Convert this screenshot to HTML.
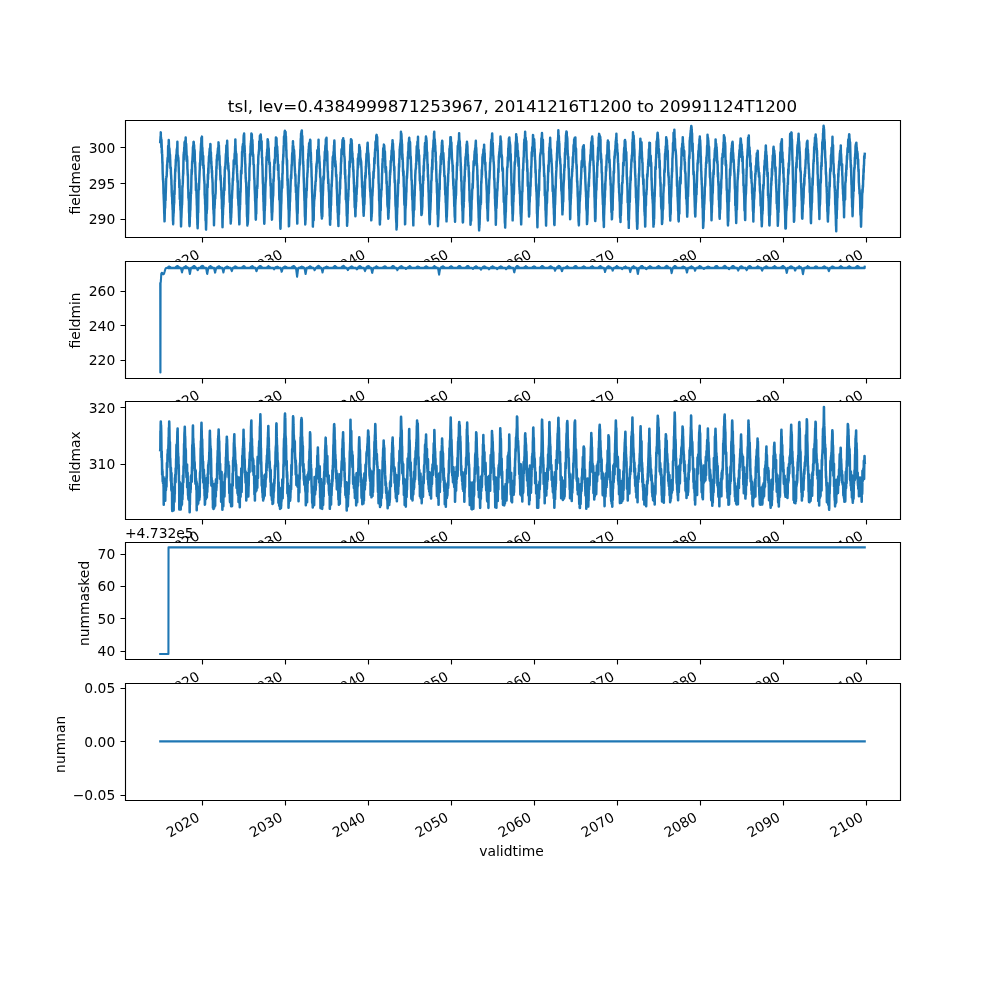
<!DOCTYPE html>
<html><head><meta charset="utf-8"><title>tsl</title><style>html,body{margin:0;padding:0;background:#fff}svg{display:block}</style></head><body>
<svg width="1000" height="1000" viewBox="0 0 1000 1000">
<g transform="scale(1.3888889)" style="stroke-linejoin:round;stroke-linecap:butt">
 <g id="figure_1">
  <g id="patch_1">
   <path d="M 0 720 L 720 720 L 720 0 L 0 0z" style="fill: #ffffff"/>
  </g>
  <g id="axes_1">
   <g id="patch_2">
    <path d="M 90 170.813793 L 648 170.813793 L 648 86.4 L 90 86.4z" style="fill: #ffffff"/>
   </g>
   <g id="matplotlib.axis_1">
    <g id="xtick_1">
     <g id="text_1">
      <g transform="translate(0.000 0.792)"><text style="font-size: 10px; font-family: 'DejaVu Sans', 'Liberation Sans', sans-serif" transform="translate(122.393771 197.119233) rotate(-30)">2020</text></g>
     </g>
    </g>
    <g id="xtick_2">
     <g id="text_2">
      <g transform="translate(0.000 0.792)"><text style="font-size: 10px; font-family: 'DejaVu Sans', 'Liberation Sans', sans-serif" transform="translate(182.123892 197.119233) rotate(-30)">2030</text></g>
     </g>
    </g>
    <g id="xtick_3">
     <g id="text_3">
      <g transform="translate(0.000 0.792)"><text style="font-size: 10px; font-family: 'DejaVu Sans', 'Liberation Sans', sans-serif" transform="translate(241.837662 197.119233) rotate(-30)">2040</text></g>
     </g>
    </g>
    <g id="xtick_4">
     <g id="text_4">
      <g transform="translate(0.000 0.792)"><text style="font-size: 10px; font-family: 'DejaVu Sans', 'Liberation Sans', sans-serif" transform="translate(301.567783 197.119233) rotate(-30)">2050</text></g>
     </g>
    </g>
    <g id="xtick_5">
     <g id="text_5">
      <g transform="translate(0.000 0.792)"><text style="font-size: 10px; font-family: 'DejaVu Sans', 'Liberation Sans', sans-serif" transform="translate(361.281553 197.119233) rotate(-30)">2060</text></g>
     </g>
    </g>
    <g id="xtick_6">
     <g id="text_6">
      <g transform="translate(0.000 0.792)"><text style="font-size: 10px; font-family: 'DejaVu Sans', 'Liberation Sans', sans-serif" transform="translate(421.011674 197.119233) rotate(-30)">2070</text></g>
     </g>
    </g>
    <g id="xtick_7">
     <g id="text_7">
      <g transform="translate(0.000 0.792)"><text style="font-size: 10px; font-family: 'DejaVu Sans', 'Liberation Sans', sans-serif" transform="translate(480.725444 197.119233) rotate(-30)">2080</text></g>
     </g>
    </g>
    <g id="xtick_8">
     <g id="text_8">
      <g transform="translate(0.000 0.792)"><text style="font-size: 10px; font-family: 'DejaVu Sans', 'Liberation Sans', sans-serif" transform="translate(540.455565 197.119233) rotate(-30)">2090</text></g>
     </g>
    </g>
    <g id="xtick_9">
     <g id="text_9">
      <g transform="translate(0.000 0.792)"><text style="font-size: 10px; font-family: 'DejaVu Sans', 'Liberation Sans', sans-serif" transform="translate(600.169335 197.119233) rotate(-30)">2100</text></g>
     </g>
    </g>
    <g id="text_10">
     <g transform="translate(-0.648 0.720)"><text style="font-size: 10px; font-family: 'DejaVu Sans', 'Liberation Sans', sans-serif; text-anchor: middle" x="369" y="210.518733" transform="rotate(-0 369 210.518733)">validtime</text></g>
    </g>
   </g>
   <g id="matplotlib.axis_2">
    <g id="ytick_1">
     <g id="text_11">
      <text style="font-size: 10px; font-family: 'DejaVu Sans', 'Liberation Sans', sans-serif; text-anchor: end" x="83" y="161.551219" transform="rotate(-0 83 161.551219)">290</text>
     </g>
    </g>
    <g id="ytick_2">
     <g id="text_12">
      <text style="font-size: 10px; font-family: 'DejaVu Sans', 'Liberation Sans', sans-serif; text-anchor: end" x="83" y="135.739219" transform="rotate(-0 83 135.739219)">295</text>
     </g>
    </g>
    <g id="ytick_3">
     <g id="text_13">
      <text style="font-size: 10px; font-family: 'DejaVu Sans', 'Liberation Sans', sans-serif; text-anchor: end" x="83" y="109.927219" transform="rotate(-0 83 109.927219)">300</text>
     </g>
    </g>
    <g id="text_14">
     <g transform="translate(0.000 0.864)"><text style="font-size: 10px; font-family: 'DejaVu Sans', 'Liberation Sans', sans-serif; text-anchor: middle" x="57.832812" y="128.606897" transform="rotate(-90 57.832812 128.606897)">fieldmean</text></g>
    </g>
   </g>
   <g id="line2d_13">
    <path d="M115.36 102.24l.09-1.48 .08-.66 .08-1.84 .08 3.2 .08-6.16 .08 6.66 .09-2.89 .08 2.18 .08 .16 .08 4.53 .08-5.38 .09 2.88 .08 1.75 .08 4.87 .08-2.21 .08 2.4 .08 .42 .09 3.36 .08 3.56 .08-1.18 .08 5.88 .08 2.82 .09 1.52 .08 2.87 .08-.97 .08 2.48 .08 .65 .08 3.31 .09 4.49 .08 .5 .08 2.52 .08 1.92 .08 2.02 .09 2.8 .08 4.11 .08 .71 .08 3.28 .08 2.04 .09-2.56 .08-4.1 .08-4.09 .08-2.26 .08 3.37 .08-3.66 .09-3.9 .08-.65 .08 2.79 .08-4.54 .08-1.55 .09-2.31 .08-3.29 .08-3.88 .08-.61 .08-.93 .08 .42 .09-.31 .08-.86 .08-2.64 .08-.47 .08-4.62 .09 1.99 .08-1.79 .08-3.16 .08-.1 .08-2 .08 1.26 .09 .58 .08 1 .08-8.1 .08-3.36 .08 .4 .09 1.06 .08 1.43 .08-1.19 .08-5.91 .08 1.42 .08 3.37 .09 .41 .08 1.81 .08-.99 .08 .31 .08 1.59 .09 1.68 .08 .81 .08 .84 .08-.65 .08 2.89 .08 1.26 .09 3.5 .08 2.24 .08-.51 .08-.39 .08 .32 .09 3.48 .08 1.48 .08 .69 .08 2.21 .08 .45 .08 4.22 .09 .1 .08 4.92 .08 1.09 .08 2.04 .08-1.71 .09 3.5 .08 3.72 .08-1.14 .08 2.47 .08 2.82 .09-.78 .08 4.79 .08 4.11 .08-.99 .08 3.19 .08-5.27 .09-.42 .08-5.03 .08 2.86 .08-2.05 .08-3.05 .09-4.05 .08 1.73 .08 .71 .08-9.46 .08 2.29 .08 .29 .09-4 .08-5.93 .08 1.32 .08-3.05 .08-3.09 .09-3.52 .08 1.63 .08 0 .08-4.1 .08 .15 .08-4.52 .09 1.85 .08-1.89 .08-1.95 .08-1.23 .08 .99 .09-.61 .08-1.32 .08-1.88 .08-1.29 .08 .26 .08-1.2 .09 1.18 .08-1.18 .08-4.48 .08 6.68 .08 5.34 .09-1.37 .08-.91 .08 .37 .08 .97 .08 1.45 .08-1.12 .09 1.86 .08 .53 .08 3.88 .08 1.12 .08 3.16 .09 .68 .08 3.88 .08 .75 .08 5.75 .08-5.8 .08 2.05 .09 5.32 .08 6.59 .08-2.57 .08 1.11 .08 1.13 .09 5.13 .08-.47 .08 3.35 .08 .32 .08-.57 .09 4.68 .08 3.37 .08 4.25 .08-1.85 .08-4.1 .08-.27 .09-2.27 .08-2.14 .08-2.94 .08 .26 .08-3.08 .09 .9 .08-2.84 .08-3.32 .08-7.46 .08 1.05 .08-1.38 .09-.92 .08-1.07 .08-4.76 .08-.13 .08-4.27 .09 2.92 .08-7.34 .08-4.46 .08-2.29 .08-.13 .08-1.54 .09 5.24 .08-4.16 .08-4.47 .08 3.05 .08-3.5 .09-3.33 .08 2.8 .08-.3 .08-3.03 .08 2.43 .08-2.52 .09 1.91 .08-2.25 .08 2.25 .08-1.8 .08-2.91 .09 7.66 .08-3.33 .08 .38 .08-.22 .08 1.82 .08 2.41 .09 1.59 .08 2.45 .08 4.24 .08-1.76 .08-1.97 .09 .54 .08 2.43 .08-.25 .08 6.55 .08 .49 .08 1.82 .09 2.55 .08-.89 .08 2.2 .08 5.44 .08 3.05 .09 .1 .08 6.36 .08-3.25 .08 2.49 .08 2.54 .09-3.26 .08 10.74 .08 1.62 .08-1.02 .08 7.94 .08 .95 .09 1.5 .08-1.42 .08-1.56 .08-5.6 .08 1.7 .09-3.5 .08-1.55 .08 .33 .08-3.37 .08-2.62 .08-2.27 .09-4.37 .08 .58 .08 .36 .08-2.95 .08-2.01 .09-5.8 .08-3.16 .08-3.52 .08 3.47 .08-3.26 .08 1.41 .09-5.38 .08-2.07 .08-.53 .08 .66 .08-2.58 .09-1.41 .08-1.72 .08-1.01 .08-3.9 .08 .62 .08-1.03 .09-.66 .08 .42 .08-2.93 .08-.13 .08 .26 .09 2.28 .08 2.16 .08-2.41 .08 3.28 .08 5.07 .08-5.22 .09 .53 .08 .97 .08 2.59 .08 6 .08-.49 .09-.61 .08 3.79 .08-.24 .08 4.88 .08 1.07 .09 4 .08-1.84 .08 8.79 .08-.54 .08 .86 .08 .18 .09 .04 .08 1.18 .08 3.49 .08 1.22 .08 4.29 .09 .55 .08 4.89 .08 3.91 .08-.76 .08 5.47 .08 .26 .09 2.29 .08-3.11 .08-1.08 .08-6.52 .08-1.75 .09 1.3 .08-5.59 .08-6.44 .08-3.39 .08-3.82 .08-1.84 .09 1.69 .08 2.85 .08-4.18 .08-1.04 .08-2.6 .09-1.87 .08-2.25 .08-1.96 .08-.44 .08-4.84 .08 2.07 .09-.57 .08-3.63 .08 .01 .08-4.21 .08-1.92 .09 .05 .08-1.54 .08-1.81 .08-1.79 .08-.99 .08 2.33 .09-6.07 .08 2.5 .08-.78 .08 2.7 .08 .92 .09-6.34 .08 5.82 .08 1.97 .08 .65 .08-.17 .08 3.56 .09-.83 .08 5.44 .08-.14 .08 4.25 .08-4.06 .09-2.52 .08 5.53 .08 3.13 .08 .29 .08-2.27 .09 2.72 .08 4.34 .08 .84 .08 1.59 .08 1.6 .08 .1 .09 2.14 .08 .03 .08 8.26 .08-.87 .08 3.11 .09-.9 .08 5 .08-2.8 .08 6.54 .08 1.45 .08 6.54 .09-3.89 .08 3.12 .08 3.07 .08 4.31 .08-2.58 .09-2.17 .08-7.12 .08-1.03 .08 .92 .08 .2 .08-4.46 .09 2.13 .08-1.42 .08-5.9 .08-8.51 .08-2.83 .09-.14 .08 2.72 .08-2.18 .08-7.26 .08 .41 .08 2.92 .09-4.56 .08-3.48 .08 3.86 .08-4.17 .08-3.56 .09-.36 .08-1.79 .08-2.46 .08 1.91 .08-.38 .08-1.48 .09-3.25 .08 .99 .08-2.89 .08-.39 .08 .59 .09-.66 .08 2.79 .08-1.5 .08-4.6 .08 .21 .08 6.17 .09-.96 .08 1.97 .08-1.3 .08 4.41 .08-.74 .09 4.65 .08-1.89 .08 3.92 .08 1.31 .08-1.6 .09 4.5 .08-1.8 .08 .7 .08 4.74 .08-.21 .08 1.2 .09 2.17 .08 .53 .08 5.9 .08 2.28 .08 .58 .09 1.43 .08 3.03 .08 5.21 .08 1.14 .08-1.27 .08 3.77 .09 .67 .08 1.43 .08 6.37 .08-4.08 .08-3.14 .09-5.47 .08-1.82 .08 2.22 .08-2.97 .08 .46 .08-4.59 .09-1.93 .08 1.34 .08 1 .08-2.7 .08-.69 .09-.23 .08-2.61 .08-6.2 .08-1.32 .08 .14 .08-3.23 .09-.16 .08-5.44 .08-1.09 .08 1.7 .08-6.35 .09-.48 .08 1.4 .08-4.04 .08 1.78 .08-2.01 .08-.26 .09-.68 .08 .12 .08-2.21 .08 .13 .08-2 .09 1.36 .08 2.46 .08-2.89 .08-1.41 .08-3.75 .08 3.63 .09-1.44 .08-.03 .08 3.57 .08 1 .08 3.04 .09 2.47 .08-2.74 .08 1.37 .08 4.87 .08 .77 .09 .63 .08 2.48 .08-2.34 .08 2.97 .08 3.75 .08 2.81 .09-3.22 .08 1.32 .08 3.03 .08 .76 .08 1.29 .09 4.05 .08 .37 .08-1.67 .08 5.47 .08 1.46 .08 1.18 .09-.03 .08 7.01 .08-3.34 .08 1.47 .08 5.01 .09 6.36 .08 3.71 .08-5.01 .08-1.5 .08-4.75 .08 2.59 .09-5.91 .08-.38 .08 1.12 .08-3.67 .08 1.18 .09-6 .08-.54 .08-.37 .08-3.51 .08 .96 .08-2.7 .09-6.82 .08 8.82 .08-5.42 .08-4.05 .08-5.68 .09 .33 .08-2.07 .08 .76 .08-1.27 .08 1.91 .08-3.96 .09-1.33 .08-1.53 .08-2.4 .08-1.58 .08 1.6 .09-.82 .08-3.94 .08-2.92 .08 .79 .08 2.46 .08-2.23 .09 2.73 .08-3.69 .08 1.32 .08-4.78 .08 3.25 .09 2.37 .08 3.3 .08 4.48 .08-1.36 .08 3.5 .09 .33 .08 1.77 .08-1.6 .08 4.54 .08-2.79 .08 3.6 .09-.83 .08 1.85 .08-.24 .08 3.23 .08 4.22 .09 1.78 .08-.88 .08 7.21 .08 1.28 .08 3.28 .08 2.01 .09-1.07 .08-1.7 .08 3.14 .08 7.17 .08-1.12 .09 5.18 .08 .08 .08 3.71 .08-4.77 .08 3.3 .08-2.74 .09-.08 .08-2.73 .08-.76 .08-3.38 .08-.44 .09-6.21 .08-2.26 .08 2.06 .08-2.1 .08-2.21 .08-1.71 .09-.15 .08-3.49 .08 .23 .08-4.05 .08-1.22 .09 1.66 .08-.21 .08-5.72 .08 1.43 .08-4.5 .08 1.54 .09-6.06 .08-1.08 .08 .2 .08 .07 .08 2.79 .09-.9 .08 .53 .08-1.25 .08-4.25 .08-1.92 .09 1.76 .08-2.16 .08-1.6 .08-3.52 .08 1.12 .08-5.84 .09 3.87 .08 .68 .08 4.43 .08-.5 .08 .8 .09 4.6 .08-2.97 .08 2.76 .08-3.09 .08 4.16 .08 2.96 .09 2.89 .08-1.9 .08 3.03 .08 2.05 .08 1.01 .09 1.82 .08 2.43 .08 1.83 .08-1.23 .08 .39 .08 9.46 .09 3.12 .08-4.89 .08 3.72 .08 2.96 .08 2.6 .09 .9 .08-.65 .08 2.8 .08 1.65 .08 3.31 .08 1.63 .09 2.25 .08 2.31 .08-.84 .08-6.97 .08-2.16 .09-2.85 .08 2.03 .08-3.53 .08 .73 .08-5.33 .08-2.03 .09-5.02 .08 2.8 .08-4.02 .08-5.07 .08-.99 .09-5.31 .08 1.99 .08-.23 .08-.85 .08 1.22 .08-4.63 .09-.19 .08-2.18 .08-2.84 .08-6.02 .08 3.67 .09-2.86 .08-.68 .08-3.86 .08 1.32 .08-.71 .09-1.11 .08-1.41 .08 1.48 .08-.29 .08-1.17 .08 4.76 .09-7.46 .08-2.41 .08-1.25 .08 3.41 .08-.64 .09-3.86 .08 2.76 .08 4.56 .08 4.45 .08-3.17 .08 2.01 .09 2.76 .08 .73 .08 4.14 .08 1.42 .08 2.41 .09-.19 .08 6.2 .08 .07 .08 4.26 .08-.91 .08 3.42 .09-.11 .08 .92 .08 2.43 .08 3.84 .08 2.53 .09 6.32 .08-2.1 .08 1.13 .08 8.16 .08 2.04 .08-3.03 .09 5.93 .08 3.13 .08-2.42 .08 1.77 .08-1.1 .09-.46 .08-1.39 .08-4.05 .08-1 .08-4.58 .08-4.74 .09-3.39 .08 .48 .08-6.91 .08 1.89 .08-4.83 .09-1.49 .08-.1 .08 .06 .08-8.29 .08-1.65 .08-.03 .09-2.72 .08 1.01 .08-7.31 .08 1.75 .08-.42 .09-2.04 .08 .59 .08-5.88 .08 2.23 .08-4.1 .09 .93 .08-2.76 .08 .85 .08-.47 .08-5.67 .08 .43 .09 .01 .08 .55 .08-.44 .08 6.09 .08-.97 .09 3.25 .08-2.88 .08-1.31 .08 2.93 .08 .24 .08 7.36 .09-1.38 .08 2.43 .08-1.25 .08 .34 .08 1.77 .09 2.47 .08 2.98 .08-.03 .08-.09 .08 .29 .08 3.46 .09 3.77 .08 2.24 .08 .97 .08 .34 .08 3.05 .09 3.26 .08 1.09 .08 2.04 .08 1.48 .08 4.19 .08-.17 .09 2.71 .08 2.75 .08 3.05 .08 4.1 .08 .99 .09-1.02 .08-6.74 .08 .94 .08 2.63 .08-7.3 .08-4.16 .09-.96 .08 1.05 .08-2.05 .08-4.17 .08-1.69 .09 .5 .08-1.88 .08 1.98 .08-3.67 .08-3.82 .08-1.87 .09-3.86 .08-3.76 .08 .16 .08-.31 .08-5.26 .09-.84 .08-.92 .08 .13 .08-2.03 .08-.01 .09-1.61 .08 .75 .08-6.58 .08 4.43 .08 .22 .08-3.58 .09-.51 .08-.86 .08-3.78 .08 .19 .08 .92 .09-1.17 .08 .82 .08-.93 .08 .3 .08-1.09 .08 1.22 .09 .96 .08 5.85 .08-.4 .08-1.92 .08 3.37 .09 .84 .08-4.9 .08 7.19 .08-.91 .08 5.54 .08-.29 .09 .1 .08 5.61 .08-1.13 .08 3.3 .08 3.93 .09 3.64 .08 2.98 .08 .8 .08 .07 .08 7.59 .08-1.42 .09 6.4 .08-1.19 .08 4.77 .08 3.03 .08-1.95 .09 4.08 .08 3.9 .08 2.85 .08 .41 .08-2.13 .08-3.97 .09-4.73 .08 1.41 .08-4.61 .08 1.02 .08-3.03 .09-5.91 .08-1.97 .08-2.52 .08-3.66 .08 .26 .08-3.54 .09 2 .08-2.43 .08-5.95 .08-1.4 .08-2.17 .09-4.84 .08 2.69 .08-.17 .08-1.16 .08-4.38 .09 .96 .08-3.34 .08 .59 .08 1.36 .08-3.87 .08-5.3 .09 .1 .08 2.28 .08 2.75 .08-3.71 .08 1.4 .09 1.99 .08 1.75 .08 2.3 .08-2.57 .08 1.07 .08 4.28 .09 .92 .08 1.31 .08 2.83 .08-.34 .08 1.81 .09-.22 .08-1.25 .08 .78 .08 4.37 .08 1.99 .08 .84 .09 3.61 .08-.22 .08 3.36 .08 2.1 .08 .2 .09-1.8 .08 8.92 .08 1.81 .08-4.55 .08 4.75 .08 4.73 .09 1.6 .08 3.68 .08-.77 .08 3.65 .08 2.11 .09-2.17 .08-2.12 .08-1.08 .08-.06 .08-4.49 .08-2.49 .09-.86 .08-2.16 .08-.85 .08-.79 .08-.24 .09-4.35 .08-7.33 .08 1.23 .08 .17 .08-2.24 .09-1.78 .08-6.64 .08 3.16 .08-1.8 .08-4.19 .08-.97 .09-1.26 .08 1.88 .08-.38 .08 1.09 .08-2.36 .09-5.93 .08-2.85 .08 3.86 .08 1.53 .08-4.1 .08-.24 .09-5.18 .08-3.22 .08 .09 .08 1.32 .08-.37 .09 .1 .08-.55 .08 3.2 .08 3.27 .08-1.32 .08 4.58 .09-3.57 .08-.17 .08 2.76 .08 .15 .08 4.3 .09-1.59 .08 4.76 .08 .15 .08 6.3 .08-3.4 .08 .6 .09 2.16 .08-3.12 .08 6.3 .08 3.12 .08 1.55 .09-1.73 .08 .82 .08 6.34 .08 4.81 .08 3.97 .08-2.64 .09 .34 .08 3.28 .08-1.1 .08 4.21 .08 6.08 .09 5.28 .08 .35 .08 4.66 .08 .43 .08-2.89 .08-3.5 .09-1.94 .08-3.16 .08-2.35 .08-3.46 .08-.66 .09-2.27 .08-5.52 .08-.61 .08-3.01 .08-5.05 .09 2.42 .08 1.73 .08 .96 .08-2.81 .08-7.57 .08 .65 .09-1.18 .08-8.41 .08 2.21 .08-.96 .08-2.48 .09-1.66 .08-2.13 .08 1.68 .08-4.88 .08-2.14 .08-1.18 .09-.7 .08-5.52 .08 4.25 .08-1.9 .08-.6 .09-1.69 .08-2.02 .08-1.63 .08-.11 .08-.41 .08 1.85 .09-.17 .08-.47 .08 5.16 .08-4.67 .08-.88 .09 4.26 .08 1.07 .08-2.1 .08 3.5 .08 1.34 .08 5.56 .09-.84 .08 4.57 .08 1.46 .08 .31 .08 1.92 .09 2.89 .08-3.61 .08 6 .08 1.91 .08 6.89 .08-1.62 .09 5.03 .08-4.71 .08 7.32 .08 2.89 .08 1.47 .09 2.45 .08 2.2 .08 3.92 .08 1.81 .08-1.28 .08 4.81 .09 8.61 .08-.19 .08-1.38 .08-3.79 .08-1.3 .09-1.8 .08-2.93 .08 .13 .08-5.21 .08-1.33 .09-.37 .08-3.12 .08-4.4 .08 1.16 .08-4.22 .08-1.46 .09-2.51 .08-.44 .08-1.99 .08-1.87 .08 .81 .09 1.56 .08-5.13 .08-.77 .08-3.13 .08-.96 .08 1.04 .09-2.86 .08-3.64 .08-1.79 .08-1.08 .08 .27 .09 1.33 .08-5.01 .08-1.52 .08-.78 .08-2.55 .08 5.42 .09-1.24 .08 4.55 .08-5.27 .08 4.72 .08-2.23 .09 .51 .08-.45 .08 .62 .08 .11 .08 4.16 .08-1.17 .09 2.79 .08 2.3 .08 3.14 .08 .73 .08 1.7 .09 1.99 .08 .52 .08 2.07 .08-1.16 .08 1.18 .08 7.36 .09-.57 .08-.53 .08 5.59 .08-.28 .08 .08 .09-.46 .08 5.97 .08-.81 .08 2.21 .08 4.62 .08 1.82 .09 1.33 .08 1.47 .08 4.77 .08 1.67 .08-7.09 .09-1.31 .08 1.12 .08-2.88 .08-6.19 .08-2.87 .09-2.68 .08-2.94 .08-1.68 .08 .05 .08-3.14 .08 .86 .09-2.63 .08-3.26 .08 .5 .08-2.28 .08-2.05 .09-.14 .08-2.19 .08-3.31 .08 .12 .08-2.37 .08 3.9 .09-3.65 .08-2.03 .08-1.28 .08-3.93 .08 .55 .09-3.43 .08-3.76 .08-1.38 .08 1.24 .08-4.8 .08 1.66 .09-2.07 .08 1.94 .08-3.05 .08 4.25 .08-1.15 .09-3.74 .08 6.13 .08-1.49 .08-.68 .08 .1 .08 4.55 .09 4.65 .08-1.83 .08-.28 .08 .91 .08 7.41 .09 4.26 .08-1.51 .08 2.97 .08 1.4 .08 1.98 .08 4.58 .09 2.11 .08 2.23 .08 1.2 .08 4.66 .08 1.03 .09 2.97 .08 3.28 .08-.06 .08 3.92 .08 3.24 .08 3.97 .09 .66 .08 1.41 .08 3.89 .08-1.02 .08-2.21 .09 .04 .08-4.33 .08-3.81 .08-1.27 .08-6.82 .09-1.79 .08 2.23 .08-2.06 .08-4.74 .08 1.47 .08 .05 .09-1.86 .08-3.27 .08-3.96 .08-.35 .08-.49 .09-2.94 .08 .1 .08-1.61 .08-1.47 .08-6.61 .08 3.68 .09 1.71 .08-4.96 .08-4.83 .08 2.2 .08-2.48 .09-2.67 .08 3.15 .08-5.34 .08 2.15 .08-4.22 .08 3.91 .09-1.34 .08-2.68 .08-.5 .08 .3 .08 .19 .09-.35 .08-.78 .08-1.38 .08 2.84 .08-2.47 .08 5.22 .09 2.5 .08 3.11 .08-2.07 .08 2.32 .08 3.6 .09 1.47 .08 .38 .08 3.32 .08 2.23 .08 4.47 .08-.3 .09 3.83 .08 3.04 .08 3.92 .08 1.44 .08 2.9 .09 2.54 .08 3.12 .08 3.03 .08 2.35 .08 9.75 .09-2.7 .08-1.32 .08-1.6 .08-1.38 .08 .08 .08 2.08 .09 .22 .08-4.12 .08-8.34 .08 2.52 .08-3.88 .09-.51 .08-2.57 .08 1.6 .08-2.74 .08 1.18 .08-1.2 .09-2.91 .08-1.18 .08 .52 .08-3.55 .08 .76 .09-2.67 .08-1.1 .08-.05 .08 .32 .08-2.47 .08-2.61 .09-.19 .08-5.75 .08 4.31 .08-5.75 .08 2.27 .09-3.13 .08 .66 .08-1.78 .08-.28 .08-3.08 .08-4.55 .09 3.55 .08-1.54 .08-1.11 .08-1 .08 5.12 .09-4.33 .08 .15 .08-3.57 .08 4.31 .08-3.44 .08-5.78 .09 10.53 .08-4.26 .08 4.48 .08 .91 .08 .87 .09-.84 .08 1.49 .08 3.65 .08-1.17 .08 1.82 .08 3.13 .09 .29 .08 .13 .08 5.32 .08 .56 .08 .44 .09 .02 .08 .85 .08 5.78 .08 3.43 .08-4.24 .09 3.43 .08 6.05 .08 6.67 .08 3.11 .08-.09 .08 2.44 .09-1.81 .08 3.78 .08-1.86 .08-1.99 .08-.19 .09 2.51 .08-3.71 .08-3.69 .08-3.61 .08-5.12 .08 1.12 .09-3.08 .08-1.09 .08-4.16 .08-.47 .08-5.06 .09 1.52 .08 1.06 .08-1.74 .08 .88 .08-4.74 .08-2.27 .09-1.79 .08-4.65 .08 4.1 .08-2.13 .08-4.29 .09-3.72 .08 1.2 .08 .23 .08-2.23 .08-1.31 .08-1.88 .09-.81 .08 2.11 .08 .35 .08-6.66 .08 1.89 .09-1.69 .08-.32 .08 4.66 .08-.95 .08-4.71 .08 7.43 .09 4.57 .08 3.94 .08-3.2 .08 3.81 .08-6.72 .09 2.14 .08 5.08 .08 2.56 .08 3.72 .08 1.5 .08-.68 .09 4.41 .08 .76 .08 3.68 .08-3.08 .08 2.62 .09 .52 .08 4.14 .08 .42 .08 1.38 .08-.55 .09 4.72 .08 4.68 .08 2.68 .08-6.5 .08 2.29 .08 10.05 .09-.05 .08 1.47 .08 4.77 .08 .16 .08-4.34 .09-1.94 .08 2.54 .08-7.71 .08 1.9 .08-4.28 .08-2.69 .09 2.4 .08-6 .08-.09 .08-3.93 .08-4.91 .09-.11 .08 1.65 .08-3.6 .08-.75 .08-2.17 .08-2.12 .09-2.78 .08-.75 .08-5.96 .08 .53 .08-3.69 .09 2.43 .08 .15 .08-3.25 .08 1.66 .08-1.04 .08-1.22 .09-2.45 .08 .44 .08 .89 .08-3.92 .08-2.07 .09 4.31 .08-5.71 .08-2.04 .08 1.61 .08 5.45 .08 2.33 .09 2.16 .08 .47 .08 4.05 .08 2.17 .08 .58 .09-4.05 .08 2.82 .08-.87 .08 1.41 .08 .27 .08 3.3 .09 3.25 .08 1.08 .08-1.37 .08-.11 .08 2.73 .09 1.99 .08 5.2 .08 .47 .08 1.62 .08 1.8 .09 4.55 .08 3.9 .08-.1 .08-.25 .08 4.78 .08 .76 .09-.35 .08 4.3 .08 .97 .08-1.96 .08 5.14 .09 1.47 .08-6.68 .08-4.24 .08 2.2 .08 .53 .08-1.37 .09-6.11 .08-1.17 .08 .48 .08-5.98 .08 .24 .09-.95 .08-.05 .08-8.65 .08 1.56 .08 3.37 .08-5.84 .09-2.45 .08 .81 .08-4.61 .08 1.57 .08-1.91 .09-6.28 .08 .57 .08-4.2 .08 2.92 .08-5.69 .08-3.05 .09-.39 .08-.21 .08 3.77 .08-2.4 .08-.83 .09 .78 .08-4.24 .08-1.73 .08-1.71 .08 2.48 .08 2.19 .09-2.71 .08-2.57 .08 .08 .08-.72 .08 4.37 .09-1.84 .08 1.83 .08-.68 .08-1.06 .08-.95 .08 4.12 .09 4.64 .08 1.28 .08 1.58 .08-.34 .08 1.22 .09 1.16 .08 4.27 .08 6.53 .08-1.45 .08-1.97 .09 6.32 .08-1.62 .08 4.12 .08 .48 .08 2.61 .08 9.51 .09-4.62 .08 .21 .08 3.56 .08 1.71 .08 1.15 .09 1.2 .08 4.63 .08 4.04 .08-1.63 .08 .52 .08 8.1 .09-2.95 .08 .91 .08-1.91 .08-5.52 .08 .71 .09-5.33 .08-3.23 .08-3.21 .08 2.32 .08-3.48 .08 .76 .09-5.29 .08-.03 .08 .35 .08-4.47 .08-5.05 .09-1.24 .08 1.83 .08-1.74 .08-4.2 .08-5.49 .08 2.45 .09 1.74 .08-.42 .08-3.77 .08-3.54 .08-3.37 .09-1.5 .08-3.65 .08 6.29 .08-3.36 .08 3.48 .08-4.84 .09-5.53 .08 5.23 .08-4.69 .08-.36 .08 5.1 .09 1.79 .08-6.45 .08 2.89 .08-.79 .08 3.97 .09 4.81 .08-2.74 .08 4.28 .08-3.03 .08 6.63 .08-3.44 .09 .6 .08 2.83 .08-1.76 .08 6.9 .08-2.36 .09 4 .08-1.7 .08 3.65 .08 2.12 .08 1.09 .08 3.51 .09-1.1 .08 6.67 .08 .61 .08-5.01 .08 10.12 .09 1.3 .08 4.17 .08-1.04 .08-3.52 .08 4.22 .08 1.01 .09 4.31 .08 1.6 .08-.48 .08-5.73 .08 .8 .09-2.12 .08 .43 .08-6.18 .08-.51 .08 3.16 .08-6.36 .09 .89 .08 .42 .08-3.94 .08-.26 .08-1.08 .09-.29 .08-5.38 .08-2.25 .08 .25 .08-4.27 .08-.63 .09-2.75 .08-5.34 .08 3.19 .08 3.22 .08-4.23 .09-1.15 .08-2.26 .08-2.04 .08 .61 .08 1.65 .08 2.48 .09-2.72 .08-5.27 .08-3.19 .08 4.51 .08-.34 .09-1.63 .08-1.1 .08 .63 .08 5.13 .08-.53 .09-2.64 .08 4.65 .08 .91 .08-.38 .08 2.5 .08-1.62 .09 4.09 .08-3.11 .08 .88 .08 .06 .08 2.93 .09 1.08 .08 2.08 .08 2.39 .08 2.9 .08 1 .08 1.52 .09 4.42 .08-1.63 .08-2.13 .08 5.58 .08 4.8 .09-.96 .08 2.16 .08-1.47 .08 2.42 .08 2.87 .08 1.47 .09-.42 .08 5.69 .08-.2 .08 2.37 .08-2.63 .09-1.06 .08-1.44 .08-4.19 .08-.29 .08 1.61 .08-1.01 .09-4.18 .08-.52 .08-7.84 .08 2.36 .08-3.36 .09-6.24 .08 1.14 .08 1.12 .08-4.28 .08 3.36 .08-1.12 .09-7.01 .08 1.78 .08-2.22 .08-3 .08-1.26 .09-1.45 .08-2.88 .08 .04 .08 1.86 .08 1.61 .08 .03 .09-4.95 .08-1.13 .08-2.44 .08 2.9 .08-5.26 .09-.59 .08 1.95 .08 3.09 .08 .33 .08 1.48 .09 1.16 .08 1.46 .08-1.55 .08 1.76 .08 3.38 .08 1.31 .09 3.08 .08-2.08 .08 3.86 .08 3.48 .08-1.34 .09 1.49 .08 1.48 .08 2.27 .08 1.56 .08 4.03 .08 .43 .09 2.11 .08 .76 .08-1.5 .08 3.98 .08 1.14 .09 .78 .08 .99 .08 3.43 .08 1.27 .08 7.51 .08 2.84 .09-1.8 .08-.61 .08-.37 .08-4.12 .08 1.95 .09-2.46 .08-4.13 .08-6.14 .08-1.28 .08 1.31 .08-2.27 .09-.89 .08-3.01 .08 .24 .08-2.48 .08-4.21 .09 .26 .08-1.4 .08-3.56 .08 4.36 .08-2.76 .08-2.38 .09 .66 .08-2.48 .08 .16 .08-5.69 .08-1.74 .09 2.06 .08 1.96 .08-3.31 .08-1.43 .08-3.47 .08-.11 .09-2.2 .08-.19 .08 1.23 .08-6.13 .08 2.21 .09-2.05 .08-.87 .08 3.09 .08-1.3 .08 .5 .09-6.16 .08 .51 .08-.31 .08-.76 .08 1.66 .08 2.3 .09-2.75 .08 .24 .08 .35 .08 6.33 .08-.47 .09 1.88 .08 1.33 .08 .35 .08 4.38 .08 2.89 .08 3.66 .09 .21 .08 1.52 .08 1.53 .08 6.75 .08 2.94 .09 .5 .08 3.52 .08 .36 .08 7.8 .08-1.24 .08 2.03 .09 2.69 .08 7.42 .08 1.09 .08 4.43 .08 .9 .09-4.39 .08 1.25 .08-4.02 .08-4.2 .08-.77 .08 .67 .09 1.36 .08-7.75 .08-5.63 .08 3.67 .08-1.44 .09-3.61 .08-.28 .08-.62 .08 1.19 .08-5.22 .08 .22 .09-4.8 .08-2.78 .08 .08 .08-4.33 .08-2.81 .09 3.07 .08-6.26 .08 1.59 .08-1.25 .08-1.31 .08-3.27 .09-3.32 .08 1.24 .08-1.32 .08 .6 .08 .77 .09-2.05 .08-1.86 .08 1.94 .08-.98 .08-.27 .09 1.82 .08 2.39 .08 5.3 .08 1.26 .08-5.24 .08-1.21 .09 3.31 .08 2.89 .08 .2 .08 5.88 .08 .58 .09 2.05 .08-2.93 .08-1.11 .08 .19 .08 3.11 .08-.48 .09 2.22 .08 2.21 .08 4.79 .08-.43 .08-1.08 .09 2.86 .08 3.47 .08 3.11 .08-1.04 .08 4.26 .08 4.22 .09 .64 .08 .88 .08 .01 .08 .88 .08-1.57 .09 6.48 .08 1.27 .08 1.44 .08-.89 .08-4.41 .08 1.17 .09-2.89 .08 .78 .08-3.92 .08-2.24 .08-3.29 .09 1.49 .08-8.54 .08-.61 .08-.89 .08-4.15 .08-.91 .09-4.44 .08 2.59 .08-3.71 .08 1.59 .08-1.88 .09-2.87 .08-3.48 .08-.19 .08 1.19 .08-1.43 .09 .41 .08-3.84 .08 3.18 .08-3.71 .08-3.25 .08 2.96 .09 .45 .08-3.6 .08-2.6 .08 1.67 .08-3.86 .09 2.28 .08-4.71 .08 1.95 .08 1.49 .08 3.71 .08-4.75 .09 3.64 .08 1.17 .08 1.46 .08-.61 .08-.23 .09 2.69 .08 2.35 .08 5.54 .08-.08 .08 .82 .08 2.95 .09-2.88 .08 5.35 .08 3.44 .08 2.41 .08-.59 .09-.81 .08 1.65 .08 4.64 .08 3.59 .08 4.26 .08 3.41 .09 1.2 .08 .09 .08 2.06 .08 1.12 .08 4.74 .09 2.12 .08 1.44 .08-1.16 .08 6.21 .08-3.77 .08 2.28 .09-1.32 .08-7.58 .08-.67 .08-4.34 .08-.55 .09-.15 .08-3.04 .08-5.15 .08 .39 .08-1.31 .08-2.47 .09-4.43 .08-1.31 .08-.44 .08-2.39 .08 2.86 .09-4.37 .08-3.69 .08-.93 .08-4.94 .08 .55 .09 1.68 .08-5.98 .08-.43 .08-.13 .08-6.37 .08 4.23 .09-5.34 .08-1.07 .08 .4 .08-1.97 .08 .88 .09-1.82 .08-.33 .08-1.79 .08 1.9 .08-7.5 .08 2.25 .09-.19 .08-.8 .08 .67 .08 1.39 .08 3.68 .09-1.25 .08 1.98 .08 2.46 .08-1.42 .08 5.41 .08 5.63 .09-3.87 .08 3.27 .08-.49 .08 2.82 .08 .56 .09 6.63 .08-2.08 .08 3.05 .08 1.93 .08-1.7 .08-1.51 .09 6.89 .08 4.29 .08-.13 .08 1.23 .08 5.43 .09 3.04 .08 2.77 .08 .96 .08-.41 .08 .5 .08 .06 .09 5.82 .08 7.82 .08-.22 .08-3.84 .08-5.86 .09-1.53 .08-.48 .08-2.09 .08 .35 .08-3.63 .08-.73 .09-3.39 .08-2.64 .08 .94 .08-5.39 .08-2.06 .09-4.16 .08 .41 .08 1.04 .08-1.7 .08-1.6 .09-.96 .08-2.35 .08-1.54 .08-2.31 .08-4.76 .08 .75 .09 .26 .08-4.8 .08 .04 .08 1.07 .08-3.57 .09-3.95 .08 1.05 .08 3.06 .08-5.03 .08-.43 .08-2.04 .09-.26 .08 1.86 .08 3.96 .08-2.88 .08-.29 .09 .23 .08 .33 .08-.08 .08 2.29 .08 3.26 .08 2.3 .09 4.19 .08-1.97 .08 .48 .08 1.29 .08 3.63 .09 1.57 .08 3.76 .08-.95 .08 4.66 .08 2.89 .08-.35 .09 .45 .08 3.27 .08 .37 .08 7.61 .08-.08 .09 2.85 .08-2.06 .08-.25 .08 6.75 .08 3.37 .08-.15 .09 1.91 .08 1.93 .08 4.15 .08 2.76 .08-6.75 .09 .81 .08-4.06 .08-1.96 .08-1.2 .08-4.36 .08 6.39 .09-.13 .08-5.01 .08-3.15 .08-6.02 .08 4.21 .09-4.99 .08-3.17 .08 .66 .08-3.01 .08-4.39 .09-1.34 .08-1.87 .08-.71 .08-.19 .08-1.1 .08 .36 .09-3.65 .08 .01 .08 .78 .08-6.95 .08 1.16 .09-4.25 .08-3.05 .08 5.07 .08 .08 .08-1.89 .08-3.35 .09 2.71 .08-5.82 .08 .78 .08 1.78 .08 2.85 .09-4.7 .08-4.38 .08 6.06 .08 3.04 .08 1.33 .08-1.18 .09 2.14 .08-1.81 .08 4.45 .08 3.32 .08-1.6 .09-2.43 .08 4.2 .08 2.17 .08 1.95 .08 4.66 .08 .02 .09 5.3 .08-.89 .08-2.39 .08 5.17 .08 .19 .09 .35 .08 2.98 .08 1.82 .08-1.83 .08 2.17 .08 6.32 .09 1.21 .08 2.67 .08 2.99 .08 3.95 .08-2.72 .09 .25 .08 .89 .08 1.17 .08-2.73 .08-.39 .08-1.77 .09-.52 .08-5.46 .08-2.05 .08 .13 .08-.6 .09-8.14 .08-.3 .08-.66 .08-5.43 .08 2.36 .09 1.17 .08-7.71 .08-2.91 .08 3.35 .08 .37 .08-6.23 .09-2.5 .08 1.73 .08-2.39 .08-2.35 .08 2.92 .09-2.74 .08-6.36 .08 1.63 .08-3.83 .08 2.71 .08 .75 .09-1.55 .08-.02 .08 1.72 .08-2.61 .08-3.7 .09-2 .08 2.87 .08-1.17 .08-.57 .08 2.68 .08-1.2 .09 1.5 .08 5.31 .08 .56 .08 1.55 .08 2.15 .09-2.41 .08 5 .08 2.4 .08 1.91 .08 2.73 .08-3.27 .09 9.13 .08-.46 .08-1.22 .08 4.39 .08-.1 .09 4.36 .08 3.98 .08-1.21 .08 5.87 .08 1.95 .08 2.71 .09 2.62 .08 2.71 .08 3.84 .08 2.33 .08 1.59 .09-.56 .08 1.25 .08-3.67 .08-4.66 .08 .02 .08-3.39 .09 1.86 .08-3.42 .08-2.42 .08-.66 .08-4.26 .09-2.48 .08 .87 .08-6.65 .08-2.44 .08-.55 .09 .5 .08-2.29 .08-5.1 .08-2.4 .08 3.69 .08-2.97 .09-4.17 .08-2.2 .08 7.39 .08-3.84 .08-8.78 .09-1.31 .08 1.2 .08-2.68 .08 1.33 .08 .97 .08-4.3 .09-1.54 .08-2.23 .08 .89 .08 1.01 .08-1.48 .09-5.43 .08 1.71 .08-2.8 .08 4.97 .08-.4 .08 1.84 .09-.98 .08 .48 .08 2.06 .08 .61 .08 4.71 .09-3.32 .08 4 .08-.3 .08 4.28 .08-3.12 .08 7 .09 .19 .08-.54 .08 5.52 .08 1.32 .08 2.99 .09 4.63 .08-1.93 .08 1.76 .08 4.03 .08 4.08 .08 .28 .09 1.64 .08 5.7 .08 4.12 .08 4.04 .08-.56 .09-3.37 .08 7.47 .08 4.8 .08-4.22 .08-.14 .09-1.09 .08-1.66 .08-3.73 .08-1.47 .08-.76 .08-6.84 .09 2.23 .08-3.42 .08-.02 .08-4.53 .08-5 .09 3.37 .08 .86 .08-8.58 .08-2.8 .08 .93 .08-3.33 .09 1.73 .08-3.9 .08-1.72 .08 .01 .08-6.18 .09 1.08 .08 4.56 .08-2.47 .08-5.09 .08 2.01 .08 2.15 .09-1.7 .08-5.26 .08-2.5 .08-.76 .08-2.25 .09 1.14 .08-2.21 .08 .37 .08 3.2 .08-.37 .08 1.22 .09 6.11 .08-1.24 .08 2.04 .08-.27 .08 1 .09-3.16 .08 1.5 .08 1.95 .08 1.11 .08 1.79 .08 2.32 .09 .89 .08 3.27 .08 .05 .08 3.97 .08-.01 .09-.18 .08-.36 .08 2.07 .08 2.97 .08 5.35 .08-2.43 .09 5.47 .08 .57 .08-.17 .08 .15 .08 5.41 .09-2.28 .08 3.7 .08 2.57 .08 2.77 .08 3.86 .09-.01 .08 2.92 .08-2.61 .08-.45 .08-.53 .08-3.85 .09-1.26 .08-2.55 .08-3.37 .08-2.01 .08-2.47 .09-6.18 .08-2.47 .08 1.96 .08-6.27 .08 3.62 .08-5.75 .09-.09 .08-.35 .08-3.79 .08 1.46 .08-6.22 .09 1.78 .08-2.17 .08-2.41 .08 .73 .08-1.76 .08-5.29 .09 3.09 .08-.69 .08-2.96 .08-1.6 .08 1.39 .09 .53 .08-2.67 .08-5.27 .08 .75 .08 2.58 .08-2.28 .09-1.06 .08 2.84 .08 1.74 .08 1.77 .08 3.1 .09-5.74 .08 3.81 .08 1.34 .08 1.71 .08 1.72 .08 3.29 .09 .95 .08-.08 .08 1.21 .08 1.4 .08 .95 .09 4.51 .08-4.5 .08 .71 .08 7.87 .08 1.5 .08 1.76 .09 2.91 .08-4.78 .08 7.17 .08-2.09 .08 .95 .09 5.97 .08-1.54 .08 4.44 .08 4.71 .08-1.67 .09 .88 .08 4.35 .08 3.24 .08 1.18 .08-2.48 .08 5.67 .09-2.66 .08-8.91 .08-1.3 .08-2.31 .08-1.66 .09 .2 .08-3.54 .08 1.58 .08-1.18 .08-4.08 .08-5.22 .09-.82 .08-.74 .08 .07 .08-4.83 .08-1.68 .09-4.14 .08-1.41 .08 1.92 .08 .43 .08-5.18 .08-2.59 .09-2.95 .08-3.62 .08 2.02 .08 .01 .08-.56 .09-2.23 .08-.39 .08-1.62 .08 1.16 .08-2.12 .08 1.09 .09-.97 .08-2.33 .08-3.24 .08 3.37 .08 1.34 .09 4.63 .08-.27 .08-3.37 .08 .5 .08 4.9 .08 .06 .09-1.17 .08 4.37 .08 2.55 .08 .66 .08 3.55 .09 .3 .08 5.67 .08-3.27 .08 4.64 .08 3.11 .08 3.04 .09-.57 .08 .66 .08 6.43 .08 1.05 .08-.56 .09 4.49 .08 4.73 .08 1.16 .08-1.02 .08 5.03 .09-2.18 .08 5.98 .08 4.08 .08 .39 .08-.24 .08-2.29 .09-3.69 .08-3.35 .08-1.26 .08-2.58 .08 2.41 .09-6.84 .08 3.25 .08-4.72 .08-4.05 .08-2.15 .08-3.08 .09-4.44 .08 3.51 .08-2.17 .08-3.38 .08-3.28 .09-.58 .08-2.77 .08 3.6 .08-6.79 .08-1.17 .08-1.15 .09 1.68 .08-.78 .08-1.93 .08-1.47 .08 .03 .09-3.28 .08 1.07 .08-4.19 .08 2.13 .08-2.09 .08 2.42 .09-4.4 .08 1.1 .08 .15 .08 4.54 .08-2.93 .09 4.79 .08 1.47 .08 1.56 .08-1.31 .08 3.06 .08 4.8 .09-2.69 .08 2.27 .08 .76 .08-.39 .08 1.7 .09 4.76 .08 1.63 .08-3.37 .08 6.76 .08 1.78 .08 4.71 .09-.4 .08 7.78 .08-3.03 .08 4.26 .08-1.07 .09 3.96 .08-.05 .08 6.79 .08 1.03 .08 5.23 .09-.46 .08-5.79 .08-1.3 .08-.54 .08 2.61 .08 2.71 .09-6.38 .08-2.23 .08 .23 .08-6.2 .08-1.29 .09 .68 .08-1.49 .08-2.47 .08-3.77 .08 .12 .08 .39 .09-3.96 .08-.54 .08 3.29 .08-3.36 .08-1.76 .09-5.02 .08-1.46 .08-.83 .08-2.24 .08-2.35 .08-2.35 .09 1.42 .08 1.99 .08-.54 .08-.75 .08-.42 .09-4.65 .08-1.79 .08-.22 .08-2.08 .08 1.24 .08-2.12 .09 2.67 .08-3.95 .08 1.38 .08 2.46 .08-5.9 .09-.88 .08-1.12 .08-1.34 .08 3.44 .08 2.42 .08-1.1 .09 1 .08 2.92 .08 2.14 .08-1.32 .08 8.16 .09-1.61 .08 1.46 .08 .27 .08 2.31 .08 .82 .09 7.32 .08-3.58 .08 4.07 .08 4.86 .08-1.6 .08 5.72 .09 5.54 .08 1.44 .08 1.69 .08 2.36 .08 2.15 .09 4.52 .08 .28 .08 4.64 .08 2.03 .08 2.1 .08-3.28 .09 1.57 .08-3.53 .08 1.19 .08-3.29 .08-2.3 .09-4.4 .08-2.5 .08 1.31 .08-2.2 .08-1.6 .08-.44 .09-1.62 .08-3.61 .08 4.73 .08 .96 .08-6.68 .09-7.4 .08-2.33 .08 1.4 .08-3.1 .08-.95 .08-5.47 .09 2.54 .08 1.6 .08-5.66 .08-.84 .08-1.16 .09-5.84 .08 1.67 .08-.41 .08-2.66 .08-.44 .08 1.64 .09 .12 .08-.6 .08-2.72 .08-1.98 .08 .97 .09-1.33 .08 2.25 .08 .62 .08-3.05 .08-2.91 .08 3.5 .09-.16 .08 3.79 .08 1.61 .08-2.61 .08 4.43 .09 2.96 .08-.43 .08 1.18 .08-1.21 .08-.23 .09 5.47 .08 .57 .08 .47 .08 1.24 .08 3.27 .08 .07 .09 .53 .08 1.74 .08 2.06 .08 1.17 .08 2.86 .09 .91 .08 1.64 .08 7.13 .08-.69 .08 4.78 .08-3.04 .09 4.15 .08 1.06 .08 5.33 .08-1.63 .08 2.63 .09-5.93 .08-1.97 .08-4.49 .08-.34 .08-1.79 .08-3.84 .09-4.15 .08 3.35 .08-1.02 .08-4.16 .08-1.31 .09-2.98 .08-.88 .08-.6 .08-1.11 .08-3.34 .08-1.56 .09 .01 .08-3.6 .08-1.97 .08-.24 .08-.13 .09-2.96 .08 .79 .08-2.48 .08-2.96 .08-.09 .08-4.17 .09-2.92 .08 3.1 .08-4.24 .08 .11 .08 3.39 .09-.88 .08-3.36 .08 .25 .08-3.44 .08-.67 .08 2.84 .09 3.22 .08 .39 .08 .77 .08-.17 .08 2.38 .09 3.28 .08 2.72 .08 .27 .08 .68 .08 1.86 .09 2.16 .08-.25 .08 1.43 .08 1.14 .08 1.81 .08 7.47 .09 1.51 .08-1.24 .08 2.68 .08 3 .08 1.69 .09 .24 .08 6.95 .08-1.82 .08 5.54 .08 1.72 .08 .36 .09 3.23 .08-.92 .08 6.04 .08 4.68 .08-3.81 .09-.79 .08-7.65 .08 .47 .08-2.87 .08 2.71 .08-1.96 .09-2.43 .08-2.36 .08-2.12 .08 .33 .08-5.08 .09 1.44 .08-1.2 .08-.82 .08-4.41 .08 .56 .08-1.08 .09-2.62 .08-.44 .08-4.57 .08-1.7 .08 1.58 .09 1.05 .08-8.55 .08 1.93 .08-5 .08 .74 .08-2.28 .09 .22 .08-1.75 .08 .24 .08-.01 .08-2.81 .09 .7 .08-2.4 .08 .81 .08 .85 .08-2.37 .08-1.05 .09-4.95 .08 1.36 .08 1.24 .08 1.95 .08-1.55 .09 .27 .08 3.37 .08 2.37 .08 3.15 .08 2.72 .09-.34 .08-1.3 .08 2.68 .08-1.53 .08 2.56 .08 5.18 .09 1.93 .08-2.28 .08 3 .08-.98 .08 .22 .09-1.05 .08 5.41 .08 2.38 .08 3.39 .08 1.86 .08-.63 .09 3.51 .08 4.57 .08 3.64 .08-.9 .08-.11 .09 1.44 .08 1.08 .08 .19 .08 6.05 .08 1.51 .08 .46 .09 4.39 .08 1.34 .08-2.81 .08 5.82 .08-1.88 .09-5.24 .08 .11 .08-2.94 .08-3.57 .08 2.26 .08-4.21 .09-3.24 .08-3.1 .08-2.91 .08-1.24 .08-3.05 .09 5.25 .08-9.1 .08-1.9 .08-3.32 .08-2.98 .08-2.25 .09-.53 .08 .52 .08-.48 .08-2.43 .08-4.38 .09 2.56 .08-.52 .08-1.21 .08-6.23 .08-.58 .08-.86 .09-1.37 .08-1.25 .08-1.17 .08-2.89 .08 1.72 .09 .39 .08-1.99 .08-.91 .08 1.18 .08 2.97 .09-1.21 .08 2.27 .08-1.43 .08 2.96 .08-1.57 .08 .92 .09 8.51 .08-.21 .08 3.35 .08-5.78 .08 4.81 .09 3.18 .08 1.72 .08 3.63 .08 .59 .08 6.45 .08 2.48 .09-1.42 .08 4.81 .08 2.96 .08 5.58 .08 2.42 .09-2.14 .08 1.86 .08 6.3 .08-1.13 .08 5.65 .08-3.58 .09-.32 .08-1.58 .08-2.41 .08-4.76 .08-1.38 .09 .63 .08-4.33 .08-1.51 .08 .68 .08-.62 .08-2.37 .09-5.22 .08-3.15 .08-2.96 .08-2.97 .08-1.47 .09-4.41 .08 1.72 .08-2.44 .08 1.19 .08-.83 .08-.53 .09-5.87 .08-1.66 .08-2.51 .08-3.46 .08 .02 .09-.99 .08 3.18 .08-8.02 .08 3.86 .08-.93 .09-1.23 .08 .21 .08 2.4 .08 .07 .08 5.96 .08-2.21 .09-1.57 .08 0 .08 1.37 .08 5.11 .08 .16 .09 2.66 .08-4.06 .08 1.21 .08 2.5 .08 1.16 .08 3.3 .09 2.84 .08-1.15 .08-4.8 .08 3.73 .08 1.72 .09 5.58 .08 6.16 .08-.5 .08 4.24 .08-.62 .08 2.74 .09 .41 .08 2.35 .08-1.62 .08 2.12 .08 5.97 .09 2.03 .08-2.97 .08 5.66 .08 3.56 .08-.75 .08 2.44 .09 .2 .08 3.36 .08 2.15 .08-2.68 .08-2.16 .09-3.5 .08-.15 .08-4.62 .08-1.01 .08-2.14 .08-4.65 .09-2.3 .08-.79 .08 .5 .08-5.76 .08-2.27 .09-2.36 .08-5.63 .08 .24 .08 .68 .08-1.04 .08-4.38 .09-.47 .08-3.07 .08-.84 .08-.13 .08-4.59 .09-.03 .08-5.6 .08 2.95 .08-5.38 .08 .64 .09-.81 .08 1.32 .08 1.82 .08-4.31 .08-1.52 .08-2.69 .09 3.44 .08 2.63 .08 1.87 .08-3.47 .08-.17 .09 4.56 .08 2.37 .08-4.9 .08 1.94 .08-1.44 .08 4.85 .09 3.33 .08 2.59 .08 2.15 .08 2.28 .08 .25 .09-1.81 .08 4.38 .08 3.86 .08-2.16 .08 1.56 .08 6.58 .09 4.46 .08-1.72 .08-.99 .08 2.63 .08 1.8 .09 2.86 .08 5.2 .08-2.79 .08 .3 .08 10.28 .08-1.1 .09 5.47 .08-3.45 .08 2.01 .08-5.66 .08-2.32 .09-3.02 .08 1.88 .08-4.19 .08-2.63 .08 1.46 .08 1.12 .09-3.41 .08-2.77 .08-1.05 .08 .35 .08-5.27 .09-4.53 .08 3.48 .08-.92 .08-7.16 .08 .97 .08-1.62 .09-2.61 .08-4.22 .08-2.91 .08-.02 .08 .14 .09 2.92 .08-6.49 .08 2.35 .08-1.74 .08 .04 .09 1.96 .08-5.36 .08-1.09 .08-4.88 .08 .08 .08 4.42 .09 2.04 .08-3.15 .08-.78 .08 1.43 .08 .73 .09 5.16 .08-4.71 .08-2.28 .08 2.09 .08 .15 .08 4.17 .09 2.18 .08-1.7 .08 3.62 .08 1.66 .08 2.79 .09 .12 .08 1.71 .08 1.99 .08 5.4 .08-2.34 .08 1.71 .09 3.28 .08 2.12 .08 4.74 .08-.24 .08 2.74 .09 1.65 .08 .05 .08 2.67 .08 2.96 .08 .79 .08 9.16 .09-.65 .08 3.09 .08 3.9 .08 3.54 .08-5.61 .09-2.22 .08-3.83 .08-.72 .08-1.38 .08-4.31 .08 2.8 .09-.13 .08-5.75 .08-.25 .08-1.07 .08-2.12 .09-6.43 .08 4.87 .08-.46 .08-7.04 .08-3.5 .08-4.26 .09 1.65 .08-1.96 .08-.71 .08-3.31 .08-3.99 .09-1.69 .08-.81 .08 .44 .08-1.61 .08 .78 .09-.82 .08-.54 .08-2.34 .08 1.89 .08 .54 .08-6.22 .09-3.91 .08 2.11 .08-.24 .08-.1 .08-3.33 .09-2.16 .08 2.01 .08 5.38 .08-1.8 .08 2.05 .08-1.33 .09-.34 .08 .89 .08-2 .08 3.75 .08 5.56 .09 1.01 .08-.55 .08 2.64 .08 2.69 .08 3.31 .08-1.11 .09 2.47 .08 2.83 .08 3.83 .08-2.42 .08 2.65 .09-.98 .08 3.2 .08 5.09 .08 6.15 .08-.71 .08 .93 .09 .54 .08 .94 .08 2.98 .08 5.8 .08-2.42 .09 4.93 .08 2.18 .08 1.55 .08 4.91 .08-3.17 .08-3.39 .09-1.54 .08-4.11 .08-3.08 .08-.65 .08-2.46 .09 2.17 .08-2.85 .08-4.73 .08-.65 .08 .16 .08-1.58 .09 .63 .08-6.58 .08 1.11 .08-4.48 .08-1.72 .09-3.77 .08-2.78 .08 4.21 .08 .5 .08-4.34 .09-1.24 .08-2.69 .08 1.19 .08-7.78 .08 4.06 .08-6.64 .09 4.24 .08 1.91 .08-7.39 .08-1.82 .08 .39 .09 1.49 .08-5.85 .08 3.17 .08 3.37 .08 1.95 .08 .97 .09-1.43 .08 .32 .08 .51 .08 7.7 .08-4.41 .09 2.18 .08 .4 .08 1.4 .08 2.49 .08-.15 .08 2.35 .09 .78 .08 3.94 .08-.03 .08 2.15 .08 1.79 .09 5.91 .08 3.13 .08-4.36 .08 .73 .08 .11 .08 3.71 .09 3.15 .08 1.09 .08 4.01 .08 .85 .08 2.69 .09-1.65 .08 6.34 .08 .01 .08 2.58 .08 4.62 .08-1.5 .09 2.02 .08-2.77 .08-2.6 .08-6.13 .08-3.51 .09 .28 .08-2.33 .08-2.97 .08-1.56 .08-3.74 .09-1.14 .08-.38 .08-4.71 .08-2.89 .08-.79 .08-2.38 .09-1.28 .08-1.41 .08-5.63 .08 4.14 .08-3.7 .09-1.73 .08-4.45 .08-.45 .08-1.23 .08-2.96 .08-.1 .09-3.74 .08 6.3 .08-3.13 .08-1.13 .08-1.45 .09-3.41 .08 .26 .08-5.56 .08 2.39 .08 4.75 .08 .27 .09-3.51 .08 1.03 .08 5.99 .08-3.02 .08 3.7 .09-2.15 .08 6.02 .08 2 .08 2.39 .08-1.08 .08 2.14 .09 1.3 .08-1.89 .08 3.43 .08 .49 .08 .04 .09 1.29 .08 6.48 .08 2.66 .08-.58 .08-2.68 .08 6.08 .09 4.48 .08 1.57 .08-.16 .08-1.33 .08 3.74 .09 .75 .08 1.78 .08 3.44 .08 1.23 .08 3.26 .08 4.25 .09-2.72 .08 .19 .08-1.08 .08-3.33 .08-6.37 .09-.99 .08 5.13 .08-3.1 .08-6.61 .08-1.79 .09-2.06 .08-.86 .08-1.15 .08-.58 .08-2.93 .08-4.39 .09 1.21 .08-4.43 .08 .28 .08 1.74 .08-4.17 .09-6.36 .08 1.89 .08-.84 .08-4.37 .08 1.34 .08-1.65 .09-3.82 .08 .7 .08-1.23 .08-4.73 .08 2.31 .09-3.79 .08 2.71 .08-3.76 .08 2.46 .08 .47 .08-2.64 .09 4 .08 3.25 .08-3.91 .08 .82 .08 .66 .09 2.74 .08 5.65 .08-.34 .08 3.93 .08-1.11 .08 3.92 .09-1.67 .08 1.1 .08-1.14 .08 6.24 .08 1.24 .09 1.07 .08 .49 .08 5.13 .08 2.52 .08-.59 .08 6.44 .09 .61 .08 1.34 .08 6.36 .08-.57 .08 1.32 .09 1.57 .08 7.62 .08 4.06 .08-1.43 .08-4.98 .08-3.88 .09-.13 .08-2.06 .08-5.41 .08 3.01 .08-3.78 .09 .12 .08-2.78 .08-1.95 .08-4.53 .08-1.59 .09-1.12 .08-.06 .08-.29 .08-2.49 .08-2.86 .08 2.02 .09-2.61 .08-.75 .08-1.39 .08-4.08 .08-1.69 .09 1.86 .08 2.21 .08-3.29 .08-4.34 .08 1.99 .08-6.29 .09-.99 .08 3.64 .08-3.09 .08 2.64 .08-6.7 .09-.41 .08 1.56 .08-.22 .08-.29 .08-1.14 .08-1.11 .09 3.81 .08-1.77 .08-1.24 .08 2.77 .08-3.73 .09 6.96 .08 2.38 .08 .41 .08-.3 .08-1.59 .08 .65 .09 6.49 .08 1.94 .08 2.36 .08 .79 .08 2.42 .09-2.12 .08 5.42 .08 2.46 .08 3.28 .08 .72 .08-.85 .09 4.36 .08-.76 .08 5.91 .08 1.94 .08-.02 .09 3.73 .08 5.39 .08-2.34 .08 6.6 .08 .21 .08 3.8 .09 1.01 .08 .96 .08 1.12 .08-4.32 .08-3.32 .09-1.53 .08 .32 .08-3.9 .08-3.98 .08-.92 .09 .32 .08-2.29 .08-.92 .08-3.93 .08 2.24 .08-2.44 .09-1.83 .08-2.4 .08-.52 .08-2.67 .08-1.97 .09 .46 .08-3.15 .08-1.39 .08-4.22 .08 .27 .08-2.92 .09-1.08 .08-.53 .08 4.71 .08-.88 .08-2.68 .09-1.57 .08 .79 .08-7.43 .08-1.19 .08 1.66 .08-1.5 .09-2.1 .08 .79 .08 2.15 .08 1.06 .08-1.56 .09 .96 .08 1.59 .08-5.83 .08 5.77 .08-3.3 .08 4.9 .09 2.91 .08 1.94 .08-1.03 .08 3.17 .08 2.02 .09 2.53 .08-3.6 .08 1.52 .08 4.19 .08 1.37 .08 3.64 .09 1.99 .08 1.36 .08 2.28 .08 1.5 .08-.44 .09 4.31 .08 .27 .08 6.28 .08 2.46 .08-1.58 .08 2.79 .09-1.07 .08 4.43 .08 6.12 .08-.93 .08-.69 .09-.81 .08-3.83 .08-.32 .08-4.18 .08-1.61 .09-5.5 .08-1.27 .08-.75 .08 .59 .08-4.57 .08 .15 .09-4.89 .08-.09 .08-1.77 .08 3.35 .08-5.08 .09-1.39 .08 .82 .08-4.24 .08 .13 .08-2.1 .08-3.38 .09-1.7 .08 1.87 .08-3.2 .08 1.06 .08-2.06 .09-3.39 .08-.19 .08 3.97 .08-3.88 .08-3.83 .08 .51 .09-2.03 .08-3.48 .08 2.13 .08-2.84 .08 3.42 .09 .37 .08-1.31 .08-2.29 .08-3.11 .08 1.12 .08-1.84 .09 4.4 .08-3.1 .08 6 .08-.48 .08-.41 .09-.03 .08 4.9 .08 2.55 .08 2.85 .08 .49 .08 .57 .09 3.21 .08-.24 .08 3.84 .08 1.5 .08 6.85 .09 2.26 .08 .67 .08 1.84 .08 5.92 .08 .18 .09 3.09 .08 4.5 .08 .55 .08 6.59 .08 1.92 .08 .49 .09-4.65 .08 3.15 .08-5.52 .08-3.67 .08-5.87 .09 .18 .08-4.86 .08-.54 .08-1.57 .08 .86 .08-3.62 .09-2.38 .08-3.13 .08-1.33 .08-2.04 .08 3.33 .09-5.87 .08-3.69 .08-1.16 .08 2.29 .08-6.87 .08 3.99 .09-4.71 .08-2.63 .08-2.5 .08 2.18 .08-2.61 .09 .21 .08-1.01 .08-6.36 .08 2.29 .08 1.13 .08-3.88 .09-1.97 .08 1.54 .08 3.61 .08 .46 .08 .34 .09-4.77 .08 2.18 .08-1.04 .08 3.01 .08 .01 .08-3.07 .09 5.09 .08-3.23 .08 9.5 .08 4.88 .08-4.71 .09 .81 .08 1.64 .08 2.3 .08 2.42 .08-2.88 .08 1.65 .09 5.92 .08 2.42 .08-.27 .08-.15 .08 5.04 .09 1.4 .08 4.99 .08 3.32 .08 1.81 .08 1.3 .09 1.91 .08 3.49 .08-.78 .08-.55 .08 6.19 .08 2.95 .09 2.63 .08 1.55 .08-4.38 .08 7.68 .08 .91 .09-8.07 .08-1.01 .08-3.22 .08-1.97 .08-1.71 .08-.21 .09-5.1 .08 .11 .08-1.18 .08-8.68 .08 4.73 .09-1.37 .08-4.28 .08-1.16 .08-.46 .08-2.96 .08-.26 .09-6.73 .08 1.72 .08 1.55 .08-1.22 .08-2.48 .09-3.88 .08-.29 .08-3.66 .08 .84 .08-1.14 .08 .36 .09 1.36 .08-1.4 .08-4.76 .08-2.48 .08-1.16 .09-.93 .08-1.17 .08 5.75 .08-.04 .08-4.54 .08 .4 .09 6.14 .08-6.63 .08 3.23 .08 5.3 .08-1.51 .09-1.18 .08 4.47 .08 4.57 .08-2.83 .08 3.11 .08-2.58 .09 2.94 .08 2.97 .08-.19 .08 1.03 .08 4.17 .09 3.24 .08-1.76 .08 1.79 .08 4.25 .08-1.41 .09 2.15 .08 5.16 .08 4.28 .08 1.81 .08 1.39 .08 5.88 .09 .29 .08 .11 .08-1.73 .08 6.7 .08-.48 .09-2.21 .08-1.67 .08-3.67 .08 .24 .08-2.7 .08 3.75 .09-7.4 .08-1.81 .08-3.93 .08 .24 .08-4.81 .09-.82 .08-1.6 .08-1.07 .08-6.63 .08 1.93 .08-1.61 .09 .64 .08-5.25 .08-1.39 .08-3.37 .08-1.91 .09 1.56 .08-.66 .08-2.64 .08-1.16 .08-.87 .08-.12 .09-1.22 .08 1.47 .08-4.16 .08 1.27 .08-4.15 .09-.02 .08-1.17 .08 .21 .08-1.98 .08 3.93 .08-6.4 .09 4.77 .08 1.84 .08 1.42 .08 3.33 .08 .91 .09-4.86 .08 4.75 .08-.97 .08 2.03 .08 2.12 .08-1.12 .09-.49 .08 4.23 .08 2.47 .08 .38 .08 .56 .09 3.39 .08 1.68 .08 2.35 .08 6.21 .08 .61 .09 3.18 .08-1.86 .08 5.63 .08-.29 .08 1.66 .08 1.83 .09 2.72 .08-1.81 .08 4.26 .08 4.37 .08 4.57 .09 .88 .08-.65 .08-.26 .08 3.65 .08-5.6 .08 .53 .09 .37 .08-2.08 .08-2.73 .08-5.71 .08 .91 .09 1.48 .08-3.57 .08-2.75 .08-.31 .08-.62 .08-.96 .09-5.29 .08-2.03 .08-.05 .08 .43 .08-.03 .09-5.43 .08 .46 .08 .11 .08-3.19 .08-3.09 .08-3.57 .09 2.42 .08-2.43 .08 1.58 .08 .45 .08-7.42 .09-1.29 .08-.32 .08-2.83 .08-1.06 .08 4.14 .08-3.86 .09 .12 .08-5.17 .08 .52 .08-.53 .08-.61 .09 1.7 .08 1.3 .08-1.87 .08 2.23 .08 4.29 .08-1.9 .09 7.16 .08 1.6 .08-2.4 .08-3.42 .08-.11 .09 4.14 .08 2.57 .08 1.58 .08 7.65 .08 2.12 .09 1.9 .08-1.54 .08 4.28 .08 1 .08 2.05 .08 2.94 .09 7.69 .08-5.27 .08 2.61 .08-1.12 .08 6.5 .09 2.91 .08 6.86 .08 .42 .08-2.68 .08 1.25 .08 6.84 .09-9.05 .08 2.75 .08-4.71 .08-1.53 .08-1.34 .09-4.57 .08-2.01 .08-.54 .08 2.39 .08-2.93 .08-5.49 .09-1.46 .08-3.51 .08-.36 .08-4 .08-1.06 .09 3.03 .08-6.8 .08 1.03 .08-3.13 .08-.03 .08-2.89 .09-1.81 .08-1.45 .08 1.53 .08-1.21 .08-3.16 .09 .77 .08-1.14 .08-1.34 .08-.96 .08-6.62 .08 3.75 .09-5.71 .08-.18 .08 1.16 .08-6.24 .08 2.17 .09 2.42 .08-.41 .08 1.87 .08-1.58 .08-2.02 .08 3.73 .09-.78 .08 2.62 .08 .56 .08 3.56 .08-.06 .09 1.94 .08 7.7 .08-1.25 .08 .43 .08 4.6 .09 1.18 .08 3.76 .08 .48 .08 1.56 .08 .67 .08 5.35 .09 .93 .08 1.2 .08 6.55 .08-5.3 .08 3.08 .09 5.93 .08 .03 .08 2 .08 5.25 .08 2.3 .08 3.93 .09 .16 .08 3.19 .08 1.73 .08-.37 .08-3.55 .09 .56 .08-8.57 .08-.53 .08-3.84 .08-.25 .08-3.4 .09-1 .08-2.69 .08-7.63 .08 .75 .08-3.51 .09-2 .08-2.98 .08-.9 .08 2.05 .08-6.01 .08 1.75 .09-7.03 .08-2.99 .08 1.23 .08-3.09 .08-.89 .09-2.03 .08 1.26 .08-7.03 .08-2.24 .08 1.62 .08 5.58 .09-4.74 .08 1.47 .08 3.89 .08-.06 .08 3.44 .09-6.7 .08-.48 .08-1.37 .08 3.51 .08 3.68 .09-.39 .08 3.22 .08 1.94 .08-.62 .08 3.38 .08-.36 .09 .48 .08 5.37 .08 4.63 .08 .49 .08-1.9 .09 2.89 .08 3.04 .08 1.23 .08 .04 .08-4.09 .08 7.24 .09 2.15 .08 2.16 .08 .46 .08-1.88 .08 5.09 .09 5.8 .08 2.34 .08-.68 .08 2.49 .08 1.27 .08-1.8 .09 5.54 .08 3.63 .08 .34 .08-5.79 .08-1.43 .09-7.01 .08-2.18 .08 1.52 .08-.55 .08-5.81 .08-1.69 .09-1.58 .08 1.65 .08-2.8 .08-1.41 .08 .71 .09-2.1 .08-5.14 .08-.41 .08-3.66 .08 .41 .08 1.44 .09-1.15 .08-1.68 .08-1.93 .08-.45 .08-2.46 .09-.57 .08-2.28 .08-.67 .08-1.52 .08 .43 .08-.32 .09-4.19 .08-3.04 .08 .31 .08 4.15 .08-1.73 .09-7.52 .08 3.78 .08-1.57 .08 2.28 .08-2.24 .09-1.93 .08 8.83 .08 2.07 .08 2.63 .08-.44 .08-3.88 .09 7.3 .08-7.36 .08 4.31 .08 1.24 .08 1.31 .09-2.01 .08 2.18 .08 4.14 .08 6.46 .08-1.87 .08 3.7 .09 2.53 .08 2.95 .08-1.08 .08 4.81 .08-2.19 .09 4.5 .08-.15 .08 1.19 .08 2.14 .08 .04 .08 2.71 .09 5.11 .08 3.84 .08 .93 .08 4.22 .08-2.73 .09 1.35 .08-.29 .08-1.55 .08-4.05 .08 1.87 .08-5.47 .09-6.43 .08-.63 .08-5.75 .08 2 .08-3.85 .09-3.04 .08-1.01 .08-2.7 .08-6.51 .08-4.07 .08 1.42 .09 .3 .08-.51 .08-3.24 .08-3.55 .08-.32 .09-3.35 .08-.32 .08-4.57 .08 .1 .08-4.36 .08 5.84 .09-4.02 .08 .98 .08-3.58 .08-.94 .08-.67 .09-2.82 .08-.77 .08-.43 .08 2.99 .08-1.51 .09 2.56 .08 2.11 .08-1.65 .08 1.96 .08 2.49 .08 1.51 .09 .82 .08 3.92 .08-3.36 .08 6.3 .08-3.48 .09 .62 .08 4.08 .08 5.98 .08-3.8 .08-1.43 .08 4.07 .09 1.42 .08 7.13 .08 .17 .08-1.02 .08 4.33 .09 2.51 .08-2.66 .08 9.98 .08-.22 .08 .1 .08 1.24 .09 6.34 .08 .12 .08 1.3 .08-2.51 .08 3.22 .09 .32 .08 5.73 .08 4.12 .08-5.37 .08 4.78 .08-4.36 .09 1.99 .08-1.02 .08-5.15 .08-.7 .08-1.05 .09-1.94 .08 1.89 .08-4.51 .08-6.56 .08-.5 .08-1.34 .09-2.26 .08-2.44 .08 .57 .08 1.06 .08-1.91 .09-6.62 .08-3.28 .08 .6 .08-1.68 .08 2.25 .08-3.63 .09-5.26 .08-4.1 .08 1.35 .08 2.9 .08-5.46 .09-.86 .08-.73 .08-2.73 .08 2.1 .08 .43 .09-3.14 .08-5.78 .08 .57 .08 .61 .08 .06 .08 .44 .09 1.15 .08-.8 .08 1.91 .08 3.16 .08-1.28 .09 3.19 .08 1.85 .08 2.53 .08-.97 .08-2.71 .08 5.32 .09 5.6 .08 2.78 .08 .81 .08 3.25 .08-2.09 .09 3.44 .08-.85 .08 1.42 .08 3.98 .08 1.1 .08 .6 .09 5.48 .08 2.06 .08 4.91 .08-2.8 .08 2.66 .09 2.28 .08 3 .08 4.7 .08-.92 .08 3.43 .08-4.54 .09 .55 .08-.63 .08-1.02 .08-8.11 .08-2.82 .09 0 .08-1.07 .08-4.83 .08-.37 .08-3.2 .08-3.8 .09-2.76 .08 1.73 .08-3.68 .08-3.1 .08 2.63 .09-4.09 .08-5.65 .08-.12 .08-1.88 .08-1.98 .08-.29 .09-6.72 .08 2.26 .08-2.86 .08 1.5 .08-.26 .09-7.98 .08 3.54 .08 .8 .08-1.28 .08-3.2 .09 2.75 .08-.46 .08-4.41 .08 1.85 .08 3.94 .08 1.38 .09 .99 .08-1.65 .08 3.1 .08 2.64 .08 2.79 .09-1.17 .08 .02 .08 1.21 .08 .03 .08 1.32 .08 1.51 .09 .49 .08 2.42 .08 1.66 .08 3.12 .08 1.06 .09 2.76 .08 2.4 .08 1.78 .08 6.52 .08 .56 .08-3.97 .09 .84 .08 6.58 .08 4.02 .08-.19 .08 2.61 .09 1.82 .08 1.89 .08 4.24 .08-.85 .08 1.9 .08 5.28 .09 .25 .08 .89 .08-1.16 .08-6.92 .08 2.23 .09-2.23 .08 1.99 .08 .59 .08-9.98 .08-1.25 .08-2.8 .09-1.56 .08-3.94 .08-2.66 .08-3.97 .08 .22 .09 1.37 .08-.91 .08 3.58 .08-2.73 .08-7.44 .09-1.61 .08 1.89 .08-1.92 .08-2.73 .08-4.74 .08-.35 .09-5.69 .08 5.35 .08-.58 .08-1.1 .08-2.97 .09-3.86 .08 .58 .08 1.34 .08 1.81 .08-4.31 .08-4.21 .09 2.77 .08 2.57 .08-.95 .08 1.67 .08 3.7 .09-3.05 .08 1.77 .08 .93 .08 1.41 .08 .2 .08 2.56 .09-.88 .08-2.71 .08 4.08 .08 2.37 .08 .65 .09 .51 .08 2.55 .08-1.97 .08 6.46 .08-.35 .08 .95 .09 1.29 .08-.78 .08 4.65 .08 2.41 .08 3.68 .09 .59 .08 1.59 .08 5.41 .08-1.75 .08 1.58 .08 .18 .09 1.75 .08 2.55 .08-1.05 .08 3.64 .08 4.15 .09 2.08 .08-2.87 .08 .47 .08-4.13 .08-5.79 .08-2.58 .09 .16 .08 .23 .08-2.64 .08-3.73 .08-.66 .09-4.02 .08-2.82 .08-1.16 .08-3.62 .08-3.71 .09-4.59 .08-1.65 .08 .54 .08-1.97 .08 2.49 .08-6.11 .09-5.94 .08-1.15 .08 .02 .08-1.64 .08-.39 .09 .56 .08-1.74 .08-1.69 .08 .16 .08-1.96 .08 1.14 .09-1.59 .08-1.69 .08 .56 .08-1.79 .08 .87 .09-.29 .08 2 .08 .77 .08 2.23 .08-.56 .08 .52 .09 7.18 .08 4.65 .08 1.07 .08-1.69 .08-4.17 .09 6.17 .08 1.11 .08 .77 .08 3.56 .08 2.55 .08 4.35 .09 3.94 .08-1.15 .08-1.06 .08 2.9 .08-.89 .09 3.29 .08 1.09 .08 6.25 .08 4.34 .08-.33 .08 3.09 .09 2.39 .08 3.27 .08 .87 .08 4.34 .08-.47 .09 2.32 .08-.61 .08-4.14 .08-1.51 .08-2.48 .08-.91 .09-1.31 .08-2.51 .08-3.05 .08 .13 .08-1.89 .09 2.44 .08-7.85 .08 2.9 .08-3.45 .08-1.35 .09-4.59 .08-2.07 .08-.02 .08-1.71 .08-4.59 .08 .73 .09-.64 .08-2.29 .08 1.64 .08 .12 .08-5.2 .09-1.37 .08-1.75 .08 .31 .08 1.28 .08-1.52 .08-2.45 .09-2.14 .08 3.16 .08 .04 .08-2.26 .08-4.92 .09 2.73 .08-1.32 .08-3.25 .08 5.03 .08 .59 .08-3.1 .09 2.26 .08 1.94 .08 .85 .08 3.92 .08 3.4 .09-.71 .08 6.31 .08-.37 .08 4.7 .08 .15 .08 2.83 .09 3.47 .08-1.61 .08 4.88 .08-.85 .08 3.25 .09 3.27 .08 4.57 .08-2.22 .08 5.39 .08 3.31 .08-.41 .09 1.64 .08 5.73 .08 1.25 .08 6.39 .08-.59 .09-1.38 .08-2.26 .08-.33 .08-1.15 .08-7.27 .08-3.83 .09 3.65 .08-4.15 .08 .46 .08-1.41 .08-2.17 .09-2.34 .08-1.27 .08-5.17 .08-.17 .08-.67 .09-.65 .08-1.67 .08-3.61 .08-1.52 .08-1.62 .08-3.64 .09-.42 .08-.99 .08-2.67 .08-.74 .08 1.06 .09-4.36 .08 4.06 .08-4.3 .08-1.22 .08-.37 .08-2.32 .09-3.56 .08-.86 .08 .94 .08-.74 .08-7.78 .09 6.55 .08-2.68 .08-2.07 .08 2.23 .08-1.41 .08 2.82 .09-1.41 .08 2.03 .08 1.57 .08 3.45 .08 1.36 .09-.72 .08-3.2 .08 2.81 .08 4.65 .08 3.33 .08-1.63 .09 3.21 .08 1.41 .08 5.53 .08 2.61 .08 .44 .09-3.68 .08 4 .08 2.31 .08 3.25 .08-.71 .08 6.99 .09 4.66 .08-.82 .08 1.21 .08 1.62 .08 2.97 .09 3.87 .08 4.88 .08-3.58 .08-2.79 .08 .88 .08-6.59 .09 1.3 .08-.8 .08-2.26 .08-4.75 .08-.08 .09-1.29 .08 .91 .08-5.03 .08-.98 .08-5.33 .09 .11 .08-1.66 .08-2.84 .08-1.38 .08 3.42 .08-2.95 .09-2.75 .08-4.5 .08-1.06 .08 .56 .08-.84 .09 1.62 .08-3.36 .08-2.2 .08-1.16 .08-.8 .08-1.23 .09-.5 .08 .34 .08 1.01 .08-3.88 .08-3.73 .09 2.61 .08 2.9 .08-1.88 .08 1.57 .08-1.98 .08 2 .09-.1 .08 .96 .08 .41 .08 1.38 .08 1.37 .09 2.53 .08 1.64 .08 3.32 .08-.23 .08-.91 .08 2.32 .09 0 .08 5.68 .08 3.24 .08-2.94 .08 .24 .09 6.74 .08-.01 .08 2.41 .08-2.74 .08 7.82 .08 5.15 .09-.17 .08-1.49 .08 6.61 .08 .32 .08 .67 .09 6.57 .08-2.81 .08 3.89 .08-5.06 .08 1.33 .09-3.68 .08-3.94 .08 4.51 .08-3.91 .08-4.77 .08-4.06 .09-.84 .08 2.69 .08-3 .08-4.37 .08 3.23 .09-5.69 .08-.9 .08-.26 .08-2.38 .08-1.16 .08-6.77 .09-4.64 .08 4.7 .08-2.8 .08 2.46 .08-3.96 .09-3.49 .08 1.08 .08-1.07 .08-.27 .08 2.53 .08-4.89 .09-1.2 .08 1.75 .08-3.23 .08-2.93 .08 1.09 .09 .65 .08-6.79 .08 1 .08 2.71 .08 .29 .08-.29 .09-.34 .08-1.98 .08 2.45 .08 5.58 .08 .91 .09-5.14 .08 1.42 .08 1.35 .08 5.62 .08 2.55 .08 4.26 .09 1.41 .08-3.58 .08 2.73 .08 .8 .08-.61 .09 6.2 .08 3.91 .08-.08 .08 5.56 .08 2.86 .08-.9 .09 .98 .08 4.86 .08 3.43 .08-.77 .08 2.43 .09 4.55 .08 5.21 .08 .66 .08 4.11 .08 .77 .09-5.4 .08 .9 .08 1.49 .08-7.75 .08 .59 .08-6.04 .09-2.41 .08 .84 .08 .78 .08-3.54 .08-4.12 .09 .93 .08-1.81 .08-2.49 .08-6.15 .08 .44 .08-2.98 .09-3.74 .08 .47 .08 3.97 .08-2.1 .08-3.37 .09-2.01 .08-1.81 .08-.49 .08-2.46 .08-3.35 .08-.92 .09 1.7 .08-.46 .08-4.2 .08 .08 .08 1 .09-3.25 .08 3.73 .08-4.74 .08-.84 .08 4.32 .08-2.41 .09-2.59 .08 1.17 .08 1.24 .08 4.59 .08 .88 .09 .1 .08 .98 .08 1.71 .08 3.97 .08-1.52 .08-.41 .09 1.95 .08 1.44 .08 3.07 .08 .62 .08 1.47 .09 .8 .08 1.39 .08 2.26 .08 3.62 .08 3.28 .08 1.55 .09-1.92 .08 6.43 .08 7.16 .08-3.13 .08-1.29 .09 3.75 .08 4.68 .08-.62 .08 3.8 .08 1.18 .09 4.25 .08-2.78 .08-2.58 .08-6.39 .08-.81 .08 .09 .09 2.93 .08-3.43 .08-3.1 .08-5.81 .08-1.11 .09-5.59 .08-1.95 .08-.75 .08-.97 .08-.7 .08-2.73 .09 .66 .08-3.73 .08 1.87 .08-3.71 .08-.87 .09-1.47 .08-2.74 .08 1.23 .08-3.35 .08 .55 .08-2.73 .09-.46 .08-2.18 .08 3.36 .08-1.22 .08 2.91 .09-8.63 .08 3.38 .08-2.43 .08-.88 .08-2.14 .08-1.05 .09-1.61 .08 1.78 .08-1.51 .08 2.03 .08 .15 .09 4.05 .08-1.44 .08 2 .08-2 .08-.74 .08 2.71 .09 .73 .08 1.06 .08 .8 .08 .89 .08 6.12 .09-2.71 .08 2.43 .08-3.28 .08 6.39 .08 2.49 .08 3.03 .09-1.48 .08-1.26 .08 3.48 .08 8.33 .08-1.51 .09 1.84 .08 .5 .08 3.98 .08-1.41 .08 3.27 .09 2.78 .08 4.5 .08 3.8 .08-5.97 .08 3.79 .08-.15 .09 3.08 .08 5.46 .08 .78 .08-1.61 .08-9.01 .09-3.47 .08-2.68 .08-1.42 .08-.44 .08-.65 .08-2.93 .09-3.26 .08 1.01 .08-5.99 .08-1.89 .08-4.01 .09-1.27 .08 .83 .08-6.37 .08-.75 .08-1.3 .08-1.14 .09-.52 .08-2.21 .08-2.03 .08-.36 .08-1.09 .09-4.26 .08-2.5 .08 1.16 .08 2.58 .08-1.63 .08-1.3 .09 3.76 .08-6.1 .08 5.79 .08 2.24 .08 2 .09-1.18 .08-.13 .08-.36 .08 4.92 .08-2.71 .08 2.83 .09 2.22 .08 .36 .08-1.6 .08 7.65 .08-1.58 .09-.48 .08-.17 .08 .26 .08 4.77 .08 3.84 .08 1.87 .09-1.79 .08-2.86 .08 2.47 .08 4.15 .08 1.64 .09 .45 .08-.4 .08 2.45 .08 4.88 .08-1.33 .09 1.72 .08 4.14 .08-1.24 .08-.83 .08 5.86 .08 3.45 .09 1.23 .08-2.04 .08 3.36 .08 5.98 .08-6.34 .09 .11 .08-3.09 .08-.6 .08-4.58 .08-3.79 .08 2.37 .09-1.35 .08-1.44 .08-5.41 .08 1.22 .08 1.08 .09-4.71 .08-.74 .08-3.14 .08 .97 .08-4.44 .08-.9 .09 .9 .08-1.46 .08-4.43 .08-.3 .08 4.37 .09-4.69 .08 2.9 .08-5.53 .08-2.86 .08 .48 .08 1.49 .09-4.6 .08-.54 .08 4.01 .08-2.93 .08 2.72 .09 3.18 .08-7.38 .08 2.56 .08-4.05 .08 .39 .08 4.13 .09 5.17 .08-1.79 .08 4.63 .08-1.24 .08 1.05 .09 .4 .08 3.38 .08-.82 .08 3.43 .08-2.72 .09-.08 .08 2.31 .08-.49 .08 .74 .08 4.88 .08 1.71 .09-1.21 .08 5.38 .08-1.08 .08 2.4 .08-1.32 .09 2.11 .08 5.07 .08 3.15 .08-3.03 .08 1.33 .08 1.57 .09 1.28 .08 4.61 .08-.01 .08 4.79 .08-3.76 .09 4.46 .08 3.66 .08-1.6 .08-.96 .08-4 .08-2.01 .09-2.63 .08 2.22 .08-4.9 .08 2.58 .08-1.78 .09-5.87 .08-2.38 .08-4.65 .08-3.77 .08 3.04 .08-1.02 .09-2.12 .08 .69 .08-3.99 .08-2.84 .08-1.71 .09 .86 .08-6.2 .08-.61 .08 3.54 .08-3.73 .08-3.58 .09 3.01 .08-3.63 .08 .43 .08-3.81 .08 .59 .09-3.03 .08 .48 .08 .56 .08-5.01 .08-.4 .08 3.17 .09 2.05 .08-.92 .08 3.08 .08 3.54 .08-2.55 .09-1.19 .08 3.37 .08 1.03 .08 1.93 .08 3.69 .09-.83 .08 3.57 .08 2.38 .08-1.38 .08-1.52 .08 .53 .09 8.36 .08 7.85 .08-1.85 .08 .98 .08 2.29 .09-.1 .08 2.18 .08 .58 .08 4.33 .08 3.43 .08 2.49 .09-1.57 .08 6.35 .08 2.15 .08 .18 .08-2.11 .09-4.82 .08-.45 .08-1.36 .08 1.14 .08-3.49 .08-2.79 .09-1.76 .08-1.79 .08-3.22 .08 .02 .08-3.74 .09-1.56 .08-4.26 .08 1.59 .08-1.05 .08-3.77 .08-1.05 .09 2.15 .08-3.39 .08-5.1 .08 4.59 .08-.07 .09-3.95 .08-3.02 .08-2.74 .08 .11 .08-.62 .08-3.92 .09 1.55 .08 .04 .08 .94 .08-2.14 .08-5.81 .09 1.34 .08-2.22 .08 2.11 .08-.05 .08 2.52 .08 1.71 .09-.16 .08-3.14 .08 5.05 .08-3.17 .08 2.28 .09-.97 .08 3.14 .08 5.34 .08 1.01 .08 .26 .09-.49 .08 2.44 .08-3.11 .08 .94 .08 5.71 .08 .31 .09 4.85 .08-3.03 .08 5.98 .08 .7 .08 2.2 .09 1.09 .08 7.36 .08-5.36 .08 .13 .08 1.37 .08 6.97 .09 .84 .08 .55 .08-2.32 .08 6.08 .08 3.42 .09 4.33 .08-1.96 .08-.71 .08-1.49 .08-3.15 .08-4.76 .09 1.66 .08 .65 .08-4.12 .08-5.32 .08-4.5 .09-.83 .08-5.05 .08 .61 .08-3.32 .08-3.62 .08-.41 .09-2.38 .08-2.97 .08 .05 .08-4.09 .08-3.37 .09-3.78 .08 7.43 .08-7.1 .08-.06 .08 .76 .08-7.23 .09-.26 .08 2.77 .08-2.89 .08 1.59 .08-2.83 .09 1.03 .08 3.43 .08-4.1 .08-1.92 .08 6.3 .08 5.15 .09-2.48 .08 .78 .08-.42 .08 3.81 .08 1.98 .09 1.55 .08-2.33 .08 1.98 .08 3.39 .08 4.78 .09-2.29 .08-1.63 .08 6.55 .08 3.47 .08 .4 .08-.22 .09-2.52 .08 6.7 .08 4.51 .08 .8 .08 2.82 .09 .38 .08 3.34 .08 2.83 .08 1.22 .08 2.96 .08 1.76 .09 5.99 .08 2.73 .08-.78 .08-1.6 .08 2.4 .09-.79 .08-3.9 .08-4.35 .08-3.27 .08-.62 .08-.15 .09-2.05 .08 .5 .08-3.57 .08-2.04 .08 3.69 .09-5.98 .08-1.27 .08-3.97 .08 1.54 .08-4.86 .08-.71 .09-1.25 .08 1.36 .08-5.95 .08-1.03 .08-4.08 .09 3.54 .08-.26 .08-1.79 .08-5.73 .08 2.42 .08-2.06 .09 1.11 .08-3.51 .08-.08 .08-3.82 .08-.69 .09-2.2 .08-2.67 .08 1.53 .08 .03 .08-8.97 .08-2.34 .09 7.75 .08 1.33 .08-3.02 .08-1.95 .08 1.55 .09-2.86 .08 2.33 .08-1 .08-1.32 .08-3.66 .09 2.25 .08-2.25 .08 4.4 .08 1 .08-.83 .08 1.22 .09 4.82 .08 2.16 .08 4.38 .08 2.84 .08 .23 .09 3.89 .08 5.2 .08 3.05 .08 2.6 .08 5.66 .08 4.59 .09 3.2 .08-.72 .08 4.23 .08 5.38 .08-.36 .09 7.21 .08-2.53 .08 2.06 .08-2.9 .08-3.33 .08-1.74 .09-4.21 .08 .38 .08 1.2 .08-.57 .08-5.51 .09-4.34 .08 1.38 .08-3.83 .08-2.23 .08-3.76 .08 1.9 .09-7.93 .08-3.4 .08 .78 .08 .3 .08-2.66 .09-1.65 .08 1.21 .08 2.24 .08-7.3 .08 1.38 .08-.91 .09 1.02 .08-5.52 .08-2.79 .08-.84 .08-1.27 .09 .09 .08 1.55 .08-2.65 .08-1.34 .08 2.68 .09-5.02 .08 .08 .08-1.48 .08-1.93 .08 3.38 .08 1 .09 1.61 .08 1.73 .08-1.84 .08 2.65 .08 .92 .09 .98 .08 3.51 .08-1.08 .08 2.17 .08 1.35 .08 3.24 .09 6.58 .08-1.79 .08 2.36 .08 1.03 .08-1.1 .09 1.31 .08 6.16 .08 .92 .08 .44 .08 3.64 .08 .05 .09 4.47 .08 1.52 .08 2.89 .08-1.4 .08 5.2 .09 6.05 .08 2.83 .08 .15 .08 .24 .08-1.97 .08-3.32 .09 .43 .08-4.03 .08-2.39 .08 .36 .08 .44 .09-.66 .08-2.86 .08-.83 .08-.34 .08-4.68 .08-2.1 .09-2.92 .08-.93 .08 2.05 .08-5.45 .08 4.42 .09-6.98 .08 .44 .08 1.04 .08-.22 .08-3.73 .08 1.71 .09-4.1 .08 1.19 .08-2.27 .08-1.25 .08-3.26 .09-.44 .08-.12 .08-2.21 .08-5.11 .08 .91 .09-.1 .08-1.65 .08 6.14 .08-4.87 .08-4.79 .08 1.63 .09-2.47 .08 1.23 .08 1.68 .08-3.24 .08-.45 .09 4.69 .08 4.2 .08-.91 .08-1.45 .08 3.44 .08-.92 .09 .96 .08 6.41 .08-.51 .08 1.13 .08 2.06 .09 1.52 .08-.44 .08 3.69 .08-.32 .08 3.85 .08-1.42 .09 3.96 .08 .48 .08 6.64 .08-4.28 .08 3.39 .09 3.01 .08 4.96 .08 1.84 .08 2.03 .08-3.62 .08 7.1 .09 3.95 .08 2.85 .08 1.07 .08-4.24 .08-2.65 .09-3.21 .08 .07 .08 .5 .08-2.88 .08-3.18 .08-.59 .09 1.33 .08-6.4 .08-1.62 .08-2.25 .08-7.06 .09 4.77 .08-.17 .08-3.08 .08-2.63 .08-1.8 .08-2.36 .09-2.17 .08-3.78 .08 .5 .08-2.43 .08-.57 .09 1.66 .08-4.97 .08-1.21 .08-4.48 .08 2.08 .09-.56 .08-2.19 .08-2.22 .08 3.14 .08-2.47 .08-4.49 .09 1.19 .08-.87 .08 .87 .08-1.46 .08-.13 .09-1.81 .08 2.95 .08 2.05 .08 4.38 .08-6.78 .08 1.33 .09 2.88 .08-.43 .08 3.44 .08 1.3 .08-1.26 .09 3.52 .08-1.85 .08 4.19 .08 1.03 .08 4.76 .08-1.85 .09 8.18 .08 .92 .08 .38 .08 3.17 .08 4.53 .09-.1 .08 1.36 .08 1.78 .08 1.66 .08 .69 .08 3.04 .09 3.68 .08 2.52 .08 2.41 .08 .56 .08 1.72 .09 4.66 .08-4.16 .08-7.03 .08 1.99 .08-3.19 .08 1.91 .09-3.2 .08-1.22 .08-3.8 .08-6.17 .08-3.56 .09 .01 .08 2.37 .08-1.72 .08-5.04 .08-5.45 .08 2.82 .09-.93 .08-4.33 .08 .72 .08 1.93 .08-7.49 .09 .27 .08-1.94 .08-.83 .08-7.05 .08 5.02 .09-5.94 .08 1.64 .08-1.68 .08-1.25 .08 2.96 .08-7.4 .09 .42 .08-1.5 .08-2.72 .08-.6 .08-.95 .09 1.87 .08-1.02 .08 2.5 .08-.89 .08 2.01 .08 4.47 .09 1.57 .08-.64 .08 1.91 .08-.43 .08 5.02 .09 1.1 .08 1.04 .08 4.36 .08 .27 .08 1.38 .08 2.61 .09-1.38 .08 5.12 .08 3.92 .08-1.27 .08 1.91 .09 1.53 .08 2.59 .08 3.96 .08 .44 .08-.32 .08 4.28 .09 1.07 .08 6.01 .08 1.3 .08 .31 .08 5.12 .09-1.81 .08 2.74 .08 3.48 .08 1.48 .08 1.33 .08-3.5 .09-1.5 .08-.43 .08-1.49 .08-6.53 .08 .52 .09 1.65 .08-.94 .08-4.18 .08-1.01 .08 .6 .08-4.8 .09-1.88 .08-4.81 .08 1.79 .08 1.39 .08-3.55 .09-5.19 .08-.63 .08-3.33 .08 2.13 .08-.36 .09-2.64 .08 2.4 .08-1.93 .08-6.05 .08-3.54 .08 3.56 .09 .63 .08-4.83 .08-1.06 .08-3.7 .08 6.78 .09-5.37 .08 .56 .08-1.79 .08 .15 .08 .66 .08-4.39 .09-4.48 .08 7.38 .08-1.18 .08 2.31 .08 3.96 .09-6.43 .08 7.1 .08 1.79 .08 4.73 .08-.7 .08 .57 .09 2.38 .08 5.03 .08 .31 .08 .72 .08 1.28 .09-1.89 .08 1.43 .08 7.02 .08 1.2 .08-1.47 .08 3.62 .09 1.28 .08 3 .08 5.49 .08-.67 .08 2.05 .09 3.27 .08 2.32 .08 .51 .08 4.24 .08 3.55 .08-.06 .09 3.88 .08-8.93 .08-2 .08-1.82 .08 3.66 .09-6.44 .08-2.39 .08 2.43 .08-5.53 .08-2.12 .09-6.5 .08 5.49 .08-4.81 .08-1.55 .08-.34 .08-4.88 .09 .49 .08 .15 .08-6.53 .08 2.81 .08-1.97 .09-4.1 .08 .78 .08-1.04 .08-2.87 .08 .96 .08-3.26 .09 1.06 .08 .19 .08-1.35 .08-2.65 .08-1.08 .09-2 .08 .41 .08-1.52 .08-.69 .08-.02 .08 .49 .09 2.22 .08-2.21 .08-4.34 .08 5.64 .08 .36 .09 .75 .08 1.97 .08 1.09 .08 3.96 .08 .51 .08-.53 .09 .23 .08 .77 .08 3.49 .08-4.68 .08 7.47 .09 1.1 .08 .51 .08 5.19 .08 .92 .08 2.58 .08-1.02 .09 4.86 .08-.47 .08 1.31 .08 3.61 .08 .08 .09-1.83 .08 4.89 .08 .74 .08 2.87 .08 5.41 .08-7.18 .09-1.27 .08-3.97 .08-1.62 .08-4.94 .08 4.91 .09-.67 .08-.53 .08 2.48 .08-5.98 .08-5.68 .09-1.03 .08 .34 .08-1.14 .08-.05 .08-5.59 .08 2.39 .09-.4 .08-4.1 .08-1.79 .08-1.81 .08 3.27 .09-4.38 .08-1.07 .08-4.34 .08 2.67 .08-.91 .08-2.21 .09-1.74 .08-2.57 .08-.8 .08-.45 .08 .85 .09 2.33 .08-3.77 .08-3.74 .08-1.57 .08 2.29 .08 1.8 .09 1.04 .08 .02 .08-5.17 .08-.95 .08-2.05 .09-.67 .08 .1 .08 2.16 .08 2.17 .08-1.19 .08 2.06 .09 .81 .08-.3 .08-.22 .08 3.74 .08 3.23 .09 3.73 .08 2.7 .08 1.39 .08 2.97 .08 .59 .08-1.78 .09 3.51 .08 3.29 .08 2.47 .08 4.8 .08-.41 .09 3.28 .08 6.7 .08-.04 .08 .92 .08 5.6 .08-.26 .09-.74 .08 6.01 .08 1.62 .08-4.61 .08-1.85 .09-2.24 .08-3.05 .08-1.66 .08-1.05 .08-5.47 .09 1.31 .08-1.58 .08 2.03 .08-6.14 .08-2.34 .08-2.6 .09-3.7 .08-1.9 .08 1.19 .08-1.21 .08 .26 .09-3.82 .08-3.84 .08 1.15 .08-1.07 .08-2.75 .08 .6 .09-2.64 .08-3.59 .08 2.68 .08-3.74 .08 1.85 .09-2.41 .08 1.83 .08 .93 .08-3.49 .08 1.58 .08 1.7 .09 5.58 .08-5.23 .08 5.88 .08-.26 .08-3.05 .09 4.51 .08-4.1 .08 4.94 .08-3.67 .08 3.64 .08 3.76 .09-2.77 .08 2.09 .08-2.39 .08 4.81 .08 2.25 .09 1.72 .08-1.74 .08 3.89 .08 5.4 .08 .65 .08 1.49 .09 1.39 .08 1.5 .08-.28 .08 3.45 .08-2.47 .09 2.55 .08 .55 .08 1.08 .08 1.94 .08 4.39 .08 3.03 .09 4.11 .08-.51 .08 1.33 .08-.03 .08 2.66 .09 5.1 .08-1.73 .08-2.67 .08-6.14 .08-.14 .09-4.24 .08 2.29 .08-4.66 .08 3.94 .08-3.89 .08-5.21 .09-1.47 .08-2.81 .08 2.32 .08-.97 .08-1.47 .09-2.85 .08 1.24 .08-2.16 .08-4.7 .08-1.7 .08 3.07 .09-6.59 .08-1.16 .08 2.53 .08-5.09 .08 .6 .09-1.94 .08-5.14 .08 .49 .08 .27 .08 .98 .08-2.35 .09-1.03" style="fill: none; stroke: #1f77b4; stroke-width: 1.78; stroke-linecap: square"/>
   </g>
   <g id="text_15">
    <text style="font-size: 12.04px; font-family: 'DejaVu Sans', 'Liberation Sans', sans-serif; text-anchor: middle" x="369" y="80.4" transform="rotate(-0 369 80.4)">tsl, lev=0.4384999871253967, 20141216T1200 to 20991124T1200</text>
   </g>
  </g>
  <g id="axes_2">
   <g id="patch_7">
    <path d="M 90 272.110345 L 648 272.110345 L 648 187.696552 L 90 187.696552z" style="fill: #ffffff"/>
   </g>
   <g id="matplotlib.axis_3">
    <g id="xtick_10">
     <g id="text_16">
      <g transform="translate(0.000 0.792)"><text style="font-size: 10px; font-family: 'DejaVu Sans', 'Liberation Sans', sans-serif" transform="translate(122.393771 298.415785) rotate(-30)">2020</text></g>
     </g>
    </g>
    <g id="xtick_11">
     <g id="text_17">
      <g transform="translate(0.000 0.792)"><text style="font-size: 10px; font-family: 'DejaVu Sans', 'Liberation Sans', sans-serif" transform="translate(182.123892 298.415785) rotate(-30)">2030</text></g>
     </g>
    </g>
    <g id="xtick_12">
     <g id="text_18">
      <g transform="translate(0.000 0.792)"><text style="font-size: 10px; font-family: 'DejaVu Sans', 'Liberation Sans', sans-serif" transform="translate(241.837662 298.415785) rotate(-30)">2040</text></g>
     </g>
    </g>
    <g id="xtick_13">
     <g id="text_19">
      <g transform="translate(0.000 0.792)"><text style="font-size: 10px; font-family: 'DejaVu Sans', 'Liberation Sans', sans-serif" transform="translate(301.567783 298.415785) rotate(-30)">2050</text></g>
     </g>
    </g>
    <g id="xtick_14">
     <g id="text_20">
      <g transform="translate(0.000 0.792)"><text style="font-size: 10px; font-family: 'DejaVu Sans', 'Liberation Sans', sans-serif" transform="translate(361.281553 298.415785) rotate(-30)">2060</text></g>
     </g>
    </g>
    <g id="xtick_15">
     <g id="text_21">
      <g transform="translate(0.000 0.792)"><text style="font-size: 10px; font-family: 'DejaVu Sans', 'Liberation Sans', sans-serif" transform="translate(421.011674 298.415785) rotate(-30)">2070</text></g>
     </g>
    </g>
    <g id="xtick_16">
     <g id="text_22">
      <g transform="translate(0.000 0.792)"><text style="font-size: 10px; font-family: 'DejaVu Sans', 'Liberation Sans', sans-serif" transform="translate(480.725444 298.415785) rotate(-30)">2080</text></g>
     </g>
    </g>
    <g id="xtick_17">
     <g id="text_23">
      <g transform="translate(0.000 0.792)"><text style="font-size: 10px; font-family: 'DejaVu Sans', 'Liberation Sans', sans-serif" transform="translate(540.455565 298.415785) rotate(-30)">2090</text></g>
     </g>
    </g>
    <g id="xtick_18">
     <g id="text_24">
      <g transform="translate(0.000 0.792)"><text style="font-size: 10px; font-family: 'DejaVu Sans', 'Liberation Sans', sans-serif" transform="translate(600.169335 298.415785) rotate(-30)">2100</text></g>
     </g>
    </g>
    <g id="text_25">
     <g transform="translate(-0.648 0.720)"><text style="font-size: 10px; font-family: 'DejaVu Sans', 'Liberation Sans', sans-serif; text-anchor: middle" x="369" y="311.815284" transform="rotate(-0 369 311.815284)">validtime</text></g>
    </g>
   </g>
   <g id="matplotlib.axis_4">
    <g id="ytick_4">
     <g id="text_26">
      <text style="font-size: 10px; font-family: 'DejaVu Sans', 'Liberation Sans', sans-serif; text-anchor: end" x="83" y="263.143219" transform="rotate(-0 83 263.143219)">220</text>
     </g>
    </g>
    <g id="ytick_5">
     <g id="text_27">
      <text style="font-size: 10px; font-family: 'DejaVu Sans', 'Liberation Sans', sans-serif; text-anchor: end" x="83" y="238.303219" transform="rotate(-0 83 238.303219)">240</text>
     </g>
    </g>
    <g id="ytick_6">
     <g id="text_28">
      <text style="font-size: 10px; font-family: 'DejaVu Sans', 'Liberation Sans', sans-serif; text-anchor: end" x="83" y="213.463219" transform="rotate(-0 83 213.463219)">260</text>
     </g>
    </g>
    <g id="text_29">
     <g transform="translate(0.000 0.792)"><text style="font-size: 10px; font-family: 'DejaVu Sans', 'Liberation Sans', sans-serif; text-anchor: middle" x="57.832812" y="229.903448" transform="rotate(-90 57.832812 229.903448)">fieldmin</text></g>
    </g>
   </g>
   <g id="line2d_26">
    <path d="M115.36 204.12l.09 64.04 .08 0 .08-64.68 .08-.22 .08-.21 .08-1.35 .09-1.39 .08-1.39 .08-1.39 .08-.67 .08-.1 .09-.11 .08-.1 .08-.11 .08-.11 .08 0 .08 .15 .09 .15 .08 .14 .08 .15 .08 .15 .08 .15 .09 .14 .08 .15 .08 .03 .08-.05 .08-.05 .08-.05 .09-.05 .08-.05 .08-.05 .08-.05 .08-.04 .09-.24 .08-.29 .08-.29 .08-.28 .08-.29 .09-.29 .08-.28 .08-.29 .08-.28 .08-.28 .08-.28 .09-.28 .08-.28 .08-.15 .08-.07 .08-.07 .09-.08 .08-.07 .08-.07 .08-.07 .08-.03 .08 .01 .09 .01 .08 .01 .08 .01 .08 .01 .08 .01 .09 .01 .08 0 .08 0 .08 0 .08 0 .08 0 .09 0 .08 0 .08-.61 .08 .72 .08-.85 .09 .85 .08-.96 .08 .96 .08-.86 .08 .86 .08-1.02 .09 1.02 .08-.99 .08 .99 .08-.95 .08 .95 .09-.83 .08 .83 .08-.81 .08 .81 .08-.82 .08 .82 .09-.71 .08 .71 .08-.58 .08 .58 .08-.47 .09 .47 .08-.39 .08 .39 .08-.31 .08 .31 .08-.29 .09 .29 .08-.3 .08 .3 .08-.32 .08 .32 .09-.28 .08 .28 .08-.29 .08 .29 .08-.29 .09 .29 .08-.32 .08 .32 .08-.31 .08 .31 .08-.31 .09 .31 .08-.31 .08 .31 .08-.31 .08 .31 .09-.31 .08 .31 .08-.31 .08 .31 .08-.32 .08 .32 .09-.3 .08 .3 .08-.28 .08 .28 .08-.32 .09 .32 .08-.36 .08 .36 .08-.52 .08 .52 .08-.73 .09 .73 .08-.94 .08 .94 .08-1.03 .08 1.03 .09-1.21 .08 1.21 .08-1.31 .08 1.31 .08-1.42 .08 1.42 .09-1.48 .08 1.48 .08-1.37 .08 1.37 .08-1.43 .09 1.43 .08-1.43 .08 1.43 .08-1.36 .08 1.36 .08-1.1 .09 1.1 .08-1.01 .08 1.01 .08-.89 .08 .89 .09-.76 .08 .76 .08-.54 .08 .54 .08-.32 .08 .32 .09-.3 .08 .3 .08-.31 .08 .31 .08-.33 .09 .33 .08-.28 .08 .28 .08-.3 .08 .3 .09-.32 .08 .35 .08 .02 .08 .65 .08 .04 .08 .62 .09 .04 .08 .62 .08 .04 .08 .62 .08 .04 .09 .34 .08-.62 .08-.04 .08-.62 .08-.04 .08-.64 .09-.03 .08-.65 .08-.01 .08-.64 .08 .23 .09-.28 .08 .28 .08-.28 .08 .28 .08-.39 .08 .39 .09-.6 .08 .6 .08-.71 .08 .71 .08-.79 .09 .79 .08-1.01 .08 1.01 .08-.96 .08 .96 .08-1.03 .09 1.03 .08-1.17 .08 1.17 .08-1.25 .08 1.25 .09-1.17 .08 1.17 .08-1.23 .08 1.23 .08-1.15 .08 1.15 .09-1 .08 1 .08-.94 .08 .94 .08-.79 .09 .79 .08-.69 .08 .69 .08-.53 .08 .53 .08-.38 .09 .38 .08-.32 .08 .32 .08-.32 .08 .32 .09-.28 .08 .28 .08-.28 .08 .28 .08-.28 .09 .56 .08 .18 .08 .75 .08 .14 .08 .79 .08 .15 .09 .78 .08 .18 .08 .75 .08 .14 .08-.07 .09-.77 .08-.16 .08-.78 .08-.15 .08-.77 .08-.16 .09-.78 .08-.15 .08-.67 .08 .32 .08-.32 .09 .32 .08-.29 .08 .29 .08-.32 .08 .32 .08-.38 .09 .38 .08-.51 .08 .51 .08-.71 .08 .71 .09-.85 .08 .85 .08-.98 .08 .98 .08-1.14 .08 1.14 .09-1.24 .08 1.24 .08-1.25 .08 1.25 .08-1.4 .09 1.4 .08-1.38 .08 1.38 .08-1.33 .08 1.33 .08-1.39 .09 1.39 .08-1.34 .08 1.34 .08-1.14 .08 1.14 .09-1 .08 1 .08-.83 .08 .83 .08-.7 .09 .7 .08-.52 .08 .52 .08-.36 .08 .36 .08-.29 .09 .29 .08-.33 .08 .33 .08-.17 .08 .48 .09-.12 .08 .44 .08-.14 .08 .46 .08-.16 .08 .48 .09-.13 .08 .36 .08-.46 .08 .14 .08-.47 .09 .15 .08-.47 .08 .15 .08-.48 .08 .16 .08-.48 .09 .26 .08-.28 .08 .28 .08-.29 .08 .29 .09-.3 .08 .3 .08-.31 .08 .31 .08-.3 .08 .3 .09-.32 .08 .32 .08-.45 .08 .45 .08-.64 .09 .64 .08-.83 .08 .83 .08-1.13 .08 1.13 .08-1.13 .09 1.13 .08-1.32 .08 1.32 .08-1.42 .08 1.42 .09-1.48 .08 1.48 .08-1.64 .08 1.64 .08-1.52 .08 1.52 .09-1.51 .08 1.51 .08-1.41 .08 1.41 .08-1.44 .09 1.44 .08-1.26 .08 1.26 .08-1.04 .08 1.04 .09-.8 .08 .8 .08-.61 .08 .61 .08-.47 .08 .47 .09-.31 .08 .31 .08-.29 .08 .29 .08-.28 .09 .28 .08-.32 .08 .32 .08-.29 .08 .29 .08-.32 .09 .32 .08-.3 .08 .3 .08-.29 .08 .47 .09 .15 .08 .78 .08 .15 .08 .78 .08 .16 .08 .77 .09 .18 .08 .75 .08 .16 .08 .11 .08-.79 .09-.14 .08-.76 .08-.17 .08-.74 .08-.19 .08-.75 .09-.18 .08-.75 .08 .3 .08-.32 .08 .32 .09-.5 .08 .5 .08-.71 .08 .71 .08-.87 .08 .87 .09-.92 .08 .92 .08-1.07 .08 1.07 .08-1.05 .09 1.05 .08-1.3 .08 1.3 .08-1.27 .08 1.27 .08-1.35 .09 1.35 .08-1.26 .08 1.26 .08-1.15 .08 1.15 .09-1.08 .08 1.08 .08-1.02 .08 1.02 .08-.89 .09 .89 .08-.82 .08 .82 .08-.69 .08 .69 .08-.47 .09 .47 .08-.35 .08 .35 .08-.32 .08 .32 .09-.28 .08 .28 .08-.29 .08 .29 .08-.32 .08 .32 .09-.28 .08 .28 .08-.28 .08 .59 .08 .07 .09 .66 .08 .07 .08 .65 .08 .08 .08 .64 .08 .07 .09 .65 .08-.08 .08-.06 .08-.65 .08-.07 .09-.68 .08-.05 .08-.68 .08-.04 .08-.64 .08-.08 .09-.48 .08 .31 .08-.28 .08 .28 .08-.32 .09 .32 .08-.43 .08 .43 .08-.56 .08 .56 .08-.75 .09 .75 .08-.86 .08 .86 .08-.93 .08 .93 .09-1.12 .08 1.12 .08-1.09 .08 1.09 .08-1.12 .08 1.12 .09-1.29 .08 1.29 .08-1.23 .08 1.23 .08-1.27 .09 1.27 .08-1.06 .08 1.06 .08-1.04 .08 1.04 .09-1.01 .08 1.01 .08-.79 .08 .79 .08-.75 .08 .75 .09-.52 .08 .52 .08-.38 .08 .38 .08-.31 .09 .31 .08-.31 .08 .31 .08-.31 .08 .31 .08-.32 .09 .32 .08-.29 .08 .29 .08-.28 .08 .28 .09-.03 .08 .64 .08 .01 .08 .65 .08 .05 .08 .61 .09 .04 .08 .63 .08 .02 .08 .53 .08-.61 .09-.06 .08-.64 .08-.02 .08-.62 .08-.04 .08-.64 .09-.02 .08-.63 .08 .13 .08-.28 .08 .28 .09-.3 .08 .3 .08-.35 .08 .35 .08-.44 .08 .44 .09-.53 .08 .53 .08-.67 .08 .67 .08-.69 .09 .69 .08-.82 .08 .82 .08-.88 .08 .88 .08-.97 .09 .97 .08-.92 .08 .92 .08-.93 .08 .93 .09-.93 .08 .93 .08-.88 .08 .88 .08-.85 .09 .85 .08-.82 .08 .82 .08-.77 .08 .77 .08-.61 .09 .61 .08-.56 .08 .56 .08-.39 .08 .39 .09-.31 .08 .31 .08-.31 .08 .31 .08-.31 .08 .31 .09-.29 .08 .29 .08-.28 .08 .28 .08-.28 .09 .28 .08-.3 .08 .3 .08-.08 .08 .52 .08-.07 .09 .52 .08-.06 .08 .52 .08-.06 .08 .51 .09-.08 .08 .41 .08-.54 .08 .09 .08-.52 .08 .07 .09-.52 .08 .06 .08-.5 .08 .05 .08-.53 .09 .21 .08-.29 .08 .29 .08-.31 .08 .31 .08-.41 .09 .41 .08-.52 .08 .52 .08-.63 .08 .63 .09-.78 .08 .78 .08-.9 .08 .9 .08-.98 .09 .98 .08-1.08 .08 1.08 .08-1.11 .08 1.11 .08-1.04 .09 1.04 .08-1.12 .08 1.12 .08-.98 .08 .98 .09-.93 .08 .93 .08-.95 .08 .95 .08-.81 .08 .81 .09-.76 .08 .76 .08-.67 .08 .67 .08-.52 .09 .52 .08-.41 .08 .41 .08-.32 .08 .32 .08-.29 .09 .29 .08-.31 .08 .31 .08-.3 .08 .3 .09-.28 .08 .28 .08-.3 .08 .3 .08-.29 .08 .29 .09-.31 .08 .31 .08-.31 .08 .31 .08-.32 .09 .32 .08-.32 .08 .32 .08-.31 .08 .31 .08-.28 .09 .28 .08-.3 .08 .3 .08-.31 .08 .31 .09-.31 .08 .31 .08-.32 .08 .32 .08-.29 .08 .29 .09-.34 .08 .34 .08-.55 .08 .55 .08-.7 .09 .7 .08-.83 .08 .83 .08-.86 .08 .86 .09-1.06 .08 1.06 .08-1.1 .08 1.1 .08-1.28 .08 1.28 .09-1.32 .08 1.32 .08-1.23 .08 1.23 .08-1.16 .09 1.16 .08-1.13 .08 1.13 .08-1.17 .08 1.17 .08-1.08 .09 1.08 .08-.87 .08 .87 .08-.71 .08 .71 .09-.67 .08 .67 .08-.48 .08 .48 .08-.32 .08 .32 .09-.32 .08 .32 .08-.31 .08 .31 .08-.3 .09 .3 .08-.29 .08 .29 .08-.28 .08 .28 .08-.29 .09 .29 .08-.3 .08 .3 .08-.29 .08 .29 .09-.3 .08 .3 .08-.29 .08 .29 .08-.31 .08 .31 .09-.29 .08 .29 .08-.31 .08 .31 .08-.31 .09 .31 .08-.29 .08 .29 .08-.28 .08 .28 .08-.32 .09 .32 .08-.29 .08 .29 .08-.46 .08 .46 .09-.62 .08 .62 .08-.83 .08 .83 .08-1.01 .09 1.01 .08-1.05 .08 1.05 .08-1.14 .08 1.14 .08-1.22 .09 1.22 .08-1.24 .08 1.24 .08-1.29 .08 1.29 .09-1.27 .08 1.27 .08-1.4 .08 1.4 .08-1.22 .08 1.22 .09-1.21 .08 1.21 .08-1.08 .08 1.08 .08-.95 .09 .95 .08-.79 .08 .79 .08-.56 .08 .56 .08-.42 .09 .42 .08-.32 .08 .32 .08-.29 .08 .29 .09-.32 .08 .32 .08-.29 .08 .29 .08-.3 .08 .3 .09-.3 .08 .45 .08-.04 .08 .54 .08-.07 .09 .57 .08-.04 .08 .54 .08-.05 .08 .54 .08-.03 .09 .07 .08-.54 .08 .04 .08-.56 .08 .06 .09-.54 .08 .04 .08-.55 .08 .05 .08-.47 .08 .29 .09-.29 .08 .29 .08-.3 .08 .3 .08-.38 .09 .38 .08-.54 .08 .54 .08-.8 .08 .8 .09-.92 .08 .92 .08-1.01 .08 1.01 .08-1.28 .08 1.28 .09-1.41 .08 1.41 .08-1.42 .08 1.42 .08-1.33 .09 1.33 .08-1.49 .08 1.49 .08-1.49 .08 1.49 .08-1.43 .09 1.43 .08-1.33 .08 1.33 .08-1.12 .08 1.12 .09-.96 .08 .96 .08-.87 .08 .87 .08-.68 .08 .68 .09-.55 .08 .55 .08-.3 .08 .3 .08-.3 .09 .3 .08-.31 .08 .31 .08-.29 .08 .29 .08-.31 .09 .31 .08-.31 .08 .31 .08-.32 .08 .32 .09-.31 .08 .31 .08-.28 .08 .28 .08-.3 .08 .3 .09-.29 .08 .29 .08-.28 .08 .28 .08-.32 .09 .32 .08-.32 .08 .32 .08-.32 .08 .32 .08-.28 .09 .28 .08-.32 .08 .32 .08-.28 .08 .28 .09-.3 .08 .3 .08-.45 .08 .45 .08-.53 .09 .53 .08-.71 .08 .71 .08-.84 .08 .84 .08-.88 .09 .88 .08-1.08 .08 1.08 .08-1.02 .08 1.02 .09-1.18 .08 1.18 .08-1.08 .08 1.08 .08-1.2 .08 1.2 .09-1.11 .08 1.11 .08-1.01 .08 1.01 .08-.98 .09 .98 .08-.86 .08 .86 .08-.85 .08 .85 .08-.67 .09 .67 .08-.51 .08 .51 .08-.39 .08 .39 .09-.28 .08 .28 .08-.3 .08 .3 .08-.29 .08 .29 .09-.31 .08 .31 .08-.29 .08 .29 .08-.29 .09 .29 .08-.28 .08 .28 .08-.31 .08 .31 .08-.3 .09 .3 .08-.31 .08 .31 .08-.24 .08 .4 .09-.2 .08 .39 .08-.21 .08 .39 .08-.2 .09 .39 .08-.23 .08 .4 .08-.39 .08 .2 .08-.41 .09 .23 .08-.41 .08 .22 .08-.43 .08 .25 .09-.58 .08 .43 .08-.56 .08 .56 .08-.7 .08 .7 .09-.68 .08 .68 .08-.82 .08 .82 .08-.83 .09 .83 .08-.88 .08 .88 .08-.88 .08 .88 .08-.93 .09 .93 .08-.97 .08 .97 .08-.85 .08 .85 .09-.89 .08 .89 .08-.73 .08 .73 .08-.74 .08 .74 .09-.65 .08 .65 .08-.51 .08 .51 .08-.39 .09 .39 .08-.31 .08 .31 .08-.28 .08 .28 .08-.31 .09 .31 .08-.28 .08 .28 .08-.29 .08 .29 .09-.3 .08 .3 .08-.32 .08 .32 .08-.28 .08 .54 .09 0 .08 .59 .08-.02 .08 .61 .08 0 .09 .58 .08-.01 .08 .6 .08-.14 .08 .02 .09-.61 .08 .02 .08-.62 .08 .03 .08-.59 .08 0 .09-.59 .08 0 .08-.41 .08 .28 .08-.28 .09 .28 .08-.43 .08 .43 .08-.55 .08 .55 .08-.65 .09 .65 .08-.79 .08 .79 .08-.91 .08 .91 .09-1.02 .08 1.02 .08-.96 .08 .96 .08-1.14 .08 1.14 .09-1.11 .08 1.11 .08-1.05 .08 1.05 .08-.99 .09 .99 .08-.98 .08 .98 .08-.87 .08 .87 .08-.86 .09 .86 .08-.77 .08 .77 .08-.66 .08 .66 .09-.53 .08 .53 .08-.37 .08 .37 .08-.3 .08 .3 .09-.33 .08 .33 .08-.3 .08 .3 .08-.32 .09 .32 .08-.28 .08 .28 .08-.31 .08 .31 .08-.29 .09 .29 .08-.32 .08 .32 .08-.31 .08 .31 .09-.3 .08 .3 .08-.29 .08 .29 .08-.32 .09 .32 .08-.28 .08 .28 .08-.32 .08 .32 .08-.28 .09 .28 .08-.32 .08 .32 .08-.3 .08 .3 .09-.29 .08 .29 .08-.37 .08 .37 .08-.61 .08 .61 .09-.78 .08 .78 .08-.91 .08 .91 .08-1.14 .09 1.14 .08-1.18 .08 1.18 .08-1.4 .08 1.4 .08-1.42 .09 1.42 .08-1.39 .08 1.39 .08-1.54 .08 1.54 .09-1.49 .08 1.49 .08-1.38 .08 1.38 .08-1.43 .08 1.43 .09-1.13 .08 1.13 .08-1.02 .08 1.02 .08-.86 .09 .86 .08-.69 .08 .69 .08-.52 .08 .52 .08-.29 .09 .29 .08-.32 .08 .32 .08-.05 .08 .96 .09 .38 .08 .94 .08 .35 .08 .97 .08 .33 .08 .99 .09 .37 .08 .94 .08-.56 .08-.38 .08-.95 .09-.37 .08-.94 .08-.37 .08-.98 .08-.34 .09-.95 .08-.34 .08-.31 .08 .31 .08-.29 .08 .29 .09-.32 .08 .32 .08-.3 .08 .3 .08-.29 .09 .29 .08-.32 .08 .32 .08-.31 .08 .31 .08-.44 .09 .44 .08-.55 .08 .55 .08-.62 .08 .62 .09-.76 .08 .76 .08-.81 .08 .81 .08-.89 .08 .89 .09-.91 .08 .91 .08-.98 .08 .98 .08-1.1 .09 1.1 .08-1.05 .08 1.05 .08-.99 .08 .99 .08-.91 .09 .91 .08-.88 .08 .88 .08-.83 .08 .83 .09-.78 .08 .78 .08-.66 .08 .66 .08-.53 .08 .53 .09-.34 .08 .34 .08-.31 .08 .31 .08-.29 .09 .29 .08-.28 .08 .56 .08 .17 .08 .76 .08 .14 .09 .79 .08 .17 .08 .76 .08 .15 .08 .78 .09 .18 .08-.11 .08-.76 .08-.17 .08-.77 .09-.16 .08-.76 .08-.17 .08-.77 .08-.16 .08-.65 .09 .3 .08-.3 .08 .3 .08-.28 .08 .28 .09-.3 .08 .3 .08-.3 .08 .3 .08-.29 .08 .29 .09-.37 .08 .37 .08-.5 .08 .5 .08-.71 .09 .71 .08-.81 .08 .81 .08-.96 .08 .96 .08-1.04 .09 1.04 .08-1.05 .08 1.05 .08-1.08 .08 1.08 .09-1.22 .08 1.22 .08-1.11 .08 1.11 .08-1.17 .08 1.17 .09-1.06 .08 1.06 .08-1 .08 1 .08-.98 .09 .98 .08-.88 .08 .88 .08-.69 .08 .69 .08-.6 .09 .6 .08-.47 .08 .47 .08-.33 .08 .33 .09-.28 .08 .28 .08-.31 .08 .31 .08-.32 .09 .32 .08-.28 .08 .28 .08-.29 .08 .29 .08-.21 .09 .43 .08-.14 .08 .46 .08-.13 .08 .45 .09-.15 .08 .47 .08-.14 .08 .46 .08-.4 .08 .17 .09-.47 .08 .15 .08-.47 .08 .15 .08-.44 .09 .12 .08-.45 .08 .14 .08-.31 .08 .31 .08-.31 .09 .31 .08-.29 .08 .29 .08-.48 .08 .48 .09-.75 .08 .75 .08-.88 .08 .88 .08-1.02 .08 1.02 .09-1.24 .08 1.24 .08-1.26 .08 1.26 .08-1.51 .09 1.51 .08-1.6 .08 1.6 .08-1.48 .08 1.48 .08-1.62 .09 1.62 .08-1.53 .08 1.53 .08-1.47 .08 1.47 .09-1.27 .08 1.27 .08-1.13 .08 1.13 .08-.92 .08 .92 .09-.78 .08 .78 .08-.62 .08 .62 .08-.38 .09 .38 .08-.32 .08 .32 .08-.28 .08 .28 .09-.28 .08 .28 .08-.29 .08 .29 .08 0 .08 .63 .09 .05 .08 .61 .08 .04 .08 .62 .08 .04 .09 .63 .08 .03 .08 .48 .08-.66 .08-.01 .08-.63 .09-.03 .08-.63 .08-.03 .08-.62 .08-.04 .09-.62 .08 .14 .08-.32 .08 .32 .08-.32 .08 .32 .09-.28 .08 .28 .08-.31 .08 .31 .08-.33 .09 .33 .08-.44 .08 .44 .08-.55 .08 .55 .08-.64 .09 .64 .08-.73 .08 .73 .08-.82 .08 .82 .09-.79 .08 .79 .08-.94 .08 .94 .08-.86 .08 .86 .09-.91 .08 .91 .08-.95 .08 .95 .08-.85 .09 .85 .08-.79 .08 .79 .08-.77 .08 .77 .08-.72 .09 .72 .08-.57 .08 .57 .08-.49 .08 .49 .09-.42 .08 .42 .08-.32 .08 .32 .08-.29 .09 .29 .08-.29 .08 .29 .08-.31 .08 .31 .08-.29 .09 .29 .08-.31 .08 .31 .08-.28 .08 .28 .09-.3 .08 .3 .08-.29 .08 .29 .08-.32 .08 .32 .09-.31 .08 .31 .08-.28 .08 .28 .08-.29 .09 .29 .08-.31 .08 .31 .08-.29 .08 .29 .08-.32 .09 .32 .08-.29 .08 .29 .08-.3 .08 .3 .09-.29 .08 .29 .08-.43 .08 .43 .08-.59 .08 .59 .09-.81 .08 .81 .08-.99 .08 .99 .08-1.09 .09 1.09 .08-1.11 .08 1.11 .08-1.29 .08 1.29 .08-1.27 .09 1.27 .08-1.26 .08 1.26 .08-1.38 .08 1.38 .09-1.27 .08 1.27 .08-1.15 .08 1.15 .08-1.18 .08 1.18 .09-1.05 .08 1.05 .08-.8 .08 .8 .08-.72 .09 .72 .08-.57 .08 .57 .08-.41 .08 .41 .09-.3 .08 .3 .08-.32 .08 .32 .08-.3 .08 .3 .09-.29 .08 .29 .08-.29 .08 .29 .08-.31 .09 .31 .08-.31 .08 .31 .08-.29 .08 .29 .08-.3 .09 .3 .08-.29 .08 .29 .08-.29 .08 .29 .09-.31 .08 .31 .08-.29 .08 .29 .08-.31 .08 .31 .09-.3 .08 .3 .08-.29 .08 .29 .08-.28 .09 .28 .08-.32 .08 .32 .08-.43 .08 .43 .08-.59 .09 .59 .08-.83 .08 .83 .08-1 .08 1 .09-1.06 .08 1.06 .08-1.32 .08 1.32 .08-1.36 .08 1.36 .09-1.43 .08 1.43 .08-1.5 .08 1.5 .08-1.51 .09 1.51 .08-1.62 .08 1.62 .08-1.48 .08 1.48 .08-1.32 .09 1.32 .08-1.28 .08 1.28 .08-1.04 .08 1.04 .09-.96 .08 .96 .08-.69 .08 .69 .08-.52 .09 .52 .08-.32 .08 .32 .08-.31 .08 .31 .08-.28 .09 .28 .08-.31 .08 .31 .08-.29 .08 .29 .09-.3 .08 .3 .08-.31 .08 .38 .08-.13 .08 .45 .09-.13 .08 .45 .08-.17 .08 .49 .08-.16 .09 .48 .08-.13 .08 .21 .08-.45 .08 .13 .08-.47 .09 .15 .08-.47 .08 .15 .08-.45 .08 .13 .09-.46 .08 .31 .08-.3 .08 .3 .08-.28 .08 .28 .09-.4 .08 .4 .08-.51 .08 .51 .08-.66 .09 .66 .08-.75 .08 .75 .08-.82 .08 .82 .08-.89 .09 .89 .08-.98 .08 .98 .08-1.08 .08 1.08 .09-1.09 .08 1.09 .08-1.05 .08 1.05 .08-1.04 .09 1.04 .08-1.02 .08 1.02 .08-.93 .08 .93 .08-.81 .09 .81 .08-.67 .08 .67 .08-.64 .08 .64 .09-.51 .08 .51 .08-.37 .08 .37 .08-.31 .08 .31 .09-.31 .08 .31 .08-.29 .08 .29 .08-.3 .09 .3 .08-.29 .08 .29 .08-.28 .08 .28 .08-.3 .09 .3 .08-.32 .08 .32 .08-.28 .08 .28 .09-.29 .08 .4 .08-.21 .08 .4 .08-.22 .08 .41 .09-.21 .08 .39 .08-.2 .08 .39 .08-.31 .09 .2 .08-.38 .08 .2 .08-.38 .08 .19 .08-.4 .09 .22 .08-.49 .08 .3 .08-.55 .08 .54 .09-.7 .08 .7 .08-.89 .08 .89 .08-1.03 .08 1.03 .09-1.08 .08 1.08 .08-1.25 .08 1.25 .08-1.23 .09 1.23 .08-1.34 .08 1.34 .08-1.28 .08 1.28 .09-1.19 .08 1.19 .08-1.28 .08 1.28 .08-1.04 .08 1.04 .09-1.05 .08 1.05 .08-.92 .08 .92 .08-.78 .09 .78 .08-.58 .08 .58 .08-.44 .08 .44 .08-.3 .09 .3 .08-.32 .08 .32 .08-.29 .08 .29 .09-.32 .08 .32 .08-.28 .08 .28 .08-.29 .08 .29 .09-.3 .08 .3 .08-.32 .08 .32 .08-.3 .09 .3 .08-.08 .08 .52 .08-.09 .08 .55 .08-.07 .09 .52 .08-.07 .08 .53 .08-.07 .08 .39 .09-.52 .08 .06 .08-.53 .08 .08 .08-.54 .08 .09 .09-.51 .08 .05 .08-.55 .08 .24 .08-.48 .09 .48 .08-.74 .08 .74 .08-.94 .08 .94 .08-1.06 .09 1.06 .08-1.13 .08 1.13 .08-1.33 .08 1.33 .09-1.37 .08 1.37 .08-1.42 .08 1.42 .08-1.48 .09 1.48 .08-1.42 .08 1.42 .08-1.38 .08 1.38 .08-1.27 .09 1.27 .08-1.27 .08 1.27 .08-1.1 .08 1.1 .09-.9 .08 .9 .08-.78 .08 .78 .08-.6 .08 .6 .09-.37 .08 .37 .08-.29 .08 .29 .08-.32 .09 .32 .08-.28 .08 .28 .08-.32 .08 .56 .08 .09 .09 .67 .08 .08 .08 .69 .08 .06 .08 .7 .09 .08 .08 .69 .08 .09 .08-.04 .08-.71 .08-.06 .09-.67 .08-.1 .08-.66 .08-.1 .08-.68 .09-.09 .08-.6 .08 .32 .08-.32 .08 .32 .08-.31 .09 .31 .08-.29 .08 .29 .08-.32 .08 .32 .09-.39 .08 .39 .08-.45 .08 .45 .08-.57 .08 .57 .09-.7 .08 .7 .08-.78 .08 .78 .08-.8 .09 .8 .08-.99 .08 .99 .08-.96 .08 .96 .09-1.06 .08 1.06 .08-1.06 .08 1.06 .08-.94 .08 .94 .09-.87 .08 .87 .08-.9 .08 .9 .08-.77 .09 .77 .08-.67 .08 .67 .08-.64 .08 .64 .08-.55 .09 .55 .08-.41 .08 .41 .08-.32 .08 .32 .09-.29 .08 .29 .08-.32 .08 .32 .08-.28 .08 .28 .09-.32 .08 .32 .08-.3 .08 .3 .08-.31 .09 .31 .08-.28 .08 .28 .08-.3 .08 .3 .08-.29 .09 .29 .08-.28 .08 .28 .08-.31 .08 .31 .09-.32 .08 .32 .08-.28 .08 .28 .08-.31 .08 .31 .09-.32 .08 .32 .08-.3 .08 .3 .08-.29 .09 .29 .08-.29 .08 .29 .08-.49 .08 .49 .08-.67 .09 .67 .08-.82 .08 .82 .08-.9 .08 .9 .09-1.02 .08 1.02 .08-1.16 .08 1.16 .08-1.21 .09 1.21 .08-1.15 .08 1.15 .08-1.33 .08 1.33 .08-1.15 .09 1.15 .08-1.13 .08 1.13 .08-1.13 .08 1.13 .09-1.11 .08 1.11 .08-.95 .08 .95 .08-.81 .08 .81 .09-.67 .08 .67 .08-.51 .08 .51 .08-.35 .09 .35 .08-.31 .08 .31 .08-.32 .08 .32 .08-.28 .09 .28 .08-.3 .08 .3 .08-.32 .08 .32 .09-.31 .08 .31 .08-.29 .08 .29 .08-.29 .08 .29 .09-.31 .08 .31 .08-.31 .08 .31 .08-.29 .09 .29 .08-.29 .08 .29 .08-.3 .08 .3 .08-.31 .09 .31 .08-.31 .08 .31 .08-.28 .08 .28 .09-.31 .08 .31 .08-.3 .08 .3 .08-.42 .09 .42 .08-.6 .08 .6 .08-.71 .08 .71 .08-.91 .09 .91 .08-1.03 .08 1.03 .08-1.19 .08 1.19 .09-1.37 .08 1.37 .08-1.46 .08 1.46 .08-1.46 .08 1.46 .09-1.31 .08 1.31 .08-1.39 .08 1.39 .08-1.34 .09 1.34 .08-1.26 .08 1.26 .08-1.19 .08 1.19 .08-1.03 .09 1.03 .08-.84 .08 .84 .08-.66 .08 .66 .09-.46 .08 .46 .08-.3 .08 .3 .08-.28 .08 .28 .09-.29 .08 .29 .08-.29 .08 .29 .08-.31 .09 .31 .08-.19 .08 .47 .08-.16 .08 .48 .08-.16 .09 .48 .08-.12 .08 .44 .08-.15 .08 .44 .09-.46 .08 .14 .08-.46 .08 .14 .08-.48 .08 .16 .09-.44 .08 .12 .08-.44 .08 .19 .08-.29 .09 .29 .08-.28 .08 .28 .08-.29 .08 .29 .09-.31 .08 .31 .08-.49 .08 .49 .08-.64 .08 .64 .09-.79 .08 .79 .08-.99 .08 .99 .08-1.17 .09 1.17 .08-1.12 .08 1.12 .08-1.19 .08 1.19 .08-1.4 .09 1.4 .08-1.45 .08 1.45 .08-1.35 .08 1.35 .09-1.36 .08 1.36 .08-1.23 .08 1.23 .08-1.18 .08 1.18 .09-1.03 .08 1.03 .08-.83 .08 .83 .08-.72 .09 .72 .08-.52 .08 .52 .08-.37 .08 .37 .08-.29 .09 .29 .08-.28 .08 .28 .08-.3 .08 .3 .09-.28 .08 .28 .08-.29 .08 .29 .08-.28 .08 .28 .09-.27 .08 .35 .08-.22 .08 .34 .08-.24 .09 .37 .08-.25 .08 .38 .08-.25 .08 .37 .08-.31 .09 .24 .08-.34 .08 .22 .08-.35 .08 .22 .09-.39 .08 .26 .08-.37 .08 .25 .08-.33 .09 .32 .08-.29 .08 .29 .08-.37 .08 .37 .08-.58 .09 .58 .08-.65 .08 .65 .08-.82 .08 .82 .09-1.02 .08 1.02 .08-1.06 .08 1.06 .08-1.12 .08 1.12 .09-1.23 .08 1.23 .08-1.25 .08 1.25 .08-1.16 .09 1.16 .08-1.14 .08 1.14 .08-1.1 .08 1.1 .08-1.13 .09 1.13 .08-1.01 .08 1.01 .08-.89 .08 .89 .09-.7 .08 .7 .08-.6 .08 .6 .08-.47 .08 .47 .09-.31 .08 .31 .08-.3 .08 .3 .08-.28 .09 .28 .08-.28 .08 .28 .08-.29 .08 .29 .08-.28 .09 .28 .08-.32 .08 .32 .08-.3 .08 .3 .09-.3 .08 .3 .08-.33 .08 .33 .08-.31 .08 .31 .09-.3 .08 .3 .08-.28 .08 .28 .08-.3 .09 .3 .08-.32 .08 .32 .08-.31 .08 .31 .09-.3 .08 .3 .08-.29 .08 .29 .08-.33 .08 .33 .09-.44 .08 .44 .08-.57 .08 .57 .08-.62 .09 .62 .08-.79 .08 .79 .08-.91 .08 .91 .08-.91 .09 .91 .08-.92 .08 .92 .08-.98 .08 .98 .09-1.06 .08 1.06 .08-1.08 .08 1.08 .08-.97 .08 .97 .09-.94 .08 .94 .08-.84 .08 .84 .08-.8 .09 .8 .08-.74 .08 .74 .08-.57 .08 .57 .08-.45 .09 .45 .08-.34 .08 .34 .08-.29 .08 .29 .09-.32 .08 .32 .08-.29 .08 .29 .08-.32 .08 .32 .09-.32 .08 .32 .08-.3 .08 .3 .08-.32 .09 .32 .08-.31 .08 .31 .08-.3 .08 .3 .08-.31 .09 .31 .08-.29 .08 .29 .08-.31 .08 .31 .09-.29 .08 .29 .08-.29 .08 .29 .08-.29 .09 .29 .08-.3 .08 .3 .08-.29 .08 .29 .08-.32 .09 .32 .08-.42 .08 .42 .08-.56 .08 .56 .09-.68 .08 .68 .08-.88 .08 .88 .08-.99 .08 .99 .09-.98 .08 .98 .08-1.15 .08 1.15 .08-1.1 .09 1.1 .08-1.25 .08 1.25 .08-1.26 .08 1.26 .08-1.23 .09 1.23 .08-1.23 .08 1.23 .08-.99 .08 .99 .09-.95 .08 .95 .08-.82 .08 .82 .08-.72 .08 .72 .09-.59 .08 .59 .08-.43 .08 .43 .08-.3 .09 .3 .08-.32 .08 .32 .08-.28 .08 .28 .08-.31 .09 .31 .08-.28 .08 .28 .08-.3 .08 .3 .09-.28 .08 .28 .08-.29 .08 .29 .08-.29 .08 .29 .09-.32 .08 .32 .08-.32 .08 .32 .08-.3 .09 .3 .08-.29 .08 .29 .08-.31 .08 .31 .09-.29 .08 .29 .08-.32 .08 .32 .08-.3 .08 .3 .09-.31 .08 .31 .08-.31 .08 .31 .08-.48 .09 .48 .08-.63 .08 .63 .08-.67 .08 .67 .08-.79 .09 .79 .08-.88 .08 .88 .08-1.07 .08 1.07 .09-1.1 .08 1.1 .08-1.2 .08 1.2 .08-1.09 .08 1.09 .09-1.21 .08 1.21 .08-1.17 .08 1.17 .08-1.05 .09 1.05 .08-.93 .08 .93 .08-.93 .08 .93 .08-.74 .09 .74 .08-.66 .08 .66 .08-.5 .08 .5 .09-.34 .08 .34 .08-.32 .08 .32 .08-.28 .08 .28 .09-.29 .08 .29 .08-.29 .08 .29 .08-.3 .09 .3 .08-.31 .08 .31 .08 .17 .08 .81 .09 .18 .08 .81 .08 .18 .08 .81 .08 .21 .08 .78 .09 .21 .08 .47 .08-.8 .08-.19 .08-.81 .09-.18 .08-.8 .08-.19 .08-.81 .08-.18 .08-.78 .09 .11 .08-.32 .08 .32 .08-.31 .08 .31 .09-.43 .08 .43 .08-.57 .08 .57 .08-.74 .08 .74 .09-.85 .08 .85 .08-.91 .08 .91 .08-.97 .09 .97 .08-1.12 .08 1.12 .08-1.16 .08 1.16 .08-1.15 .09 1.15 .08-1.25 .08 1.25 .08-1.29 .08 1.29 .09-1.2 .08 1.2 .08-1.07 .08 1.07 .08-.93 .08 .93 .09-.87 .08 .87 .08-.72 .08 .72 .08-.63 .09 .63 .08-.46 .08 .46 .08-.31 .08 .31 .08-.33 .09 .33 .08-.31 .08 .31 .08-.29 .08 .29 .09-.29 .08 .29 .08-.3 .08 .3 .08-.29 .09 .29 .08-.29 .08 .29 .08-.32 .08 .32 .08-.3 .09 .3 .08-.31 .08 .31 .08-.28 .08 .28 .09-.3 .08 .3 .08-.28 .08 .28 .08-.28 .08 .28 .09-.32 .08 .32 .08-.29 .08 .29 .08-.33 .09 .33 .08-.33 .08 .33 .08-.43 .08 .43 .08-.6 .09 .6 .08-.7 .08 .7 .08-.9 .08 .9 .09-1.02 .08 1.02 .08-1.04 .08 1.04 .08-1.13 .08 1.13 .09-1.18 .08 1.18 .08-1.06 .08 1.06 .08-1.07 .09 1.07 .08-1.14 .08 1.14 .08-1.08 .08 1.08 .08-.97 .09 .97 .08-.92 .08 .92 .08-.78 .08 .78 .09-.62 .08 .62 .08-.49 .08 .49 .08-.35 .08 .35 .09-.31 .08 .31 .08-.31 .08 .31 .08-.29 .09 .29 .08-.32 .08 .32 .08-.32 .08 .32 .09-.31 .08 .31 .08-.32 .08 .32 .08-.28 .08 .28 .09-.3 .08 .3 .08-.31 .08 .31 .08-.32 .09 .32 .08-.31 .08 .31 .08-.32 .08 .32 .08-.32 .09 .32 .08-.31 .08 .31 .08-.31 .08 .31 .09-.33 .08 .33 .08-.28 .08 .28 .08-.42 .08 .42 .09-.63 .08 .63 .08-.81 .08 .81 .08-1.02 .09 1.02 .08-1.13 .08 1.13 .08-1.17 .08 1.17 .08-1.4 .09 1.4 .08-1.42 .08 1.42 .08-1.34 .08 1.34 .09-1.42 .08 1.42 .08-1.39 .08 1.39 .08-1.28 .08 1.28 .09-1.28 .08 1.28 .08-1.22 .08 1.22 .08-.94 .09 .94 .08-.8 .08 .8 .08-.67 .08 .67 .08-.48 .09 .48 .08-.31 .08 .31 .08-.3 .08 .3 .09-.28 .08 .28 .08-.32 .08 .32 .08-.3 .09 .3 .08-.3 .08 .3 .08-.32 .08 .32 .08-.29 .09 .29 .08-.32 .08 .32 .08-.29 .08 .29 .09-.3 .08 .3 .08-.31 .08 .31 .08-.3 .08 .3 .09-.32 .08 .32 .08-.32 .08 .32 .08-.29 .09 .29 .08-.32 .08 .32 .08-.28 .08 .28 .08-.31 .09 .31 .08-.52 .08 .52 .08-.76 .08 .76 .09-.83 .08 .83 .08-1.04 .08 1.04 .08-1.13 .08 1.13 .09-1.34 .08 1.34 .08-1.29 .08 1.29 .08-1.36 .09 1.36 .08-1.36 .08 1.36 .08-1.41 .08 1.41 .08-1.36 .09 1.36 .08-1.3 .08 1.3 .08-1.11 .08 1.11 .09-1.12 .08 1.12 .08-.89 .08 .89 .08-.69 .08 .69 .09-.52 .08 .52 .08-.36 .08 .36 .08-.3 .09 .3 .08-.32 .08 .32 .08-.32 .08 .32 .09-.32 .08 .32 .08-.28 .08 .28 .08-.31 .08 .31 .09-.31 .08 .31 .08-.31 .08 .31 .08-.31 .09 .35 .08-.24 .08 .36 .08-.23 .08 .36 .08-.22 .09 .35 .08-.24 .08 .36 .08-.21 .08 .22 .09-.34 .08 .22 .08-.37 .08 .24 .08-.34 .08 .21 .09-.34 .08 .22 .08-.45 .08 .4 .08-.54 .09 .54 .08-.62 .08 .62 .08-.81 .08 .81 .08-.91 .09 .91 .08-1 .08 1 .08-1.04 .08 1.04 .09-1.12 .08 1.12 .08-1.15 .08 1.15 .08-1.06 .08 1.06 .09-1.1 .08 1.1 .08-1.12 .08 1.12 .08-.99 .09 .99 .08-.94 .08 .94 .08-.76 .08 .76 .09-.68 .08 .68 .08-.5 .08 .5 .08-.39 .08 .39 .09-.3 .08 .3 .08-.3 .08 .3 .08-.29 .09 .29 .08-.31 .08 .31 .08-.3 .08 .3 .08-.32 .09 .32 .08-.3 .08 .3 .08-.29 .08 .29 .09-.27 .08 .42 .08-.17 .08 .4 .08-.2 .08 .43 .09-.17 .08 .4 .08-.2 .08 .43 .08-.34 .09 .19 .08-.42 .08 .19 .08-.4 .08 .17 .08-.43 .09 .2 .08-.41 .08 .18 .08-.32 .08 .32 .09-.5 .08 .5 .08-.67 .08 .67 .08-.76 .08 .76 .09-.99 .08 .99 .08-1 .08 1 .08-1.14 .09 1.14 .08-1.17 .08 1.17 .08-1.17 .08 1.17 .08-1.32 .09 1.32 .08-1.22 .08 1.22 .08-1.24 .08 1.24 .09-1.15 .08 1.15 .08-1.05 .08 1.05 .08-.92 .09 .92 .08-.87 .08 .87 .08-.71 .08 .71 .08-.55 .09 .55 .08-.37 .08 .37 .08-.32 .08 .32 .09-.3 .08 .3 .08-.31 .08 .31 .08-.29 .08 .29 .09-.3 .08 .3 .08-.3 .08 .3 .08-.28 .09 .28 .08-.21 .08 .4 .08-.2 .08 .39 .08-.19 .09 .37 .08-.21 .08 .4 .08-.23 .08 .34 .09-.39 .08 .21 .08-.39 .08 .2 .08-.39 .08 .2 .09-.41 .08 .23 .08-.41 .08 .29 .08-.29 .09 .29 .08-.42 .08 .42 .08-.53 .08 .53 .08-.64 .09 .64 .08-.82 .08 .82 .08-.89 .08 .89 .09-1.01 .08 1.01 .08-1.02 .08 1.02 .08-1.03 .08 1.03 .09-1.16 .08 1.16 .08-1.13 .08 1.13 .08-1.09 .09 1.09 .08-.99 .08 .99 .08-.95 .08 .95 .09-.92 .08 .92 .08-.79 .08 .79 .08-.64 .08 .64 .09-.56 .08 .56 .08-.38 .08 .38 .08-.31 .09 .31 .08-.31 .08 .31 .08-.32 .08 .32 .08-.28 .09 .28 .08-.32 .08 .32 .08-.31 .08 .31 .09-.3 .08 .36 .08-.2 .08 .36 .08-.22 .08 .37 .09-.21 .08 .37 .08-.22 .08 .38 .08-.22 .09 .2 .08-.39 .08 .23 .08-.38 .08 .22 .08-.38 .09 .23 .08-.39 .08 .23 .08-.35 .08 .31 .09-.28 .08 .28 .08-.33 .08 .33 .08-.46 .08 .46 .09-.59 .08 .59 .08-.76 .08 .76 .08-.96 .09 .96 .08-.95 .08 .95 .08-1.05 .08 1.05 .08-1.17 .09 1.17 .08-1.21 .08 1.21 .08-1.27 .08 1.27 .09-1.17 .08 1.17 .08-1.24 .08 1.24 .08-1.13 .09 1.13 .08-.98 .08 .98 .08-.84 .08 .84 .08-.76 .09 .76 .08-.66 .08 .66 .08-.51 .08 .51 .09-.34 .08 .34 .08-.31 .08 .31 .08-.29 .08 .29 .09-.29 .08 .29 .08-.32 .08 .32 .08-.32 .09 .32 .08-.29 .08 .29 .08-.31 .08 .31 .08-.32 .09 .32 .08-.31 .08 .31 .08-.27 .08 .39 .09-.24 .08 .4 .08-.21 .08 .37 .08-.23 .08 .38 .09-.22 .08 .38 .08-.37 .08 .22 .08-.36 .09 .21 .08-.37 .08 .21 .08-.36 .08 .2 .08-.49 .09 .36 .08-.53 .08 .53 .08-.62 .08 .62 .09-.84 .08 .84 .08-.91 .08 .91 .08-.92 .08 .92 .09-1.15 .08 1.15 .08-1.08 .08 1.08 .08-1.11 .09 1.11 .08-1.11 .08 1.11 .08-1.05 .08 1.05 .09-1.11 .08 1.11 .08-.93 .08 .93 .08-.96 .08 .96 .09-.85 .08 .85 .08-.72 .08 .72 .08-.54 .09 .54 .08-.4 .08 .4 .08-.31 .08 .31 .08-.31 .09 .31 .08-.28 .08 .28 .08-.29 .08 .29 .09-.32 .08 .32 .08-.33 .08 .33 .08-.29 .08 .29 .09-.3 .08 .3 .08-.32 .08 .43 .08 .04 .09 .62 .08 .05 .08 .62 .08 .02 .08 .64 .08 .02 .09 .64 .08 .05 .08 .17 .08-.63 .08-.03 .09-.61 .08-.05 .08-.64 .08-.02 .08-.63 .08-.04 .09-.64 .08 .31 .08-.54 .08 .54 .08-.67 .09 .67 .08-.82 .08 .82 .08-.97 .08 .97 .09-1.16 .08 1.16 .08-1.28 .08 1.28 .08-1.37 .08 1.37 .09-1.39 .08 1.39 .08-1.4 .08 1.4 .08-1.29 .09 1.29 .08-1.28 .08 1.28 .08-1.25 .08 1.25 .08-1.18 .09 1.18 .08-1.05 .08 1.05 .08-.84 .08 .84 .09-.71 .08 .71 .08-.56 .08 .56 .08-.31 .08 .31 .09-.31 .08 .31 .08-.32 .08 .32 .08-.33 .09 .33 .08-.33 .08 .33 .08-.29 .08 .29 .08-.32 .09 .32 .08-.31 .08 .31 .08-.29 .08 .29 .09-.3 .08 .3 .08-.33 .08 .33 .08-.31 .08 .31 .09-.28 .08 .28 .08-.31 .08 .31 .08-.32 .09 .32 .08-.31 .08 .31 .08-.31 .08 .31 .08-.32 .09 .32 .08-.31 .08 .31 .08-.44 .08 .44 .09-.52 .08 .52 .08-.65 .08 .65 .08-.83 .09 .83 .08-.92 .08 .92 .08-.98 .08 .98 .08-1.03 .09 1.03 .08-1.15 .08 1.15 .08-1.15 .08 1.15 .09-1.08 .08 1.08 .08-1.14 .08 1.14 .08-1.08 .08 1.08 .09-1.06 .08 1.06 .08-.85 .08 .85 .08-.74 .09 .74 .08-.72 .08 .72 .08-.56 .08 .56 .08-.38 .09 .38 .08-.31 .08 .31 .08-.29 .08 .29 .09-.31 .08 .31 .08-.3 .08 .3 .08-.28 .08 .28 .09-.32 .08 .32 .08-.31 .08 .31 .08-.29 .09 .29 .08-.31 .08 .31 .08-.29 .08 .29 .08-.29 .09 .29 .08-.32 .08 .32 .08-.29 .08 .29 .09-.32 .08 .32 .08-.28 .08 .28 .08-.31 .08 .31 .09-.32 .08 .32 .08-.3 .08 .3 .08-.37 .09 .37 .08-.51 .08 .51 .08-.67 .08 .67 .09-.81 .08 .81 .08-.96 .08 .96 .08-1.06 .08 1.06 .09-1.03 .08 1.03 .08-1.19 .08 1.19 .08-1.19 .09 1.19 .08-1.29 .08 1.29 .08-1.18 .08 1.18 .08-1.11 .09 1.11 .08-1.07 .08 1.07 .08-.94 .08 .94 .09-.94 .08 .94 .08-.76 .08 .76 .08-.6 .08 .6 .09-.51 .08 .51 .08-.35 .08 .35 .08-.3 .09 .3 .08-.31 .08 .31 .08-.28 .08 .28 .08-.32 .09 .32 .08-.29 .08 .29 .08-.3 .08 .3 .09-.31 .08 .31 .08-.31 .08 .31 .08-.29 .08 .29 .09-.31 .08 .31 .08-.32 .08 .32 .08-.29 .09 .29 .08-.31 .08 .31 .08-.31 .08 .31 .08-.3 .09 .3 .08-.31 .08 .31 .08-.31 .08 .31 .09-.29 .08 .29 .08-.43 .08 .43 .08-.6 .09 .6 .08-.86 .08 .86 .08-1.01 .08 1.01 .08-1.03 .09 1.03 .08-1.14 .08 1.14 .08-1.29 .08 1.29 .09-1.34 .08 1.34 .08-1.38 .08 1.38 .08-1.34 .08 1.34 .09-1.28 .08 1.28 .08-1.3 .08 1.3 .08-1.11 .09 1.11 .08-1.06 .08 1.06 .08-.91 .08 .91 .08-.75 .09 .75 .08-.56 .08 .56 .08-.45 .08 .45 .09-.3 .08 .3 .08-.3 .08 .3 .08-.3 .08 .3 .09-.29 .08 .29 .08-.29 .08 .29 .08-.28 .09 .28 .08-.32 .08 .32 .08-.31 .08 .31 .08-.29 .09 .29 .08-.31 .08 .31 .08-.3 .08 .3 .09-.31 .08 .31 .08-.28 .08 .28 .08-.32 .08 .32 .09-.3 .08 .3 .08-.29 .08 .29 .08-.31 .09 .31 .08-.3 .08 .3 .08-.33 .08 .33 .09-.5 .08 .5 .08-.61 .08 .61 .08-.75 .08 .75 .09-.92 .08 .92 .08-1.03 .08 1.03 .08-1 .09 1 .08-1.06 .08 1.06 .08-1.09 .08 1.09 .08-1.17 .09 1.17 .08-1.21 .08 1.21 .08-1.04 .08 1.04 .09-1.14 .08 1.14 .08-1.03 .08 1.03 .08-.91 .08 .91 .09-.75 .08 .75 .08-.61 .08 .61 .08-.5 .09 .5 .08-.31 .08 .31 .08-.31 .08 .31 .08-.32 .09 .32 .08-.29 .08 .29 .08-.3 .08 .3 .09-.32 .08 .32 .08-.22 .08 .49 .08-.09 .08 .48 .09-.12 .08 .51 .08-.08 .08 .48 .08-.1 .09 .49 .08-.37 .08 .1 .08-.49 .08 .1 .09-.5 .08 .11 .08-.48 .08 .08 .08-.47 .08 .08 .09-.3 .08 .3 .08-.31 .08 .31 .08-.32 .09 .32 .08-.46 .08 .46 .08-.71 .08 .71 .08-.89 .09 .89 .08-1.01 .08 1.01 .08-1.23 .08 1.23 .09-1.36 .08 1.36 .08-1.29 .08 1.29 .08-1.58 .08 1.58 .09-1.47 .08 1.47 .08-1.61 .08 1.61 .08-1.5 .09 1.5 .08-1.38 .08 1.38 .08-1.26 .08 1.26 .08-1.11 .09 1.11 .08-1.04 .08 1.04 .08-.87 .08 .87 .09-.62 .08 .62 .08-.4 .08 .56 .08-.06 .08 .56 .09-.08 .08 .58 .08-.05 .08 .54 .08-.04 .09 .54 .08-.04 .08 .06 .08-.57 .08 .07 .08-.53 .09 .03 .08-.57 .08 .07 .08-.53 .08 .03 .09-.48 .08 .31 .08-.29 .08 .29 .08-.32 .09 .32 .08-.31 .08 .31 .08-.31 .08 .31 .08-.3 .09 .3 .08-.32 .08 .32 .08-.3 .08 .3 .09-.32 .08 .32 .08-.32 .08 .32 .08-.47 .08 .47 .09-.53 .08 .53 .08-.71 .08 .71 .08-.8 .09 .8 .08-.83 .08 .83 .08-1 .08 1 .08-.98 .09 .98 .08-.99 .08 .99 .08-.96 .08 .96 .09-1.02 .08 1.02 .08-1.04 .08 1.04 .08-.94 .08 .94 .09-.86 .08 .86 .08-.73 .08 .73 .08-.66 .09 .66 .08-.55 .08 .55 .08-.45 .08 .45 .08-.3 .09 .3 .08-.28 .08 .28 .08-.3 .08 .3 .09-.31 .08 .31 .08-.32 .08 .32 .08-.3 .08 .3 .09-.31 .08 .31 .08-.3 .08 .3 .08-.29 .09 .29 .08-.31 .08 .31 .08-.32 .08 .32 .09-.29 .08 .29 .08-.3 .08 .3 .08-.28 .08 .28 .09-.29 .08 .29 .08-.29 .08 .29 .08-.28 .09 .28 .08-.3 .08 .3 .08-.29 .08 .29 .08-.44 .09 .44 .08-.66 .08 .66 .08-.86 .08 .86 .09-.91 .08 .91 .08-1.1 .08 1.1 .08-1.2 .08 1.2 .09-1.36 .08 1.36 .08-1.44 .08 1.44 .08-1.28 .09 1.28 .08-1.31 .08 1.31 .08-1.25 .08 1.25 .08-1.33 .09 1.33 .08-1.28 .08 1.28 .08-1.16 .08 1.16 .09-.88 .08 .88 .08-.72 .08 .72 .08-.58 .08 .58 .09-.39 .08 .39 .08-.3 .08 .3 .08-.31 .09 .31 .08-.29 .08 .29 .08-.28 .08 .28 .08-.31 .09 .31 .08-.29 .08 .29 .08-.33 .08 .33 .09-.3 .08 .3 .08-.28 .08 .28 .08-.29 .09 .29 .08-.29 .08 .29 .08-.31 .08 .31 .08-.29 .09 .29 .08-.3 .08 .3 .08-.31 .08 .31 .09-.29 .08 .29 .08-.28 .08 .28 .08-.3 .08 .3 .09-.33 .08 .33 .08-.49 .08 .49 .08-.68 .09 .68 .08-.74 .08 .74 .08-.91 .08 .91 .08-1 .09 1 .08-1.02 .08 1.02 .08-1.21 .08 1.21 .09-1.16 .08 1.16 .08-1.26 .08 1.26 .08-1.22 .08 1.22 .09-1.14 .08 1.14 .08-1.07 .08 1.07 .08-.99 .09 .99 .08-.84 .08 .84 .08-.81 .08 .81 .08-.58 .09 .58 .08-.48 .08 .48 .08-.34 .08 .34 .09-.31 .08 .31 .08-.29 .08 .29 .08-.29 .08 .29 .09-.3 .08 .3 .08-.31 .08 .31 .08-.29 .09 .29 .08-.28 .08 .28 .08-.28 .08 .28 .09-.32 .08 .32 .08-.3 .08 .3 .08-.33 .08 .33 .09-.29 .08 .29 .08-.32 .08 .32 .08-.3 .09 .3 .08-.29 .08 .29 .08-.3 .08 .3 .08-.32 .09 .32 .08-.28 .08 .28 .08-.44 .08 .44 .09-.56 .08 .56 .08-.66 .08 .66 .08-.82 .08 .82 .09-.95 .08 .95 .08-.98 .08 .98 .08-1.07 .09 1.07 .08-1.11 .08 1.11 .08-1.12 .08 1.12 .08-1.25 .09 1.25 .08-1.21 .08 1.21 .08-1.16 .08 1.16 .09-.99 .08 .99 .08-.99 .08 .99 .08-.84 .08 .84 .09-.65 .08 .65 .08-.54 .08 .54 .08-.42 .09 .42 .08-.33 .08 .33 .08-.28 .08 .28 .09-.29 .08 .29 .08-.28 .08 .28 .08-.29 .08 .29 .09-.28 .08 .28 .08-.32 .08 .32 .08-.32 .09 .32 .08-.32 .08 .32 .08-.32 .08 .32 .08-.31 .09 .31 .08-.33 .08 .33 .08-.31 .08 .31 .09-.31 .08 .31 .08-.29 .08 .29 .08-.3 .08 .3 .09-.31 .08 .31 .08-.31 .08 .31 .08-.36 .09 .36 .08-.53 .08 .53 .08-.66 .08 .66 .08-.89 .09 .89 .08-1.01 .08 1.01 .08-1.14 .08 1.14 .09-1.18 .08 1.18 .08-1.27 .08 1.27 .08-1.27 .08 1.27 .09-1.28 .08 1.28 .08-1.21 .08 1.21 .08-1.35 .09 1.35 .08-1.17 .08 1.17 .08-1.07 .08 1.07 .08-.97 .09 .97 .08-.88 .08 .88 .08-.61 .08 .61 .09-.46 .08 .46 .08-.31 .08 .31 .08-.32 .09 .32 .08-.28 .08 .28 .08-.29 .08 .29 .08-.31 .09 .31 .08-.29 .08 .29 .08-.28 .08 .28 .09-.19 .08 .61 .08-.02 .08 .61 .08 .01 .08 .57 .09-.02 .08 .61 .08-.03 .08 .62 .08-.46 .09 .02 .08-.6 .08 .01 .08-.62 .08 .03 .08-.6 .09 .01 .08-.61 .08 .05 .08-.32 .08 .32 .09-.32 .08 .32 .08-.41 .08 .41 .08-.62 .08 .62 .09-.79 .08 .79 .08-.91 .08 .91 .08-.95 .09 .95 .08-1.15 .08 1.15 .08-1.25 .08 1.25 .08-1.14 .09 1.14 .08-1.3 .08 1.3 .08-1.32 .08 1.32 .09-1.16 .08 1.16 .08-1.1 .08 1.1 .08-1.16 .08 1.16 .09-.94 .08 .94 .08-.85 .08 .85 .08-.66 .09 .66 .08-.53 .08 .53 .08-.39 .08 .39 .09-.32 .08 .32 .08-.32 .08 .32 .08-.29 .08 .29 .09-.29 .08 .4 .08-.1 .08 .49 .08-.09 .09 .49 .08-.13 .08 .52 .08-.08 .08 .48 .08-.11 .09 .15 .08-.49 .08 .1 .08-.48 .08 .08 .09-.47 .08 .08 .08-.5 .08 .1 .08-.47 .08 .32 .09-.29 .08 .29 .08-.3 .08 .3 .08-.29 .09 .29 .08-.32 .08 .32 .08-.36 .08 .36 .08-.53 .09 .53 .08-.64 .08 .64 .08-.76 .08 .76 .09-.97 .08 .97 .08-.99 .08 .99 .08-1.13 .08 1.13 .09-1.08 .08 1.08 .08-1.24 .08 1.24 .08-1.17 .09 1.17 .08-1.16 .08 1.16 .08-1.08 .08 1.08 .08-1.04 .09 1.04 .08-1.04 .08 1.04 .08-.85 .08 .85 .09-.8 .08 .8 .08-.62 .08 .62 .08-.5 .09 .5 .08-.31 .08 .31 .08-.32 .08 .32 .08-.3 .09 .3 .08-.33 .08 .33 .08-.28 .08 .28 .09-.29 .08 .29 .08-.29 .08 .29 .08-.29 .08 .29 .09-.32 .08 .32 .08-.3 .08 .37 .08-.21 .09 .37 .08-.21 .08 .37 .08-.23 .08 .38 .08-.23 .09 .39 .08-.26 .08 .21 .08-.39 .08 .24 .09-.36 .08 .2 .08-.37 .08 .21 .08-.37 .08 .22 .09-.4 .08 .37 .08-.51 .08 .51 .08-.57 .09 .57 .08-.69 .08 .69 .08-.78 .08 .78 .08-.81 .09 .81 .08-.85 .08 .85 .08-.88 .08 .88 .09-.95 .08 .95 .08-.9 .08 .9 .08-.9 .08 .9 .09-.91 .08 .91 .08-.79 .08 .79 .08-.78 .09 .78 .08-.6 .08 .6 .08-.57 .08 .57 .09-.49 .08 .49 .08-.35 .08 .35 .08-.3 .08 .3 .09-.3 .08 .3 .08-.32 .08 .32 .08-.32 .09 .32 .08-.3 .08 .3 .08-.28 .08 .28 .08-.32 .09 .32 .08-.31 .08 .31 .08-.11 .08 .61 .09 .02 .08 .57 .08-.03 .08 .61 .08 .01 .08 .58 .09-.02 .08 .59 .08-.58 .08 0 .08-.58 .09-.01 .08-.61 .08 .02 .08-.59 .08 0 .08-.57 .09 .09 .08-.34 .08 .34 .08-.47 .08 .47 .09-.54 .08 .54 .08-.64 .08 .64 .08-.73 .08 .73 .09-.77 .08 .77 .08-.94 .08 .94 .08-.94 .09 .94 .08-.97 .08 .97 .08-.96 .08 .96 .08-.99 .09 .99 .08-.95 .08 .95 .08-.91 .08 .91 .09-.83 .08 .83 .08-.78 .08 .78 .08-.67 .09 .67 .08-.55 .08 .55 .08-.42 .08 .42 .08-.29 .09 .29 .08-.33 .08 .33 .08-.3 .08 .3 .09-.31 .08 .31 .08-.32 .08 .32 .08-.31 .08 .7 .09 .18 .08 .75 .08 .17 .08 .76 .08 .14 .09 .79 .08 .15 .08 .78 .08 .04 .08-.19 .08-.79 .09-.14 .08-.76 .08-.17 .08-.74 .08-.19 .09-.78 .08-.15 .08-.55 .08 .31 .08-.3 .08 .3 .09-.3 .08 .3 .08-.29 .08 .29 .08-.46 .09 .46 .08-.7 .08 .7 .08-.84 .08 .84 .08-.98 .09 .98 .08-1.08 .08 1.08 .08-1.26 .08 1.26 .09-1.27 .08 1.27 .08-1.32 .08 1.32 .08-1.42 .09 1.42 .08-1.38 .08 1.38 .08-1.39 .08 1.39 .08-1.36 .09 1.36 .08-1.11 .08 1.11 .08-.97 .08 .97 .09-.93 .08 .93 .08-.72 .08 .72 .08-.59 .08 .59 .09-.43 .08 .43 .08-.29 .08 .29 .08-.32 .09 .32 .08-.28 .08 .28 .08-.29 .08 .29 .08-.29 .09 .29 .08-.32 .08 .32 .08-.27 .08 .36 .09-.21 .08 .37 .08-.23 .08 .38 .08-.24 .08 .4 .09-.2 .08 .35 .08-.29 .08 .22 .08-.38 .09 .22 .08-.4 .08 .25 .08-.38 .08 .22 .08-.4 .09 .24 .08-.33 .08 .32 .08-.28 .08 .28 .09-.36 .08 .36 .08-.54 .08 .54 .08-.72 .08 .72 .09-.81 .08 .81 .08-.95 .08 .95 .08-1.06 .09 1.06 .08-1.17 .08 1.17 .08-1.26 .08 1.26 .09-1.18 .08 1.18 .08-1.33 .08 1.33 .08-1.25 .08 1.25 .09-1.1 .08 1.1 .08-1.19 .08 1.19 .08-.99 .09 .99 .08-.96 .08 .96 .08-.79 .08 .79 .08-.62 .09 .62 .08-.45 .08 .45 .08-.33 .08 .33 .09-.31 .08 .31 .08-.31 .08 .31 .08-.29 .08 .29 .09-.29 .08 .29 .08-.31 .08 .31 .08-.31 .09 .31 .08-.28 .08 .28 .08-.32 .08 .32 .08-.28 .09 .28 .08-.3 .08 .3 .08-.28 .08 .28 .09-.32 .08 .32 .08-.3 .08 .3 .08-.3 .08 .3 .09-.31 .08 .31 .08-.28 .08 .28 .08-.28 .09 .28 .08-.28 .08 .28 .08-.5 .08 .5 .08-.6 .09 .6 .08-.85 .08 .85 .08-.97 .08 .97 .09-1.06 .08 1.06 .08-1.2 .08 1.2 .08-1.24 .09 1.24 .08-1.4 .08 1.4 .08-1.37 .08 1.37 .08-1.25 .09 1.25 .08-1.35 .08 1.35 .08-1.33 .08 1.33 .09-1.2 .08 1.2 .08-1.02 .08 1.02 .08-.97 .08 .97 .09-.79 .08 .79 .08-.55 .08 .55 .08-.42 .09 .42 .08-.29 .08 .29 .08-.29 .08 .29 .08-.29 .09 .29 .08-.31 .08 .31 .08-.29 .08 .29 .09-.31 .08 .31 .08-.3 .08 .3 .08-.3 .08 .3 .09-.31 .08 .31 .08-.32 .08 .32 .08-.32 .09 .32 .08-.3 .08 .3 .08-.32 .08 .32 .08-.29 .09 .29 .08-.32 .08 .32 .08-.29 .08 .29 .09-.32 .08 .32 .08-.29 .08 .29 .08-.42 .08 .42 .09-.64 .08 .64 .08-.74 .08 .74 .08-.92 .09 .92 .08-1.23 .08 1.23 .08-1.31 .08 1.31 .09-1.33 .08 1.33 .08-1.53 .08 1.53 .08-1.49 .08 1.49 .09-1.62 .08 1.62 .08-1.58 .08 1.58 .08-1.41 .09 1.41 .08-1.33 .08 1.33 .08-1.18 .08 1.18 .08-1.13 .09 1.13 .08-.86 .08 .86 .08-.77 .08 .77 .09-.5 .08 .5 .08-.3 .08 .3 .08-.3 .08 .3 .09-.29 .08 .29 .08-.31 .08 .31 .08-.3 .09 .3 .08-.32 .08 .32 .08-.3 .08 .3 .08-.32 .09 .32 .08-.11 .08 .66 .08 .09 .08 .68 .09 .08 .08 .68 .08 .07 .08 .7 .08 .1 .08 .67 .09-.51 .08-.08 .08-.69 .08-.08 .08-.7 .09-.06 .08-.66 .08-.11 .08-.7 .08-.03 .08-.32 .09 .32 .08-.44 .08 .44 .08-.61 .08 .61 .09-.86 .08 .86 .08-.93 .08 .93 .08-1.09 .09 1.09 .08-1.18 .08 1.18 .08-1.25 .08 1.25 .08-1.43 .09 1.43 .08-1.31 .08 1.31 .08-1.32 .08 1.32 .09-1.21 .08 1.21 .08-1.3 .08 1.3 .08-1.14 .08 1.14 .09-.96 .08 .96 .08-.86 .08 .86 .08-.75 .09 .75 .08-.53 .08 .53 .08-.41 .08 .41 .08-.29 .09 .29 .08-.28 .08 .28 .08-.28 .08 .28 .09-.29 .08 .29 .08-.31 .08 .31 .08-.3 .08 .3 .09-.3 .08 .3 .08-.31 .08 .31 .08-.3 .09 .3 .08-.28 .08 .28 .08-.33 .08 .33 .08-.28 .09 .28 .08-.32 .08 .32 .08-.3 .08 .3 .09-.28 .08 .28 .08-.31 .08 .31 .08-.29 .09 .29 .08-.32 .08 .32 .08-.34 .08 .34 .08-.44 .09 .44 .08-.6 .08 .6 .08-.62 .08 .62 .09-.69 .08 .69 .08-.76 .08 .76 .08-.89 .08 .89 .09-.97 .08 .97 .08-.88 .08 .88 .08-.94 .09 .94 .08-.91 .08 .91 .08-.82 .08 .82 .08-.84 .09 .84 .08-.79 .08 .79 .08-.75 .08 .75 .09-.65 .08 .65 .08-.52 .08 .52 .08-.43 .08 .43 .09-.31 .08 .31 .08-.29 .08 .29 .08-.28 .09 .58 .08 .07 .08 .65 .08 .04 .08 .68 .08 .04 .09 .68 .08 .08 .08 .64 .08-.05 .08-.05 .09-.65 .08-.08 .08-.64 .08-.08 .08-.65 .08-.07 .09-.68 .08-.04 .08-.47 .08 .28 .08-.29 .09 .29 .08-.28 .08 .28 .08-.31 .08 .31 .09-.28 .08 .28 .08-.3 .08 .3 .08-.32 .08 .32 .09-.43 .08 .43 .08-.56 .08 .56 .08-.71 .09 .71 .08-.78 .08 .78 .08-.96 .08 .96 .08-.91 .09 .91 .08-1.11 .08 1.11 .08-1.01 .08 1.01 .09-1.07 .08 1.07 .08-1.08 .08 1.08 .08-1.07 .08 1.07 .09-.98 .08 .98 .08-.89 .08 .89 .08-.86 .09 .86 .08-.69 .08 .69 .08-.63 .08 .63 .08-.46 .09 .46 .08-.34 .08 .34 .08-.31 .08 .31 .09-.2 .08 .51 .08-.09 .08 .48 .08-.09 .08 .48 .09-.09 .08 .49 .08-.12 .08 .51 .08-.47 .09 .13 .08-.49 .08 .09 .08-.5 .08 .11 .08-.49 .09 .09 .08-.5 .08 .15 .08-.32 .08 .32 .09-.31 .08 .31 .08-.29 .08 .29 .08-.28 .09 .28 .08-.29 .08 .29 .08-.32 .08 .32 .08-.3 .09 .3 .08-.38 .08 .38 .08-.53 .08 .53 .09-.72 .08 .72 .08-.86 .08 .86 .08-1.05 .08 1.05 .09-1.15 .08 1.15 .08-1.16 .08 1.16 .08-1.26 .09 1.26 .08-1.35 .08 1.35 .08-1.33 .08 1.33 .08-1.18 .09 1.18 .08-1.16 .08 1.16 .08-1.12 .08 1.12 .09-1.09 .08 1.09 .08-.96 .08 .96 .08-.74 .08 .74 .09-.65 .08 .65 .08-.5 .08 .5 .08-.3 .09 .3 .08-.28 .08 .28 .08-.31 .08 .31 .08-.28 .09 .28 .08-.27 .08 .35 .08-.26 .08 .38 .09-.21 .08 .34 .08-.23 .08 .36 .08-.26 .08 .38 .09-.29 .08 .22 .08-.38 .08 .25 .08-.36 .09 .24 .08-.38 .08 .25 .08-.35 .08 .22 .09-.29 .08 .29 .08-.29 .08 .29 .08-.32 .08 .32 .09-.29 .08 .29 .08-.31 .08 .31 .08-.44 .09 .44 .08-.53 .08 .53 .08-.63 .08 .63 .08-.84 .09 .84 .08-.92 .08 .92 .08-1.02 .08 1.02 .09-1.01 .08 1.01 .08-1.08 .08 1.08 .08-1.04 .08 1.04 .09-1.03 .08 1.03 .08-1.02 .08 1.02 .08-.91 .09 .91 .08-.86 .08 .86 .08-.78 .08 .78 .08-.75 .09 .75 .08-.57 .08 .57 .08-.46 .08 .46 .09-.36 .08 .36 .08-.3 .08 .3 .08-.31 .08 .31 .09-.32 .08 .32 .08-.32 .08 .32 .08-.28 .09 .28 .08-.31 .08 .31 .08-.31 .08 .31 .08-.32 .09 .32 .08-.31 .08 .31 .08-.3 .08 .3 .09-.31 .08 .31 .08-.29 .08 .29 .08-.28 .09 .28 .08-.32 .08 .32 .08-.28 .08 .28 .08-.31 .09 .31 .08-.31 .08 .31 .08-.31 .08 .31 .09-.4 .08 .4 .08-.65 .08 .65 .08-.8 .08 .8 .09-1.07 .08 1.07 .08-1.09 .08 1.09 .08-1.26 .09 1.26 .08-1.35 .08 1.35 .08-1.55 .08 1.55 .08-1.47 .09 1.47 .08-1.5 .08 1.5 .08-1.54 .08 1.54 .09-1.52 .08 1.52 .08-1.25 .08 1.25 .08-1.17 .08 1.17 .09-1 .08 1 .08-.83 .08 .83 .08-.67 .09 .67 .08-.48 .08 .48 .08-.32 .08 .32 .08-.3 .09 .3 .08-.29 .08 .29 .08-.28 .08 .28 .09-.31 .08 .31 .08-.32 .08 .32 .08-.28 .09 .28 .08-.29 .08 .29 .08-.31 .08 .31 .08-.29 .09 .29 .08-.29 .08 .29 .08-.29 .08 .29 .09-.31 .08 .31 .08-.32 .08 .32 .08-.32 .08 .32 .09-.3 .08 .3 .08-.31 .08 .31 .08-.29 .09 .29 .08-.32 .08 .32 .08-.49 .08 .49 .08-.67 .09 .67 .08-.92 .08 .92 .08-1.16 .08 1.16 .09-1.18 .08 1.18 .08-1.42 .08 1.42 .08-1.49 .08 1.49 .09-1.49 .08 1.49 .08-1.6 .08 1.6 .08-1.62 .09 1.62 .08-1.53 .08 1.53 .08-1.4 .08 1.4 .08-1.18 .09 1.18 .08-1.2 .08 1.2 .08-1.02 .08 1.02 .09-.75 .08 .75 .08-.64 .08 .64 .08-.37 .08 .37 .09-.29 .08 .29 .08-.31 .08 .31 .08-.32 .09 .32 .08-.28 .08 .28 .08-.32 .08 .32 .09-.25 .08 .37 .08-.2 .08 .35 .08-.22 .08 .38 .09-.23 .08 .39 .08-.21 .08 .36 .08-.33 .09 .2 .08-.39 .08 .23 .08-.39 .08 .24 .08-.38 .09 .22 .08-.4 .08 .26 .08-.31 .08 .31 .09-.31 .08 .31 .08-.29 .08 .29 .08-.42 .08 .42 .09-.58 .08 .58 .08-.73 .08 .73 .08-.92 .09 .92 .08-1.16 .08 1.16 .08-1.27 .08 1.27 .08-1.25 .09 1.25 .08-1.45 .08 1.45 .08-1.56 .08 1.56 .09-1.47 .08 1.47 .08-1.53 .08 1.53 .08-1.37 .08 1.37 .09-1.27 .08 1.27 .08-1.14 .08 1.14 .08-1.07 .09 1.07 .08-.86 .08 .86 .08-.72 .08 .72 .08-.45 .09 .45 .08-.3 .08 .3 .08-.32 .08 .32 .09-.31 .08 .31 .08-.28 .08 .28 .08-.31 .09 .31 .08-.29 .08 .29 .08-.3 .08 .3 .08-.32 .09 .32 .08-.29 .08 .35 .08-.1 .08 .5 .09-.12 .08 .51 .08-.1 .08 .5 .08-.09 .08 .48 .09-.1 .08 .24 .08-.49 .08 .09 .08-.48 .09 .09 .08-.49 .08 .09 .08-.51 .08 .12 .08-.53 .09 .33 .08-.44 .08 .44 .08-.59 .08 .59 .09-.71 .08 .71 .08-.94 .08 .94 .08-1.03 .08 1.03 .09-1.07 .08 1.07 .08-1.09 .08 1.09 .08-1.16 .09 1.16 .08-1.21 .08 1.21 .08-1.17 .08 1.17 .08-1.25 .09 1.25 .08-1.08 .08 1.08 .08-1.02 .08 1.02 .09-.95 .08 .95 .08-.8 .08 .8 .08-.7 .08 .7 .09-.5 .08 .5 .08-.36 .08 .36 .08-.28 .09 .28 .08-.32 .08 .32 .08-.32 .08 .32 .09-.32 .08 .32 .08-.32 .08 .32 .08-.3 .08 .3 .09-.32 .08 .32 .08-.29 .08 .29 .08-.29 .09 .29 .08-.22 .08 .47 .08-.12 .08 .44 .08-.13 .09 .45 .08-.16 .08 .48 .08-.13 .08 .45 .09-.41 .08 .13 .08-.45 .08 .13 .08-.47 .08 .15 .09-.48 .08 .16 .08-.59 .08 .3 .08-.59 .09 .59 .08-.8 .08 .8 .08-.96 .08 .96 .08-1.11 .09 1.11 .08-1.19 .08 1.19 .08-1.29 .08 1.29 .09-1.35 .08 1.35 .08-1.34 .08 1.34 .08-1.41 .08 1.41 .09-1.47 .08 1.47 .08-1.29 .08 1.29 .08-1.18 .09 1.18 .08-1.1 .08 1.1 .08-1 .08 1 .08-.9 .09 .9 .08-.63 .08 .63 .08-.46 .08 .46 .09-.28 .08 .28 .08-.31 .08 .31 .08-.29 .09 .29 .08-.3 .08 .3 .08-.28 .08 .28 .08-.31 .09 .31 .08-.3 .08 .3 .08-.3 .08 .3 .09-.31 .08 .31 .08-.28 .08 .28 .08-.28 .08 .28 .09-.31 .08 .31 .08-.3 .08 .3 .08-.32 .09 .32 .08-.31 .08 .31 .08-.29 .08 .29 .08-.29 .09 .29 .08-.29 .08 .29 .08-.34 .08 .34 .09-.45 .08 .45 .08-.53 .08 .53 .08-.65 .08 .65 .09-.79 .08 .79 .08-.85 .08 .85 .08-.96 .09 .96 .08-.97 .08 .97 .08-1.02 .08 1.02 .08-.96 .09 .96 .08-.97 .08 .97 .08-.88 .08 .88 .09-.98 .08 .98 .08-.82 .08 .82 .08-.82 .09 .82 .08-.63 .08 .63 .08-.59 .08 .59 .08-.46 .09 .46 .08-.34 .08 .34 .08-.32 .08 .32 .09-.28 .08 .28 .08-.29 .08 .29 .08-.32 .08 .32 .09-.28 .08 .51 .08-.09 .08 .48 .08-.09 .09 .49 .08-.1 .08 .49 .08-.11 .08 .51 .08-.3 .09 .1 .08-.48 .08 .09 .08-.52 .08 .12 .09-.49 .08 .1 .08-.5 .08 .1 .08-.33 .08 .3 .09-.3 .08 .3 .08-.31 .08 .31 .08-.28 .09 .28 .08-.4 .08 .4 .08-.54 .08 .54 .08-.63 .09 .63 .08-.75 .08 .75 .08-.82 .08 .82 .09-1.01 .08 1.01 .08-.97 .08 .97 .08-1.14 .08 1.14 .09-1.16 .08 1.16 .08-1.04 .08 1.04 .08-1.07 .09 1.07 .08-1.11 .08 1.11 .08-1.02 .08 1.02 .09-.87 .08 .87 .08-.84 .08 .84 .08-.66 .08 .66 .09-.58 .08 .58 .08-.4 .08 .4 .08-.31 .09 .31 .08-.29 .08 .29 .08-.3 .08 .3 .08-.28 .09 .28 .08-.32 .08 .32 .08-.28 .08 .28 .09-.31 .08 .31 .08-.31 .08 .31 .08-.3 .08 .3 .09-.3 .08 .3 .08-.32 .08 .32 .08-.31 .09 .31 .08-.32 .08 .32 .08-.3 .08 .3 .08-.31 .09 .31 .08-.32 .08 .32 .08-.31 .08 .31 .09-.3 .08 .3 .08-.3 .08 .3 .08-.44 .08 .44 .09-.63 .08 .63 .08-.78 .08 .78 .08-.93 .09 .93 .08-1.04 .08 1.04 .08-1.02 .08 1.02 .08-1.22 .09 1.22 .08-1.16 .08 1.16 .08-1.13 .08 1.13 .09-1.14 .08 1.14 .08-1.18 .08 1.18 .08-1.17 .09 1.17 .08-.98 .08 .98 .08-.98 .08 .98 .08-.76 .09 .76 .08-.7 .08 .7 .08-.54 .08 .54 .09-.37 .08 .37 .08-.3 .08 .3 .08-.3 .08 .3 .09-.29 .08 .29 .08-.28 .08 .28 .08-.32 .09 .32 .08-.31 .08 .31 .08-.3 .08 .3 .08-.32 .09 .32 .08-.29 .08 .29 .08-.29 .08 .29 .09-.3 .08 .3 .08-.31 .08 .31 .08-.28 .08 .28 .09-.29 .08 .29 .08-.32 .08 .32 .08-.28 .09 .28 .08-.29 .08 .29 .08-.28 .08 .28 .08-.39 .09 .39 .08-.57 .08 .57 .08-.72 .08 .72 .09-.95 .08 .95 .08-1.04 .08 1.04 .08-1.22 .08 1.22 .09-1.19 .08 1.19 .08-1.26 .08 1.26 .08-1.43 .09 1.43 .08-1.39 .08 1.39 .08-1.3 .08 1.3 .09-1.29 .08 1.29 .08-1.2 .08 1.2 .08-1.18 .08 1.18 .09-.95 .08 .95 .08-.81 .08 .81 .08-.59 .09 .59 .08-.47 .08 .47 .08-.28 .08 .28 .08-.28 .09 .28 .08-.32 .08 .32 .08-.31 .08 .59 .09 .06 .08 .7 .08 .09 .08 .68 .08 .09 .08 .68 .09 .1 .08 .66 .08 .06 .08-.1 .08-.69 .09-.07 .08-.7 .08-.07 .08-.69 .08-.07 .08-.68 .09-.09 .08-.52 .08 .28 .08-.31 .08 .31 .09-.29 .08 .29 .08-.32 .08 .32 .08-.3 .08 .3 .09-.35 .08 .35 .08-.45 .08 .45 .08-.62 .09 .62 .08-.74 .08 .74 .08-.94 .08 .94 .08-1.01 .09 1.01 .08-1.09 .08 1.09 .08-1.23 .08 1.23 .09-1.3 .08 1.3 .08-1.16 .08 1.16 .08-1.12 .09 1.12 .08-1.08 .08 1.08 .08-1.15 .08 1.15 .08-.96 .09 .96 .08-.95 .08 .95 .08-.78 .08 .78 .09-.7 .08 .7 .08-.51 .08 .51 .08-.36 .08 .36 .09-.3 .08 .3 .08-.31 .08 .31 .08-.31 .09 .31 .08-.3 .08 .46 .08-.08 .08 .47 .08-.11 .09 .51 .08-.11 .08 .5 .08-.11 .08 .51 .09-.14 .08 .08 .08-.5 .08 .11 .08-.49 .08 .09 .09-.48 .08 .09 .08-.48 .08 .08 .08-.39 .09 .29 .08-.29 .08 .29 .08-.3 .08 .3 .08-.29 .09 .29 .08-.29 .08 .29 .08-.37 .08 .37 .09-.46 .08 .46 .08-.61 .08 .61 .08-.66 .09 .66 .08-.84 .08 .84 .08-.93 .08 .93 .08-.92 .09 .92 .08-.92 .08 .92 .08-1.01 .08 1.01 .09-.94 .08 .94 .08-.9 .08 .9 .08-.88 .08 .88 .09-.89 .08 .89 .08-.86 .08 .86 .08-.66 .09 .66 .08-.62 .08 .62 .08-.55 .08 .55 .08-.42 .09 .42 .08-.3 .08 .3 .08-.31 .08 .4 .09 .18 .08 .76 .08 .17 .08 .78 .08 .18 .08 .76 .09 .18 .08 .77 .08 .17 .08 .29 .08-.76 .09-.19 .08-.79 .08-.15 .08-.77 .08-.18 .08-.77 .09-.17 .08-.76 .08 .21 .08-.32 .08 .32 .09-.3 .08 .3 .08-.3 .08 .3 .08-.31 .08 .31 .09-.29 .08 .29 .08-.31 .08 .31 .08-.32 .09 .32 .08-.48 .08 .48 .08-.59 .08 .59 .09-.67 .08 .67 .08-.88 .08 .88 .08-.88 .08 .88 .09-.95 .08 .95 .08-1.13 .08 1.13 .08-1.18 .09 1.18 .08-1.22 .08 1.22 .08-1.14 .08 1.14 .08-1.17 .09 1.17 .08-.96 .08 .96 .08-.91 .08 .91 .09-.9 .08 .9 .08-.75 .08 .75 .08-.66 .08 .66 .09-.51 .08 .51 .08-.33 .08 .33 .08-.29 .09 .29 .08-.32 .08 .32 .08-.3 .08 .3 .08-.28 .09 .28 .08-.28 .08 .28 .08-.33 .08 .33 .09-.28 .08 .28 .08-.31 .08 .31 .08-.31 .08 .31 .09-.29 .08 .29 .08-.32 .08 .32 .08-.28 .09 .28 .08-.31 .08 .31 .08-.32 .08 .32 .08-.32 .09 .32 .08-.28 .08 .28 .08-.31 .08 .31 .09-.3 .08 .3 .08-.4 .08 .4 .08-.49 .09 .49 .08-.66 .08 .66 .08-.73 .08 .73 .08-.94 .09 .94 .08-.91 .08 .91 .08-1.09 .08 1.09 .09-1.05 .08 1.05 .08-1.14 .08 1.14 .08-1.03 .08 1.03 .09-1.05 .08 1.05 .08-1.06 .08 1.06 .08-1.06 .09 1.06 .08-.93 .08 .93 .08-.74 .08 .74 .08-.67 .09 .67 .08-.53 .08 .53 .08-.43 .08 .43 .09-.29 .08 .29 .08-.3 .08 .3 .08-.3 .08 .3 .09-.3 .08 .3 .08-.29 .08 .29 .08-.28 .09 .28 .08-.31 .08 .31 .08-.3 .08 .3 .08-.29 .09 .29 .08-.28 .08 .28 .08-.29 .08 .29 .09-.32 .08 .32 .08-.31 .08 .31 .08-.29 .08 .29 .09-.3 .08 .3 .08-.29 .08 .29 .08-.29 .09 .29 .08-.32 .08 .32 .08-.33 .08 .33 .09-.44 .08 .44 .08-.55 .08 .55 .08-.74 .08 .74 .09-.81 .08 .81 .08-.94 .08 .94 .08-.97 .09 .97 .08-1.14 .08 1.14 .08-1.01 .08 1.01 .08-1.18 .09 1.18 .08-1.17 .08 1.17 .08-1.01 .08 1.01 .09-1.03 .08 1.03 .08-.99 .08 .99 .08-.79 .08 .79 .09-.7 .08 .7 .08-.58 .08 .58 .08-.45 .09 .45 .08-.36 .08 .36 .08-.28 .08 .28 .08-.3 .09 .3 .08-.3 .08 .3 .08-.29 .08 .29 .09-.3 .08 .3 .08-.32 .08 .39 .08-.05 .08 .54 .09-.08 .08 .56 .08-.06 .08 .54 .08-.06 .09 .55 .08-.08 .08 .26 .08-.57 .08 .08 .08-.56 .09 .08 .08-.55 .08 .07 .08-.56 .08 .07 .09-.53 .08 .28 .08-.29 .08 .29 .08-.32 .09 .32 .08-.37 .08 .37 .08-.52 .08 .52 .08-.61 .09 .61 .08-.7 .08 .7 .08-.86 .08 .86 .09-.95 .08 .95 .08-.98 .08 .98 .08-1.05 .08 1.05 .09-.94 .08 .94 .08-.94 .08 .94 .08-1.07 .09 1.07 .08-.98 .08 .98 .08-.82 .08 .82 .08-.79 .09 .79 .08-.73 .08 .73 .08-.64 .08 .64 .09-.52 .08 .52 .08-.37 .08 .37 .08-.31 .08 .31 .09-.31 .08 .31 .08-.32 .08 .32 .08-.3 .09 .3 .08-.32 .08 .32 .08-.3 .08 .3 .08-.3 .09 .3 .08-.32 .08 .32 .08-.31 .08 .31 .09-.32 .08 .32 .08-.29 .08 .29 .08-.3 .09 .3 .08-.28 .08 .28 .08-.28 .08 .28 .08-.28 .09 .28 .08-.28 .08 .28 .08-.3 .08 .3 .09-.29 .08 .29 .08-.31 .08 .31 .08-.46 .08 .46 .09-.61 .08 .61 .08-.72 .08 .72 .08-.85 .09 .85 .08-1.06 .08 1.06 .08-1.02 .08 1.02 .08-1.18 .09 1.18 .08-1.25 .08 1.25 .08-1.18 .08 1.18 .09-1.15 .08 1.15 .08-1.17 .08 1.17 .08-1.06 .08 1.06 .09-1.01 .08 1.01 .08-.87 .08 .87 .08-.76 .09 .76 .08-.68 .08 .68 .08-.49 .08 .49 .08-.34 .09 .34 .08-.33 .08 .33 .08-.32 .08 .32 .09-.31 .08 .31 .08-.3 .08 .3 .08-.3 .08 .3 .09-.29 .08 .29 .08-.29 .08 .29 .08-.31 .09 .31 .08-.3 .08 .3 .08-.29 .08 .29 .09-.28 .08 .28 .08-.3 .08 .3 .08-.31 .08 .31 .09-.3 .08 .3 .08-.32 .08 .32 .08-.31 .09 .31 .08-.31 .08 .31 .08-.28 .08 .28 .08-.39 .09 .39 .08-.55 .08 .55 .08-.69 .08 .69 .09-.84 .08 .84 .08-.96 .08 .96 .08-1 .08 1 .09-1.18 .08 1.18 .08-1.16 .08 1.16 .08-1.28 .09 1.28 .08-1.26 .08 1.26 .08-1.12 .08 1.12 .08-1.2 .09 1.2 .08-.97 .08 .97 .08-.92 .08 .92 .09-.82 .08 .82 .08-.74 .08 .74 .08-.6 .08 .6 .09-.41 .08 .41 .08-.31 .08 .31 .08-.29 .09 .29 .08-.29 .08 .29 .08-.29 .08 .29 .08-.29 .09 .29 .08-.31 .08 .31 .08-.28 .08 .28 .09-.3 .08 .3 .08-.31 .08 .31 .08-.28 .09 .28 .08-.29 .08 .29 .08-.31 .08 .31 .08-.28 .09 .28 .08-.29 .08 .29 .08-.31 .08 .31 .09-.32 .08 .32 .08-.31 .08 .31 .08-.3 .08 .3 .09-.32 .08 .32 .08-.57 .08 .57 .08-.71 .09 .71 .08-.85 .08 .85 .08-.99 .08 .99 .08-1.17 .09 1.17 .08-1.36 .08 1.36 .08-1.27 .08 1.27 .09-1.44 .08 1.44 .08-1.43 .08 1.43 .08-1.37 .08 1.37 .09-1.36 .08 1.36 .08-1.28 .08 1.28 .08-1.22 .09 1.22 .08-1.08 .08 1.08 .08-.84 .08 .84 .08-.73 .09 .73 .08-.54 .08 .54 .08-.37 .08 .37 .09-.32 .08 .32 .08-.32 .08 .32 .08-.31 .08 .31 .09-.28 .08 .28 .08-.3 .08 .3 .08-.28 .09 .28 .08-.32 .08 .32 .08-.3 .08 .3 .09-.32 .08 .32 .08-.29 .08 .29 .08-.31 .08 .31 .09-.29 .08 .29 .08-.31 .08 .31 .08-.28 .09 .28 .08-.3 .08 .3 .08-.3 .08 .3 .08-.32 .09 .32 .08-.28 .08 .28 .08-.43 .08 .43 .09-.63 .08 .63 .08-.86 .08 .86 .08-.94 .08 .94 .09-1.06" style="fill: none; stroke: #1f77b4; stroke-width: 1.5; stroke-linecap: square"/>
   </g>
  </g>
  <g id="axes_3">
   <g id="patch_12">
    <path d="M 90 373.406897 L 648 373.406897 L 648 288.993103 L 90 288.993103z" style="fill: #ffffff"/>
   </g>
   <g id="matplotlib.axis_5">
    <g id="xtick_19">
     <g id="text_30">
      <g transform="translate(0.000 0.792)"><text style="font-size: 10px; font-family: 'DejaVu Sans', 'Liberation Sans', sans-serif" transform="translate(122.393771 399.712336) rotate(-30)">2020</text></g>
     </g>
    </g>
    <g id="xtick_20">
     <g id="text_31">
      <g transform="translate(0.000 0.792)"><text style="font-size: 10px; font-family: 'DejaVu Sans', 'Liberation Sans', sans-serif" transform="translate(182.123892 399.712336) rotate(-30)">2030</text></g>
     </g>
    </g>
    <g id="xtick_21">
     <g id="text_32">
      <g transform="translate(0.000 0.792)"><text style="font-size: 10px; font-family: 'DejaVu Sans', 'Liberation Sans', sans-serif" transform="translate(241.837662 399.712336) rotate(-30)">2040</text></g>
     </g>
    </g>
    <g id="xtick_22">
     <g id="text_33">
      <g transform="translate(0.000 0.792)"><text style="font-size: 10px; font-family: 'DejaVu Sans', 'Liberation Sans', sans-serif" transform="translate(301.567783 399.712336) rotate(-30)">2050</text></g>
     </g>
    </g>
    <g id="xtick_23">
     <g id="text_34">
      <g transform="translate(0.000 0.792)"><text style="font-size: 10px; font-family: 'DejaVu Sans', 'Liberation Sans', sans-serif" transform="translate(361.281553 399.712336) rotate(-30)">2060</text></g>
     </g>
    </g>
    <g id="xtick_24">
     <g id="text_35">
      <g transform="translate(0.000 0.792)"><text style="font-size: 10px; font-family: 'DejaVu Sans', 'Liberation Sans', sans-serif" transform="translate(421.011674 399.712336) rotate(-30)">2070</text></g>
     </g>
    </g>
    <g id="xtick_25">
     <g id="text_36">
      <g transform="translate(0.000 0.792)"><text style="font-size: 10px; font-family: 'DejaVu Sans', 'Liberation Sans', sans-serif" transform="translate(480.725444 399.712336) rotate(-30)">2080</text></g>
     </g>
    </g>
    <g id="xtick_26">
     <g id="text_37">
      <g transform="translate(0.000 0.792)"><text style="font-size: 10px; font-family: 'DejaVu Sans', 'Liberation Sans', sans-serif" transform="translate(540.455565 399.712336) rotate(-30)">2090</text></g>
     </g>
    </g>
    <g id="xtick_27">
     <g id="text_38">
      <g transform="translate(0.000 0.792)"><text style="font-size: 10px; font-family: 'DejaVu Sans', 'Liberation Sans', sans-serif" transform="translate(600.169335 399.712336) rotate(-30)">2100</text></g>
     </g>
    </g>
    <g id="text_39">
     <g transform="translate(-0.648 0.720)"><text style="font-size: 10px; font-family: 'DejaVu Sans', 'Liberation Sans', sans-serif; text-anchor: middle" x="369" y="413.111836" transform="rotate(-0 369 413.111836)">validtime</text></g>
    </g>
   </g>
   <g id="matplotlib.axis_6">
    <g id="ytick_7">
     <g id="text_40">
      <text style="font-size: 10px; font-family: 'DejaVu Sans', 'Liberation Sans', sans-serif; text-anchor: end" x="83" y="338.023219" transform="rotate(-0 83 338.023219)">310</text>
     </g>
    </g>
    <g id="ytick_8">
     <g id="text_41">
      <text style="font-size: 10px; font-family: 'DejaVu Sans', 'Liberation Sans', sans-serif; text-anchor: end" x="83" y="297.127219" transform="rotate(-0 83 297.127219)">320</text>
     </g>
    </g>
    <g id="text_42">
     <g transform="translate(0.000 0.936)"><text style="font-size: 10px; font-family: 'DejaVu Sans', 'Liberation Sans', sans-serif; text-anchor: middle" x="57.832812" y="331.2" transform="rotate(-90 57.832812 331.2)">fieldmax</text></g>
    </g>
   </g>
   <g id="line2d_38">
    <path d="M115.36 324.00l.09-1.19 .08-12.5 .08 11.02 .08-15.33 .08-2.53 .08 4.7 .09-2.12 .08 2.66 .08 3.3 .08 7.36 .08 10.03 .09-1.7 .08-2.77 .08 6.43 .08-.31 .08 3.49 .08 7.24 .09-3.82 .08 2.95 .08-1.6 .08 3.51 .08 3.91 .09-3.33 .08 2.51 .08 1.96 .08-.61 .08-2.27 .08-1.47 .09 5.75 .08 1.62 .08 12.52 .08-17.85 .08 6.2 .09 3.24 .08 5.72 .08-2.24 .08-7.2 .08 1.51 .09 2.92 .08-3.24 .08 3.83 .08-11.32 .08 12.82 .08 2.67 .09-7.79 .08 1.45 .08-2.48 .08-5.2 .08 2.02 .09 4.26 .08-5.25 .08-2.21 .08 .04 .08 1.61 .08 3.48 .09-7.64 .08 1.61 .08-1.42 .08-9.65 .08 1.94 .09 .97 .08-.17 .08 .45 .08-9.65 .08 3.73 .08-2.38 .09-4.43 .08 4.4 .08 1 .08-5.42 .08 1.94 .09-4.45 .08-1.27 .08-5.09 .08 4.8 .08-11.59 .08 1.99 .09 1.24 .08-7.76 .08 2.85 .08 4.11 .08 5.73 .09 5.11 .08-1.25 .08-1.83 .08 9.67 .08 4.53 .08-2.59 .09 3.38 .08 2.67 .08 2.94 .08 .92 .08 6.21 .09-9.21 .08 9.14 .08 1.42 .08-1.07 .08 6.45 .08-12.18 .09 11.94 .08 1.31 .08-5.72 .08 5.73 .08-.92 .09 13.46 .08 1.48 .08-5.61 .08-6.99 .08-1.44 .09 .92 .08-.68 .08-1.76 .08 .93 .08 1.79 .08-.59 .09-1.12 .08-1.58 .08 15.76 .08-13.99 .08-2.71 .09 5.63 .08-2.01 .08 2.41 .08 2.07 .08 2.29 .08-2.14 .09-9.13 .08 5.76 .08-11.46 .08 2.79 .08-1.51 .09-3.66 .08 4.89 .08-2.56 .08 3.06 .08-10.03 .08 4.84 .09-.96 .08-2.92 .08-7.82 .08 .46 .08-5.64 .09-4.85 .08 14.64 .08-4.44 .08-.59 .08-8.51 .08-1.17 .09-2.19 .08-2.81 .08-4.26 .08-.41 .08-2.01 .09 8.34 .08 4.34 .08 5.48 .08-.6 .08 8.04 .08-2.85 .09-2.31 .08 8.48 .08-.84 .08-1.99 .08 5.87 .09 5.71 .08 1.02 .08 2.48 .08 17.11 .08-7.17 .08 1.59 .09-14.11 .08 6.39 .08 4.64 .08-3.02 .08-2.85 .09 5.37 .08-1.13 .08-1.37 .08 8 .08 3.74 .09-3.49 .08-4.66 .08 3.08 .08 2.49 .08-.19 .08-10.05 .09 1.78 .08 3.62 .08 2.11 .08 1.88 .08-.8 .09-9.51 .08-1.7 .08-3.5 .08 11.75 .08-4.24 .08-.62 .09 .9 .08-6.56 .08-6.61 .08-.24 .08-.14 .09 5.15 .08-2.27 .08-9.59 .08 1.88 .08-.82 .08-8.16 .09-1.09 .08-7.71 .08 2.54 .08-3.12 .08-5.89 .09-2.08 .08-.44 .08-3.32 .08 4.15 .08 3.67 .08-.97 .09 2.54 .08 9.47 .08-1.3 .08-2.12 .08 3.43 .09-2.2 .08 8.77 .08 1.59 .08 4.27 .08 1.96 .08-.12 .09 3.24 .08-.89 .08-2.7 .08-1.49 .08 2.64 .09-6.79 .08 16.46 .08-8.62 .08 4.75 .08-3.12 .08-3.56 .09 7.9 .08 2.19 .08 1.88 .08 4.31 .08-3.43 .09 3.81 .08 2.26 .08-2.84 .08-.42 .08 3.95 .09-.72 .08 .42 .08-11.67 .08 7.74 .08 4.15 .08-1 .09 1.92 .08 8.06 .08-6.04 .08 .61 .08-7.17 .09-2.65 .08 .52 .08-2.76 .08 3.27 .08-3.77 .08 1.56 .09-5.9 .08-3.64 .08 2.24 .08-1.92 .08 .09 .09-.94 .08-.48 .08 4.01 .08 .97 .08-3.8 .08-6.88 .09 2.61 .08-11.41 .08-6.95 .08 3.19 .08-1.93 .09-3.2 .08-2.83 .08-7.45 .08-1.86 .08 7.9 .08 3.66 .09-2.08 .08 7.96 .08-4.58 .08 1.05 .08 4.16 .09-2.14 .08 2.6 .08 2.99 .08 1.28 .08 5.87 .08 2.04 .09-4.5 .08 .89 .08 4.41 .08 1.4 .08-1.53 .09 5.06 .08 4.08 .08-3.8 .08 5.28 .08-7.65 .09-1.95 .08 8.94 .08-2.21 .08-.94 .08 3.4 .08-.25 .09 4.86 .08-6.03 .08 3.28 .08 17.62 .08-7.81 .09-11.66 .08 8.05 .08 2.68 .08 5.01 .08-3.95 .08-4.93 .09 8.22 .08-.47 .08-11.99 .08 8.16 .08-1.94 .09 5.73 .08-5.21 .08 3.63 .08-1.83 .08 .94 .08-2.92 .09-3.24 .08 .63 .08 2.16 .08-1 .08 4.22 .09-4.86 .08-1.68 .08 4.65 .08-8.39 .08-2.03 .08-6.65 .09-.96 .08 4.33 .08-5.39 .08 .67 .08-10.61 .09-6.3 .08 1.76 .08-6.82 .08 7.9 .08-4.24 .08-10.6 .09-2.89 .08-3.35 .08 4.54 .08 1.89 .08 4.82 .09 4.72 .08-1.84 .08-2.23 .08 5.92 .08 .97 .08 5.92 .09-1.17 .08 4.19 .08 .8 .08-.59 .08-.18 .09 5.36 .08 9.91 .08-2.36 .08-3.82 .08 2.97 .09-.67 .08-5.4 .08 5.64 .08 7.92 .08-4.85 .08-4.66 .09 6.15 .08 8.61 .08-.67 .08 .57 .08 6.5 .09-.6 .08-4.1 .08-5.39 .08 .05 .08-.93 .08 4.33 .09-6.63 .08 9.38 .08-3.49 .08-3.72 .08 4.52 .09-12.26 .08 1.76 .08 1.29 .08 7.22 .08-4.01 .08 7.37 .09-6.63 .08 1.94 .08-5.43 .08 6.27 .08-4.87 .09 1.32 .08-4.67 .08-4.75 .08 1.49 .08 5.38 .08-7.97 .09-5.48 .08 2.34 .08 4.11 .08-6.85 .08-1.26 .09 1.19 .08-2.66 .08 .09 .08 1.75 .08-4.74 .08-3.19 .09 .05 .08-4.01 .08-5.31 .08-3.34 .08-2.85 .09 5.1 .08 .64 .08 3.67 .08 3.51 .08-1.82 .08 5.65 .09-.15 .08-3.54 .08 6.35 .08 .58 .08 4.08 .09 5.15 .08 10.31 .08-5.81 .08 .43 .08 3.35 .09 1.41 .08 .02 .08-3 .08 .32 .08 4.19 .08-2.16 .09 2.13 .08-1.36 .08 10.82 .08-7.81 .08 13.45 .09-6.56 .08-4.06 .08-1.66 .08 8.89 .08 4.33 .08-7.28 .09 3.28 .08-1.14 .08-.81 .08 1.58 .08 3.37 .09-11.68 .08-5.43 .08 9.54 .08 1.63 .08 3.82 .08-10.22 .09-.31 .08 11.24 .08-9.89 .08 3.96 .08-4.47 .09-.25 .08-5 .08 9.08 .08-11.27 .08-1.28 .08 .08 .09 8.01 .08-1.98 .08-.05 .08-3.84 .08-1.28 .09-.51 .08 2.66 .08-5.27 .08-9.18 .08 5.16 .08-3.4 .09-6.53 .08-.37 .08-4.13 .08 6.66 .08-6.88 .09-8.5 .08 2.15 .08-4.06 .08 2.32 .08-4.01 .08-2.84 .09 3.79 .08 1.17 .08 2.71 .08 2.62 .08-1.97 .09 7.48 .08 .36 .08 1.24 .08 7.26 .08 7.79 .09-5.31 .08 8.35 .08-10.77 .08 7.39 .08-1.07 .08 2.55 .09-2.04 .08 1.69 .08 2.48 .08 1.39 .08 4.41 .09 10.53 .08-8.92 .08-.32 .08-6.81 .08-5.38 .08 16.47 .09-6.66 .08 .79 .08 4.11 .08 5.78 .08-.67 .09 7.27 .08-7.13 .08-10.07 .08 6.05 .08 1.92 .08-3.83 .09 1 .08-.97 .08 10.52 .08-7.81 .08-6.46 .09 5.44 .08-8.33 .08 7.33 .08 1.86 .08-5.6 .08-1.05 .09-1.1 .08 8.8 .08-3.24 .08-8.73 .08-3.77 .09 2.88 .08 .28 .08-3.94 .08 1.94 .08-2.39 .08 2.91 .09-2.74 .08-4.1 .08-1.84 .08-5.45 .08 2.7 .09-2.34 .08-4.79 .08-1.54 .08-4.03 .08 5.08 .08-7.97 .09-2.01 .08 2.5 .08-.54 .08 3.48 .08 1.77 .09 3.73 .08 2.74 .08 3.97 .08 2.8 .08-1.76 .09 .17 .08 .95 .08 .39 .08-2.18 .08 9.2 .08 1.45 .09 .89 .08-4.72 .08-.2 .08-3.62 .08 9.67 .09 7.27 .08 2.8 .08-1.4 .08-4.37 .08 3.84 .08 1.8 .09 4.25 .08 2.1 .08-3.73 .08 .14 .08 3.72 .09 .33 .08-2.67 .08-10.2 .08 3.82 .08 8.44 .08-.46 .09 3.64 .08-5.05 .08 .18 .08 3.16 .08 .19 .09-1.76 .08 2.12 .08 1.18 .08-.12 .08-14.52 .08-.35 .09-.35 .08-1.3 .08-6.87 .08 8.73 .08-7.86 .09 .42 .08-10.88 .08 2.12 .08-.11 .08-4.14 .08 2.33 .09 3.71 .08-10.99 .08-5.53 .08 2.93 .08-4.79 .09-2.7 .08-1.44 .08 5.85 .08 1.81 .08 5.53 .09-3.94 .08 1.74 .08 1.19 .08 1.69 .08 5.68 .08 2.24 .09-3.3 .08 1.64 .08 .93 .08 5.21 .08-1.3 .09-3.21 .08 2.58 .08 2.74 .08 5.44 .08 3.99 .08 2.13 .09-2.41 .08-3.86 .08 3.9 .08-1.41 .08-1.83 .09 3.84 .08 2.25 .08 3.26 .08-6.35 .08-5.2 .08 8.41 .09-3.54 .08 8.09 .08-6.65 .08 .43 .08-5.33 .09 16.39 .08-6.08 .08-.09 .08-1.98 .08 .81 .08 5.41 .09-1.57 .08-1.01 .08 5.39 .08-10.27 .08 8.38 .09 4.91 .08-12.61 .08 3.56 .08-6.36 .08-6.18 .08 3.63 .09 7.26 .08 3.06 .08-4.62 .08-4.27 .08 .03 .09-1.82 .08-.82 .08-8.71 .08 5.89 .08 1.63 .08 9.28 .09-4.26 .08-5.72 .08-2.04 .08-.78 .08-5.34 .09-7.96 .08 1.22 .08 .9 .08 .08 .08-4.17 .09-3.41 .08-.55 .08-.84 .08-.53 .08-4.16 .08-1.39 .09-5.79 .08 6.08 .08 1.59 .08-1.57 .08 4.11 .09 3.99 .08-1 .08 6.93 .08 .04 .08 4.06 .08-2.81 .09 5.05 .08 4.43 .08-2.16 .08 1.17 .08-.35 .09 4.49 .08 .96 .08 3.06 .08-.83 .08-5.19 .08-1.49 .09 3.85 .08 5.86 .08 10.68 .08-2.67 .08-7.65 .09-9.06 .08 9.1 .08 .7 .08-5.6 .08 8.12 .08-1.59 .09-2.61 .08-8.17 .08 10.81 .08-.9 .08-2.04 .09-4.28 .08 1.03 .08 7.34 .08-1.33 .08 5.79 .08-2.94 .09-4.75 .08 .24 .08-3.82 .08-8.88 .08 .03 .09 3.18 .08-5.04 .08-.78 .08-4.04 .08 9.26 .08-9.67 .09-3.05 .08-1.45 .08 5.07 .08 .85 .08-6.78 .09 .26 .08-5.99 .08-.5 .08 6.04 .08-4.62 .09-5.82 .08-6.78 .08-1.12 .08-2.65 .08-.86 .08 8.33 .09 4.27 .08 1.76 .08 4.34 .08-5.55 .08 9.1 .09-3.9 .08 4.74 .08 2.99 .08 4.36 .08 5.99 .08-3.14 .09-2.96 .08-3.05 .08 5.25 .08-1.97 .08-2.1 .09 4.79 .08 6 .08-1.6 .08-3.24 .08 4.71 .08-4.15 .09-2.22 .08 13.19 .08-.78 .08 8.11 .08-13.02 .09 7.62 .08-2.93 .08 12.65 .08-9.3 .08-4.07 .08 2.84 .09-.15 .08-3.11 .08 5.45 .08 .7 .08 1.07 .09-2.06 .08-6.06 .08-2.11 .08 5.17 .08-5.71 .08 10.15 .09-4.73 .08-5.71 .08 6.17 .08-3.24 .08 3.99 .09-3.64 .08 5.2 .08-8.41 .08-11.2 .08-1.3 .08-1.52 .09 8.27 .08 7.01 .08-6.85 .08-7.66 .08 4.79 .09-.28 .08-4.29 .08 .66 .08-2.33 .08-6.01 .09 3.59 .08-4.17 .08-3.98 .08-.05 .08 4.55 .08 1.25 .09-2.83 .08-7.96 .08-5.41 .08 .66 .08-2.65 .09-1.61 .08-5.13 .08 3.94 .08 3.96 .08 9.58 .08 7.18 .09-.54 .08 6.56 .08 4.85 .08-1.35 .08 4.35 .09 6.55 .08-3.61 .08 9.8 .08-1.53 .08 1.84 .08 .31 .09-4.66 .08 7.53 .08 1.52 .08-.92 .08 .91 .09 3.5 .08-1.45 .08-2.33 .08 2.09 .08 3.83 .08-2.21 .09-4.77 .08 5.99 .08-3.49 .08 2.81 .08-2.71 .09-4.85 .08-3.37 .08 .37 .08 2.89 .08-8.63 .08 8.85 .09 5.73 .08-4.61 .08-5.82 .08-4.82 .08 6.26 .09 2.3 .08-1.37 .08 1.66 .08-5.88 .08-.81 .08 1.21 .09-2.37 .08 1.32 .08-.36 .08-3.93 .08-4.75 .09-1.46 .08 5.33 .08-7.57 .08 1.12 .08-4.3 .09 8.79 .08-8.11 .08 .4 .08-6.07 .08 9.59 .08-11.75 .09-.05 .08-5.76 .08 2.49 .08-5.93 .08-1.14 .09-3.71 .08 4.28 .08 3.97 .08 7.6 .08-7.39 .08 7.05 .09 2.23 .08-.03 .08 2.47 .08 4.04 .08 1.07 .09 1.45 .08-1.14 .08 1.99 .08 4.99 .08-2.8 .08 1.49 .09 3.7 .08 3.1 .08 2.08 .08-1.02 .08-7.47 .09 10.12 .08 5.07 .08 3.17 .08-2.18 .08 2.05 .08-4.01 .09-4.66 .08 3.1 .08 1.02 .08 6.4 .08 1.48 .09-5.45 .08-1.19 .08 1.53 .08 1.16 .08 6.82 .08-6.74 .09 6.2 .08-10.65 .08-.22 .08 10.88 .08-2.65 .09-2.51 .08 1.14 .08-3.78 .08-.43 .08 .08 .09-.57 .08-.22 .08-5 .08 1.74 .08-4.98 .08 3.03 .09-3.24 .08-.4 .08-1.18 .08-5.71 .08-2.28 .09-.58 .08 .57 .08 .37 .08-5.07 .08-5.44 .08-.4 .09-2.83 .08-.47 .08-.95 .08-.52 .08-12.01 .09-2.87 .08-.32 .08 5.79 .08 3.89 .08 1.7 .08 4.59 .09-.48 .08 2.16 .08 4.6 .08-1.34 .08 10.19 .09-3.28 .08-.95 .08 6.41 .08-5.02 .08 5.23 .08 4 .09 8.36 .08 11.28 .08-7.09 .08-7.63 .08 4.94 .09 4.26 .08-4.79 .08 4.71 .08 7.77 .08-1.72 .08-5.88 .09-.48 .08-4.8 .08 4.31 .08 1.02 .08 9.76 .09-10.39 .08-3.48 .08 7.22 .08 4.26 .08-3.99 .08 2.09 .09 2.79 .08 1.07 .08-1.62 .08-.02 .08-10.06 .09 7.2 .08-1.14 .08-5.31 .08-.31 .08-.25 .09-1.89 .08 .37 .08-1.66 .08-6.02 .08 12.77 .08-4.48 .09 5.22 .08-9.89 .08 3.4 .08-7.26 .08 3.12 .09-2.95 .08-3.05 .08-6.03 .08-2.01 .08 1.75 .08-12.89 .09-1.21 .08-3.98 .08-1.93 .08 2.37 .08-.63 .09-5.36 .08-.06 .08-7.36 .08-4.14 .08-1.77 .08-1.06 .09 2.54 .08 .53 .08 6.65 .08 7.65 .08-1.44 .09 2.59 .08-.93 .08 5 .08 .29 .08 5.46 .08 8.41 .09 .69 .08-2.98 .08 6.2 .08-6.47 .08 10.69 .09 1.17 .08-4.12 .08 2.72 .08-.6 .08 13.21 .08-.83 .09-6.41 .08 .07 .08 4.41 .08-1.2 .08 3.82 .09 2.45 .08-7.18 .08 7.55 .08 7.81 .08-3.46 .08 .5 .09-5.01 .08-1.53 .08 3.4 .08-4.46 .08-4.96 .09 9.81 .08-3.87 .08 2.6 .08 .1 .08 1.08 .09 .83 .08-.53 .08-4.47 .08 2.99 .08-5.02 .08 .84 .09-4.88 .08 .66 .08-4.78 .08 7.05 .08-3.36 .09-6.66 .08-7.65 .08 .61 .08 6.81 .08-6.83 .08 2.39 .09-5.3 .08-3.78 .08-5.43 .08 1 .08 .77 .09-2.67 .08-3.78 .08-7.9 .08-1.5 .08-6.03 .08-3.41 .09 1.11 .08-.23 .08 5.35 .08 1.16 .08 6.73 .09-.86 .08 2.98 .08 3.96 .08 1.32 .08 1.9 .08-6.16 .09 8.02 .08-5.04 .08 2.64 .08-4.72 .08 7.2 .09 2.05 .08 3.24 .08-1.02 .08 3.72 .08-.27 .08 2.85 .09 5.94 .08-10.08 .08 6.34 .08 2.26 .08-4.83 .09 3.8 .08 10.06 .08-.92 .08-4.09 .08 4.94 .08 .29 .09-7.18 .08 2.14 .08 2.45 .08 1.29 .08 2.15 .09-.72 .08 .07 .08-2.65 .08-.05 .08-.71 .09 4.61 .08-1.51 .08-2.84 .08 5.15 .08 9.25 .08-9.34 .09 3.05 .08-7.81 .08 .31 .08 2.6 .08 1.04 .09 3.92 .08-11.1 .08-2.14 .08 3.64 .08-.3 .08-10.18 .09-1.17 .08 2.15 .08-.08 .08-9.74 .08-.04 .09-10.73 .08 5.79 .08 2.16 .08-10.37 .08-2.69 .08-6.38 .09-1.56 .08-.34 .08-.46 .08 2.78 .08-1.99 .09 2.38 .08 10.15 .08 .42 .08-.29 .08 3.53 .08-.04 .09 3.86 .08-.51 .08 1.4 .08-1.54 .08 12.88 .09 1.74 .08 1.41 .08 2.55 .08-2.02 .08-3.59 .08 6.24 .09 3.76 .08 1.49 .08-2.66 .08-5.02 .08 9.06 .09 2.02 .08-.8 .08-.49 .08 .82 .08-1.24 .08-4.18 .09 5.27 .08 .57 .08 3.99 .08-1.37 .08 2.55 .09-6.02 .08 5.96 .08 9.71 .08-7 .08 1.15 .09 1.53 .08-2.02 .08-1.29 .08-9.05 .08 .36 .08 11 .09-2.93 .08-1.24 .08 7.25 .08-14.86 .08 7.37 .09 .08 .08-12.18 .08 1.37 .08 4.51 .08-4.11 .08-2.28 .09 4.34 .08-2.75 .08-.18 .08-2.4 .08-.55 .09-.54 .08 5.98 .08-6.06 .08-7.16 .08 .38 .08-1.6 .09 8.29 .08-14.29 .08 .75 .08-2.6 .08 1.28 .09-8.39 .08-4.7 .08 .96 .08 .2 .08 4.87 .08 5.27 .09 2.61 .08 6.91 .08 1.91 .08 .55 .08 9.67 .09-3.89 .08-2.83 .08 5.45 .08 4.25 .08 2.9 .08 .88 .09 4.18 .08-1.26 .08-2.44 .08 10.17 .08-3.88 .09 4.75 .08-2.84 .08 .52 .08 5.13 .08-14.43 .09 9.27 .08-2.04 .08 3.04 .08-5.32 .08 .26 .08-.8 .09-4.82 .08 3.06 .08 9.43 .08 .38 .08 .47 .09-7.48 .08-2.48 .08-2.27 .08-8.14 .08 5.05 .08-.85 .09 6.37 .08 1.93 .08-1.87 .08-6.55 .08-1.28 .09 7.04 .08-2.3 .08 1.45 .08-5.71 .08 3.06 .08-4.43 .09-2.55 .08 1.39 .08-3.68 .08-3.21 .08 6.98 .09-.7 .08-4.72 .08-.72 .08 2.63 .08-4.88 .08-7.79 .09 10.17 .08-7.9 .08-.5 .08-5.3 .08-2.3 .09 5.77 .08-.75 .08 5.77 .08 .79 .08 1.14 .08 3.63 .09 2.28 .08 3.97 .08-6.92 .08 .47 .08 5.86 .09 3.1 .08-3.07 .08-3.08 .08 4.29 .08-9.86 .08 2.36 .09 12.71 .08-5.22 .08 12.75 .08-3.44 .08-.06 .09 11.05 .08-3.81 .08-6.36 .08-2.9 .08-1.11 .09-6.67 .08 9.21 .08 1.65 .08-2.62 .08 6.6 .08-4.65 .09-6.93 .08 .84 .08 5.28 .08 3.5 .08 8.51 .09-8 .08 1.61 .08 2.71 .08-1.29 .08-2.14 .08-7.72 .09 .54 .08 11.51 .08-5.92 .08-3.49 .08-6.82 .09 3.36 .08 6.69 .08-8.71 .08-5.07 .08 .96 .08-2.49 .09-2.53 .08 8.88 .08-3.84 .08-10.67 .08 .11 .09 1.89 .08-5.07 .08 .28 .08-7.58 .08 .73 .08-3.25 .09-1.38 .08-4.03 .08-.52 .08 3.92 .08 2.77 .09 2.69 .08-3.67 .08 2.31 .08 2.66 .08 1.76 .08 1.32 .09 2.93 .08 6.29 .08 4.43 .08 .54 .08-1.11 .09-13.64 .08 5.88 .08 7.3 .08-2.47 .08 7.96 .08-3.79 .09 2.72 .08-.91 .08 3.23 .08-5.59 .08 3.48 .09-.71 .08-.85 .08-2.26 .08 11.29 .08-5.23 .09 6.87 .08-1.29 .08 2.62 .08-1.05 .08-.26 .08-5.51 .09 16.61 .08-1.82 .08-.71 .08-15.19 .08 2.26 .09 .58 .08 4.56 .08-2.6 .08 5.35 .08-.77 .08 2.93 .09 2.32 .08-8.69 .08-2.19 .08-2.51 .08 6.82 .09-2.62 .08-3.02 .08-5.45 .08 4.76 .08-1.01 .08-.72 .09-3.28 .08-6.72 .08 7.84 .08-3.91 .08-1.66 .09-5.85 .08 4.41 .08-8.23 .08-3.02 .08-4.14 .08-3.85 .09 2.82 .08-5.02 .08-5.34 .08-1.44 .08-3.13 .09-2.62 .08-.08 .08 4.2 .08-2 .08 2.79 .08 7.13 .09 4.39 .08-5.16 .08 6.41 .08 2.19 .08 6.1 .09-4.28 .08 4.82 .08 4.52 .08-5.59 .08 1.79 .08 7.82 .09-.96 .08 5.13 .08-.33 .08-5.67 .08 5.07 .09 3.67 .08-2.14 .08 6.84 .08-7.41 .08 3.68 .09 .55 .08-1.58 .08-3.05 .08-3.29 .08 2.92 .08 6.1 .09 .43 .08 2.35 .08 .6 .08-.77 .08 3.06 .09 4.03 .08-9.68 .08 5.06 .08-7.31 .08 15.62 .08-9.65 .09-.78 .08 5.46 .08-.54 .08 1.97 .08 2.56 .09-7.41 .08 7.58 .08-9.86 .08-2.06 .08 4.04 .08-13.48 .09 2.59 .08 2.04 .08 4.45 .08-5.76 .08 3.88 .09-7.34 .08 4.95 .08-.21 .08-5.98 .08-2.04 .08-1.34 .09-2.19 .08-2.49 .08 4.72 .08-2.99 .08-2.17 .09-8.33 .08 .72 .08 2.08 .08-3.64 .08-4.43 .08-1.82 .09 0 .08-1.58 .08-3.14 .08 3.72 .08 5.14 .09-1.72 .08 5.23 .08 4.54 .08 8.44 .08 1.81 .08-1.68 .09-6.86 .08 5.94 .08-3.22 .08 1.3 .08 9.53 .09-3.08 .08 5.53 .08 .87 .08 4.1 .08-2.37 .09 .08 .08 7.87 .08-.2 .08-.84 .08-1.21 .08 2.6 .09-1.6 .08 3.18 .08-1.67 .08-7.52 .08-2.01 .09 4.23 .08 14.08 .08 2.09 .08-7.4 .08-4.21 .08 .17 .09 1.47 .08 7.34 .08-5.99 .08-6.32 .08 2.51 .09-2.63 .08 11.73 .08-4.31 .08-.73 .08-1.48 .08-9.89 .09 6.02 .08 2.15 .08-4.34 .08 .82 .08-4.05 .09-1.64 .08 1.68 .08-5.98 .08-.08 .08-3.56 .08-3.46 .09-5.02 .08-4.5 .08-1.38 .08 .71 .08-5.01 .09-2.16 .08-6.86 .08-8.99 .08 6.94 .08 .63 .08 4.5 .09 1.88 .08 2.14 .08 .8 .08-8.79 .08 9.53 .09 2.64 .08 3.48 .08 2.7 .08 .04 .08 2.13 .09-5.74 .08 4.46 .08 4.62 .08 2.22 .08-4.19 .08-4.34 .09 4.02 .08 4.61 .08 3.18 .08 7.29 .08 1.55 .09-7.01 .08 4 .08-2.48 .08 4.88 .08-4.15 .08 7.69 .09-5.05 .08-.38 .08-2.21 .08 7.45 .08-.52 .09 1.83 .08 2.4 .08-6.16 .08 9.75 .08-.59 .08-2.46 .09-1.68 .08-1.58 .08-1.66 .08 6.43 .08-1.19 .09-1.31 .08-2.89 .08 2.52 .08 9.73 .08-4.26 .08-13.02 .09-5.88 .08 12.17 .08-6.05 .08 5.5 .08 2.97 .09 .8 .08 5.59 .08-9.71 .08-1.07 .08-4.81 .08-5.44 .09-.42 .08 8.18 .08 1.39 .08-10.03 .08 1.81 .09-4.64 .08 .93 .08-7.73 .08 .02 .08-2.4 .08-5.84 .09-2.76 .08-2.7 .08-1.6 .08 1.23 .08 2.49 .09 4.24 .08 .89 .08 3.43 .08-3.12 .08 4.01 .09 6.73 .08 1.24 .08-1.94 .08 5.06 .08 1.95 .08 1.69 .09-1.4 .08 5.66 .08-.83 .08-2.22 .08 3.32 .09 4.36 .08 5.58 .08 1.36 .08-12.83 .08 9.23 .08 .92 .09-.07 .08 4.32 .08 2.82 .08-3.94 .08-4.99 .09-3.73 .08 2.32 .08 1.49 .08-4.7 .08 9.72 .08 2.14 .09-2.61 .08 3.79 .08-3.7 .08-7.27 .08 3.18 .09 5.9 .08-8.68 .08-7.88 .08 7.24 .08-10.03 .08-.53 .09 5.53 .08-1.99 .08 8.18 .08-5.21 .08 .48 .09 1.64 .08-4.48 .08-.08 .08-10.15 .08 11.73 .08-4.65 .09-3.55 .08-3.24 .08 1.5 .08-3.28 .08 1.23 .09-3.52 .08-4.71 .08 .11 .08-.92 .08 3 .08-.75 .09-3.22 .08 .76 .08-3.66 .08-.31 .08-1.78 .09 .47 .08-4.48 .08-.44 .08-.87 .08-4.04 .09 .5 .08 .21 .08 5.33 .08-1.87 .08-.23 .08 .78 .09 7.31 .08 1.5 .08 .25 .08 5.59 .08 5.43 .09 6.95 .08 1.15 .08-5.91 .08 7.39 .08-5.54 .08 3.82 .09 3.61 .08-7.76 .08 5.04 .08 2.13 .08 10.67 .09-8.57 .08 3.8 .08-2.66 .08 .61 .08-4.31 .08 7.74 .09 3.97 .08 1.13 .08-13.29 .08-5.13 .08 6.7 .09 7.79 .08 .87 .08-4.94 .08-3.9 .08 9.44 .08 1.48 .09-9.9 .08-.67 .08-.91 .08 8.82 .08-3.98 .09-.25 .08-9.57 .08 .97 .08-2.23 .08-.66 .08-.23 .09-3.12 .08-5.97 .08 5.24 .08-7.41 .08-3.13 .09-5.95 .08 4.05 .08-1.05 .08-4.41 .08-3.64 .08 .08 .09-3.09 .08-4.69 .08 .66 .08 4.81 .08 2.02 .09 3.67 .08 1.22 .08 5.82 .08 1.68 .08-1.82 .09 5.41 .08 .81 .08-1.38 .08 .17 .08 2.58 .08-4.14 .09 4.09 .08 3.41 .08-1.98 .08 2.89 .08 1.36 .09-.98 .08 6.26 .08 4.34 .08 2.8 .08 5.11 .08-3.35 .09-1.85 .08 2.08 .08 6.84 .08 4.34 .08-7.88 .09 2.18 .08-1.49 .08 3.2 .08-12.72 .08 5.42 .08-4.84 .09-7.47 .08 14.25 .08-1.37 .08 10.04 .08 .96 .09 2.53 .08-1.31 .08-6.62 .08 1.62 .08-8.53 .08-1.59 .09 7.14 .08 7.96 .08-5.05 .08-8.21 .08 1.63 .09 3.03 .08 2.25 .08-3.76 .08 4.85 .08-2 .08-4.34 .09-5.34 .08 8.44 .08-9.55 .08-3.55 .08-4.43 .09 1.81 .08-7.67 .08 4.36 .08-7.11 .08 3.84 .08-6.67 .09-2.9 .08-.8 .08 .81 .08-2.43 .08-3.7 .09 3.16 .08 4.26 .08-3.82 .08 8.39 .08 .28 .09-6.92 .08 7.32 .08 2.35 .08 .89 .08 1.59 .08 1.12 .09 5.52 .08 .69 .08 2.65 .08-1.5 .08 6.18 .09-2.92 .08 2.74 .08-1.51 .08 .18 .08 5.03 .08 2.07 .09-2.14 .08 .08 .08-1.64 .08 4.33 .08 .55 .09 2.81 .08-1.63 .08-1.22 .08 3.83 .08-3.08 .08 3.28 .09 2.61 .08 3.1 .08-4.85 .08-1.01 .08 2.7 .09-2.68 .08 1.17 .08-1.53 .08-1.42 .08-3.67 .08 2.78 .09 2.78 .08-.76 .08-2.8 .08 1.11 .08 5.82 .09-5.34 .08-4.96 .08 8.34 .08-7.4 .08 5.86 .08-2.82 .09-9.75 .08 1.27 .08-.43 .08-.92 .08-1.16 .09 2.55 .08-1.28 .08 2.62 .08-6.3 .08-2.49 .09 .89 .08-3.54 .08-3.44 .08 .26 .08-5.53 .08-3.42 .09-.3 .08 1.53 .08-.19 .08-6.66 .08-2.37 .09-.1 .08-1.94 .08-1.37 .08 5.29 .08 .01 .08 1.64 .09 .11 .08 6.28 .08 3.19 .08-1.92 .08 5.12 .09 2.07 .08 .58 .08-1.4 .08 3.6 .08-3.52 .08 .12 .09 1.68 .08 4.52 .08 5.03 .08-10.28 .08 4.2 .09-.74 .08 5.43 .08-5.45 .08 11.96 .08-5.57 .08 7.16 .09-8.98 .08 5.14 .08 7.1 .08 1.09 .08-10.34 .09-3.43 .08-2.79 .08 8.51 .08-6.09 .08 13.54 .08-.22 .09 3.06 .08-8.07 .08-1.31 .08 .56 .08-6.56 .09-2.28 .08 6.2 .08-.72 .08 .99 .08-5.16 .08 6.07 .09 4.91 .08-3.3 .08-5.6 .08 3.38 .08 .4 .09-3.11 .08-6.88 .08-7.39 .08 12.6 .08-2.57 .09-5.31 .08-4.14 .08-8.88 .08 9.13 .08-2.65 .08-.81 .09-3.13 .08-2.31 .08-.24 .08-7.68 .08-1.89 .09 1.39 .08 .4 .08-3.94 .08-2.91 .08-6.44 .08-3.39 .09 3.12 .08 3.23 .08 2.08 .08 2.94 .08-1.99 .09 .86 .08 8.68 .08 2.55 .08-.4 .08 4.96 .08 14.46 .09-8.49 .08 2.08 .08 .26 .08-.78 .08 0 .09 8.5 .08-2.77 .08-5.16 .08 13.95 .08-4.75 .08 5.23 .09 .39 .08-1.88 .08 9.16 .08-8.36 .08 3.3 .09 2.28 .08-7.73 .08 .74 .08 8.28 .08 8.69 .08-3.29 .09-15.11 .08 11.39 .08-9.21 .08 .51 .08 4.28 .09 2.38 .08-.89 .08-.96 .08 12.05 .08-14.41 .08 3.2 .09 4.34 .08-.62 .08-11.43 .08 9.67 .08 2.34 .09-9.56 .08-3 .08 7.33 .08-3.53 .08-7.03 .09 3.27 .08-5.35 .08-3.51 .08-6.31 .08 6.8 .08-3.49 .09-2.82 .08-.24 .08 3.15 .08-3.43 .08 .85 .09-4.55 .08 .91 .08 .19 .08-6.54 .08-3.92 .08-7.04 .09-1.08 .08 8.3 .08 3.14 .08-3.57 .08 2.3 .09 3.72 .08 5.28 .08 3.6 .08 2.38 .08 3.95 .08 1.16 .09-.76 .08 4.29 .08-9.69 .08 4.88 .08 5.94 .09 6.24 .08 2.64 .08 4.74 .08 1.62 .08-3.51 .08-1.15 .09 1.75 .08-4.3 .08-1.09 .08 2.78 .08-5.34 .09 4.29 .08 1.68 .08 6.05 .08-10.87 .08-.73 .08 8.13 .09-6.07 .08 1.96 .08-4.44 .08 7.62 .08-10.06 .09 .04 .08-1.65 .08 8.18 .08-2.87 .08-9.89 .08 11.49 .09-10.79 .08 3.41 .08 3.36 .08-5.83 .08-3.31 .09-4.31 .08-3.37 .08 15.03 .08-2.08 .08-.86 .09-12.89 .08-.55 .08-4.26 .08 5.53 .08 4.42 .08-8.44 .09-4.19 .08 4.67 .08-8.12 .08 1.93 .08-4.35 .09 1.15 .08-4.73 .08-5.89 .08 1.6 .08-5.44 .08 1.82 .09 2.44 .08 3.33 .08-3.84 .08-.34 .08-1.33 .09 5.68 .08 2.01 .08 3.89 .08 12.82 .08 .53 .08 .71 .09-1.39 .08 3.92 .08 4.09 .08 1.15 .08 4.47 .09 2.95 .08-4.78 .08-2.42 .08 10.34 .08-7.67 .08 6.03 .09 2.39 .08 7.65 .08-7.75 .08-5.49 .08 12.45 .09-6.63 .08-8.81 .08 2.16 .08 6.94 .08 8.54 .08-.53 .09-2.98 .08-4.37 .08 2.66 .08 3.66 .08-5.69 .09 2.9 .08 7.95 .08-6.59 .08-2.81 .08-.99 .08 1.57 .09-3.74 .08 5.55 .08-.56 .08 .67 .08-5.3 .09 3.49 .08 4.15 .08-7.39 .08-3.34 .08-.62 .09-3.38 .08-.13 .08 5.29 .08-2.59 .08-4.12 .08-2.51 .09-3.45 .08 4.8 .08-5.84 .08 .48 .08-.62 .09-7.32 .08 1.56 .08 1.67 .08-8.95 .08-1.12 .08 2.57 .09-1.36 .08 .2 .08 .7 .08-4.11 .08-1.89 .09 1.21 .08-4.58 .08 3.99 .08 3.04 .08 5.38 .08-1.36 .09 3.74 .08 2.42 .08-4.45 .08-2.36 .08 10.04 .09-2.65 .08 6.65 .08-.5 .08 2.91 .08-8.61 .08 13.93 .09-14.56 .08 1.37 .08 7.9 .08 6.72 .08 .97 .09 1.66 .08-7.59 .08 4.39 .08 6.23 .08-11.03 .08-1.18 .09 6.08 .08 7.82 .08-.27 .08-8.24 .08-.22 .09 1.02 .08-5.11 .08 15.34 .08-6.86 .08-2.78 .08-6.27 .09 7.07 .08 1.06 .08 6.54 .08 .26 .08-4.71 .09 1.62 .08 6.63 .08-10.53 .08-2.14 .08 4.26 .09-5.14 .08 2.8 .08-6.54 .08 5.92 .08 .87 .08-5.91 .09-5.42 .08 4.42 .08-.41 .08-6.63 .08 6.78 .09-5.57 .08 6.01 .08 .35 .08-4.93 .08-.87 .08-8.92 .09 1.14 .08 1.07 .08-6.66 .08-3.75 .08 6.69 .09-2.69 .08 .51 .08-2.47 .08-11.53 .08 2.11 .08 4.87 .09 3.64 .08 2.84 .08-.15 .08 2.94 .08-.8 .09 8.49 .08-3.68 .08 1.12 .08 6.72 .08-2.13 .08 2.99 .09-2.35 .08 3.45 .08 3.77 .08-6.03 .08-2.07 .09 2.05 .08 9.9 .08 2.68 .08 2.71 .08 4.38 .08-6.66 .09-3.35 .08 2.02 .08 2.63 .08 5.13 .08-2.59 .09 1.37 .08-4.91 .08-6.27 .08 14.44 .08-3.37 .09-3.59 .08 1.15 .08 10.36 .08-9.6 .08-3.2 .08-2.59 .09 .5 .08-7.49 .08 12.41 .08-2.11 .08-5.19 .09 6.92 .08-4.9 .08 6.06 .08-5.89 .08-1.91 .08 .23 .09 .54 .08-5.57 .08-2.44 .08 1.66 .08-8.51 .09-7.11 .08 7.31 .08 2.17 .08 3.15 .08-4.47 .08 1.53 .09-.03 .08-5.27 .08-5.1 .08-3.77 .08-.41 .09-4.61 .08 1.56 .08 4.76 .08-.54 .08 5.51 .08-2.01 .09 3.3 .08 2.89 .08-4.86 .08 4.92 .08 6.92 .09 4.37 .08 3 .08-5.35 .08 2.36 .08-5.13 .08 8.19 .09 .77 .08 4.65 .08-6.95 .08 9.59 .08-1.65 .09-6.15 .08 7.76 .08 9.46 .08-4.88 .08-1.29 .08-8.69 .09 3.82 .08 7.16 .08-.75 .08-2.06 .08-3.14 .09 11.53 .08-7.82 .08-7.84 .08 6.39 .08-.48 .09-.65 .08-2.15 .08-1.21 .08-1.86 .08 9.38 .08-6.76 .09-2.09 .08 4.16 .08 3.23 .08-1.04 .08-3.85 .09-3.45 .08 1.61 .08-2.62 .08-.47 .08 4.16 .08-3.78 .09 1.82 .08-6.41 .08-1.9 .08-.24 .08 .16 .09-6.91 .08-2.75 .08 8.6 .08-4.38 .08-5.75 .08-7.1 .09 .01 .08 4 .08 .67 .08-9.48 .08-.89 .09-.19 .08-1.7 .08-3.93 .08-3.6 .08-2.09 .08-5.02 .09 4 .08 4.26 .08 .26 .08 6.39 .08 2.89 .09-2.05 .08 .78 .08 3.99 .08 3.3 .08 2.72 .08 1.27 .09 .35 .08 10.28 .08 3.48 .08-3.16 .08 .12 .09 1.56 .08 3.39 .08-1.04 .08 3.91 .08-11.07 .08 1.98 .09 1.32 .08-3.12 .08 4.79 .08 1.21 .08-.63 .09-.5 .08 7.56 .08-3.73 .08 5.53 .08-4.39 .09 3.33 .08-5.8 .08-3.79 .08 9.15 .08 .78 .08 11.29 .09-4.07 .08-2.17 .08-1.58 .08-4.18 .08 3.48 .09-3.86 .08 2.79 .08-4.68 .08 6.44 .08-3.59 .08-3.07 .09 1.51 .08-4.33 .08-7.86 .08 3.74 .08 5.16 .09-6.18 .08 3.86 .08 .14 .08-2.06 .08-10.9 .08 13.08 .09-2.09 .08-6.95 .08-6.92 .08-4.35 .08-4.6 .09 1.57 .08 3.86 .08-8.03 .08-.63 .08 1.03 .08-.73 .09-4.03 .08-5.9 .08 3.13 .08-4.39 .08 1.22 .09 3.28 .08-1.83 .08-.46 .08 1.26 .08 9.37 .08 1.36 .09-4.01 .08 .34 .08 5.27 .08-1.67 .08 4.34 .09 4.03 .08 2.45 .08 4.86 .08 5.19 .08-3.55 .08 .25 .09 6.51 .08-1.94 .08-.47 .08 3.3 .08-1.13 .09-.9 .08 5.44 .08-4.23 .08 .12 .08 2.48 .09 4.64 .08-9.31 .08 10.4 .08 1.82 .08-8.13 .08 6.64 .09-4.43 .08 7.14 .08-3.29 .08 1.06 .08-7.61 .09 3.53 .08-.34 .08 4.95 .08-4.32 .08 3.59 .08 10.15 .09-8.51 .08 2.27 .08-6.74 .08 3.31 .08-8.68 .09 7.81 .08-6.12 .08-4.24 .08-1.95 .08-.86 .08 3.83 .09-1.51 .08 1.21 .08-2.31 .08-6.68 .08-2.57 .09 2.72 .08 .74 .08-3.08 .08-3.7 .08-8.95 .08-8.11 .09 4.69 .08-4.41 .08-5.03 .08 3.7 .08 5.02 .09 .74 .08-.12 .08 3.23 .08 5.8 .08 3.28 .08-7.23 .09 8.4 .08 1.86 .08 5.66 .08-8.48 .08 5.4 .09 1.36 .08 2.63 .08-1.3 .08 3.11 .08-.5 .08 7.12 .09 13.63 .08-6.82 .08-3.64 .08 16.46 .08-8.9 .09-3.43 .08 4.82 .08-6.3 .08 2.01 .08-4.6 .09 8.13 .08-3.01 .08-.63 .08 .75 .08 8.14 .08-3.71 .09 .12 .08 4.17 .08 5.29 .08-16.12 .08 10.42 .09 4.18 .08 1.77 .08-1.85 .08-7.35 .08 3.57 .08 .07 .09 .02 .08-2.42 .08-1.35 .08-10.02 .08 8.5 .09 5.12 .08 2.58 .08 2.63 .08-1.46 .08-8.31 .08 1.26 .09-5.47 .08 4.94 .08-6.28 .08 5.55 .08-11.09 .09 2.07 .08-.76 .08-4.94 .08-2.94 .08-2.15 .08 5.05 .09-6.09 .08-5.5 .08-2.97 .08 3.97 .08-4.85 .09 5.57 .08-.06 .08-7.3 .08-6.58 .08 .3 .08-6.85 .09 .22 .08 1.05 .08 2.11 .08 .81 .08 5.17 .09 2.51 .08 3.8 .08 1.68 .08 8.4 .08-6.8 .09-.28 .08 8.73 .08 2.57 .08-4.08 .08 7.81 .08 1.52 .09-10.33 .08 16.58 .08-2.42 .08-.7 .08 .1 .09-4.06 .08 2.72 .08 9.49 .08-4.05 .08 2.91 .08-8.63 .09 8.13 .08-.25 .08 1.81 .08-.44 .08-.35 .09-.7 .08 6.97 .08 2.32 .08-6.63 .08 .98 .08-5.78 .09-2.64 .08 .64 .08 6.95 .08-16.04 .08 2.89 .09 5.94 .08 1.6 .08-2.57 .08-5.58 .08 2.92 .08 2.01 .09 .51 .08-3.8 .08-5.14 .08 .2 .08 .83 .09-4.84 .08-2.8 .08-6.92 .08 4.96 .08-4.11 .08-9.28 .09 2.88 .08 1.93 .08-11.46 .08 6.6 .08 .16 .09 3.2 .08-2.8 .08 4.56 .08 1.19 .08 2.98 .08-3.39 .09 .82 .08-1.03 .08 12.96 .08 .88 .08-2.51 .09 1.06 .08-2.76 .08 2.03 .08 4.34 .08-6.43 .09-1.94 .08 1.99 .08 3.07 .08 10.84 .08-1.05 .08-1.2 .09 5.52 .08 .8 .08-.48 .08-.31 .08 .63 .09-9.73 .08 11.87 .08 2.02 .08 2.57 .08 .96 .08-3.16 .09 1.05 .08-6.67 .08 7.86 .08 1.67 .08-3.8 .09-4.17 .08 1.9 .08-9.95 .08 3.77 .08 16.43 .08-8.77 .09-5.36 .08 .89 .08-3.81 .08-4.6 .08 7.31 .09-8.71 .08 5.88 .08-.68 .08-.65 .08 1.08 .08-2.75 .09 7.02 .08-5.57 .08 6.43 .08-8.75 .08-3.31 .09-3.1 .08-7.59 .08-3 .08 12.92 .08-3.72 .08-5.03 .09 5.22 .08-2.58 .08-1.2 .08-6.93 .08-3.78 .09 1.58 .08-7.6 .08-6.13 .08 3.13 .08-.93 .08 1.97 .09 .76 .08 5.5 .08-3.04 .08 1.81 .08 4.82 .09 .25 .08 3.32 .08-2.5 .08 2.15 .08 7.57 .09-1.22 .08 7.85 .08 3.52 .08-7.08 .08-1.23 .08 5.34 .09 2.11 .08 1.68 .08 3.02 .08-5.78 .08 10.78 .09-4.6 .08-3.56 .08-1.21 .08 11.65 .08 8.72 .08-4.81 .09-1.85 .08-3.66 .08-5.93 .08 2.81 .08-7.97 .09 5.61 .08 14 .08-10.14 .08 12.38 .08-9.32 .08-7.89 .09 6.43 .08 .47 .08 4.34 .08-1.61 .08-11.12 .09 2.56 .08 4.03 .08-3.07 .08 7.74 .08 2.53 .08-10.54 .09-1.43 .08-3.87 .08 6.32 .08 1.21 .08-13.81 .09-1.97 .08 7.01 .08-8.67 .08 3.38 .08 .71 .08-4.84 .09 6.56 .08-2.48 .08-6.9 .08 .79 .08-5.76 .09 .26 .08-.75 .08-4.69 .08-8.07 .08-4.73 .08 3.53 .09-.13 .08 4.58 .08 1.84 .08-2.5 .08 2.13 .09 6.96 .08 9.35 .08-2.39 .08 10.6 .08-11.72 .09-.5 .08 5.18 .08 8.72 .08-3.55 .08 .1 .08-1.17 .09 7.65 .08 6.09 .08 6.14 .08-8.44 .08 2.97 .09-2.74 .08 12.37 .08-7.73 .08 6.53 .08-.53 .08-11.53 .09 8.52 .08 4.92 .08-9.6 .08 7.46 .08-3.2 .09 5.39 .08 .08 .08-7.22 .08 3.23 .08-.98 .08 1.17 .09-5.15 .08 7.71 .08-2.92 .08-.2 .08-8.5 .09 4.93 .08-.8 .08-6.51 .08 5.5 .08 .64 .08 3.34 .09-.77 .08 3.08 .08-9.27 .08 8.26 .08 1.01 .09-3.74 .08-3.47 .08-8.23 .08 .62 .08-7.24 .08 1.73 .09 1.76 .08 1.74 .08 3.95 .08-13.97 .08-4.96 .09 2.52 .08 .66 .08-3.98 .08 2.32 .08-.42 .08 1.46 .09-4.85 .08-.66 .08 9.78 .08-10.34 .08 .22 .09-3.14 .08-9.18 .08 3.6 .08 2.29 .08 9.48 .09 1.4 .08 2.51 .08 3.19 .08 8.96 .08-2.2 .08-.9 .09 6.38 .08-1.8 .08 2.87 .08 4.79 .08 2.49 .09-.04 .08-8.39 .08-7.09 .08 8.89 .08 11.52 .08-6.25 .09-1.04 .08 3.35 .08-2.82 .08 7.38 .08 .19 .09-15.59 .08 5.45 .08 3.13 .08-2.63 .08 3.39 .08-6.21 .09 1.9 .08-2.25 .08-1.07 .08 7.05 .08-1.54 .09-1.43 .08 .49 .08 3.88 .08-9.44 .08 4.14 .08 3.48 .09-6.88 .08-.99 .08 2.81 .08-6.94 .08 .3 .09-6.04 .08 5.61 .08 0 .08-7.93 .08-4.23 .08 1.14 .09-3.13 .08-4.2 .08-1.04 .08 1.98 .08-3.16 .09-4.48 .08-2.5 .08 6.24 .08-4.98 .08-.77 .09-2.96 .08-1.04 .08-2.72 .08 2.51 .08-11.19 .08 4.4 .09-4.01 .08 5.52 .08 2.21 .08 7.17 .08 .35 .09 .93 .08 .51 .08 .22 .08 .82 .08 3.63 .08-.64 .09 2.98 .08 1.57 .08 1.19 .08 2.3 .08 4.02 .09-.24 .08 5.51 .08 3.03 .08-6.42 .08 4.78 .08-1.11 .09 .23 .08 5.91 .08 .06 .08 .39 .08 3.45 .09 4.32 .08 3.11 .08-8.41 .08 3.98 .08-5.66 .08-11.63 .09 2.88 .08 8.9 .08 8.11 .08 1.21 .08 1.27 .09 .22 .08-14.36 .08 3.33 .08-.34 .08 3.65 .08 6.49 .09 2.3 .08 3.16 .08-7.8 .08-5.79 .08 3.38 .09-1.36 .08 5.75 .08-10.32 .08 9.27 .08 .1 .08-3.46 .09-9.84 .08-2.76 .08-5.72 .08 7.88 .08 .21 .09-7.27 .08 4.89 .08-2.99 .08-3.51 .08-3.04 .09 1.18 .08-5.94 .08-3.63 .08 2.74 .08-9.15 .08-1.2 .09-.8 .08 3.84 .08 1.62 .08-2.03 .08 7.26 .09-3.91 .08 2.99 .08-1.42 .08 7.31 .08 1.77 .08-4.4 .09 2.34 .08 3.79 .08 7.81 .08 3.91 .08-2.58 .09 5.71 .08-7.04 .08-1.53 .08 2.39 .08-.16 .08 1.56 .09 1.52 .08 7.46 .08-5.88 .08 3.03 .08 3.74 .09 5.18 .08 .56 .08-.76 .08-.22 .08-3.32 .08-1.64 .09-.88 .08 13.05 .08-13.2 .08 2.46 .08-1.78 .09 1.99 .08 7.87 .08-10.32 .08-14.78 .08 3.15 .08 8.24 .09-2.55 .08 2.25 .08-3.1 .08 9.46 .08-10 .09 1.17 .08 10.82 .08-5.77 .08-5.89 .08 6.32 .08-10.52 .09 4.35 .08-5.78 .08 .25 .08 .15 .08-4.89 .09-4.48 .08 .42 .08 7.54 .08-9.93 .08 1.22 .09-1.66 .08 2.34 .08-9.95 .08-1.64 .08-2.38 .08-6.29 .09-.3 .08 4.61 .08 3.56 .08 1.24 .08-2.08 .09 6.13 .08 5.14 .08-.96 .08 4.17 .08-.56 .08 3 .09-.67 .08-1.12 .08 1.88 .08 6.35 .08-1.97 .09 11.43 .08-3.7 .08-3.76 .08 .83 .08 1.92 .08-3.19 .09 5.53 .08 1.85 .08-1.62 .08 9.35 .08-3.86 .09 .99 .08-2.05 .08 5.62 .08-6.78 .08 1.53 .08 7.11 .09 1.25 .08 6.55 .08-7.4 .08-.86 .08-.44 .09-1.04 .08-.32 .08-3.11 .08 8.02 .08-4.61 .08 9.83 .09-4.27 .08-8.02 .08 .47 .08 .98 .08-.77 .09-4.49 .08 9.06 .08-4.18 .08-1.13 .08-5.8 .08-.67 .09 4.26 .08 1.41 .08-4.02 .08 .84 .08-1.57 .09-11.54 .08 2.61 .08-3 .08 4.78 .08-.6 .09-10.55 .08 4.68 .08-3.95 .08 .08 .08 1.1 .08-1.2 .09-4.1 .08 1.15 .08-6.47 .08-4.47 .08-9.5 .09-3.98 .08-.59 .08 2.27 .08 4.3 .08 .42 .08 2.9 .09 5.03 .08 3 .08 7.15 .08 4.71 .08-2.43 .09 2.58 .08 4.55 .08-2.18 .08 8.6 .08 5.47 .08-3.59 .09-4.39 .08 6.91 .08-2.56 .08-.01 .08 3.52 .09 6.41 .08-2.75 .08 10.33 .08-14 .08-3.74 .08 .99 .09 3.72 .08 7.13 .08-4.81 .08 4.34 .08-4.34 .09-10.93 .08 10.28 .08-.01 .08 2.01 .08 2.26 .08 1.37 .09-4.35 .08-2.73 .08-.61 .08-.48 .08 3.56 .09-2.5 .08-2.51 .08-8.03 .08-1.63 .08 9.02 .08-3.83 .09 .74 .08 2.02 .08-10.7 .08 1.45 .08-8.91 .09 4.44 .08 2.48 .08 4.43 .08-8.63 .08-7.36 .09 1.01 .08-2.68 .08 1.43 .08-5.86 .08-2.26 .08-10.15 .09-.14 .08 5.84 .08 2.06 .08 1.9 .08 1.29 .09 6.34 .08-1.64 .08 3.66 .08-1.95 .08 6.55 .08 1.22 .09-1.03 .08 7.68 .08 .97 .08-1.11 .08 1.94 .09-.49 .08-2.25 .08 3.56 .08 7.1 .08-6.2 .08 .53 .09 5.27 .08-5.46 .08 1.56 .08 2.85 .08 6.38 .09-4.46 .08-2.85 .08 2.87 .08 8.15 .08-5.54 .08-2.9 .09 4.82 .08 .79 .08 3.93 .08-1.67 .08 1.02 .09 4.16 .08-8.44 .08 7.78 .08-7.5 .08 2.18 .08 12.75 .09-2.9 .08-9.76 .08-.13 .08-1.18 .08 4.07 .09 3.79 .08-4.47 .08-15.07 .08 8.3 .08 4.39 .09-5.14 .08 2.67 .08-5.46 .08 3.4 .08-16.88 .08 .25 .09 1.63 .08 2.96 .08 1.11 .08 .63 .08-.38 .09-8.67 .08-4.25 .08 2 .08-1.33 .08-.33 .08-7.69 .09-1.38 .08-3.54 .08 3.04 .08-3.01 .08-2.15 .09-2.5 .08-.46 .08-5.88 .08-.44 .08 5.65 .08 3.05 .09 1.55 .08-2.94 .08 3.55 .08 7.98 .08-2.32 .09 8.27 .08 .34 .08 7.47 .08-4.3 .08 2.96 .08-1.69 .09-4.83 .08 8.47 .08 .44 .08-.97 .08 4.95 .09 7.37 .08-3.33 .08 1.09 .08 1.22 .08-.13 .08 14.14 .09-12.62 .08 9.86 .08-5.02 .08-1.32 .08-5.96 .09 4.19 .08 7.85 .08 .68 .08-1.32 .08-3.34 .08-1.22 .09 2.43 .08 2.35 .08 1.58 .08 3.05 .08-8.28 .09-2.44 .08 5.99 .08-2.64 .08 4.68 .08-3.01 .09-2.67 .08 6.51 .08-7.25 .08 8.01 .08-12.82 .08 4.92 .09 4.97 .08-4.1 .08 5.71 .08-4.28 .08-4.71 .09-2.81 .08 4.07 .08 1.04 .08-11.35 .08-.43 .08-5.89 .09 2.31 .08-1.36 .08 3.08 .08-1.88 .08-9.86 .09-2.9 .08-2.46 .08-2.2 .08-4.69 .08-1.48 .08 .11 .09-.17 .08-6.58 .08-.84 .08 2.13 .08-3.26 .09 1.66 .08 1.5 .08 6.01 .08 7.4 .08-3.06 .08 4.79 .09 1.97 .08 .82 .08-.9 .08 5.66 .08 .48 .09 .08 .08 .38 .08 3.74 .08 2.65 .08 4.8 .08-1.31 .09 4.41 .08-3.5 .08 7.47 .08 4.03 .08 .29 .09-10.92 .08 17.11 .08-11.18 .08-1.7 .08 5.35 .08-4.93 .09 5.61 .08 5.44 .08-3.91 .08-6.79 .08 1.55 .09 6.32 .08-5.37 .08 3.08 .08-5.71 .08 2.72 .09 11.59 .08-8.44 .08 .5 .08-3.88 .08-2.21 .08 8.08 .09-5.66 .08 2.44 .08-7.92 .08-2.61 .08 2.88 .09-.51 .08 1.1 .08-1.9 .08-9.1 .08 3.3 .08-1.01 .09-3.16 .08-3.96 .08-1.26 .08-1.89 .08-4.69 .09-2.74 .08-4.59 .08-2.72 .08-4.86 .08-2.06 .08 4.71 .09-1.46 .08-4.35 .08 3.36 .08 10.35 .08-1.15 .09 7.91 .08 3.87 .08 1.35 .08-4.53 .08-.55 .08 1.54 .09 2.73 .08 4.76 .08 6.8 .08 2.38 .08 3.55 .09-7.39 .08 8.61 .08-.62 .08-.39 .08-1.46 .08 .06 .09 8.96 .08-.64 .08 .97 .08-4.9 .08 7.49 .09-.72 .08-10.4 .08 5.91 .08 2.07 .08-.16 .08-.05 .09 .06 .08 3.09 .08-5.47 .08 4.4 .08 4.04 .09 4.2 .08-6.33 .08-1.06 .08 3.43 .08 6.68 .09-2.95 .08 3.19 .08-12 .08-3.08 .08 9.3 .08-11.34 .09 7.13 .08 7.09 .08-6.3 .08-2.53 .08 1.27 .09-2.56 .08-4.47 .08-.16 .08 4.07 .08 1.24 .08-1.66 .09-8.11 .08 3.9 .08 .12 .08-4.62 .08-.97 .09-4.52 .08 5.58 .08-.87 .08-5.71 .08-1.04 .08-6.48 .09 .56 .08 6.32 .08-3.71 .08-.49 .08-3.13 .09-6.73 .08 2.7 .08-3.07 .08 1.01 .08 4.58 .08-.26 .09-4.13 .08 10.2 .08 7.06 .08 3.5 .08 1.99 .09-4.87 .08-2.33 .08 7.21 .08 5.23 .08-.32 .08 2.96 .09 3.32 .08-5 .08 3.91 .08-2.12 .08 1.94 .09-.01 .08-.05 .08 10.97 .08-13.17 .08 1.38 .08 2.57 .09-10.89 .08 8.97 .08 3.01 .08-.34 .08 1.64 .09-7.22 .08 4 .08-11.67 .08 9.17 .08-1.75 .09 2.93 .08 7.36 .08-6.48 .08 8.89 .08-1.14 .08-11.29 .09 8.21 .08-6.12 .08-5.48 .08 3.17 .08 .55 .09-5.86 .08 2.97 .08-4.85 .08 2.92 .08 1.7 .08-2.61 .09-3.78 .08-4.83 .08-.21 .08-5.32 .08 7.12 .09-2.6 .08-.15 .08-8.29 .08-.63 .08-5.07 .08-1.37 .09-1.32 .08-3.76 .08-4.9 .08 3.48 .08-.64 .09 1.67 .08 4.31 .08 1.96 .08-.61 .08 4.6 .08 4.51 .09 2.99 .08-.55 .08 3.61 .08-3.15 .08 5.99 .09-3.5 .08 4.17 .08-2.1 .08-2.9 .08 4.51 .08 14.8 .09-5.23 .08-2.59 .08-.04 .08 5.12 .08-4.98 .09 2.92 .08 9.44 .08-11.91 .08 2.06 .08 5.58 .09 2.37 .08-7.25 .08 2.93 .08-5.83 .08 .15 .08-2.7 .09-3.53 .08 5.97 .08 2.72 .08-9.63 .08 8.22 .09-5.8 .08 10.94 .08 2.05 .08-2.59 .08-3.53 .08-8.56 .09 3.38 .08-2 .08-7.37 .08 11.01 .08 .42 .09-5.79 .08 2.04 .08-7.06 .08 .71 .08-.33 .08-2.51 .09 2.98 .08-1.13 .08-3.32 .08 1.24 .08 8.13 .09-3.38 .08-12.06 .08-3.33 .08 1.34 .08-1.23 .08-5.48 .09 1.97 .08-5.43 .08-4.77 .08-.27 .08-2.01 .09-1.05 .08 2.31 .08 .55 .08 .71 .08 7.72 .08 3.44 .09-3.38 .08 4.57 .08 .85 .08 4.4 .08-2.51 .09 8.26 .08-1.18 .08-2.02 .08 2.33 .08 7.66 .08-2.28 .09-6.43 .08 13.75 .08-.55 .08-1.98 .08-2.47 .09 2.28 .08 1.34 .08-2.93 .08 7.93 .08 7.17 .09 1.02 .08-11.72 .08 2.29 .08-5.85 .08 1.51 .08 2.96 .09-2.2 .08 12.12 .08-3.98 .08 .78 .08-2.82 .09 7.03 .08-3.74 .08 3.88 .08 .49 .08 2.58 .08 4.59 .09-12.41 .08 2.31 .08 2.19 .08-1.59 .08-6.16 .09 2.69 .08 6.07 .08-3.72 .08 2.55 .08-6.87 .08-2.46 .09 1.3 .08-7.61 .08 7.62 .08-2.99 .08 4.04 .09-.38 .08 1.58 .08-4.81 .08-1.6 .08-8.01 .08-1.68 .09 4.26 .08 6.46 .08-12.22 .08 2.36 .08-10.82 .09 5.66 .08 .22 .08 2.25 .08-8.9 .08 .4 .08-2.97 .09-7.77 .08 3.11 .08-1.77 .08-.47 .08 .66 .09 1.94 .08 3.04 .08 5.94 .08 .38 .08 7.03 .08 .53 .09 4.52 .08 1.18 .08 4.22 .08-1.17 .08-3.1 .09 4.49 .08 3.88 .08-.77 .08 .92 .08 4.84 .09 4.59 .08-4.45 .08-4.11 .08 11.62 .08 .55 .08-4 .09-1.52 .08 5.01 .08 2.25 .08-2.21 .08-2.95 .09-5.73 .08 9.36 .08 3.56 .08-17.92 .08 12.11 .08 1.03 .09-7.05 .08-6.08 .08 5.1 .08-1.23 .08-6.7 .09-8.76 .08 7.74 .08 3.83 .08 .34 .08-3.59 .08 1.14 .09-9.79 .08-.81 .08 5.81 .08-5.93 .08 7.4 .09 .16 .08-9.23 .08-6.02 .08 3.3 .08-.54 .08-9.09 .09-1.67 .08-3.01 .08-4.56 .08 1.54 .08-5.93 .09-3.63 .08 2.49 .08 6.3 .08 1.23 .08-4.63 .08 3.64 .09 9 .08 3.09 .08 1.18 .08 3.14 .08 2.67 .09 5.12 .08-4.26 .08-1.49 .08-1.2 .08 3.61 .08 .9 .09-4.64 .08 2.13 .08 1 .08 13.31 .08 .91 .09-7 .08 6.79 .08 2.41 .08 .73 .08-3.06 .09-3.57 .08 13.25 .08-5.67 .08 1.01 .08-7.92 .08-4.68 .09 9.28 .08 5.98 .08 .23 .08 8.24 .08-7.08 .09-2.91 .08 9.1 .08-9.3 .08 5.28 .08-6.69 .08-4.24 .09 6.94 .08 2.28 .08 1.69 .08 2.39 .08 2.2 .09-2.01 .08 .3 .08-.49 .08-1.92 .08-4.9 .08-5.07 .09 2.51 .08-4.02 .08 14.38 .08-6.02 .08-3.45 .09 1.27 .08-7.26 .08 .4 .08-1.32 .08 15.08 .08-10.97 .09-9.11 .08 9.51 .08 4.19 .08-5.5 .08-8.04 .09-5.23 .08-2.21 .08 1.15 .08-5.98 .08-1.53 .08 1.45 .09-3.89 .08-2.19 .08-2.64 .08-.1 .08-2.3 .09 .15 .08-3.19 .08-2.03 .08 2.1 .08 8.64 .08 1.34 .09-1.38 .08 6.92 .08-1.29 .08 4.43 .08-2.09 .09 6.15 .08-3.49 .08 7.95 .08 .31 .08 .84 .09 10.51 .08-.39 .08-2.05 .08-.63 .08-4.5 .08 4.93 .09 2.63 .08 8.51 .08-10.15 .08-2.26 .08 2.67 .09 1.15 .08-2.09 .08-4.31 .08 1.12 .08 5.87 .08-1.92 .09-5.16 .08 9.1 .08-5.69 .08-3.45 .08 10.06 .09-3.81 .08-6.25 .08-.42 .08-1.43 .08-1.16 .08-4.41 .09-.48 .08 4.2 .08-3.67 .08-2.09 .08 .81 .09 2.97 .08-10.95 .08 4.61 .08-8.32 .08-.28 .08-6.36 .09-4.22 .08 4.61 .08-2.94 .08 1.82 .08-6.69 .09 .28 .08 1.36 .08-3.22 .08-3.52 .08-5.1 .08 5.27 .09 4.06 .08 5.03 .08-2.45 .08-.02 .08 3.41 .09 5.77 .08 .84 .08 1.02 .08 2.04 .08 3.57 .08-2.79 .09 6.65 .08-2.03 .08 8.68 .08-.79 .08-3.55 .09-2.31 .08 4.96 .08 2.84 .08 3.42 .08 .39 .09-7.25 .08 11.35 .08 1.02 .08-5.09 .08-1.63 .08 4.93 .09-3.14 .08 5.78 .08 3.71 .08-9.51 .08 3.08 .09 .33 .08 9.91 .08-3.99 .08 3.19 .08-3.09 .08-5.52 .09 2.5 .08 3.55 .08-.98 .08-.94 .08 .7 .09 8.1 .08-10.27 .08-3.81 .08-2.04 .08 .58 .08-3.63 .09 4.47 .08-2.72 .08-2.6 .08-1.16 .08 4.45 .09-5.11 .08 .66 .08-5.4 .08 1.94 .08-1.83 .08 2.95 .09 1.21 .08-9.47 .08 .1 .08-3.4 .08 2.3 .09-4.17 .08-3.71 .08-4.71 .08-3.76 .08-2.64 .08-2.98 .09 5.11 .08 1.88 .08 5.5 .08 1.88 .08 8.8 .09-.77 .08-4.36 .08-7.19 .08 11.22 .08 2.54 .09 3.62 .08-2.19 .08 .94 .08 2.46 .08 10.76 .08-10.12 .09 9.31 .08-4.79 .08 3.73 .08 5.3 .08-5.86 .09 6.74 .08 1.84 .08-3.79 .08 10.26 .08-8.17 .08 6.99 .09-2.5 .08-3.55 .08-3.08 .08-.23 .08 5.47 .09 8.54 .08-2.91 .08-4.63 .08 5.52 .08-1.06 .08-.78 .09-3.82 .08-3.86 .08 3.8 .08 6.34 .08-5.39 .09 5.63 .08-10.05 .08 3.57 .08 .44 .08 6.61 .08 1.91 .09-4.38 .08-4.32 .08 .87 .08-.02 .08-4.53 .09 3.67 .08-5.42 .08-3.86 .08 2.09 .08-.11 .08-.17 .09-.32 .08-1.93 .08-5.11 .08 5.27 .08-7.56 .09-3.01 .08 4.38 .08-7.79 .08-2.33 .08-.83 .08-3.77 .09-3.15 .08-3.44 .08 1.66 .08-.58 .08-6.34 .09-4.76 .08 5.62 .08 .93 .08 5.94 .08 2.73 .09 7.05 .08-3.44 .08 1.08 .08 .66 .08 2.35 .08 2.89 .09 4.25 .08 4.15 .08-2.25 .08 2.99 .08-5.71 .09 1.69 .08 6.19 .08-.82 .08-.09 .08-2.99 .08 1.94 .09 2.64 .08 3.65 .08 4.65 .08-7.62 .08 5.05 .09 5.23 .08-9.38 .08 3.29 .08 3.98 .08-3.14 .08 2.21 .09 5.7 .08-.95 .08-2.02 .08-6.28 .08 9.35 .09-6.42 .08-1.19 .08 4.22 .08-3.16 .08-1.5 .08 8.94 .09-3.75 .08-5.06 .08-2.22 .08 13.11 .08-11.14 .09 1.84 .08-.53 .08-.99 .08 1.67 .08 1.89 .08-2.26 .09-11.62 .08 .7 .08 1.42 .08-8.1 .08 .86 .09-3.3 .08-7.81 .08 2.72 .08-2.66 .08-1.4 .08-2.89 .09 4.87 .08-4.69 .08-3.3 .08-6.09 .08 .74 .09-5.57 .08-3.8 .08 .15 .08-4.64 .08 1.71 .09 .36 .08-.02 .08 1.63 .08 3.56 .08 1.95 .08 6.29 .09-7.18 .08 3.38 .08 11.42 .08 .11 .08-5.33 .09 4.09 .08 6.19 .08-4.05 .08 4.19 .08 11.91 .08-4.83 .09-1.57 .08 .11 .08-.04 .08 1 .08 2.55 .09 4.74 .08-1.74 .08 .73 .08 1.94 .08-2.99 .08-1.72 .09 3.24 .08 6.96 .08 1.88 .08-8.04 .08 9.94 .09 4.92 .08-4.37 .08 .84 .08 7.98 .08-4.12 .08-9.39 .09 7.62 .08-3.31 .08 1.42 .08 2.44 .08-5.76 .09-2.21 .08 9 .08-7.73 .08 3.88 .08-.12 .08-3.92 .09 6.31 .08 6.8 .08-11.16 .08-7.14 .08 13.28 .09-4.59 .08-9.85 .08-.06 .08-.76 .08-3.3 .08-4.55 .09-1.72 .08-.21 .08-3.47 .08-5.67 .08 .78 .09-.88 .08-7.18 .08 3.49 .08-6.24 .08 5.32 .09-4.63 .08 4.18 .08 3.15 .08 2.19 .08 2.16 .08-5.48 .09-2.29 .08 9.12 .08 3.25 .08 .65 .08-3.63 .09 2.79 .08 .82 .08 .87 .08 9.01 .08-2.68 .08-1.51 .09-2.25 .08 4.41 .08 7.89 .08 .41 .08-5.01 .09-1.44 .08 8.06 .08-.56 .08 2.52 .08-2.69 .08 .15 .09-2.92 .08 8.07 .08-10.58 .08 14.55 .08 .03 .09-6.18 .08-1.48 .08 6.54 .08 6.11 .08-6.43 .08-.89 .09 6.37 .08-2.34 .08-3.21 .08 .38 .08 3.56 .09-1.67 .08-3.71 .08-.18 .08 1.96 .08-1.11 .08-5.74 .09 1.62 .08 4.58 .08-9.22 .08 6.69 .08-.21 .09 .73 .08-5.11 .08 5.3 .08-6.43 .08-1.74 .08-1.09 .09-11.66 .08 .38 .08 3.35 .08-1.52 .08-5.53 .09-4.85 .08 3.57 .08-3.08 .08-2.83 .08-7.36 .09 2.55 .08-4.15 .08-5.58 .08-1.32 .08-4.74 .08-4.01 .09 1.88 .08 4.17 .08 1.87 .08 6.96 .08 3.78 .09 1.8 .08-1.19 .08 1.79 .08 2.67 .08 7.79 .08 3.23 .09-1.87 .08 1.58 .08 6 .08-.15 .08 6.76 .09 3.63 .08-2.9 .08 2.55 .08 1.54 .08-4.55 .08 8.38 .09-3.57 .08 5.31 .08-4.16 .08 6.38 .08-.59 .09-.39 .08 3.24 .08 1.25 .08-7.38 .08-.97 .08-12.72 .09-3.06 .08 7.04 .08 11.38 .08-3.8 .08-2.01 .09-1.46 .08-5.14 .08-1.78 .08-5.11 .08 7.01 .08-1.22 .09 7.2 .08-1.53 .08-8.82 .08 1.3 .08-.39 .09-7.94 .08 1.86 .08-1.42 .08 1.66 .08 .81 .09-5.94 .08 5.06 .08-4.83 .08-3.82 .08-1.78 .08 2.98 .09-.91 .08-3.09 .08-.03 .08 .84 .08-5.83 .09 1.39 .08-4.24 .08-.77 .08-5.54 .08 .45 .08 1.37 .09-.05 .08 5.78 .08-.58 .08 3.05 .08 2.54 .09 4.58 .08 .39 .08 1.63 .08 1.26 .08-.29 .08 6.86 .09 1.29 .08 3.97 .08-3.01 .08-4.38 .08 5.94 .09 3.09 .08-.62 .08-5.8 .08 12.1 .08-5.53 .08 5.14 .09-1.68 .08 8.46 .08-3.34 .08-5.68 .08 9.79 .09-7.01 .08 .61 .08 3.91 .08 2.05 .08-1.94 .08 7.1 .09-8.86 .08-.07 .08 1.14 .08-5.76 .08 1.87 .09-.7 .08 2.35 .08 3.12 .08-.3 .08 1.3 .08 3.64 .09-4.77 .08-6.66 .08 9.39 .08-1.59 .08-6.19 .09-6.06 .08 4.99 .08-.25 .08-10.8 .08 5.19 .09-.49 .08 .79 .08-8.67 .08 1.3 .08 6.25 .08-14.59 .09 1.14 .08 .1 .08 2.45 .08-5.38 .08-.34 .09 2.16 .08-4.86 .08-4.19 .08-1.88 .08-.89 .08-5.02 .09 2.99 .08-11.24 .08 .9 .08 8.73 .08 .29 .09 1.65 .08 3.46 .08 2.18 .08 1.05 .08 1.73 .08 1.27 .09-2.47 .08 .8 .08 3.78 .08 2.25 .08 4.1 .09 .83 .08-.46 .08 8.22 .08 .75 .08-1.21 .08-.03 .09 10.09 .08-.43 .08-9.14 .08 6.88 .08 7.33 .09-3.21 .08 1.86 .08 .62 .08-3.31 .08 5.38 .08 1.77 .09-8.11 .08 13.54 .08-6.16 .08-3.14 .08 12.26 .09-3.58 .08-8.01 .08 1.78 .08 3.16 .08-3.89 .08-3.04 .09 4.35 .08-5.59 .08-.48 .08-.9 .08 2.82 .09-.34 .08-3.05 .08-8.7 .08 6.87 .08-4.13 .09 15.81 .08-12.17 .08-1.57 .08-6.26 .08-6.95 .08 5.25 .09-2.92 .08 5.62 .08 3.72 .08-8.86 .08-4.88 .09 5.79 .08-2.27 .08 2.9 .08-5.2 .08 .95 .08-11.45 .09 2.05 .08-5.94 .08-3.15 .08 1.98 .08-3.2 .09-.85 .08-2.29 .08 6.25 .08-1.81 .08 5.65 .08-4.67 .09 11.2 .08 5.94 .08 2.25 .08-.62 .08 2.9 .09 2.05 .08-2.14 .08 4.72 .08 7.1 .08 .83 .08-1.9 .09 2.83 .08 7.14 .08-8.97 .08 5.47 .08-4.81 .09 3.68 .08-7.1 .08 10.67 .08 5.12 .08-9.32 .08-3.81 .09 3.9 .08 10.33 .08-5.37 .08-1.6 .08-5.66 .09-.45 .08-3.84 .08 .8 .08-8.27 .08 11.06 .08-2.32 .09 3.6 .08-5.36 .08 .35 .08-2.14 .08-1.86 .09 6.53 .08-3.28 .08 .73 .08-4 .08 7.65 .09-3.21 .08-2.14 .08-.83 .08 5.9 .08-14.13 .08 5.87 .09-8.63 .08 7.84 .08 5.43 .08-7.79 .08-3.89 .09-.89 .08-4.62 .08-.37 .08 1.64 .08 5.22 .08-10.96 .09 1.74 .08-5.38 .08 4.35 .08-.82 .08 .01 .09-3.31 .08-1.9 .08-6.71 .08 4.91 .08 1.55 .08 4.62 .09-.02 .08-1.21 .08 2.61 .08 3.38 .08 3.41 .09 1.08 .08 3.19 .08-2.08 .08 2.77 .08 4.22 .08 .74 .09 6.97 .08 .27 .08-.53 .08 1.71 .08-7.87 .09 2.45 .08 .22 .08 3.42 .08-2.61 .08 .87 .08 6.03 .09 1.76 .08 4.32 .08-1.81 .08 6 .08 1.22 .09-6.81 .08-5.29 .08 .62 .08-1.12 .08 6.15 .08-1.71 .09 2.1 .08 6.64 .08 3.47 .08-18.09 .08 .58 .09 2.2 .08 13.11 .08-8.18 .08 3.17 .08-2.65 .09-8.99 .08 3.89 .08 2.7 .08 2.54 .08-5.29 .08-3.23 .09-16.19 .08 7.31 .08 6.17 .08 4.6 .08-4.8 .09-3.93 .08-.43 .08-7.85 .08-5.88 .08-10.67 .08 1.11 .09 3.76 .08-3.58 .08-4.1 .08-2.67 .08 3.57 .09 .32 .08 4.82 .08 .68 .08 4.61 .08 4.72 .08-.29 .09-1.02 .08 5.32 .08 5.14 .08-7.91 .08 4.15 .09 4.37 .08-3.82 .08 11.08 .08-2.38 .08 7.36 .08-10.42 .09-3.54 .08 10.79 .08-4.53 .08 9.19 .08-2.79 .09 4.34 .08 3.85 .08 1.23 .08-3 .08-.26 .08-4.91 .09 .55 .08 3.15 .08 4.43 .08-3.44 .08 10.33 .09-14.25 .08 2.83 .08 4.79 .08-4.95 .08-5.28 .09 2.33 .08 1.6 .08-2.47 .08 7.21 .08-1.28 .08-3.01 .09 4.46 .08-2.82 .08 .14 .08-9.07 .08 2.02 .09 4.12 .08 6.39 .08-10.31 .08-6.41 .08 1.96 .08-.56 .09 3.54 .08-6.39 .08 5.64 .08-1.35 .08-1.53 .09-2.83 .08-1.84 .08 1.46 .08-6.16 .08-.4 .08-4.19 .09-8.65 .08 3.99 .08 .66 .08-7.04 .08 1.08 .09-1.86 .08-6.07 .08-2.99 .08-.34 .08 1.38 .08-6.23 .09-2.17 .08 .85 .08-1.91 .08 8.82 .08-5.18 .09 6.51 .08 .14 .08 3.21 .08-1.07 .08 9.04 .08 1.35 .09 5.54 .08-.97 .08 .89 .08-.66 .08-.52 .09 4.23 .08 5.23 .08 3.88 .08 2.9 .08-4.31 .08-1.02 .09 14.93 .08-1.35 .08 3.97 .08-6.15 .08-.24 .09 10.58 .08-.61 .08-3.16 .08 1.4 .08 1.6 .09-5.28 .08-5.09 .08 5 .08 11.18 .08-.17 .08-11.61 .09 2.9 .08-.52 .08 9.2 .08-2.99 .08-8.3 .09 .51 .08 .22 .08-1.09 .08-9.84 .08 .78 .08 13.33 .09-12.12 .08-2.93 .08 7.45 .08-8.7 .08-3.37 .09 1.52 .08 8.91 .08-11.25 .08 4.27 .08-4.45 .08-6.35 .09-7.66 .08-3.23 .08 5.06 .08-3.4 .08-3.59 .09-1.75 .08-5.99 .08-3.44 .08-1.89 .08 1.29 .08 4.45 .09 8.67 .08 .51 .08-7.3 .08 6.9 .08 3.47 .09 1.11 .08-1.48 .08 10.52 .08-4.16 .08 5.35 .08 .06 .09-4.59 .08 13.05 .08 .22 .08 3.8 .08 1.51 .09-2.18 .08 2.21 .08 4.01 .08 2.84 .08-.7 .08 5.31 .09-9.79 .08 8.48 .08-3.9 .08 8.18 .08-2.62 .09 2.88 .08-8.03 .08 6.86 .08-6.55 .08 6.44 .09 3.1 .08-6.34 .08 4.17 .08-5.26 .08 3.5 .08 4.35 .09-9.24 .08-3.57 .08 3.61 .08-.64 .08 1.82 .09 5 .08-8.07 .08 3.55 .08 1.85 .08 5.5 .08-7.23 .09-6.12 .08 .47 .08-4.4 .08-1.08 .08 1.16 .09-1.98 .08 5.15 .08 2.32 .08-12.44 .08-.44 .08 .59 .09 5.47 .08-9.69 .08-.77 .08 2.84 .08-4.49 .09-2.65 .08 2.78 .08-6 .08 2.22 .08-5.42 .08 .81 .09 .13 .08-1.38 .08-5.42 .08-2.62 .08-1.92 .09 3.63 .08 .76 .08 3.62 .08 3.1 .08 2.49 .08-.07 .09 .24 .08 5.52 .08-2.32 .08 1.66 .08-3.71 .09 4.95 .08 3.39 .08-3.11 .08 5.78 .08-9.3 .08-.68 .09 6.26 .08 5.61 .08 8.29 .08-10.55 .08 9.31 .09 1.37 .08 6.04 .08-15.71 .08-2.2 .08-.86 .09 11.3 .08 3.05 .08-6.69 .08 4.69 .08 2.14 .08-.94 .09-.13 .08-2.63 .08-3.79 .08 .74 .08 14.85 .09-2.5 .08-3.29 .08 2.71 .08 .55 .08-7.5 .08-4.23 .09 5.39 .08-6.06 .08-2.77 .08 8.05 .08-7.79 .09 .85 .08 .96 .08 1.07 .08-6.68 .08-3.26 .08 1.36 .09-5.88 .08-1.48 .08-5.15 .08-1.53 .08-.39 .09 .26 .08-8.22 .08 1.71 .08-7.26 .08-5.11 .08 2.79 .09 1.66 .08 2.69 .08-1.66 .08 2.6 .08 3.02 .09 2.68 .08 5.25 .08 1.3 .08-3.74 .08-.72 .08 4.68 .09 3.81 .08 3.06 .08 .36 .08 8.6 .08-1.92 .09 5.32 .08 4.05 .08-2.6 .08-1.62 .08 .92 .08 .76 .09 2.47 .08-.56 .08 7.07 .08-3.73 .08-1.69 .09 7.98 .08-7.18 .08-1.59 .08 5.96 .08-.81 .09 3.22 .08 6.74 .08 1.87 .08-7.37 .08-2.86 .08 4.08 .09 6.83 .08-7.2 .08-2.37 .08-3.18 .08 3.15 .09 3.29 .08-7.4 .08 3.62 .08 .09 .08 3.83 .08-2.31 .09-2.54 .08 3.78 .08-3.41 .08-1.57 .08-1.12 .09-3.69 .08 2.57 .08-4.77 .08 4.63 .08 4.83 .08 2.77 .09-13.35 .08 1.01 .08-9.07 .08 2.97 .08-.82 .09-7.16 .08 4.58 .08-7.08 .08 7.02 .08-3.76 .08-3.12 .09-4.12 .08-1.17 .08 3.44 .08 .47 .08-3.68 .09-2.45 .08-.95 .08-4.52 .08 1.54 .08 .39 .08 .28 .09 4.49 .08 7.33 .08 10.2 .08-10.35 .08 6.16 .09 4.11 .08 2.08 .08 8.27 .08-6.65 .08 2.53 .09-2.6 .08 9.9 .08 3.17 .08 .41 .08 1.65 .08 1.83 .09 2.48 .08-2.24 .08-8.11 .08 3.9 .08 6.85 .09-1.34 .08-6.2 .08 2.95 .08 2.36 .08-8.73 .08 5.61 .09 1.99 .08-3.39 .08 4.38 .08 1.78 .08-2.75 .09-1.36 .08-7.88 .08 9.38 .08-4.29 .08 5.37 .08 2.04 .09-6.66 .08 5.79 .08-4.92 .08-3.99 .08 2.03 .09-6.22 .08 9.53 .08-7.96 .08 1.89 .08-3.23 .08 5.96 .09-7.61 .08 2.08 .08 2.55 .08 4.86 .08-.29 .09-5.52 .08 .36 .08-2.47 .08-5.52 .08-.54 .08-5.88 .09 9.34 .08 3.58 .08-6.31 .08-3.71 .08-3.12 .09-2.54 .08 .9 .08 3.59 .08-7.17 .08 0 .08 2.7 .09-8.43 .08 .01 .08-2.72 .08-2.07 .08 7.11 .09 3.95 .08-3.08 .08-1.92 .08 2.67 .08 4.38 .09 1.08 .08 2.16 .08 2.95 .08-1.01 .08 .32 .08-3.12 .09 8.57 .08-4.75 .08-3.83 .08 5.59 .08 3.7 .09 1.08 .08-8.58 .08 5.83 .08 .28 .08 8.4 .08 6.85 .09-8.5 .08-6.3 .08 4.52 .08 2.36 .08-2.09 .09 1.35 .08 1.53 .08-4.35 .08 7.52 .08-3.2 .08 3.18 .09 7.45 .08-1.98 .08 3.91 .08-10.22 .08 5.1 .09-.69 .08-6.07 .08-2.46 .08 4.18 .08 2.47 .08-4.41 .09-1.21 .08 11.53 .08-12.28 .08-6.35 .08 14.57 .09-11.51 .08-1.63 .08-.59 .08 6.65 .08-3.07 .08-3.62 .09 2.87 .08-8.41 .08-3.02 .08 2.8 .08-3.3 .09-8.86 .08 4.45 .08-1.88 .08 1.76 .08-4.36 .08-6.87 .09 2.27 .08-3.04 .08-1.62 .08 2.08 .08 4.67 .09-.11 .08 2.69 .08 .22 .08 2.81 .08-.83 .09-2.98 .08 5.49 .08 3.58 .08-3.32 .08 2.73 .08 1.5 .09-2.49 .08-3.62 .08 11.98 .08 3.49 .08 .69 .09-6.4 .08 6.34 .08 6.77 .08-3.58 .08 1.38 .08-1.45 .09-.28 .08-3.72 .08-4.27 .08 9.42 .08-5.21 .09 11.28 .08-1.34 .08-2.7 .08 7.56 .08 .77 .08-10.32 .09-1.17 .08 6.2 .08-4.54 .08 12.62 .08-3.85 .09-.27 .08-9.53 .08-4.33 .08 5.01 .08-6.99 .08 3.93 .09-3.48 .08 9.86 .08 2.5 .08-9.15 .08-2.35 .09-3.02 .08-1.93 .08-8.36 .08-5.55 .08 .22 .08-.42 .09 .66 .08-8.62 .08-2.46 .08-4.62 .08-2.52 .09 6.38 .08-1.93 .08 3.26 .08 3.49 .08 3.36 .08-2.49 .09-1.04 .08 6.48 .08 4.84 .08-.93 .08 .87 .09-3.14 .08 6.47 .08 2.6 .08 1.67 .08-6.35 .09 5.75 .08 1.11 .08-1.8 .08 6.52 .08 2.69 .08 1.22 .09-5.44 .08 1.41 .08 3.6 .08 .26 .08-4.61 .09-1.09 .08 7.44 .08 1.94 .08 2.9 .08-2.43 .08-.32 .09 4.66 .08-4.1 .08 4.96 .08-8.4 .08 4.53 .09-3.63 .08-3.85 .08 7.02 .08-2.61 .08-5.21 .08 8.58 .09 3.15 .08 .51 .08-1.29 .08-5.64 .08-.84 .09 8.11 .08-2.74 .08-2.01 .08 5.24 .08-3.26 .08 .44 .09-14.46 .08 .34 .08-4.89 .08 6.56 .08 4.25 .09-5.97 .08 3.89 .08 .98 .08-5.57 .08 1.35 .08-8.07 .09 6.53 .08-.03 .08 .16 .08-3.49 .08-3.98 .09-4.13 .08 4.8 .08 .21 .08-5.26 .08-1.14 .08 .84 .09 1.03 .08-6.65 .08 1.89 .08-3.95 .08-6.38 .09-.76 .08-3.6 .08-2.17 .08-2.2 .08 4.04 .09 1.24 .08-.31 .08 3.02 .08-1.16 .08 6.23 .08 4.5 .09 9.8 .08 .08 .08-8.31 .08 5.21 .08-.84 .09 7.04 .08-4.58 .08 8.32 .08 2.28 .08 1.33 .08-1.01 .09-6.39 .08 12.58 .08 10.96 .08-5.31 .08-2.12 .09-4.55 .08-1.08 .08 4.23 .08 10.78 .08-7.14 .08-2.2 .09 5.21 .08-5.5 .08-.87 .08 7.4 .08-9.43 .09 6.33 .08 4.33 .08 2.24 .08-6.5 .08-5.03 .08 4.2 .09 5.9 .08-7.76 .08 6.07 .08-10.96 .08-.8 .09 2.96 .08-3.94 .08 2.9 .08-.97 .08-6.05 .08 5.46 .09-.6 .08-1.07 .08-1.87 .08-5 .08-2.55 .09-3.9 .08 6.17 .08-5.4 .08-3.14 .08 1.81 .09-4.18 .08 2.49 .08 1.31 .08-5.18 .08-7.87 .08-2.36 .09-3.06 .08-4.67 .08-4.25 .08 .05 .08-.57 .09 4.96 .08 2.25 .08-2.76 .08 4.93 .08 6.35 .08 3.94 .09 .14 .08 4.79 .08 3.9 .08-7.13 .08 10.51 .09 1.18 .08 3.55 .08 1.87 .08 3.21 .08 1.23 .08 3.83 .09 3.76 .08-4.41 .08-4.58 .08 7.76 .08 7.15 .09-10.83 .08-4.59 .08 12.3 .08-8 .08 8.55 .08-.76 .09-10.76 .08-1.75 .08 5.4 .08 1.77 .08-4.07 .09 4.85 .08-4.59 .08 4.85 .08-5.24 .08-1.73 .08-5.19 .09 4.31 .08-5.59 .08 .4 .08-1.8 .08 3.49 .09-2.74 .08-2.92 .08 .21 .08-2.86 .08 2.61 .08-.18 .09-3.35 .08 .08 .08-3.33 .08-.67 .08 1.14 .09-.59 .08-15.4 .08 .47 .08 3.38 .08-2.55 .09 3.5 .08-5.23 .08-2.59 .08-.93 .08-7.47 .08 .34 .09 1.79 .08 1.9 .08 11.03 .08 1.46 .08 1.93 .09 5.74 .08 3.2 .08 4.13 .08 5.38 .08-3.51 .08 3.75 .09 1.64 .08 3.27 .08 2.79 .08 7.35 .08-4.57 .09 4.79 .08 5.82 .08 1.24 .08-19.81 .08 5.32 .08 4.1 .09 10.65 .08-5.24 .08-.7 .08 2.26 .08-.34 .09 .12 .08-1.22 .08 1.19 .08-9.14 .08 11.98 .08-.98 .09-1.23 .08-8.55 .08-3.81 .08 9.63 .08-8.86 .09 7.98 .08 1 .08-6.57 .08 2.93 .08-2.96 .08 4 .09-3.59 .08 7.39 .08-10.03 .08-6.31 .08 9.32 .09-7.38 .08-2.92 .08 1.25 .08 1.41 .08-3.58 .08-4.66 .09 4.82 .08-.47 .08-3.71 .08-5.95 .08-5.41 .09 7.71 .08 2.32 .08-.27 .08-7.96 .08 5.32 .09-7.23 .08-3.1 .08-.97 .08 .41 .08-2.39 .08-2.01 .09-3.01 .08-3.75 .08 1.81 .08-2.53 .08-4.04 .09 .65 .08 .5 .08 11.24 .08 2.58 .08 1.72 .08-3.64 .09 9.44 .08 .37 .08 1.46 .08 5.18 .08 1.21 .09-3.59 .08 8.35 .08 2.96 .08-3.1 .08-5.19 .08 1.28 .09 9.7 .08-3.61 .08-.4 .08 .03 .08-1.15 .09 8.39 .08 12.63 .08-9.42 .08 6.62 .08 2.57 .08-1.07 .09-4.59 .08 3.4 .08-4.29 .08 10.07 .08-7.35 .09-12.9 .08-4.8 .08 4.56 .08 7.1 .08-2.53 .08 10.35 .09-5.1 .08 3.01 .08-13.82 .08 12.16 .08 2.53 .09-11.44 .08 2.67 .08-.16 .08-4.92 .08 .79 .08 .89 .09 .54 .08 4.35 .08 3.36 .08-11.49 .08-10.6 .09 3.67 .08 .3 .08-4.17 .08-3.52 .08-.06 .09-1.55 .08-2.08 .08-.13 .08-7.74 .08-1.81 .08-5.33 .09 7.27 .08-5.82 .08 2.29 .08-5.03 .08-.58 .09-3.29 .08-3.62 .08-6.87 .08 8.2 .08 2.88 .08 2.52 .09 1.5 .08 3.55 .08 5.3 .08-2.82 .08 7.74 .09 4.26 .08-6.38 .08 4.57 .08 3.63 .08 2.42 .08-7.72 .09 9.07 .08 7.18 .08 .24 .08 4.74 .08-1.19 .09 1.84 .08 2.06 .08 3.19 .08-.67 .08 .23 .08 4.76 .09 7.48 .08-10.21 .08-1.61 .08-2.01 .08 3.05 .09 6.8 .08-3.79 .08 .3 .08 6.12 .08-4.24 .08 6.2 .09-4.68 .08 5.86 .08-9.14 .08 5.43 .08-4.59 .09-1.56 .08-.17 .08 6.13 .08 6.2 .08 1.24 .08-6.14 .09-6.86 .08 1.29 .08 .21 .08-4.72 .08-.69 .09-1.06 .08-4.2 .08-2.54 .08-4.22 .08-5.41 .09-.99 .08 6.28 .08 .91 .08-5.86 .08-3.99 .08 3.57 .09-4.72 .08 6.65 .08-8.69 .08 .67 .08-1.36 .09-4.11 .08-3.66 .08 1.56 .08-3.39 .08-3.39 .08-2.3 .09 1 .08 1.72 .08 6.17 .08 6.19 .08-4.45 .09 1.67 .08 8.73 .08-4.01 .08 15.73 .08-2.25 .08 1.48 .09-2.69 .08-1.94 .08-3.24 .08 16.28 .08-.63 .09-1.3 .08 2.99 .08 6.76 .08-.86 .08 3.02 .08-1.56 .09 1.99 .08 3.96 .08-10.76 .08 1.1 .08 1.08 .09-1.05 .08-2.06 .08 9.65 .08-.52 .08-4.16 .08 .15 .09 3.66 .08-16.2 .08 4.86 .08 5.08 .08-1.06 .09-7.17 .08 1.83 .08 6.56 .08-6.34 .08 2.74 .09-.89 .08 3.49 .08-3.18 .08-.59 .08 .33 .08 3.87 .09-3.51 .08-8.39 .08 2.78 .08 .15 .08-.07 .09 3.35 .08-2.98 .08 .05 .08-3.08 .08-5.37 .08 3.62 .09-1.16 .08-1.12 .08-6.62 .08-2.41 .08-3.15 .09 3.13 .08 1.92 .08-1.42 .08-2.81 .08 2.27 .08-3.52 .09-.97 .08-3.3 .08 1.96 .08 8.96 .08-2.42 .09-.64 .08 3.55 .08 .12 .08 3.03 .08 6.18 .08-.39 .09 3.47 .08-7.15 .08 8.27 .08-5.85 .08 3.36 .09-2.91 .08 5.33 .08 .28 .08 1.53 .08-2.07 .08 .54 .09 0 .08 .21 .08 5.75 .08 3.25 .08-3.27 .09-.78 .08 1.12 .08 .02 .08 4.28 .08-.62 .08 1.69 .09-4.77 .08 6.79 .08-11.97 .08 2.8 .08 5.52 .09-7.02 .08-.63 .08 2.67 .08 8.43 .08-1.36 .09-8.56 .08 1.96 .08-7.56 .08-5.75 .08 4.49 .08 7.31 .09-1.54 .08-5.28 .08-1.02 .08-6.67 .08 10.9 .09-10.28 .08-5.81 .08 .74 .08-2 .08-6.31 .08-2.49 .09-4.31 .08-3.4 .08-.26 .08-3.91 .08-4.53 .09 .29 .08 .6 .08 2.88 .08 3.43 .08-3.65 .08 5.46 .09-.97 .08 4.56 .08 4.74 .08-1.49 .08 .98 .09 5.51 .08 5.94 .08 1.86 .08-12.12 .08 7.08 .08-3.43 .09 9.22 .08 5.92 .08 3.29 .08-4.94 .08 5.43 .09 .31 .08-4.47 .08 4.4 .08 3.54 .08-10.21 .08 7.83 .09 1.59 .08 2.93 .08 1.3 .08-11.21 .08 .43 .09 6.13 .08 3.71 .08 5.92 .08-15.77 .08 5.52 .08-2.14 .09 1.2 .08 10.34 .08 2.92 .08-.09 .08 1.79 .09-3.22 .08-4.36 .08-1.31 .08 .77 .08 4.42 .09 .92 .08-3.12 .08-6 .08-2.66 .08 1.59 .08-4.18 .09 .52 .08-.55 .08-2.49 .08-3.72 .08 1.63 .09 5.51 .08-8.05 .08-6.27 .08-4.28 .08 1.37 .08-6.34 .09 .06 .08-6.67 .08 3.78 .08-5.27 .08-.27 .09-.99 .08-2.77 .08 9.99 .08 3.3 .08-4.26 .08-.02 .09 6.44 .08-2.03 .08 5.14 .08 13.21 .08 .33 .09 1.89 .08 .45 .08 .59 .08-2.39 .08-2.26 .08 6.99 .09 .91 .08 1.46 .08-5.68 .08 7.87 .08-2.57 .09-1.14 .08 .29 .08 3.94 .08-1.13 .08 6.05 .08-6.63 .09 3.43 .08-5.17 .08-2.16 .08 10.02 .08-7.25 .09 1.75 .08-2.57 .08-4.89 .08 8.15 .08 4.86 .08-5.58 .09-6.86 .08-.5 .08 2.6 .08 6.39 .08-.46 .09 2.96 .08-3.22 .08-.82 .08-1.43 .08-3.02 .09 10.95 .08 3.35 .08-12.3 .08-2.57 .08 6.25 .08 3.05 .09-2.48 .08-7.58 .08-6.66 .08 1.84 .08 5.57 .09-2.76 .08 1.05 .08-4.19 .08 2.35 .08-.14 .08-5.26 .09 6.49 .08-1.41 .08-1.48 .08-9.18 .08 6.13 .09 6.95 .08-7.61 .08-3.54 .08-1.04 .08-4.33 .08 3.74 .09 1.03" style="fill: none; stroke: #1f77b4; stroke-width: 1.85; stroke-linecap: square"/>
   </g>
  </g>
  <g id="axes_4">
   <g id="patch_17">
    <path d="M 90 474.703448 L 648 474.703448 L 648 390.289655 L 90 390.289655z" style="fill: #ffffff"/>
   </g>
   <g id="matplotlib.axis_7">
    <g id="xtick_28">
     <g id="text_43">
      <g transform="translate(0.000 0.792)"><text style="font-size: 10px; font-family: 'DejaVu Sans', 'Liberation Sans', sans-serif" transform="translate(122.393771 501.008888) rotate(-30)">2020</text></g>
     </g>
    </g>
    <g id="xtick_29">
     <g id="text_44">
      <g transform="translate(0.000 0.792)"><text style="font-size: 10px; font-family: 'DejaVu Sans', 'Liberation Sans', sans-serif" transform="translate(182.123892 501.008888) rotate(-30)">2030</text></g>
     </g>
    </g>
    <g id="xtick_30">
     <g id="text_45">
      <g transform="translate(0.000 0.792)"><text style="font-size: 10px; font-family: 'DejaVu Sans', 'Liberation Sans', sans-serif" transform="translate(241.837662 501.008888) rotate(-30)">2040</text></g>
     </g>
    </g>
    <g id="xtick_31">
     <g id="text_46">
      <g transform="translate(0.000 0.792)"><text style="font-size: 10px; font-family: 'DejaVu Sans', 'Liberation Sans', sans-serif" transform="translate(301.567783 501.008888) rotate(-30)">2050</text></g>
     </g>
    </g>
    <g id="xtick_32">
     <g id="text_47">
      <g transform="translate(0.000 0.792)"><text style="font-size: 10px; font-family: 'DejaVu Sans', 'Liberation Sans', sans-serif" transform="translate(361.281553 501.008888) rotate(-30)">2060</text></g>
     </g>
    </g>
    <g id="xtick_33">
     <g id="text_48">
      <g transform="translate(0.000 0.792)"><text style="font-size: 10px; font-family: 'DejaVu Sans', 'Liberation Sans', sans-serif" transform="translate(421.011674 501.008888) rotate(-30)">2070</text></g>
     </g>
    </g>
    <g id="xtick_34">
     <g id="text_49">
      <g transform="translate(0.000 0.792)"><text style="font-size: 10px; font-family: 'DejaVu Sans', 'Liberation Sans', sans-serif" transform="translate(480.725444 501.008888) rotate(-30)">2080</text></g>
     </g>
    </g>
    <g id="xtick_35">
     <g id="text_50">
      <g transform="translate(0.000 0.792)"><text style="font-size: 10px; font-family: 'DejaVu Sans', 'Liberation Sans', sans-serif" transform="translate(540.455565 501.008888) rotate(-30)">2090</text></g>
     </g>
    </g>
    <g id="xtick_36">
     <g id="text_51">
      <g transform="translate(0.000 0.792)"><text style="font-size: 10px; font-family: 'DejaVu Sans', 'Liberation Sans', sans-serif" transform="translate(600.169335 501.008888) rotate(-30)">2100</text></g>
     </g>
    </g>
    <g id="text_52">
     <g transform="translate(-0.648 0.720)"><text style="font-size: 10px; font-family: 'DejaVu Sans', 'Liberation Sans', sans-serif; text-anchor: middle" x="369" y="514.408388" transform="rotate(-0 369 514.408388)">validtime</text></g>
    </g>
   </g>
   <g id="matplotlib.axis_8">
    <g id="ytick_9">
     <g id="text_53">
      <text style="font-size: 10px; font-family: 'DejaVu Sans', 'Liberation Sans', sans-serif; text-anchor: end" x="83" y="472.340228" transform="rotate(-0 83 472.340228)">40</text>
     </g>
    </g>
    <g id="ytick_10">
     <g id="text_54">
      <text style="font-size: 10px; font-family: 'DejaVu Sans', 'Liberation Sans', sans-serif; text-anchor: end" x="83" y="449.085739" transform="rotate(-0 83 449.085739)">50</text>
     </g>
    </g>
    <g id="ytick_11">
     <g id="text_55">
      <text style="font-size: 10px; font-family: 'DejaVu Sans', 'Liberation Sans', sans-serif; text-anchor: end" x="83" y="425.831251" transform="rotate(-0 83 425.831251)">60</text>
     </g>
    </g>
    <g id="ytick_12">
     <g id="text_56">
      <text style="font-size: 10px; font-family: 'DejaVu Sans', 'Liberation Sans', sans-serif; text-anchor: end" x="83" y="402.576762" transform="rotate(-0 83 402.576762)">70</text>
     </g>
    </g>
    <g id="text_57">
     <g transform="translate(0.000 1.944)"><text style="font-size: 10px; font-family: 'DejaVu Sans', 'Liberation Sans', sans-serif; text-anchor: middle" x="64.195312" y="432.496552" transform="rotate(-90 64.195312 432.496552)">nummasked</text></g>
    </g>
    <g id="text_58">
     <text style="font-size: 10px; font-family: 'DejaVu Sans', 'Liberation Sans', sans-serif; text-anchor: start" x="90" y="387.289655" transform="rotate(-0 90 387.289655)">+4.732e5</text>
    </g>
   </g>
   <g id="line2d_52">
    <path d="M115.36 470.87l.09 0 .08 0 .08 0 .08 0 .08 0 .08 0 .09 0 .08 0 .08 0 .08 0 .08 0 .09 0 .08 0 .08 0 .08 0 .08 0 .08 0 .09 0 .08 0 .08 0 .08 0 .08 0 .09 0 .08 0 .08 0 .08 0 .08 0 .08 0 .09 0 .08 0 .08 0 .08 0 .08 0 .09 0 .08 0 .08 0 .08 0 .08 0 .09 0 .08 0 .08 0 .08 0 .08 0 .08 0 .09 0 .08 0 .08 0 .08 0 .08 0 .09 0 .08 0 .08 0 .08 0 .08 0 .08 0 .09 0 .08 0 .08 0 .08 0 .08 0 .09 0 .08 0 .08 0 .08 0 .08 0 .08 0 .09 0 .08 0 .08 0 .08 0 .08 0 .09 0 .08-76.74 .08 0 .08 0 .08 0 .08 0 .09 0 .08 0 .08 0 .08 0 .08 0 .09 0 .08 0 .08 0 .08 0 .08 0 .08 0 .09 0 .08 0 .08 0 .08 0 .08 0 .09 0 .08 0 .08 0 .08 0 .08 0 .08 0 .09 0 .08 0 .08 0 .08 0 .08 0 .09 0 .08 0 .08 0 .08 0 .08 0 .09 0 .08 0 .08 0 .08 0 .08 0 .08 0 .09 0 .08 0 .08 0 .08 0 .08 0 .09 0 .08 0 .08 0 .08 0 .08 0 .08 0 .09 0 .08 0 .08 0 .08 0 .08 0 .09 0 .08 0 .08 0 .08 0 .08 0 .08 0 .09 0 .08 0 .08 0 .08 0 .08 0 .09 0 .08 0 .08 0 .08 0 .08 0 .08 0 .09 0 .08 0 .08 0 .08 0 .08 0 .09 0 .08 0 .08 0 .08 0 .08 0 .08 0 .09 0 .08 0 .08 0 .08 0 .08 0 .09 0 .08 0 .08 0 .08 0 .08 0 .08 0 .09 0 .08 0 .08 0 .08 0 .08 0 .09 0 .08 0 .08 0 .08 0 .08 0 .09 0 .08 0 .08 0 .08 0 .08 0 .08 0 .09 0 .08 0 .08 0 .08 0 .08 0 .09 0 .08 0 .08 0 .08 0 .08 0 .08 0 .09 0 .08 0 .08 0 .08 0 .08 0 .09 0 .08 0 .08 0 .08 0 .08 0 .08 0 .09 0 .08 0 .08 0 .08 0 .08 0 .09 0 .08 0 .08 0 .08 0 .08 0 .08 0 .09 0 .08 0 .08 0 .08 0 .08 0 .09 0 .08 0 .08 0 .08 0 .08 0 .08 0 .09 0 .08 0 .08 0 .08 0 .08 0 .09 0 .08 0 .08 0 .08 0 .08 0 .08 0 .09 0 .08 0 .08 0 .08 0 .08 0 .09 0 .08 0 .08 0 .08 0 .08 0 .09 0 .08 0 .08 0 .08 0 .08 0 .08 0 .09 0 .08 0 .08 0 .08 0 .08 0 .09 0 .08 0 .08 0 .08 0 .08 0 .08 0 .09 0 .08 0 .08 0 .08 0 .08 0 .09 0 .08 0 .08 0 .08 0 .08 0 .08 0 .09 0 .08 0 .08 0 .08 0 .08 0 .09 0 .08 0 .08 0 .08 0 .08 0 .08 0 .09 0 .08 0 .08 0 .08 0 .08 0 .09 0 .08 0 .08 0 .08 0 .08 0 .08 0 .09 0 .08 0 .08 0 .08 0 .08 0 .09 0 .08 0 .08 0 .08 0 .08 0 .09 0 .08 0 .08 0 .08 0 .08 0 .08 0 .09 0 .08 0 .08 0 .08 0 .08 0 .09 0 .08 0 .08 0 .08 0 .08 0 .08 0 .09 0 .08 0 .08 0 .08 0 .08 0 .09 0 .08 0 .08 0 .08 0 .08 0 .08 0 .09 0 .08 0 .08 0 .08 0 .08 0 .09 0 .08 0 .08 0 .08 0 .08 0 .08 0 .09 0 .08 0 .08 0 .08 0 .08 0 .09 0 .08 0 .08 0 .08 0 .08 0 .08 0 .09 0 .08 0 .08 0 .08 0 .08 0 .09 0 .08 0 .08 0 .08 0 .08 0 .08 0 .09 0 .08 0 .08 0 .08 0 .08 0 .09 0 .08 0 .08 0 .08 0 .08 0 .09 0 .08 0 .08 0 .08 0 .08 0 .08 0 .09 0 .08 0 .08 0 .08 0 .08 0 .09 0 .08 0 .08 0 .08 0 .08 0 .08 0 .09 0 .08 0 .08 0 .08 0 .08 0 .09 0 .08 0 .08 0 .08 0 .08 0 .08 0 .09 0 .08 0 .08 0 .08 0 .08 0 .09 0 .08 0 .08 0 .08 0 .08 0 .08 0 .09 0 .08 0 .08 0 .08 0 .08 0 .09 0 .08 0 .08 0 .08 0 .08 0 .08 0 .09 0 .08 0 .08 0 .08 0 .08 0 .09 0 .08 0 .08 0 .08 0 .08 0 .08 0 .09 0 .08 0 .08 0 .08 0 .08 0 .09 0 .08 0 .08 0 .08 0 .08 0 .09 0 .08 0 .08 0 .08 0 .08 0 .08 0 .09 0 .08 0 .08 0 .08 0 .08 0 .09 0 .08 0 .08 0 .08 0 .08 0 .08 0 .09 0 .08 0 .08 0 .08 0 .08 0 .09 0 .08 0 .08 0 .08 0 .08 0 .08 0 .09 0 .08 0 .08 0 .08 0 .08 0 .09 0 .08 0 .08 0 .08 0 .08 0 .08 0 .09 0 .08 0 .08 0 .08 0 .08 0 .09 0 .08 0 .08 0 .08 0 .08 0 .08 0 .09 0 .08 0 .08 0 .08 0 .08 0 .09 0 .08 0 .08 0 .08 0 .08 0 .08 0 .09 0 .08 0 .08 0 .08 0 .08 0 .09 0 .08 0 .08 0 .08 0 .08 0 .09 0 .08 0 .08 0 .08 0 .08 0 .08 0 .09 0 .08 0 .08 0 .08 0 .08 0 .09 0 .08 0 .08 0 .08 0 .08 0 .08 0 .09 0 .08 0 .08 0 .08 0 .08 0 .09 0 .08 0 .08 0 .08 0 .08 0 .08 0 .09 0 .08 0 .08 0 .08 0 .08 0 .09 0 .08 0 .08 0 .08 0 .08 0 .08 0 .09 0 .08 0 .08 0 .08 0 .08 0 .09 0 .08 0 .08 0 .08 0 .08 0 .08 0 .09 0 .08 0 .08 0 .08 0 .08 0 .09 0 .08 0 .08 0 .08 0 .08 0 .08 0 .09 0 .08 0 .08 0 .08 0 .08 0 .09 0 .08 0 .08 0 .08 0 .08 0 .09 0 .08 0 .08 0 .08 0 .08 0 .08 0 .09 0 .08 0 .08 0 .08 0 .08 0 .09 0 .08 0 .08 0 .08 0 .08 0 .08 0 .09 0 .08 0 .08 0 .08 0 .08 0 .09 0 .08 0 .08 0 .08 0 .08 0 .08 0 .09 0 .08 0 .08 0 .08 0 .08 0 .09 0 .08 0 .08 0 .08 0 .08 0 .08 0 .09 0 .08 0 .08 0 .08 0 .08 0 .09 0 .08 0 .08 0 .08 0 .08 0 .08 0 .09 0 .08 0 .08 0 .08 0 .08 0 .09 0 .08 0 .08 0 .08 0 .08 0 .09 0 .08 0 .08 0 .08 0 .08 0 .08 0 .09 0 .08 0 .08 0 .08 0 .08 0 .09 0 .08 0 .08 0 .08 0 .08 0 .08 0 .09 0 .08 0 .08 0 .08 0 .08 0 .09 0 .08 0 .08 0 .08 0 .08 0 .08 0 .09 0 .08 0 .08 0 .08 0 .08 0 .09 0 .08 0 .08 0 .08 0 .08 0 .08 0 .09 0 .08 0 .08 0 .08 0 .08 0 .09 0 .08 0 .08 0 .08 0 .08 0 .08 0 .09 0 .08 0 .08 0 .08 0 .08 0 .09 0 .08 0 .08 0 .08 0 .08 0 .08 0 .09 0 .08 0 .08 0 .08 0 .08 0 .09 0 .08 0 .08 0 .08 0 .08 0 .09 0 .08 0 .08 0 .08 0 .08 0 .08 0 .09 0 .08 0 .08 0 .08 0 .08 0 .09 0 .08 0 .08 0 .08 0 .08 0 .08 0 .09 0 .08 0 .08 0 .08 0 .08 0 .09 0 .08 0 .08 0 .08 0 .08 0 .08 0 .09 0 .08 0 .08 0 .08 0 .08 0 .09 0 .08 0 .08 0 .08 0 .08 0 .08 0 .09 0 .08 0 .08 0 .08 0 .08 0 .09 0 .08 0 .08 0 .08 0 .08 0 .08 0 .09 0 .08 0 .08 0 .08 0 .08 0 .09 0 .08 0 .08 0 .08 0 .08 0 .08 0 .09 0 .08 0 .08 0 .08 0 .08 0 .09 0 .08 0 .08 0 .08 0 .08 0 .09 0 .08 0 .08 0 .08 0 .08 0 .08 0 .09 0 .08 0 .08 0 .08 0 .08 0 .09 0 .08 0 .08 0 .08 0 .08 0 .08 0 .09 0 .08 0 .08 0 .08 0 .08 0 .09 0 .08 0 .08 0 .08 0 .08 0 .08 0 .09 0 .08 0 .08 0 .08 0 .08 0 .09 0 .08 0 .08 0 .08 0 .08 0 .08 0 .09 0 .08 0 .08 0 .08 0 .08 0 .09 0 .08 0 .08 0 .08 0 .08 0 .08 0 .09 0 .08 0 .08 0 .08 0 .08 0 .09 0 .08 0 .08 0 .08 0 .08 0 .08 0 .09 0 .08 0 .08 0 .08 0 .08 0 .09 0 .08 0 .08 0 .08 0 .08 0 .09 0 .08 0 .08 0 .08 0 .08 0 .08 0 .09 0 .08 0 .08 0 .08 0 .08 0 .09 0 .08 0 .08 0 .08 0 .08 0 .08 0 .09 0 .08 0 .08 0 .08 0 .08 0 .09 0 .08 0 .08 0 .08 0 .08 0 .08 0 .09 0 .08 0 .08 0 .08 0 .08 0 .09 0 .08 0 .08 0 .08 0 .08 0 .08 0 .09 0 .08 0 .08 0 .08 0 .08 0 .09 0 .08 0 .08 0 .08 0 .08 0 .08 0 .09 0 .08 0 .08 0 .08 0 .08 0 .09 0 .08 0 .08 0 .08 0 .08 0 .08 0 .09 0 .08 0 .08 0 .08 0 .08 0 .09 0 .08 0 .08 0 .08 0 .08 0 .09 0 .08 0 .08 0 .08 0 .08 0 .08 0 .09 0 .08 0 .08 0 .08 0 .08 0 .09 0 .08 0 .08 0 .08 0 .08 0 .08 0 .09 0 .08 0 .08 0 .08 0 .08 0 .09 0 .08 0 .08 0 .08 0 .08 0 .08 0 .09 0 .08 0 .08 0 .08 0 .08 0 .09 0 .08 0 .08 0 .08 0 .08 0 .08 0 .09 0 .08 0 .08 0 .08 0 .08 0 .09 0 .08 0 .08 0 .08 0 .08 0 .08 0 .09 0 .08 0 .08 0 .08 0 .08 0 .09 0 .08 0 .08 0 .08 0 .08 0 .09 0 .08 0 .08 0 .08 0 .08 0 .08 0 .09 0 .08 0 .08 0 .08 0 .08 0 .09 0 .08 0 .08 0 .08 0 .08 0 .08 0 .09 0 .08 0 .08 0 .08 0 .08 0 .09 0 .08 0 .08 0 .08 0 .08 0 .08 0 .09 0 .08 0 .08 0 .08 0 .08 0 .09 0 .08 0 .08 0 .08 0 .08 0 .08 0 .09 0 .08 0 .08 0 .08 0 .08 0 .09 0 .08 0 .08 0 .08 0 .08 0 .08 0 .09 0 .08 0 .08 0 .08 0 .08 0 .09 0 .08 0 .08 0 .08 0 .08 0 .08 0 .09 0 .08 0 .08 0 .08 0 .08 0 .09 0 .08 0 .08 0 .08 0 .08 0 .09 0 .08 0 .08 0 .08 0 .08 0 .08 0 .09 0 .08 0 .08 0 .08 0 .08 0 .09 0 .08 0 .08 0 .08 0 .08 0 .08 0 .09 0 .08 0 .08 0 .08 0 .08 0 .09 0 .08 0 .08 0 .08 0 .08 0 .08 0 .09 0 .08 0 .08 0 .08 0 .08 0 .09 0 .08 0 .08 0 .08 0 .08 0 .08 0 .09 0 .08 0 .08 0 .08 0 .08 0 .09 0 .08 0 .08 0 .08 0 .08 0 .08 0 .09 0 .08 0 .08 0 .08 0 .08 0 .09 0 .08 0 .08 0 .08 0 .08 0 .08 0 .09 0 .08 0 .08 0 .08 0 .08 0 .09 0 .08 0 .08 0 .08 0 .08 0 .09 0 .08 0 .08 0 .08 0 .08 0 .08 0 .09 0 .08 0 .08 0 .08 0 .08 0 .09 0 .08 0 .08 0 .08 0 .08 0 .08 0 .09 0 .08 0 .08 0 .08 0 .08 0 .09 0 .08 0 .08 0 .08 0 .08 0 .08 0 .09 0 .08 0 .08 0 .08 0 .08 0 .09 0 .08 0 .08 0 .08 0 .08 0 .08 0 .09 0 .08 0 .08 0 .08 0 .08 0 .09 0 .08 0 .08 0 .08 0 .08 0 .08 0 .09 0 .08 0 .08 0 .08 0 .08 0 .09 0 .08 0 .08 0 .08 0 .08 0 .08 0 .09 0 .08 0 .08 0 .08 0 .08 0 .09 0 .08 0 .08 0 .08 0 .08 0 .09 0 .08 0 .08 0 .08 0 .08 0 .08 0 .09 0 .08 0 .08 0 .08 0 .08 0 .09 0 .08 0 .08 0 .08 0 .08 0 .08 0 .09 0 .08 0 .08 0 .08 0 .08 0 .09 0 .08 0 .08 0 .08 0 .08 0 .08 0 .09 0 .08 0 .08 0 .08 0 .08 0 .09 0 .08 0 .08 0 .08 0 .08 0 .08 0 .09 0 .08 0 .08 0 .08 0 .08 0 .09 0 .08 0 .08 0 .08 0 .08 0 .08 0 .09 0 .08 0 .08 0 .08 0 .08 0 .09 0 .08 0 .08 0 .08 0 .08 0 .08 0 .09 0 .08 0 .08 0 .08 0 .08 0 .09 0 .08 0 .08 0 .08 0 .08 0 .09 0 .08 0 .08 0 .08 0 .08 0 .08 0 .09 0 .08 0 .08 0 .08 0 .08 0 .09 0 .08 0 .08 0 .08 0 .08 0 .08 0 .09 0 .08 0 .08 0 .08 0 .08 0 .09 0 .08 0 .08 0 .08 0 .08 0 .08 0 .09 0 .08 0 .08 0 .08 0 .08 0 .09 0 .08 0 .08 0 .08 0 .08 0 .08 0 .09 0 .08 0 .08 0 .08 0 .08 0 .09 0 .08 0 .08 0 .08 0 .08 0 .08 0 .09 0 .08 0 .08 0 .08 0 .08 0 .09 0 .08 0 .08 0 .08 0 .08 0 .09 0 .08 0 .08 0 .08 0 .08 0 .08 0 .09 0 .08 0 .08 0 .08 0 .08 0 .09 0 .08 0 .08 0 .08 0 .08 0 .08 0 .09 0 .08 0 .08 0 .08 0 .08 0 .09 0 .08 0 .08 0 .08 0 .08 0 .08 0 .09 0 .08 0 .08 0 .08 0 .08 0 .09 0 .08 0 .08 0 .08 0 .08 0 .08 0 .09 0 .08 0 .08 0 .08 0 .08 0 .09 0 .08 0 .08 0 .08 0 .08 0 .08 0 .09 0 .08 0 .08 0 .08 0 .08 0 .09 0 .08 0 .08 0 .08 0 .08 0 .08 0 .09 0 .08 0 .08 0 .08 0 .08 0 .09 0 .08 0 .08 0 .08 0 .08 0 .09 0 .08 0 .08 0 .08 0 .08 0 .08 0 .09 0 .08 0 .08 0 .08 0 .08 0 .09 0 .08 0 .08 0 .08 0 .08 0 .08 0 .09 0 .08 0 .08 0 .08 0 .08 0 .09 0 .08 0 .08 0 .08 0 .08 0 .08 0 .09 0 .08 0 .08 0 .08 0 .08 0 .09 0 .08 0 .08 0 .08 0 .08 0 .08 0 .09 0 .08 0 .08 0 .08 0 .08 0 .09 0 .08 0 .08 0 .08 0 .08 0 .08 0 .09 0 .08 0 .08 0 .08 0 .08 0 .09 0 .08 0 .08 0 .08 0 .08 0 .08 0 .09 0 .08 0 .08 0 .08 0 .08 0 .09 0 .08 0 .08 0 .08 0 .08 0 .09 0 .08 0 .08 0 .08 0 .08 0 .08 0 .09 0 .08 0 .08 0 .08 0 .08 0 .09 0 .08 0 .08 0 .08 0 .08 0 .08 0 .09 0 .08 0 .08 0 .08 0 .08 0 .09 0 .08 0 .08 0 .08 0 .08 0 .08 0 .09 0 .08 0 .08 0 .08 0 .08 0 .09 0 .08 0 .08 0 .08 0 .08 0 .08 0 .09 0 .08 0 .08 0 .08 0 .08 0 .09 0 .08 0 .08 0 .08 0 .08 0 .08 0 .09 0 .08 0 .08 0 .08 0 .08 0 .09 0 .08 0 .08 0 .08 0 .08 0 .08 0 .09 0 .08 0 .08 0 .08 0 .08 0 .09 0 .08 0 .08 0 .08 0 .08 0 .09 0 .08 0 .08 0 .08 0 .08 0 .08 0 .09 0 .08 0 .08 0 .08 0 .08 0 .09 0 .08 0 .08 0 .08 0 .08 0 .08 0 .09 0 .08 0 .08 0 .08 0 .08 0 .09 0 .08 0 .08 0 .08 0 .08 0 .08 0 .09 0 .08 0 .08 0 .08 0 .08 0 .09 0 .08 0 .08 0 .08 0 .08 0 .08 0 .09 0 .08 0 .08 0 .08 0 .08 0 .09 0 .08 0 .08 0 .08 0 .08 0 .08 0 .09 0 .08 0 .08 0 .08 0 .08 0 .09 0 .08 0 .08 0 .08 0 .08 0 .08 0 .09 0 .08 0 .08 0 .08 0 .08 0 .09 0 .08 0 .08 0 .08 0 .08 0 .09 0 .08 0 .08 0 .08 0 .08 0 .08 0 .09 0 .08 0 .08 0 .08 0 .08 0 .09 0 .08 0 .08 0 .08 0 .08 0 .08 0 .09 0 .08 0 .08 0 .08 0 .08 0 .09 0 .08 0 .08 0 .08 0 .08 0 .08 0 .09 0 .08 0 .08 0 .08 0 .08 0 .09 0 .08 0 .08 0 .08 0 .08 0 .08 0 .09 0 .08 0 .08 0 .08 0 .08 0 .09 0 .08 0 .08 0 .08 0 .08 0 .08 0 .09 0 .08 0 .08 0 .08 0 .08 0 .09 0 .08 0 .08 0 .08 0 .08 0 .09 0 .08 0 .08 0 .08 0 .08 0 .08 0 .09 0 .08 0 .08 0 .08 0 .08 0 .09 0 .08 0 .08 0 .08 0 .08 0 .08 0 .09 0 .08 0 .08 0 .08 0 .08 0 .09 0 .08 0 .08 0 .08 0 .08 0 .08 0 .09 0 .08 0 .08 0 .08 0 .08 0 .09 0 .08 0 .08 0 .08 0 .08 0 .08 0 .09 0 .08 0 .08 0 .08 0 .08 0 .09 0 .08 0 .08 0 .08 0 .08 0 .08 0 .09 0 .08 0 .08 0 .08 0 .08 0 .09 0 .08 0 .08 0 .08 0 .08 0 .08 0 .09 0 .08 0 .08 0 .08 0 .08 0 .09 0 .08 0 .08 0 .08 0 .08 0 .09 0 .08 0 .08 0 .08 0 .08 0 .08 0 .09 0 .08 0 .08 0 .08 0 .08 0 .09 0 .08 0 .08 0 .08 0 .08 0 .08 0 .09 0 .08 0 .08 0 .08 0 .08 0 .09 0 .08 0 .08 0 .08 0 .08 0 .08 0 .09 0 .08 0 .08 0 .08 0 .08 0 .09 0 .08 0 .08 0 .08 0 .08 0 .08 0 .09 0 .08 0 .08 0 .08 0 .08 0 .09 0 .08 0 .08 0 .08 0 .08 0 .08 0 .09 0 .08 0 .08 0 .08 0 .08 0 .09 0 .08 0 .08 0 .08 0 .08 0 .08 0 .09 0 .08 0 .08 0 .08 0 .08 0 .09 0 .08 0 .08 0 .08 0 .08 0 .09 0 .08 0 .08 0 .08 0 .08 0 .08 0 .09 0 .08 0 .08 0 .08 0 .08 0 .09 0 .08 0 .08 0 .08 0 .08 0 .08 0 .09 0 .08 0 .08 0 .08 0 .08 0 .09 0 .08 0 .08 0 .08 0 .08 0 .08 0 .09 0 .08 0 .08 0 .08 0 .08 0 .09 0 .08 0 .08 0 .08 0 .08 0 .08 0 .09 0 .08 0 .08 0 .08 0 .08 0 .09 0 .08 0 .08 0 .08 0 .08 0 .08 0 .09 0 .08 0 .08 0 .08 0 .08 0 .09 0 .08 0 .08 0 .08 0 .08 0 .08 0 .09 0 .08 0 .08 0 .08 0 .08 0 .09 0 .08 0 .08 0 .08 0 .08 0 .09 0 .08 0 .08 0 .08 0 .08 0 .08 0 .09 0 .08 0 .08 0 .08 0 .08 0 .09 0 .08 0 .08 0 .08 0 .08 0 .08 0 .09 0 .08 0 .08 0 .08 0 .08 0 .09 0 .08 0 .08 0 .08 0 .08 0 .08 0 .09 0 .08 0 .08 0 .08 0 .08 0 .09 0 .08 0 .08 0 .08 0 .08 0 .08 0 .09 0 .08 0 .08 0 .08 0 .08 0 .09 0 .08 0 .08 0 .08 0 .08 0 .08 0 .09 0 .08 0 .08 0 .08 0 .08 0 .09 0 .08 0 .08 0 .08 0 .08 0 .08 0 .09 0 .08 0 .08 0 .08 0 .08 0 .09 0 .08 0 .08 0 .08 0 .08 0 .09 0 .08 0 .08 0 .08 0 .08 0 .08 0 .09 0 .08 0 .08 0 .08 0 .08 0 .09 0 .08 0 .08 0 .08 0 .08 0 .08 0 .09 0 .08 0 .08 0 .08 0 .08 0 .09 0 .08 0 .08 0 .08 0 .08 0 .08 0 .09 0 .08 0 .08 0 .08 0 .08 0 .09 0 .08 0 .08 0 .08 0 .08 0 .08 0 .09 0 .08 0 .08 0 .08 0 .08 0 .09 0 .08 0 .08 0 .08 0 .08 0 .08 0 .09 0 .08 0 .08 0 .08 0 .08 0 .09 0 .08 0 .08 0 .08 0 .08 0 .09 0 .08 0 .08 0 .08 0 .08 0 .08 0 .09 0 .08 0 .08 0 .08 0 .08 0 .09 0 .08 0 .08 0 .08 0 .08 0 .08 0 .09 0 .08 0 .08 0 .08 0 .08 0 .09 0 .08 0 .08 0 .08 0 .08 0 .08 0 .09 0 .08 0 .08 0 .08 0 .08 0 .09 0 .08 0 .08 0 .08 0 .08 0 .08 0 .09 0 .08 0 .08 0 .08 0 .08 0 .09 0 .08 0 .08 0 .08 0 .08 0 .08 0 .09 0 .08 0 .08 0 .08 0 .08 0 .09 0 .08 0 .08 0 .08 0 .08 0 .08 0 .09 0 .08 0 .08 0 .08 0 .08 0 .09 0 .08 0 .08 0 .08 0 .08 0 .09 0 .08 0 .08 0 .08 0 .08 0 .08 0 .09 0 .08 0 .08 0 .08 0 .08 0 .09 0 .08 0 .08 0 .08 0 .08 0 .08 0 .09 0 .08 0 .08 0 .08 0 .08 0 .09 0 .08 0 .08 0 .08 0 .08 0 .08 0 .09 0 .08 0 .08 0 .08 0 .08 0 .09 0 .08 0 .08 0 .08 0 .08 0 .08 0 .09 0 .08 0 .08 0 .08 0 .08 0 .09 0 .08 0 .08 0 .08 0 .08 0 .08 0 .09 0 .08 0 .08 0 .08 0 .08 0 .09 0 .08 0 .08 0 .08 0 .08 0 .08 0 .09 0 .08 0 .08 0 .08 0 .08 0 .09 0 .08 0 .08 0 .08 0 .08 0 .09 0 .08 0 .08 0 .08 0 .08 0 .08 0 .09 0 .08 0 .08 0 .08 0 .08 0 .09 0 .08 0 .08 0 .08 0 .08 0 .08 0 .09 0 .08 0 .08 0 .08 0 .08 0 .09 0 .08 0 .08 0 .08 0 .08 0 .08 0 .09 0 .08 0 .08 0 .08 0 .08 0 .09 0 .08 0 .08 0 .08 0 .08 0 .08 0 .09 0 .08 0 .08 0 .08 0 .08 0 .09 0 .08 0 .08 0 .08 0 .08 0 .08 0 .09 0 .08 0 .08 0 .08 0 .08 0 .09 0 .08 0 .08 0 .08 0 .08 0 .08 0 .09 0 .08 0 .08 0 .08 0 .08 0 .09 0 .08 0 .08 0 .08 0 .08 0 .09 0 .08 0 .08 0 .08 0 .08 0 .08 0 .09 0 .08 0 .08 0 .08 0 .08 0 .09 0 .08 0 .08 0 .08 0 .08 0 .08 0 .09 0 .08 0 .08 0 .08 0 .08 0 .09 0 .08 0 .08 0 .08 0 .08 0 .08 0 .09 0 .08 0 .08 0 .08 0 .08 0 .09 0 .08 0 .08 0 .08 0 .08 0 .08 0 .09 0 .08 0 .08 0 .08 0 .08 0 .09 0 .08 0 .08 0 .08 0 .08 0 .08 0 .09 0 .08 0 .08 0 .08 0 .08 0 .09 0 .08 0 .08 0 .08 0 .08 0 .08 0 .09 0 .08 0 .08 0 .08 0 .08 0 .09 0 .08 0 .08 0 .08 0 .08 0 .09 0 .08 0 .08 0 .08 0 .08 0 .08 0 .09 0 .08 0 .08 0 .08 0 .08 0 .09 0 .08 0 .08 0 .08 0 .08 0 .08 0 .09 0 .08 0 .08 0 .08 0 .08 0 .09 0 .08 0 .08 0 .08 0 .08 0 .08 0 .09 0 .08 0 .08 0 .08 0 .08 0 .09 0 .08 0 .08 0 .08 0 .08 0 .08 0 .09 0 .08 0 .08 0 .08 0 .08 0 .09 0 .08 0 .08 0 .08 0 .08 0 .08 0 .09 0 .08 0 .08 0 .08 0 .08 0 .09 0 .08 0 .08 0 .08 0 .08 0 .08 0 .09 0 .08 0 .08 0 .08 0 .08 0 .09 0 .08 0 .08 0 .08 0 .08 0 .09 0 .08 0 .08 0 .08 0 .08 0 .08 0 .09 0 .08 0 .08 0 .08 0 .08 0 .09 0 .08 0 .08 0 .08 0 .08 0 .08 0 .09 0 .08 0 .08 0 .08 0 .08 0 .09 0 .08 0 .08 0 .08 0 .08 0 .08 0 .09 0 .08 0 .08 0 .08 0 .08 0 .09 0 .08 0 .08 0 .08 0 .08 0 .08 0 .09 0 .08 0 .08 0 .08 0 .08 0 .09 0 .08 0 .08 0 .08 0 .08 0 .08 0 .09 0 .08 0 .08 0 .08 0 .08 0 .09 0 .08 0 .08 0 .08 0 .08 0 .09 0 .08 0 .08 0 .08 0 .08 0 .08 0 .09 0 .08 0 .08 0 .08 0 .08 0 .09 0 .08 0 .08 0 .08 0 .08 0 .08 0 .09 0 .08 0 .08 0 .08 0 .08 0 .09 0 .08 0 .08 0 .08 0 .08 0 .08 0 .09 0 .08 0 .08 0 .08 0 .08 0 .09 0 .08 0 .08 0 .08 0 .08 0 .08 0 .09 0 .08 0 .08 0 .08 0 .08 0 .09 0 .08 0 .08 0 .08 0 .08 0 .08 0 .09 0 .08 0 .08 0 .08 0 .08 0 .09 0 .08 0 .08 0 .08 0 .08 0 .08 0 .09 0 .08 0 .08 0 .08 0 .08 0 .09 0 .08 0 .08 0 .08 0 .08 0 .09 0 .08 0 .08 0 .08 0 .08 0 .08 0 .09 0 .08 0 .08 0 .08 0 .08 0 .09 0 .08 0 .08 0 .08 0 .08 0 .08 0 .09 0 .08 0 .08 0 .08 0 .08 0 .09 0 .08 0 .08 0 .08 0 .08 0 .08 0 .09 0 .08 0 .08 0 .08 0 .08 0 .09 0 .08 0 .08 0 .08 0 .08 0 .08 0 .09 0 .08 0 .08 0 .08 0 .08 0 .09 0 .08 0 .08 0 .08 0 .08 0 .08 0 .09 0 .08 0 .08 0 .08 0 .08 0 .09 0 .08 0 .08 0 .08 0 .08 0 .08 0 .09 0 .08 0 .08 0 .08 0 .08 0 .09 0 .08 0 .08 0 .08 0 .08 0 .09 0 .08 0 .08 0 .08 0 .08 0 .08 0 .09 0 .08 0 .08 0 .08 0 .08 0 .09 0 .08 0 .08 0 .08 0 .08 0 .08 0 .09 0 .08 0 .08 0 .08 0 .08 0 .09 0 .08 0 .08 0 .08 0 .08 0 .08 0 .09 0 .08 0 .08 0 .08 0 .08 0 .09 0 .08 0 .08 0 .08 0 .08 0 .08 0 .09 0 .08 0 .08 0 .08 0 .08 0 .09 0 .08 0 .08 0 .08 0 .08 0 .08 0 .09 0 .08 0 .08 0 .08 0 .08 0 .09 0 .08 0 .08 0 .08 0 .08 0 .08 0 .09 0 .08 0 .08 0 .08 0 .08 0 .09 0 .08 0 .08 0 .08 0 .08 0 .09 0 .08 0 .08 0 .08 0 .08 0 .08 0 .09 0 .08 0 .08 0 .08 0 .08 0 .09 0 .08 0 .08 0 .08 0 .08 0 .08 0 .09 0 .08 0 .08 0 .08 0 .08 0 .09 0 .08 0 .08 0 .08 0 .08 0 .08 0 .09 0 .08 0 .08 0 .08 0 .08 0 .09 0 .08 0 .08 0 .08 0 .08 0 .08 0 .09 0 .08 0 .08 0 .08 0 .08 0 .09 0 .08 0 .08 0 .08 0 .08 0 .08 0 .09 0 .08 0 .08 0 .08 0 .08 0 .09 0 .08 0 .08 0 .08 0 .08 0 .08 0 .09 0 .08 0 .08 0 .08 0 .08 0 .09 0 .08 0 .08 0 .08 0 .08 0 .09 0 .08 0 .08 0 .08 0 .08 0 .08 0 .09 0 .08 0 .08 0 .08 0 .08 0 .09 0 .08 0 .08 0 .08 0 .08 0 .08 0 .09 0 .08 0 .08 0 .08 0 .08 0 .09 0 .08 0 .08 0 .08 0 .08 0 .08 0 .09 0 .08 0 .08 0 .08 0 .08 0 .09 0 .08 0 .08 0 .08 0 .08 0 .08 0 .09 0 .08 0 .08 0 .08 0 .08 0 .09 0 .08 0 .08 0 .08 0 .08 0 .08 0 .09 0 .08 0 .08 0 .08 0 .08 0 .09 0 .08 0 .08 0 .08 0 .08 0 .09 0 .08 0 .08 0 .08 0 .08 0 .08 0 .09 0 .08 0 .08 0 .08 0 .08 0 .09 0 .08 0 .08 0 .08 0 .08 0 .08 0 .09 0 .08 0 .08 0 .08 0 .08 0 .09 0 .08 0 .08 0 .08 0 .08 0 .08 0 .09 0 .08 0 .08 0 .08 0 .08 0 .09 0 .08 0 .08 0 .08 0 .08 0 .08 0 .09 0 .08 0 .08 0 .08 0 .08 0 .09 0 .08 0 .08 0 .08 0 .08 0 .08 0 .09 0 .08 0 .08 0 .08 0 .08 0 .09 0 .08 0 .08 0 .08 0 .08 0 .08 0 .09 0 .08 0 .08 0 .08 0 .08 0 .09 0 .08 0 .08 0 .08 0 .08 0 .09 0 .08 0 .08 0 .08 0 .08 0 .08 0 .09 0 .08 0 .08 0 .08 0 .08 0 .09 0 .08 0 .08 0 .08 0 .08 0 .08 0 .09 0 .08 0 .08 0 .08 0 .08 0 .09 0 .08 0 .08 0 .08 0 .08 0 .08 0 .09 0 .08 0 .08 0 .08 0 .08 0 .09 0 .08 0 .08 0 .08 0 .08 0 .08 0 .09 0 .08 0 .08 0 .08 0 .08 0 .09 0 .08 0 .08 0 .08 0 .08 0 .08 0 .09 0 .08 0 .08 0 .08 0 .08 0 .09 0 .08 0 .08 0 .08 0 .08 0 .08 0 .09 0 .08 0 .08 0 .08 0 .08 0 .09 0 .08 0 .08 0 .08 0 .08 0 .09 0 .08 0 .08 0 .08 0 .08 0 .08 0 .09 0 .08 0 .08 0 .08 0 .08 0 .09 0 .08 0 .08 0 .08 0 .08 0 .08 0 .09 0 .08 0 .08 0 .08 0 .08 0 .09 0 .08 0 .08 0 .08 0 .08 0 .08 0 .09 0 .08 0 .08 0 .08 0 .08 0 .09 0 .08 0 .08 0 .08 0 .08 0 .08 0 .09 0 .08 0 .08 0 .08 0 .08 0 .09 0 .08 0 .08 0 .08 0 .08 0 .08 0 .09 0 .08 0 .08 0 .08 0 .08 0 .09 0 .08 0 .08 0 .08 0 .08 0 .08 0 .09 0 .08 0 .08 0 .08 0 .08 0 .09 0 .08 0 .08 0 .08 0 .08 0 .09 0 .08 0 .08 0 .08 0 .08 0 .08 0 .09 0 .08 0 .08 0 .08 0 .08 0 .09 0 .08 0 .08 0 .08 0 .08 0 .08 0 .09 0 .08 0 .08 0 .08 0 .08 0 .09 0 .08 0 .08 0 .08 0 .08 0 .08 0 .09 0 .08 0 .08 0 .08 0 .08 0 .09 0 .08 0 .08 0 .08 0 .08 0 .08 0 .09 0 .08 0 .08 0 .08 0 .08 0 .09 0 .08 0 .08 0 .08 0 .08 0 .08 0 .09 0 .08 0 .08 0 .08 0 .08 0 .09 0 .08 0 .08 0 .08 0 .08 0 .08 0 .09 0 .08 0 .08 0 .08 0 .08 0 .09 0 .08 0 .08 0 .08 0 .08 0 .09 0 .08 0 .08 0 .08 0 .08 0 .08 0 .09 0 .08 0 .08 0 .08 0 .08 0 .09 0 .08 0 .08 0 .08 0 .08 0 .08 0 .09 0 .08 0 .08 0 .08 0 .08 0 .09 0 .08 0 .08 0 .08 0 .08 0 .08 0 .09 0 .08 0 .08 0 .08 0 .08 0 .09 0 .08 0 .08 0 .08 0 .08 0 .08 0 .09 0 .08 0 .08 0 .08 0 .08 0 .09 0 .08 0 .08 0 .08 0 .08 0 .08 0 .09 0 .08 0 .08 0 .08 0 .08 0 .09 0 .08 0 .08 0 .08 0 .08 0 .09 0 .08 0 .08 0 .08 0 .08 0 .08 0 .09 0 .08 0 .08 0 .08 0 .08 0 .09 0 .08 0 .08 0 .08 0 .08 0 .08 0 .09 0 .08 0 .08 0 .08 0 .08 0 .09 0 .08 0 .08 0 .08 0 .08 0 .08 0 .09 0 .08 0 .08 0 .08 0 .08 0 .09 0 .08 0 .08 0 .08 0 .08 0 .08 0 .09 0 .08 0 .08 0 .08 0 .08 0 .09 0 .08 0 .08 0 .08 0 .08 0 .08 0 .09 0 .08 0 .08 0 .08 0 .08 0 .09 0 .08 0 .08 0 .08 0 .08 0 .08 0 .09 0 .08 0 .08 0 .08 0 .08 0 .09 0 .08 0 .08 0 .08 0 .08 0 .09 0 .08 0 .08 0 .08 0 .08 0 .08 0 .09 0 .08 0 .08 0 .08 0 .08 0 .09 0 .08 0 .08 0 .08 0 .08 0 .08 0 .09 0 .08 0 .08 0 .08 0 .08 0 .09 0 .08 0 .08 0 .08 0 .08 0 .08 0 .09 0 .08 0 .08 0 .08 0 .08 0 .09 0 .08 0 .08 0 .08 0 .08 0 .08 0 .09 0 .08 0 .08 0 .08 0 .08 0 .09 0 .08 0 .08 0 .08 0 .08 0 .08 0 .09 0 .08 0 .08 0 .08 0 .08 0 .09 0 .08 0 .08 0 .08 0 .08 0 .08 0 .09 0 .08 0 .08 0 .08 0 .08 0 .09 0 .08 0 .08 0 .08 0 .08 0 .09 0 .08 0 .08 0 .08 0 .08 0 .08 0 .09 0 .08 0 .08 0 .08 0 .08 0 .09 0 .08 0 .08 0 .08 0 .08 0 .08 0 .09 0 .08 0 .08 0 .08 0 .08 0 .09 0 .08 0 .08 0 .08 0 .08 0 .08 0 .09 0 .08 0 .08 0 .08 0 .08 0 .09 0 .08 0 .08 0 .08 0 .08 0 .08 0 .09 0 .08 0 .08 0 .08 0 .08 0 .09 0 .08 0 .08 0 .08 0 .08 0 .08 0 .09 0 .08 0 .08 0 .08 0 .08 0 .09 0 .08 0 .08 0 .08 0 .08 0 .08 0 .09 0 .08 0 .08 0 .08 0 .08 0 .09 0 .08 0 .08 0 .08 0 .08 0 .09 0 .08 0 .08 0 .08 0 .08 0 .08 0 .09 0 .08 0 .08 0 .08 0 .08 0 .09 0 .08 0 .08 0 .08 0 .08 0 .08 0 .09 0 .08 0 .08 0 .08 0 .08 0 .09 0 .08 0 .08 0 .08 0 .08 0 .08 0 .09 0 .08 0 .08 0 .08 0 .08 0 .09 0 .08 0 .08 0 .08 0 .08 0 .08 0 .09 0 .08 0 .08 0 .08 0 .08 0 .09 0 .08 0 .08 0 .08 0 .08 0 .08 0 .09 0 .08 0 .08 0 .08 0 .08 0 .09 0 .08 0 .08 0 .08 0 .08 0 .08 0 .09 0 .08 0 .08 0 .08 0 .08 0 .09 0 .08 0 .08 0 .08 0 .08 0 .09 0 .08 0 .08 0 .08 0 .08 0 .08 0 .09 0 .08 0 .08 0 .08 0 .08 0 .09 0 .08 0 .08 0 .08 0 .08 0 .08 0 .09 0 .08 0 .08 0 .08 0 .08 0 .09 0 .08 0 .08 0 .08 0 .08 0 .08 0 .09 0 .08 0 .08 0 .08 0 .08 0 .09 0 .08 0 .08 0 .08 0 .08 0 .08 0 .09 0 .08 0 .08 0 .08 0 .08 0 .09 0 .08 0 .08 0 .08 0 .08 0 .08 0 .09 0 .08 0 .08 0 .08 0 .08 0 .09 0 .08 0 .08 0 .08 0 .08 0 .09 0 .08 0 .08 0 .08 0 .08 0 .08 0 .09 0 .08 0 .08 0 .08 0 .08 0 .09 0 .08 0 .08 0 .08 0 .08 0 .08 0 .09 0 .08 0 .08 0 .08 0 .08 0 .09 0 .08 0 .08 0 .08 0 .08 0 .08 0 .09 0 .08 0 .08 0 .08 0 .08 0 .09 0 .08 0 .08 0 .08 0 .08 0 .08 0 .09 0 .08 0 .08 0 .08 0 .08 0 .09 0 .08 0 .08 0 .08 0 .08 0 .08 0 .09 0 .08 0 .08 0 .08 0 .08 0 .09 0 .08 0 .08 0 .08 0 .08 0 .08 0 .09 0 .08 0 .08 0 .08 0 .08 0 .09 0 .08 0 .08 0 .08 0 .08 0 .09 0 .08 0 .08 0 .08 0 .08 0 .08 0 .09 0 .08 0 .08 0 .08 0 .08 0 .09 0 .08 0 .08 0 .08 0 .08 0 .08 0 .09 0 .08 0 .08 0 .08 0 .08 0 .09 0 .08 0 .08 0 .08 0 .08 0 .08 0 .09 0 .08 0 .08 0 .08 0 .08 0 .09 0 .08 0 .08 0 .08 0 .08 0 .08 0 .09 0 .08 0 .08 0 .08 0 .08 0 .09 0 .08 0 .08 0 .08 0 .08 0 .08 0 .09 0 .08 0 .08 0 .08 0 .08 0 .09 0 .08 0 .08 0 .08 0 .08 0 .08 0 .09 0 .08 0 .08 0 .08 0 .08 0 .09 0 .08 0 .08 0 .08 0 .08 0 .09 0 .08 0 .08 0 .08 0 .08 0 .08 0 .09 0 .08 0 .08 0 .08 0 .08 0 .09 0 .08 0 .08 0 .08 0 .08 0 .08 0 .09 0 .08 0 .08 0 .08 0 .08 0 .09 0 .08 0 .08 0 .08 0 .08 0 .08 0 .09 0 .08 0 .08 0 .08 0 .08 0 .09 0 .08 0 .08 0 .08 0 .08 0 .08 0 .09 0 .08 0 .08 0 .08 0 .08 0 .09 0 .08 0 .08 0 .08 0 .08 0 .08 0 .09 0 .08 0 .08 0 .08 0 .08 0 .09 0 .08 0 .08 0 .08 0 .08 0 .08 0 .09 0 .08 0 .08 0 .08 0 .08 0 .09 0 .08 0 .08 0 .08 0 .08 0 .09 0 .08 0 .08 0 .08 0 .08 0 .08 0 .09 0 .08 0 .08 0 .08 0 .08 0 .09 0 .08 0 .08 0 .08 0 .08 0 .08 0 .09 0 .08 0 .08 0 .08 0 .08 0 .09 0 .08 0 .08 0 .08 0 .08 0 .08 0 .09 0 .08 0 .08 0 .08 0 .08 0 .09 0 .08 0 .08 0 .08 0 .08 0 .08 0 .09 0 .08 0 .08 0 .08 0 .08 0 .09 0 .08 0 .08 0 .08 0 .08 0 .08 0 .09 0 .08 0 .08 0 .08 0 .08 0 .09 0 .08 0 .08 0 .08 0 .08 0 .08 0 .09 0 .08 0 .08 0 .08 0 .08 0 .09 0 .08 0 .08 0 .08 0 .08 0 .09 0 .08 0 .08 0 .08 0 .08 0 .08 0 .09 0 .08 0 .08 0 .08 0 .08 0 .09 0 .08 0 .08 0 .08 0 .08 0 .08 0 .09 0 .08 0 .08 0 .08 0 .08 0 .09 0 .08 0 .08 0 .08 0 .08 0 .08 0 .09 0 .08 0 .08 0 .08 0 .08 0 .09 0 .08 0 .08 0 .08 0 .08 0 .08 0 .09 0 .08 0 .08 0 .08 0 .08 0 .09 0 .08 0 .08 0 .08 0 .08 0 .08 0 .09 0 .08 0 .08 0 .08 0 .08 0 .09 0 .08 0 .08 0 .08 0 .08 0 .09 0 .08 0 .08 0 .08 0 .08 0 .08 0 .09 0 .08 0 .08 0 .08 0 .08 0 .09 0 .08 0 .08 0 .08 0 .08 0 .08 0 .09 0 .08 0 .08 0 .08 0 .08 0 .09 0 .08 0 .08 0 .08 0 .08 0 .08 0 .09 0 .08 0 .08 0 .08 0 .08 0 .09 0 .08 0 .08 0 .08 0 .08 0 .08 0 .09 0 .08 0 .08 0 .08 0 .08 0 .09 0 .08 0 .08 0 .08 0 .08 0 .08 0 .09 0 .08 0 .08 0 .08 0 .08 0 .09 0 .08 0 .08 0 .08 0 .08 0 .08 0 .09 0 .08 0 .08 0 .08 0 .08 0 .09 0 .08 0 .08 0 .08 0 .08 0 .09 0 .08 0 .08 0 .08 0 .08 0 .08 0 .09 0 .08 0 .08 0 .08 0 .08 0 .09 0 .08 0 .08 0 .08 0 .08 0 .08 0 .09 0 .08 0 .08 0 .08 0 .08 0 .09 0 .08 0 .08 0 .08 0 .08 0 .08 0 .09 0 .08 0 .08 0 .08 0 .08 0 .09 0 .08 0 .08 0 .08 0 .08 0 .08 0 .09 0 .08 0 .08 0 .08 0 .08 0 .09 0 .08 0 .08 0 .08 0 .08 0 .08 0 .09 0 .08 0 .08 0 .08 0 .08 0 .09 0 .08 0 .08 0 .08 0 .08 0 .08 0 .09 0 .08 0 .08 0 .08 0 .08 0 .09 0 .08 0 .08 0 .08 0 .08 0 .09 0 .08 0 .08 0 .08 0 .08 0 .08 0 .09 0 .08 0 .08 0 .08 0 .08 0 .09 0 .08 0 .08 0 .08 0 .08 0 .08 0 .09 0 .08 0 .08 0 .08 0 .08 0 .09 0 .08 0 .08 0 .08 0 .08 0 .08 0 .09 0 .08 0 .08 0 .08 0 .08 0 .09 0 .08 0 .08 0 .08 0 .08 0 .08 0 .09 0 .08 0 .08 0 .08 0 .08 0 .09 0 .08 0 .08 0 .08 0 .08 0 .08 0 .09 0 .08 0 .08 0 .08 0 .08 0 .09 0 .08 0 .08 0 .08 0 .08 0 .08 0 .09 0 .08 0 .08 0 .08 0 .08 0 .09 0 .08 0 .08 0 .08 0 .08 0 .09 0 .08 0 .08 0 .08 0 .08 0 .08 0 .09 0 .08 0 .08 0 .08 0 .08 0 .09 0 .08 0 .08 0 .08 0 .08 0 .08 0 .09 0 .08 0 .08 0 .08 0 .08 0 .09 0 .08 0 .08 0 .08 0 .08 0 .08 0 .09 0 .08 0 .08 0 .08 0 .08 0 .09 0 .08 0 .08 0 .08 0 .08 0 .08 0 .09 0 .08 0 .08 0 .08 0 .08 0 .09 0 .08 0 .08 0 .08 0 .08 0 .08 0 .09 0 .08 0 .08 0 .08 0 .08 0 .09 0 .08 0 .08 0 .08 0 .08 0 .08 0 .09 0 .08 0 .08 0 .08 0 .08 0 .09 0 .08 0 .08 0 .08 0 .08 0 .09 0 .08 0 .08 0 .08 0 .08 0 .08 0 .09 0 .08 0 .08 0 .08 0 .08 0 .09 0 .08 0 .08 0 .08 0 .08 0 .08 0 .09 0 .08 0 .08 0 .08 0 .08 0 .09 0 .08 0 .08 0 .08 0 .08 0 .08 0 .09 0 .08 0 .08 0 .08 0 .08 0 .09 0 .08 0 .08 0 .08 0 .08 0 .08 0 .09 0 .08 0 .08 0 .08 0 .08 0 .09 0 .08 0 .08 0 .08 0 .08 0 .08 0 .09 0 .08 0 .08 0 .08 0 .08 0 .09 0 .08 0 .08 0 .08 0 .08 0 .08 0 .09 0 .08 0 .08 0 .08 0 .08 0 .09 0 .08 0 .08 0 .08 0 .08 0 .09 0 .08 0 .08 0 .08 0 .08 0 .08 0 .09 0 .08 0 .08 0 .08 0 .08 0 .09 0 .08 0 .08 0 .08 0 .08 0 .08 0 .09 0 .08 0 .08 0 .08 0 .08 0 .09 0 .08 0 .08 0 .08 0 .08 0 .08 0 .09 0 .08 0 .08 0 .08 0 .08 0 .09 0 .08 0 .08 0 .08 0 .08 0 .08 0 .09 0 .08 0 .08 0 .08 0 .08 0 .09 0 .08 0 .08 0 .08 0 .08 0 .08 0 .09 0 .08 0 .08 0 .08 0 .08 0 .09 0 .08 0 .08 0 .08 0 .08 0 .09 0 .08 0 .08 0 .08 0 .08 0 .08 0 .09 0 .08 0 .08 0 .08 0 .08 0 .09 0 .08 0 .08 0 .08 0 .08 0 .08 0 .09 0 .08 0 .08 0 .08 0 .08 0 .09 0 .08 0 .08 0 .08 0 .08 0 .08 0 .09 0 .08 0 .08 0 .08 0 .08 0 .09 0 .08 0 .08 0 .08 0 .08 0 .08 0 .09 0 .08 0 .08 0 .08 0 .08 0 .09 0 .08 0 .08 0 .08 0 .08 0 .08 0 .09 0 .08 0 .08 0 .08 0 .08 0 .09 0 .08 0 .08 0 .08 0 .08 0 .08 0 .09 0 .08 0 .08 0 .08 0 .08 0 .09 0 .08 0 .08 0 .08 0 .08 0 .09 0 .08 0 .08 0 .08 0 .08 0 .08 0 .09 0 .08 0 .08 0 .08 0 .08 0 .09 0 .08 0 .08 0 .08 0 .08 0 .08 0 .09 0 .08 0 .08 0 .08 0 .08 0 .09 0 .08 0 .08 0 .08 0 .08 0 .08 0 .09 0 .08 0 .08 0 .08 0 .08 0 .09 0 .08 0 .08 0 .08 0 .08 0 .08 0 .09 0 .08 0 .08 0 .08 0 .08 0 .09 0 .08 0 .08 0 .08 0 .08 0 .08 0 .09 0 .08 0 .08 0 .08 0 .08 0 .09 0 .08 0 .08 0 .08 0 .08 0 .08 0 .09 0 .08 0 .08 0 .08 0 .08 0 .09 0 .08 0 .08 0 .08 0 .08 0 .09 0 .08 0 .08 0 .08 0 .08 0 .08 0 .09 0 .08 0 .08 0 .08 0 .08 0 .09 0 .08 0 .08 0 .08 0 .08 0 .08 0 .09 0 .08 0 .08 0 .08 0 .08 0 .09 0 .08 0 .08 0 .08 0 .08 0 .08 0 .09 0 .08 0 .08 0 .08 0 .08 0 .09 0 .08 0 .08 0 .08 0 .08 0 .08 0 .09 0 .08 0 .08 0 .08 0 .08 0 .09 0 .08 0 .08 0 .08 0 .08 0 .08 0 .09 0 .08 0 .08 0 .08 0 .08 0 .09 0 .08 0 .08 0 .08 0 .08 0 .08 0 .09 0 .08 0 .08 0 .08 0 .08 0 .09 0 .08 0 .08 0 .08 0 .08 0 .09 0 .08 0 .08 0 .08 0 .08 0 .08 0 .09 0 .08 0 .08 0 .08 0 .08 0 .09 0 .08 0 .08 0 .08 0 .08 0 .08 0 .09 0 .08 0 .08 0 .08 0 .08 0 .09 0 .08 0 .08 0 .08 0 .08 0 .08 0 .09 0 .08 0 .08 0 .08 0 .08 0 .09 0 .08 0 .08 0 .08 0 .08 0 .08 0 .09 0 .08 0 .08 0 .08 0 .08 0 .09 0 .08 0 .08 0 .08 0 .08 0 .08 0 .09 0 .08 0 .08 0 .08 0 .08 0 .09 0 .08 0 .08 0 .08 0 .08 0 .08 0 .09 0 .08 0 .08 0 .08 0 .08 0 .09 0 .08 0 .08 0 .08 0 .08 0 .09 0 .08 0 .08 0 .08 0 .08 0 .08 0 .09 0 .08 0 .08 0 .08 0 .08 0 .09 0 .08 0 .08 0 .08 0 .08 0 .08 0 .09 0 .08 0 .08 0 .08 0 .08 0 .09 0 .08 0 .08 0 .08 0 .08 0 .08 0 .09 0 .08 0 .08 0 .08 0 .08 0 .09 0 .08 0 .08 0 .08 0 .08 0 .08 0 .09 0 .08 0 .08 0 .08 0 .08 0 .09 0 .08 0 .08 0 .08 0 .08 0 .08 0 .09 0 .08 0 .08 0 .08 0 .08 0 .09 0 .08 0 .08 0 .08 0 .08 0 .09 0 .08 0 .08 0 .08 0 .08 0 .08 0 .09 0 .08 0 .08 0 .08 0 .08 0 .09 0 .08 0 .08 0 .08 0 .08 0 .08 0 .09 0 .08 0 .08 0 .08 0 .08 0 .09 0 .08 0 .08 0 .08 0 .08 0 .08 0 .09 0 .08 0 .08 0 .08 0 .08 0 .09 0 .08 0 .08 0 .08 0 .08 0 .08 0 .09 0 .08 0 .08 0 .08 0 .08 0 .09 0 .08 0 .08 0 .08 0 .08 0 .08 0 .09 0 .08 0 .08 0 .08 0 .08 0 .09 0 .08 0 .08 0 .08 0 .08 0 .08 0 .09 0 .08 0 .08 0 .08 0 .08 0 .09 0 .08 0 .08 0 .08 0 .08 0 .09 0 .08 0 .08 0 .08 0 .08 0 .08 0 .09 0 .08 0 .08 0 .08 0 .08 0 .09 0 .08 0 .08 0 .08 0 .08 0 .08 0 .09 0 .08 0 .08 0 .08 0 .08 0 .09 0 .08 0 .08 0 .08 0 .08 0 .08 0 .09 0 .08 0 .08 0 .08 0 .08 0 .09 0 .08 0 .08 0 .08 0 .08 0 .08 0 .09 0 .08 0 .08 0 .08 0 .08 0 .09 0 .08 0 .08 0 .08 0 .08 0 .08 0 .09 0 .08 0 .08 0 .08 0 .08 0 .09 0 .08 0 .08 0 .08 0 .08 0 .08 0 .09 0 .08 0 .08 0 .08 0 .08 0 .09 0 .08 0 .08 0 .08 0 .08 0 .09 0 .08 0 .08 0 .08 0 .08 0 .08 0 .09 0 .08 0 .08 0 .08 0 .08 0 .09 0 .08 0 .08 0 .08 0 .08 0 .08 0 .09 0 .08 0 .08 0 .08 0 .08 0 .09 0 .08 0 .08 0 .08 0 .08 0 .08 0 .09 0 .08 0 .08 0 .08 0 .08 0 .09 0 .08 0 .08 0 .08 0 .08 0 .08 0 .09 0 .08 0 .08 0 .08 0 .08 0 .09 0 .08 0 .08 0 .08 0 .08 0 .08 0 .09 0 .08 0 .08 0 .08 0 .08 0 .09 0 .08 0 .08 0 .08 0 .08 0 .08 0 .09 0 .08 0 .08 0 .08 0 .08 0 .09 0 .08 0 .08 0 .08 0 .08 0 .09 0 .08 0 .08 0 .08 0 .08 0 .08 0 .09 0 .08 0 .08 0 .08 0 .08 0 .09 0 .08 0 .08 0 .08 0 .08 0 .08 0 .09 0 .08 0 .08 0 .08 0 .08 0 .09 0 .08 0 .08 0 .08 0 .08 0 .08 0 .09 0 .08 0 .08 0 .08 0 .08 0 .09 0 .08 0 .08 0 .08 0 .08 0 .08 0 .09 0 .08 0 .08 0 .08 0 .08 0 .09 0 .08 0 .08 0 .08 0 .08 0 .08 0 .09 0 .08 0 .08 0 .08 0 .08 0 .09 0 .08 0 .08 0 .08 0 .08 0 .08 0 .09 0 .08 0 .08 0 .08 0 .08 0 .09 0 .08 0 .08 0 .08 0 .08 0 .09 0 .08 0 .08 0 .08 0 .08 0 .08 0 .09 0 .08 0 .08 0 .08 0 .08 0 .09 0 .08 0 .08 0 .08 0 .08 0 .08 0 .09 0 .08 0 .08 0 .08 0 .08 0 .09 0 .08 0 .08 0 .08 0 .08 0 .08 0 .09 0 .08 0 .08 0 .08 0 .08 0 .09 0 .08 0 .08 0 .08 0 .08 0 .08 0 .09 0 .08 0 .08 0 .08 0 .08 0 .09 0 .08 0 .08 0 .08 0 .08 0 .08 0 .09 0 .08 0 .08 0 .08 0 .08 0 .09 0 .08 0 .08 0 .08 0 .08 0 .09 0 .08 0 .08 0 .08 0 .08 0 .08 0 .09 0 .08 0 .08 0 .08 0 .08 0 .09 0 .08 0 .08 0 .08 0 .08 0 .08 0 .09 0 .08 0 .08 0 .08 0 .08 0 .09 0 .08 0 .08 0 .08 0 .08 0 .08 0 .09 0 .08 0 .08 0 .08 0 .08 0 .09 0 .08 0 .08 0 .08 0 .08 0 .08 0 .09 0 .08 0 .08 0 .08 0 .08 0 .09 0 .08 0 .08 0 .08 0 .08 0 .08 0 .09 0 .08 0 .08 0 .08 0 .08 0 .09 0 .08 0 .08 0 .08 0 .08 0 .08 0 .09 0 .08 0 .08 0 .08 0 .08 0 .09 0 .08 0 .08 0 .08 0 .08 0 .09 0 .08 0 .08 0 .08 0 .08 0 .08 0 .09 0 .08 0 .08 0 .08 0 .08 0 .09 0 .08 0 .08 0 .08 0 .08 0 .08 0 .09 0 .08 0 .08 0 .08 0 .08 0 .09 0 .08 0 .08 0 .08 0 .08 0 .08 0 .09 0 .08 0 .08 0 .08 0 .08 0 .09 0 .08 0 .08 0 .08 0 .08 0 .08 0 .09 0 .08 0 .08 0 .08 0 .08 0 .09 0 .08 0 .08 0 .08 0 .08 0 .08 0 .09 0 .08 0 .08 0 .08 0 .08 0 .09 0 .08 0 .08 0 .08 0 .08 0 .08 0 .09 0 .08 0 .08 0 .08 0 .08 0 .09 0 .08 0 .08 0 .08 0 .08 0 .09 0 .08 0 .08 0 .08 0 .08 0 .08 0 .09 0 .08 0 .08 0 .08 0 .08 0 .09 0 .08 0 .08 0 .08 0 .08 0 .08 0 .09 0 .08 0 .08 0 .08 0 .08 0 .09 0 .08 0 .08 0 .08 0 .08 0 .08 0 .09 0 .08 0 .08 0 .08 0 .08 0 .09 0 .08 0 .08 0 .08 0 .08 0 .08 0 .09 0 .08 0 .08 0 .08 0 .08 0 .09 0 .08 0 .08 0 .08 0 .08 0 .08 0 .09 0 .08 0 .08 0 .08 0 .08 0 .09 0 .08 0 .08 0 .08 0 .08 0 .08 0 .09 0 .08 0 .08 0 .08 0 .08 0 .09 0 .08 0 .08 0 .08 0 .08 0 .09 0 .08 0 .08 0 .08 0 .08 0 .08 0 .09 0 .08 0 .08 0 .08 0 .08 0 .09 0 .08 0 .08 0 .08 0 .08 0 .08 0 .09 0 .08 0 .08 0 .08 0 .08 0 .09 0 .08 0 .08 0 .08 0 .08 0 .08 0 .09 0 .08 0 .08 0 .08 0 .08 0 .09 0 .08 0 .08 0 .08 0 .08 0 .08 0 .09 0 .08 0 .08 0 .08 0 .08 0 .09 0 .08 0 .08 0 .08 0 .08 0 .08 0 .09 0 .08 0 .08 0 .08 0 .08 0 .09 0 .08 0 .08 0 .08 0 .08 0 .08 0 .09 0 .08 0 .08 0 .08 0 .08 0 .09 0 .08 0 .08 0 .08 0 .08 0 .09 0 .08 0 .08 0 .08 0 .08 0 .08 0 .09 0 .08 0 .08 0 .08 0 .08 0 .09 0 .08 0 .08 0 .08 0 .08 0 .08 0 .09 0 .08 0 .08 0 .08 0 .08 0 .09 0 .08 0 .08 0 .08 0 .08 0 .08 0 .09 0 .08 0 .08 0 .08 0 .08 0 .09 0 .08 0 .08 0 .08 0 .08 0 .08 0 .09 0 .08 0 .08 0 .08 0 .08 0 .09 0 .08 0 .08 0 .08 0 .08 0 .08 0 .09 0 .08 0 .08 0 .08 0 .08 0 .09 0 .08 0 .08 0 .08 0 .08 0 .09 0 .08 0 .08 0 .08 0 .08 0 .08 0 .09 0 .08 0 .08 0 .08 0 .08 0 .09 0 .08 0 .08 0 .08 0 .08 0 .08 0 .09 0 .08 0 .08 0 .08 0 .08 0 .09 0 .08 0 .08 0 .08 0 .08 0 .08 0 .09 0 .08 0 .08 0 .08 0 .08 0 .09 0 .08 0 .08 0 .08 0 .08 0 .08 0 .09 0 .08 0 .08 0 .08 0 .08 0 .09 0 .08 0 .08 0 .08 0 .08 0 .08 0 .09 0 .08 0 .08 0 .08 0 .08 0 .09 0 .08 0 .08 0 .08 0 .08 0 .08 0 .09 0 .08 0 .08 0 .08 0 .08 0 .09 0 .08 0 .08 0 .08 0 .08 0 .09 0 .08 0 .08 0 .08 0 .08 0 .08 0 .09 0 .08 0 .08 0 .08 0 .08 0 .09 0 .08 0 .08 0 .08 0 .08 0 .08 0 .09 0 .08 0 .08 0 .08 0 .08 0 .09 0 .08 0 .08 0 .08 0 .08 0 .08 0 .09 0 .08 0 .08 0 .08 0 .08 0 .09 0 .08 0 .08 0 .08 0 .08 0 .08 0 .09 0 .08 0 .08 0 .08 0 .08 0 .09 0 .08 0 .08 0 .08 0 .08 0 .08 0 .09 0 .08 0 .08 0 .08 0 .08 0 .09 0 .08 0 .08 0 .08 0 .08 0 .08 0 .09 0 .08 0 .08 0 .08 0 .08 0 .09 0 .08 0 .08 0 .08 0 .08 0 .09 0 .08 0 .08 0 .08 0 .08 0 .08 0 .09 0 .08 0 .08 0 .08 0 .08 0 .09 0 .08 0 .08 0 .08 0 .08 0 .08 0 .09 0 .08 0 .08 0 .08 0 .08 0 .09 0 .08 0 .08 0 .08 0 .08 0 .08 0 .09 0 .08 0 .08 0 .08 0 .08 0 .09 0 .08 0 .08 0 .08 0 .08 0 .08 0 .09 0 .08 0 .08 0 .08 0 .08 0 .09 0 .08 0 .08 0 .08 0 .08 0 .08 0 .09 0 .08 0 .08 0 .08 0 .08 0 .09 0 .08 0 .08 0 .08 0 .08 0 .08 0 .09 0 .08 0 .08 0 .08 0 .08 0 .09 0 .08 0 .08 0 .08 0 .08 0 .09 0 .08 0 .08 0 .08 0 .08 0 .08 0 .09 0 .08 0 .08 0 .08 0 .08 0 .09 0 .08 0 .08 0 .08 0 .08 0 .08 0 .09 0 .08 0 .08 0 .08 0 .08 0 .09 0 .08 0 .08 0 .08 0 .08 0 .08 0 .09 0 .08 0 .08 0 .08 0 .08 0 .09 0 .08 0 .08 0 .08 0 .08 0 .08 0 .09 0 .08 0 .08 0 .08 0 .08 0 .09 0 .08 0 .08 0 .08 0 .08 0 .08 0 .09 0 .08 0 .08 0 .08 0 .08 0 .09 0 .08 0 .08 0 .08 0 .08 0 .08 0 .09 0 .08 0 .08 0 .08 0 .08 0 .09 0 .08 0 .08 0 .08 0 .08 0 .09 0 .08 0 .08 0 .08 0 .08 0 .08 0 .09 0 .08 0 .08 0 .08 0 .08 0 .09 0 .08 0 .08 0 .08 0 .08 0 .08 0 .09 0 .08 0 .08 0 .08 0 .08 0 .09 0 .08 0 .08 0 .08 0 .08 0 .08 0 .09 0 .08 0 .08 0 .08 0 .08 0 .09 0 .08 0 .08 0 .08 0 .08 0 .08 0 .09 0 .08 0 .08 0 .08 0 .08 0 .09 0 .08 0 .08 0 .08 0 .08 0 .08 0 .09 0 .08 0 .08 0 .08 0 .08 0 .09 0 .08 0 .08 0 .08 0 .08 0 .09 0 .08 0 .08 0 .08 0 .08 0 .08 0 .09 0 .08 0 .08 0 .08 0 .08 0 .09 0 .08 0 .08 0 .08 0 .08 0 .08 0 .09 0 .08 0 .08 0 .08 0 .08 0 .09 0 .08 0 .08 0 .08 0 .08 0 .08 0 .09 0 .08 0 .08 0 .08 0 .08 0 .09 0 .08 0 .08 0 .08 0 .08 0 .08 0 .09 0 .08 0 .08 0 .08 0 .08 0 .09 0 .08 0 .08 0 .08 0 .08 0 .08 0 .09 0 .08 0 .08 0 .08 0 .08 0 .09 0 .08 0 .08 0 .08 0 .08 0 .08 0 .09 0 .08 0 .08 0 .08 0 .08 0 .09 0 .08 0 .08 0 .08 0 .08 0 .09 0 .08 0 .08 0 .08 0 .08 0 .08 0 .09 0 .08 0 .08 0 .08 0 .08 0 .09 0 .08 0 .08 0 .08 0 .08 0 .08 0 .09 0 .08 0 .08 0 .08 0 .08 0 .09 0 .08 0 .08 0 .08 0 .08 0 .08 0 .09 0 .08 0 .08 0 .08 0 .08 0 .09 0 .08 0 .08 0 .08 0 .08 0 .08 0 .09 0 .08 0 .08 0 .08 0 .08 0 .09 0 .08 0 .08 0 .08 0 .08 0 .08 0 .09 0 .08 0 .08 0 .08 0 .08 0 .09 0 .08 0 .08 0 .08 0 .08 0 .08 0 .09 0 .08 0 .08 0 .08 0 .08 0 .09 0 .08 0 .08 0 .08 0 .08 0 .09 0 .08 0 .08 0 .08 0 .08 0 .08 0 .09 0 .08 0 .08 0 .08 0 .08 0 .09 0 .08 0 .08 0 .08 0 .08 0 .08 0 .09 0 .08 0 .08 0 .08 0 .08 0 .09 0 .08 0 .08 0 .08 0 .08 0 .08 0 .09 0 .08 0 .08 0 .08 0 .08 0 .09 0 .08 0 .08 0 .08 0 .08 0 .08 0 .09 0 .08 0 .08 0 .08 0 .08 0 .09 0 .08 0 .08 0 .08 0 .08 0 .08 0 .09 0 .08 0 .08 0 .08 0 .08 0 .09 0 .08 0 .08 0 .08 0 .08 0 .08 0 .09 0 .08 0 .08 0 .08 0 .08 0 .09 0 .08 0 .08 0 .08 0 .08 0 .09 0 .08 0 .08 0 .08 0 .08 0 .08 0 .09 0 .08 0 .08 0 .08 0 .08 0 .09 0 .08 0 .08 0 .08 0 .08 0 .08 0 .09 0 .08 0 .08 0 .08 0 .08 0 .09 0 .08 0 .08 0 .08 0 .08 0 .08 0 .09 0 .08 0 .08 0 .08 0 .08 0 .09 0 .08 0 .08 0 .08 0 .08 0 .08 0 .09 0 .08 0 .08 0 .08 0 .08 0 .09 0 .08 0 .08 0 .08 0 .08 0 .08 0 .09 0 .08 0 .08 0 .08 0 .08 0 .09 0 .08 0 .08 0 .08 0 .08 0 .08 0 .09 0 .08 0 .08 0 .08 0 .08 0 .09 0 .08 0 .08 0 .08 0 .08 0 .09 0 .08 0 .08 0 .08 0 .08 0 .08 0 .09 0 .08 0 .08 0 .08 0 .08 0 .09 0 .08 0 .08 0 .08 0 .08 0 .08 0 .09 0 .08 0 .08 0 .08 0 .08 0 .09 0 .08 0 .08 0 .08 0 .08 0 .08 0 .09 0 .08 0 .08 0 .08 0 .08 0 .09 0 .08 0 .08 0 .08 0 .08 0 .08 0 .09 0 .08 0 .08 0 .08 0 .08 0 .09 0 .08 0 .08 0 .08 0 .08 0 .08 0 .09 0 .08 0 .08 0 .08 0 .08 0 .09 0 .08 0 .08 0 .08 0 .08 0 .09 0 .08 0 .08 0 .08 0 .08 0 .08 0 .09 0 .08 0 .08 0 .08 0 .08 0 .09 0 .08 0 .08 0 .08 0 .08 0 .08 0 .09 0 .08 0 .08 0 .08 0 .08 0 .09 0 .08 0 .08 0 .08 0 .08 0 .08 0 .09 0 .08 0 .08 0 .08 0 .08 0 .09 0 .08 0 .08 0 .08 0 .08 0 .08 0 .09 0 .08 0 .08 0 .08 0 .08 0 .09 0 .08 0 .08 0 .08 0 .08 0 .08 0 .09 0 .08 0 .08 0 .08 0 .08 0 .09 0 .08 0 .08 0 .08 0 .08 0 .08 0 .09 0 .08 0 .08 0 .08 0 .08 0 .09 0 .08 0 .08 0 .08 0 .08 0 .09 0 .08 0 .08 0 .08 0 .08 0 .08 0 .09 0 .08 0 .08 0 .08 0 .08 0 .09 0 .08 0 .08 0 .08 0 .08 0 .08 0 .09 0 .08 0 .08 0 .08 0 .08 0 .09 0 .08 0 .08 0 .08 0 .08 0 .08 0 .09 0 .08 0 .08 0 .08 0 .08 0 .09 0 .08 0 .08 0 .08 0 .08 0 .08 0 .09 0 .08 0 .08 0 .08 0 .08 0 .09 0 .08 0 .08 0 .08 0 .08 0 .08 0 .09 0 .08 0 .08 0 .08 0 .08 0 .09 0 .08 0 .08 0 .08 0 .08 0 .08 0 .09 0 .08 0 .08 0 .08 0 .08 0 .09 0 .08 0 .08 0 .08 0 .08 0 .09 0 .08 0 .08 0 .08 0 .08 0 .08 0 .09 0 .08 0 .08 0 .08 0 .08 0 .09 0 .08 0 .08 0 .08 0 .08 0 .08 0 .09 0 .08 0 .08 0 .08 0 .08 0 .09 0 .08 0 .08 0 .08 0 .08 0 .08 0 .09 0 .08 0 .08 0 .08 0 .08 0 .09 0 .08 0 .08 0 .08 0 .08 0 .08 0 .09 0 .08 0 .08 0 .08 0 .08 0 .09 0 .08 0 .08 0 .08 0 .08 0 .08 0 .09 0 .08 0 .08 0 .08 0 .08 0 .09 0 .08 0 .08 0 .08 0 .08 0 .08 0 .09 0 .08 0 .08 0 .08 0 .08 0 .09 0 .08 0 .08 0 .08 0 .08 0 .09 0 .08 0 .08 0 .08 0 .08 0 .08 0 .09 0 .08 0 .08 0 .08 0 .08 0 .09 0 .08 0 .08 0 .08 0 .08 0 .08 0 .09 0 .08 0 .08 0 .08 0 .08 0 .09 0 .08 0 .08 0 .08 0 .08 0 .08 0 .09 0" style="fill: none; stroke: #1f77b4; stroke-width: 1.5; stroke-linecap: square"/>
   </g>
  </g>
  <g id="axes_5">
   <g id="patch_22">
    <path d="M 90 576 L 648 576 L 648 491.586207 L 90 491.586207z" style="fill: #ffffff"/>
   </g>
   <g id="matplotlib.axis_9">
    <g id="xtick_37">
     <g id="text_59">
      <g transform="translate(0.000 0.792)"><text style="font-size: 10px; font-family: 'DejaVu Sans', 'Liberation Sans', sans-serif" transform="translate(122.393771 602.30544) rotate(-30)">2020</text></g>
     </g>
    </g>
    <g id="xtick_38">
     <g id="text_60">
      <g transform="translate(0.000 0.792)"><text style="font-size: 10px; font-family: 'DejaVu Sans', 'Liberation Sans', sans-serif" transform="translate(182.123892 602.30544) rotate(-30)">2030</text></g>
     </g>
    </g>
    <g id="xtick_39">
     <g id="text_61">
      <g transform="translate(0.000 0.792)"><text style="font-size: 10px; font-family: 'DejaVu Sans', 'Liberation Sans', sans-serif" transform="translate(241.837662 602.30544) rotate(-30)">2040</text></g>
     </g>
    </g>
    <g id="xtick_40">
     <g id="text_62">
      <g transform="translate(0.000 0.792)"><text style="font-size: 10px; font-family: 'DejaVu Sans', 'Liberation Sans', sans-serif" transform="translate(301.567783 602.30544) rotate(-30)">2050</text></g>
     </g>
    </g>
    <g id="xtick_41">
     <g id="text_63">
      <g transform="translate(0.000 0.792)"><text style="font-size: 10px; font-family: 'DejaVu Sans', 'Liberation Sans', sans-serif" transform="translate(361.281553 602.30544) rotate(-30)">2060</text></g>
     </g>
    </g>
    <g id="xtick_42">
     <g id="text_64">
      <g transform="translate(0.000 0.792)"><text style="font-size: 10px; font-family: 'DejaVu Sans', 'Liberation Sans', sans-serif" transform="translate(421.011674 602.30544) rotate(-30)">2070</text></g>
     </g>
    </g>
    <g id="xtick_43">
     <g id="text_65">
      <g transform="translate(0.000 0.792)"><text style="font-size: 10px; font-family: 'DejaVu Sans', 'Liberation Sans', sans-serif" transform="translate(480.725444 602.30544) rotate(-30)">2080</text></g>
     </g>
    </g>
    <g id="xtick_44">
     <g id="text_66">
      <g transform="translate(0.000 0.792)"><text style="font-size: 10px; font-family: 'DejaVu Sans', 'Liberation Sans', sans-serif" transform="translate(540.455565 602.30544) rotate(-30)">2090</text></g>
     </g>
    </g>
    <g id="xtick_45">
     <g id="text_67">
      <g transform="translate(0.000 0.792)"><text style="font-size: 10px; font-family: 'DejaVu Sans', 'Liberation Sans', sans-serif" transform="translate(600.169335 602.30544) rotate(-30)">2100</text></g>
     </g>
    </g>
    <g id="text_68">
     <g transform="translate(-0.648 0.720)"><text style="font-size: 10px; font-family: 'DejaVu Sans', 'Liberation Sans', sans-serif; text-anchor: middle" x="369" y="615.70494" transform="rotate(-0 369 615.70494)">validtime</text></g>
    </g>
   </g>
   <g id="matplotlib.axis_10">
    <g id="ytick_13">
     <g id="text_69">
      <text style="font-size: 10px; font-family: 'DejaVu Sans', 'Liberation Sans', sans-serif; text-anchor: end" x="83" y="575.962228" transform="rotate(-0 83 575.962228)">−0.05</text>
     </g>
    </g>
    <g id="ytick_14">
     <g id="text_70">
      <text style="font-size: 10px; font-family: 'DejaVu Sans', 'Liberation Sans', sans-serif; text-anchor: end" x="83" y="537.592322" transform="rotate(-0 83 537.592322)">0.00</text>
     </g>
    </g>
    <g id="ytick_15">
     <g id="text_71">
      <text style="font-size: 10px; font-family: 'DejaVu Sans', 'Liberation Sans', sans-serif; text-anchor: end" x="83" y="499.222416" transform="rotate(-0 83 499.222416)">0.05</text>
     </g>
    </g>
    <g id="text_72">
     <g transform="translate(0.720 2.088)"><text style="font-size: 10px; font-family: 'DejaVu Sans', 'Liberation Sans', sans-serif; text-anchor: middle" x="46.275" y="533.793103" transform="rotate(-90 46.275 533.793103)">numnan</text></g>
    </g>
   </g>
   <g id="line2d_65">
    <path d="M115.36 533.79l.09 0 .08 0 .08 0 .08 0 .08 0 .08 0 .09 0 .08 0 .08 0 .08 0 .08 0 .09 0 .08 0 .08 0 .08 0 .08 0 .08 0 .09 0 .08 0 .08 0 .08 0 .08 0 .09 0 .08 0 .08 0 .08 0 .08 0 .08 0 .09 0 .08 0 .08 0 .08 0 .08 0 .09 0 .08 0 .08 0 .08 0 .08 0 .09 0 .08 0 .08 0 .08 0 .08 0 .08 0 .09 0 .08 0 .08 0 .08 0 .08 0 .09 0 .08 0 .08 0 .08 0 .08 0 .08 0 .09 0 .08 0 .08 0 .08 0 .08 0 .09 0 .08 0 .08 0 .08 0 .08 0 .08 0 .09 0 .08 0 .08 0 .08 0 .08 0 .09 0 .08 0 .08 0 .08 0 .08 0 .08 0 .09 0 .08 0 .08 0 .08 0 .08 0 .09 0 .08 0 .08 0 .08 0 .08 0 .08 0 .09 0 .08 0 .08 0 .08 0 .08 0 .09 0 .08 0 .08 0 .08 0 .08 0 .08 0 .09 0 .08 0 .08 0 .08 0 .08 0 .09 0 .08 0 .08 0 .08 0 .08 0 .09 0 .08 0 .08 0 .08 0 .08 0 .08 0 .09 0 .08 0 .08 0 .08 0 .08 0 .09 0 .08 0 .08 0 .08 0 .08 0 .08 0 .09 0 .08 0 .08 0 .08 0 .08 0 .09 0 .08 0 .08 0 .08 0 .08 0 .08 0 .09 0 .08 0 .08 0 .08 0 .08 0 .09 0 .08 0 .08 0 .08 0 .08 0 .08 0 .09 0 .08 0 .08 0 .08 0 .08 0 .09 0 .08 0 .08 0 .08 0 .08 0 .08 0 .09 0 .08 0 .08 0 .08 0 .08 0 .09 0 .08 0 .08 0 .08 0 .08 0 .08 0 .09 0 .08 0 .08 0 .08 0 .08 0 .09 0 .08 0 .08 0 .08 0 .08 0 .09 0 .08 0 .08 0 .08 0 .08 0 .08 0 .09 0 .08 0 .08 0 .08 0 .08 0 .09 0 .08 0 .08 0 .08 0 .08 0 .08 0 .09 0 .08 0 .08 0 .08 0 .08 0 .09 0 .08 0 .08 0 .08 0 .08 0 .08 0 .09 0 .08 0 .08 0 .08 0 .08 0 .09 0 .08 0 .08 0 .08 0 .08 0 .08 0 .09 0 .08 0 .08 0 .08 0 .08 0 .09 0 .08 0 .08 0 .08 0 .08 0 .08 0 .09 0 .08 0 .08 0 .08 0 .08 0 .09 0 .08 0 .08 0 .08 0 .08 0 .08 0 .09 0 .08 0 .08 0 .08 0 .08 0 .09 0 .08 0 .08 0 .08 0 .08 0 .09 0 .08 0 .08 0 .08 0 .08 0 .08 0 .09 0 .08 0 .08 0 .08 0 .08 0 .09 0 .08 0 .08 0 .08 0 .08 0 .08 0 .09 0 .08 0 .08 0 .08 0 .08 0 .09 0 .08 0 .08 0 .08 0 .08 0 .08 0 .09 0 .08 0 .08 0 .08 0 .08 0 .09 0 .08 0 .08 0 .08 0 .08 0 .08 0 .09 0 .08 0 .08 0 .08 0 .08 0 .09 0 .08 0 .08 0 .08 0 .08 0 .08 0 .09 0 .08 0 .08 0 .08 0 .08 0 .09 0 .08 0 .08 0 .08 0 .08 0 .09 0 .08 0 .08 0 .08 0 .08 0 .08 0 .09 0 .08 0 .08 0 .08 0 .08 0 .09 0 .08 0 .08 0 .08 0 .08 0 .08 0 .09 0 .08 0 .08 0 .08 0 .08 0 .09 0 .08 0 .08 0 .08 0 .08 0 .08 0 .09 0 .08 0 .08 0 .08 0 .08 0 .09 0 .08 0 .08 0 .08 0 .08 0 .08 0 .09 0 .08 0 .08 0 .08 0 .08 0 .09 0 .08 0 .08 0 .08 0 .08 0 .08 0 .09 0 .08 0 .08 0 .08 0 .08 0 .09 0 .08 0 .08 0 .08 0 .08 0 .08 0 .09 0 .08 0 .08 0 .08 0 .08 0 .09 0 .08 0 .08 0 .08 0 .08 0 .09 0 .08 0 .08 0 .08 0 .08 0 .08 0 .09 0 .08 0 .08 0 .08 0 .08 0 .09 0 .08 0 .08 0 .08 0 .08 0 .08 0 .09 0 .08 0 .08 0 .08 0 .08 0 .09 0 .08 0 .08 0 .08 0 .08 0 .08 0 .09 0 .08 0 .08 0 .08 0 .08 0 .09 0 .08 0 .08 0 .08 0 .08 0 .08 0 .09 0 .08 0 .08 0 .08 0 .08 0 .09 0 .08 0 .08 0 .08 0 .08 0 .08 0 .09 0 .08 0 .08 0 .08 0 .08 0 .09 0 .08 0 .08 0 .08 0 .08 0 .08 0 .09 0 .08 0 .08 0 .08 0 .08 0 .09 0 .08 0 .08 0 .08 0 .08 0 .09 0 .08 0 .08 0 .08 0 .08 0 .08 0 .09 0 .08 0 .08 0 .08 0 .08 0 .09 0 .08 0 .08 0 .08 0 .08 0 .08 0 .09 0 .08 0 .08 0 .08 0 .08 0 .09 0 .08 0 .08 0 .08 0 .08 0 .08 0 .09 0 .08 0 .08 0 .08 0 .08 0 .09 0 .08 0 .08 0 .08 0 .08 0 .08 0 .09 0 .08 0 .08 0 .08 0 .08 0 .09 0 .08 0 .08 0 .08 0 .08 0 .08 0 .09 0 .08 0 .08 0 .08 0 .08 0 .09 0 .08 0 .08 0 .08 0 .08 0 .08 0 .09 0 .08 0 .08 0 .08 0 .08 0 .09 0 .08 0 .08 0 .08 0 .08 0 .09 0 .08 0 .08 0 .08 0 .08 0 .08 0 .09 0 .08 0 .08 0 .08 0 .08 0 .09 0 .08 0 .08 0 .08 0 .08 0 .08 0 .09 0 .08 0 .08 0 .08 0 .08 0 .09 0 .08 0 .08 0 .08 0 .08 0 .08 0 .09 0 .08 0 .08 0 .08 0 .08 0 .09 0 .08 0 .08 0 .08 0 .08 0 .08 0 .09 0 .08 0 .08 0 .08 0 .08 0 .09 0 .08 0 .08 0 .08 0 .08 0 .08 0 .09 0 .08 0 .08 0 .08 0 .08 0 .09 0 .08 0 .08 0 .08 0 .08 0 .08 0 .09 0 .08 0 .08 0 .08 0 .08 0 .09 0 .08 0 .08 0 .08 0 .08 0 .09 0 .08 0 .08 0 .08 0 .08 0 .08 0 .09 0 .08 0 .08 0 .08 0 .08 0 .09 0 .08 0 .08 0 .08 0 .08 0 .08 0 .09 0 .08 0 .08 0 .08 0 .08 0 .09 0 .08 0 .08 0 .08 0 .08 0 .08 0 .09 0 .08 0 .08 0 .08 0 .08 0 .09 0 .08 0 .08 0 .08 0 .08 0 .08 0 .09 0 .08 0 .08 0 .08 0 .08 0 .09 0 .08 0 .08 0 .08 0 .08 0 .08 0 .09 0 .08 0 .08 0 .08 0 .08 0 .09 0 .08 0 .08 0 .08 0 .08 0 .09 0 .08 0 .08 0 .08 0 .08 0 .08 0 .09 0 .08 0 .08 0 .08 0 .08 0 .09 0 .08 0 .08 0 .08 0 .08 0 .08 0 .09 0 .08 0 .08 0 .08 0 .08 0 .09 0 .08 0 .08 0 .08 0 .08 0 .08 0 .09 0 .08 0 .08 0 .08 0 .08 0 .09 0 .08 0 .08 0 .08 0 .08 0 .08 0 .09 0 .08 0 .08 0 .08 0 .08 0 .09 0 .08 0 .08 0 .08 0 .08 0 .08 0 .09 0 .08 0 .08 0 .08 0 .08 0 .09 0 .08 0 .08 0 .08 0 .08 0 .08 0 .09 0 .08 0 .08 0 .08 0 .08 0 .09 0 .08 0 .08 0 .08 0 .08 0 .09 0 .08 0 .08 0 .08 0 .08 0 .08 0 .09 0 .08 0 .08 0 .08 0 .08 0 .09 0 .08 0 .08 0 .08 0 .08 0 .08 0 .09 0 .08 0 .08 0 .08 0 .08 0 .09 0 .08 0 .08 0 .08 0 .08 0 .08 0 .09 0 .08 0 .08 0 .08 0 .08 0 .09 0 .08 0 .08 0 .08 0 .08 0 .08 0 .09 0 .08 0 .08 0 .08 0 .08 0 .09 0 .08 0 .08 0 .08 0 .08 0 .08 0 .09 0 .08 0 .08 0 .08 0 .08 0 .09 0 .08 0 .08 0 .08 0 .08 0 .08 0 .09 0 .08 0 .08 0 .08 0 .08 0 .09 0 .08 0 .08 0 .08 0 .08 0 .09 0 .08 0 .08 0 .08 0 .08 0 .08 0 .09 0 .08 0 .08 0 .08 0 .08 0 .09 0 .08 0 .08 0 .08 0 .08 0 .08 0 .09 0 .08 0 .08 0 .08 0 .08 0 .09 0 .08 0 .08 0 .08 0 .08 0 .08 0 .09 0 .08 0 .08 0 .08 0 .08 0 .09 0 .08 0 .08 0 .08 0 .08 0 .08 0 .09 0 .08 0 .08 0 .08 0 .08 0 .09 0 .08 0 .08 0 .08 0 .08 0 .08 0 .09 0 .08 0 .08 0 .08 0 .08 0 .09 0 .08 0 .08 0 .08 0 .08 0 .08 0 .09 0 .08 0 .08 0 .08 0 .08 0 .09 0 .08 0 .08 0 .08 0 .08 0 .09 0 .08 0 .08 0 .08 0 .08 0 .08 0 .09 0 .08 0 .08 0 .08 0 .08 0 .09 0 .08 0 .08 0 .08 0 .08 0 .08 0 .09 0 .08 0 .08 0 .08 0 .08 0 .09 0 .08 0 .08 0 .08 0 .08 0 .08 0 .09 0 .08 0 .08 0 .08 0 .08 0 .09 0 .08 0 .08 0 .08 0 .08 0 .08 0 .09 0 .08 0 .08 0 .08 0 .08 0 .09 0 .08 0 .08 0 .08 0 .08 0 .08 0 .09 0 .08 0 .08 0 .08 0 .08 0 .09 0 .08 0 .08 0 .08 0 .08 0 .08 0 .09 0 .08 0 .08 0 .08 0 .08 0 .09 0 .08 0 .08 0 .08 0 .08 0 .09 0 .08 0 .08 0 .08 0 .08 0 .08 0 .09 0 .08 0 .08 0 .08 0 .08 0 .09 0 .08 0 .08 0 .08 0 .08 0 .08 0 .09 0 .08 0 .08 0 .08 0 .08 0 .09 0 .08 0 .08 0 .08 0 .08 0 .08 0 .09 0 .08 0 .08 0 .08 0 .08 0 .09 0 .08 0 .08 0 .08 0 .08 0 .08 0 .09 0 .08 0 .08 0 .08 0 .08 0 .09 0 .08 0 .08 0 .08 0 .08 0 .08 0 .09 0 .08 0 .08 0 .08 0 .08 0 .09 0 .08 0 .08 0 .08 0 .08 0 .09 0 .08 0 .08 0 .08 0 .08 0 .08 0 .09 0 .08 0 .08 0 .08 0 .08 0 .09 0 .08 0 .08 0 .08 0 .08 0 .08 0 .09 0 .08 0 .08 0 .08 0 .08 0 .09 0 .08 0 .08 0 .08 0 .08 0 .08 0 .09 0 .08 0 .08 0 .08 0 .08 0 .09 0 .08 0 .08 0 .08 0 .08 0 .08 0 .09 0 .08 0 .08 0 .08 0 .08 0 .09 0 .08 0 .08 0 .08 0 .08 0 .08 0 .09 0 .08 0 .08 0 .08 0 .08 0 .09 0 .08 0 .08 0 .08 0 .08 0 .08 0 .09 0 .08 0 .08 0 .08 0 .08 0 .09 0 .08 0 .08 0 .08 0 .08 0 .09 0 .08 0 .08 0 .08 0 .08 0 .08 0 .09 0 .08 0 .08 0 .08 0 .08 0 .09 0 .08 0 .08 0 .08 0 .08 0 .08 0 .09 0 .08 0 .08 0 .08 0 .08 0 .09 0 .08 0 .08 0 .08 0 .08 0 .08 0 .09 0 .08 0 .08 0 .08 0 .08 0 .09 0 .08 0 .08 0 .08 0 .08 0 .08 0 .09 0 .08 0 .08 0 .08 0 .08 0 .09 0 .08 0 .08 0 .08 0 .08 0 .08 0 .09 0 .08 0 .08 0 .08 0 .08 0 .09 0 .08 0 .08 0 .08 0 .08 0 .08 0 .09 0 .08 0 .08 0 .08 0 .08 0 .09 0 .08 0 .08 0 .08 0 .08 0 .09 0 .08 0 .08 0 .08 0 .08 0 .08 0 .09 0 .08 0 .08 0 .08 0 .08 0 .09 0 .08 0 .08 0 .08 0 .08 0 .08 0 .09 0 .08 0 .08 0 .08 0 .08 0 .09 0 .08 0 .08 0 .08 0 .08 0 .08 0 .09 0 .08 0 .08 0 .08 0 .08 0 .09 0 .08 0 .08 0 .08 0 .08 0 .08 0 .09 0 .08 0 .08 0 .08 0 .08 0 .09 0 .08 0 .08 0 .08 0 .08 0 .08 0 .09 0 .08 0 .08 0 .08 0 .08 0 .09 0 .08 0 .08 0 .08 0 .08 0 .08 0 .09 0 .08 0 .08 0 .08 0 .08 0 .09 0 .08 0 .08 0 .08 0 .08 0 .09 0 .08 0 .08 0 .08 0 .08 0 .08 0 .09 0 .08 0 .08 0 .08 0 .08 0 .09 0 .08 0 .08 0 .08 0 .08 0 .08 0 .09 0 .08 0 .08 0 .08 0 .08 0 .09 0 .08 0 .08 0 .08 0 .08 0 .08 0 .09 0 .08 0 .08 0 .08 0 .08 0 .09 0 .08 0 .08 0 .08 0 .08 0 .08 0 .09 0 .08 0 .08 0 .08 0 .08 0 .09 0 .08 0 .08 0 .08 0 .08 0 .08 0 .09 0 .08 0 .08 0 .08 0 .08 0 .09 0 .08 0 .08 0 .08 0 .08 0 .08 0 .09 0 .08 0 .08 0 .08 0 .08 0 .09 0 .08 0 .08 0 .08 0 .08 0 .09 0 .08 0 .08 0 .08 0 .08 0 .08 0 .09 0 .08 0 .08 0 .08 0 .08 0 .09 0 .08 0 .08 0 .08 0 .08 0 .08 0 .09 0 .08 0 .08 0 .08 0 .08 0 .09 0 .08 0 .08 0 .08 0 .08 0 .08 0 .09 0 .08 0 .08 0 .08 0 .08 0 .09 0 .08 0 .08 0 .08 0 .08 0 .08 0 .09 0 .08 0 .08 0 .08 0 .08 0 .09 0 .08 0 .08 0 .08 0 .08 0 .08 0 .09 0 .08 0 .08 0 .08 0 .08 0 .09 0 .08 0 .08 0 .08 0 .08 0 .09 0 .08 0 .08 0 .08 0 .08 0 .08 0 .09 0 .08 0 .08 0 .08 0 .08 0 .09 0 .08 0 .08 0 .08 0 .08 0 .08 0 .09 0 .08 0 .08 0 .08 0 .08 0 .09 0 .08 0 .08 0 .08 0 .08 0 .08 0 .09 0 .08 0 .08 0 .08 0 .08 0 .09 0 .08 0 .08 0 .08 0 .08 0 .08 0 .09 0 .08 0 .08 0 .08 0 .08 0 .09 0 .08 0 .08 0 .08 0 .08 0 .08 0 .09 0 .08 0 .08 0 .08 0 .08 0 .09 0 .08 0 .08 0 .08 0 .08 0 .08 0 .09 0 .08 0 .08 0 .08 0 .08 0 .09 0 .08 0 .08 0 .08 0 .08 0 .09 0 .08 0 .08 0 .08 0 .08 0 .08 0 .09 0 .08 0 .08 0 .08 0 .08 0 .09 0 .08 0 .08 0 .08 0 .08 0 .08 0 .09 0 .08 0 .08 0 .08 0 .08 0 .09 0 .08 0 .08 0 .08 0 .08 0 .08 0 .09 0 .08 0 .08 0 .08 0 .08 0 .09 0 .08 0 .08 0 .08 0 .08 0 .08 0 .09 0 .08 0 .08 0 .08 0 .08 0 .09 0 .08 0 .08 0 .08 0 .08 0 .08 0 .09 0 .08 0 .08 0 .08 0 .08 0 .09 0 .08 0 .08 0 .08 0 .08 0 .08 0 .09 0 .08 0 .08 0 .08 0 .08 0 .09 0 .08 0 .08 0 .08 0 .08 0 .09 0 .08 0 .08 0 .08 0 .08 0 .08 0 .09 0 .08 0 .08 0 .08 0 .08 0 .09 0 .08 0 .08 0 .08 0 .08 0 .08 0 .09 0 .08 0 .08 0 .08 0 .08 0 .09 0 .08 0 .08 0 .08 0 .08 0 .08 0 .09 0 .08 0 .08 0 .08 0 .08 0 .09 0 .08 0 .08 0 .08 0 .08 0 .08 0 .09 0 .08 0 .08 0 .08 0 .08 0 .09 0 .08 0 .08 0 .08 0 .08 0 .08 0 .09 0 .08 0 .08 0 .08 0 .08 0 .09 0 .08 0 .08 0 .08 0 .08 0 .08 0 .09 0 .08 0 .08 0 .08 0 .08 0 .09 0 .08 0 .08 0 .08 0 .08 0 .09 0 .08 0 .08 0 .08 0 .08 0 .08 0 .09 0 .08 0 .08 0 .08 0 .08 0 .09 0 .08 0 .08 0 .08 0 .08 0 .08 0 .09 0 .08 0 .08 0 .08 0 .08 0 .09 0 .08 0 .08 0 .08 0 .08 0 .08 0 .09 0 .08 0 .08 0 .08 0 .08 0 .09 0 .08 0 .08 0 .08 0 .08 0 .08 0 .09 0 .08 0 .08 0 .08 0 .08 0 .09 0 .08 0 .08 0 .08 0 .08 0 .08 0 .09 0 .08 0 .08 0 .08 0 .08 0 .09 0 .08 0 .08 0 .08 0 .08 0 .08 0 .09 0 .08 0 .08 0 .08 0 .08 0 .09 0 .08 0 .08 0 .08 0 .08 0 .09 0 .08 0 .08 0 .08 0 .08 0 .08 0 .09 0 .08 0 .08 0 .08 0 .08 0 .09 0 .08 0 .08 0 .08 0 .08 0 .08 0 .09 0 .08 0 .08 0 .08 0 .08 0 .09 0 .08 0 .08 0 .08 0 .08 0 .08 0 .09 0 .08 0 .08 0 .08 0 .08 0 .09 0 .08 0 .08 0 .08 0 .08 0 .08 0 .09 0 .08 0 .08 0 .08 0 .08 0 .09 0 .08 0 .08 0 .08 0 .08 0 .08 0 .09 0 .08 0 .08 0 .08 0 .08 0 .09 0 .08 0 .08 0 .08 0 .08 0 .09 0 .08 0 .08 0 .08 0 .08 0 .08 0 .09 0 .08 0 .08 0 .08 0 .08 0 .09 0 .08 0 .08 0 .08 0 .08 0 .08 0 .09 0 .08 0 .08 0 .08 0 .08 0 .09 0 .08 0 .08 0 .08 0 .08 0 .08 0 .09 0 .08 0 .08 0 .08 0 .08 0 .09 0 .08 0 .08 0 .08 0 .08 0 .08 0 .09 0 .08 0 .08 0 .08 0 .08 0 .09 0 .08 0 .08 0 .08 0 .08 0 .08 0 .09 0 .08 0 .08 0 .08 0 .08 0 .09 0 .08 0 .08 0 .08 0 .08 0 .08 0 .09 0 .08 0 .08 0 .08 0 .08 0 .09 0 .08 0 .08 0 .08 0 .08 0 .09 0 .08 0 .08 0 .08 0 .08 0 .08 0 .09 0 .08 0 .08 0 .08 0 .08 0 .09 0 .08 0 .08 0 .08 0 .08 0 .08 0 .09 0 .08 0 .08 0 .08 0 .08 0 .09 0 .08 0 .08 0 .08 0 .08 0 .08 0 .09 0 .08 0 .08 0 .08 0 .08 0 .09 0 .08 0 .08 0 .08 0 .08 0 .08 0 .09 0 .08 0 .08 0 .08 0 .08 0 .09 0 .08 0 .08 0 .08 0 .08 0 .08 0 .09 0 .08 0 .08 0 .08 0 .08 0 .09 0 .08 0 .08 0 .08 0 .08 0 .08 0 .09 0 .08 0 .08 0 .08 0 .08 0 .09 0 .08 0 .08 0 .08 0 .08 0 .09 0 .08 0 .08 0 .08 0 .08 0 .08 0 .09 0 .08 0 .08 0 .08 0 .08 0 .09 0 .08 0 .08 0 .08 0 .08 0 .08 0 .09 0 .08 0 .08 0 .08 0 .08 0 .09 0 .08 0 .08 0 .08 0 .08 0 .08 0 .09 0 .08 0 .08 0 .08 0 .08 0 .09 0 .08 0 .08 0 .08 0 .08 0 .08 0 .09 0 .08 0 .08 0 .08 0 .08 0 .09 0 .08 0 .08 0 .08 0 .08 0 .08 0 .09 0 .08 0 .08 0 .08 0 .08 0 .09 0 .08 0 .08 0 .08 0 .08 0 .08 0 .09 0 .08 0 .08 0 .08 0 .08 0 .09 0 .08 0 .08 0 .08 0 .08 0 .09 0 .08 0 .08 0 .08 0 .08 0 .08 0 .09 0 .08 0 .08 0 .08 0 .08 0 .09 0 .08 0 .08 0 .08 0 .08 0 .08 0 .09 0 .08 0 .08 0 .08 0 .08 0 .09 0 .08 0 .08 0 .08 0 .08 0 .08 0 .09 0 .08 0 .08 0 .08 0 .08 0 .09 0 .08 0 .08 0 .08 0 .08 0 .08 0 .09 0 .08 0 .08 0 .08 0 .08 0 .09 0 .08 0 .08 0 .08 0 .08 0 .08 0 .09 0 .08 0 .08 0 .08 0 .08 0 .09 0 .08 0 .08 0 .08 0 .08 0 .08 0 .09 0 .08 0 .08 0 .08 0 .08 0 .09 0 .08 0 .08 0 .08 0 .08 0 .09 0 .08 0 .08 0 .08 0 .08 0 .08 0 .09 0 .08 0 .08 0 .08 0 .08 0 .09 0 .08 0 .08 0 .08 0 .08 0 .08 0 .09 0 .08 0 .08 0 .08 0 .08 0 .09 0 .08 0 .08 0 .08 0 .08 0 .08 0 .09 0 .08 0 .08 0 .08 0 .08 0 .09 0 .08 0 .08 0 .08 0 .08 0 .08 0 .09 0 .08 0 .08 0 .08 0 .08 0 .09 0 .08 0 .08 0 .08 0 .08 0 .08 0 .09 0 .08 0 .08 0 .08 0 .08 0 .09 0 .08 0 .08 0 .08 0 .08 0 .09 0 .08 0 .08 0 .08 0 .08 0 .08 0 .09 0 .08 0 .08 0 .08 0 .08 0 .09 0 .08 0 .08 0 .08 0 .08 0 .08 0 .09 0 .08 0 .08 0 .08 0 .08 0 .09 0 .08 0 .08 0 .08 0 .08 0 .08 0 .09 0 .08 0 .08 0 .08 0 .08 0 .09 0 .08 0 .08 0 .08 0 .08 0 .08 0 .09 0 .08 0 .08 0 .08 0 .08 0 .09 0 .08 0 .08 0 .08 0 .08 0 .08 0 .09 0 .08 0 .08 0 .08 0 .08 0 .09 0 .08 0 .08 0 .08 0 .08 0 .08 0 .09 0 .08 0 .08 0 .08 0 .08 0 .09 0 .08 0 .08 0 .08 0 .08 0 .09 0 .08 0 .08 0 .08 0 .08 0 .08 0 .09 0 .08 0 .08 0 .08 0 .08 0 .09 0 .08 0 .08 0 .08 0 .08 0 .08 0 .09 0 .08 0 .08 0 .08 0 .08 0 .09 0 .08 0 .08 0 .08 0 .08 0 .08 0 .09 0 .08 0 .08 0 .08 0 .08 0 .09 0 .08 0 .08 0 .08 0 .08 0 .08 0 .09 0 .08 0 .08 0 .08 0 .08 0 .09 0 .08 0 .08 0 .08 0 .08 0 .08 0 .09 0 .08 0 .08 0 .08 0 .08 0 .09 0 .08 0 .08 0 .08 0 .08 0 .08 0 .09 0 .08 0 .08 0 .08 0 .08 0 .09 0 .08 0 .08 0 .08 0 .08 0 .09 0 .08 0 .08 0 .08 0 .08 0 .08 0 .09 0 .08 0 .08 0 .08 0 .08 0 .09 0 .08 0 .08 0 .08 0 .08 0 .08 0 .09 0 .08 0 .08 0 .08 0 .08 0 .09 0 .08 0 .08 0 .08 0 .08 0 .08 0 .09 0 .08 0 .08 0 .08 0 .08 0 .09 0 .08 0 .08 0 .08 0 .08 0 .08 0 .09 0 .08 0 .08 0 .08 0 .08 0 .09 0 .08 0 .08 0 .08 0 .08 0 .08 0 .09 0 .08 0 .08 0 .08 0 .08 0 .09 0 .08 0 .08 0 .08 0 .08 0 .08 0 .09 0 .08 0 .08 0 .08 0 .08 0 .09 0 .08 0 .08 0 .08 0 .08 0 .09 0 .08 0 .08 0 .08 0 .08 0 .08 0 .09 0 .08 0 .08 0 .08 0 .08 0 .09 0 .08 0 .08 0 .08 0 .08 0 .08 0 .09 0 .08 0 .08 0 .08 0 .08 0 .09 0 .08 0 .08 0 .08 0 .08 0 .08 0 .09 0 .08 0 .08 0 .08 0 .08 0 .09 0 .08 0 .08 0 .08 0 .08 0 .08 0 .09 0 .08 0 .08 0 .08 0 .08 0 .09 0 .08 0 .08 0 .08 0 .08 0 .08 0 .09 0 .08 0 .08 0 .08 0 .08 0 .09 0 .08 0 .08 0 .08 0 .08 0 .08 0 .09 0 .08 0 .08 0 .08 0 .08 0 .09 0 .08 0 .08 0 .08 0 .08 0 .09 0 .08 0 .08 0 .08 0 .08 0 .08 0 .09 0 .08 0 .08 0 .08 0 .08 0 .09 0 .08 0 .08 0 .08 0 .08 0 .08 0 .09 0 .08 0 .08 0 .08 0 .08 0 .09 0 .08 0 .08 0 .08 0 .08 0 .08 0 .09 0 .08 0 .08 0 .08 0 .08 0 .09 0 .08 0 .08 0 .08 0 .08 0 .08 0 .09 0 .08 0 .08 0 .08 0 .08 0 .09 0 .08 0 .08 0 .08 0 .08 0 .08 0 .09 0 .08 0 .08 0 .08 0 .08 0 .09 0 .08 0 .08 0 .08 0 .08 0 .08 0 .09 0 .08 0 .08 0 .08 0 .08 0 .09 0 .08 0 .08 0 .08 0 .08 0 .09 0 .08 0 .08 0 .08 0 .08 0 .08 0 .09 0 .08 0 .08 0 .08 0 .08 0 .09 0 .08 0 .08 0 .08 0 .08 0 .08 0 .09 0 .08 0 .08 0 .08 0 .08 0 .09 0 .08 0 .08 0 .08 0 .08 0 .08 0 .09 0 .08 0 .08 0 .08 0 .08 0 .09 0 .08 0 .08 0 .08 0 .08 0 .08 0 .09 0 .08 0 .08 0 .08 0 .08 0 .09 0 .08 0 .08 0 .08 0 .08 0 .08 0 .09 0 .08 0 .08 0 .08 0 .08 0 .09 0 .08 0 .08 0 .08 0 .08 0 .09 0 .08 0 .08 0 .08 0 .08 0 .08 0 .09 0 .08 0 .08 0 .08 0 .08 0 .09 0 .08 0 .08 0 .08 0 .08 0 .08 0 .09 0 .08 0 .08 0 .08 0 .08 0 .09 0 .08 0 .08 0 .08 0 .08 0 .08 0 .09 0 .08 0 .08 0 .08 0 .08 0 .09 0 .08 0 .08 0 .08 0 .08 0 .08 0 .09 0 .08 0 .08 0 .08 0 .08 0 .09 0 .08 0 .08 0 .08 0 .08 0 .08 0 .09 0 .08 0 .08 0 .08 0 .08 0 .09 0 .08 0 .08 0 .08 0 .08 0 .08 0 .09 0 .08 0 .08 0 .08 0 .08 0 .09 0 .08 0 .08 0 .08 0 .08 0 .09 0 .08 0 .08 0 .08 0 .08 0 .08 0 .09 0 .08 0 .08 0 .08 0 .08 0 .09 0 .08 0 .08 0 .08 0 .08 0 .08 0 .09 0 .08 0 .08 0 .08 0 .08 0 .09 0 .08 0 .08 0 .08 0 .08 0 .08 0 .09 0 .08 0 .08 0 .08 0 .08 0 .09 0 .08 0 .08 0 .08 0 .08 0 .08 0 .09 0 .08 0 .08 0 .08 0 .08 0 .09 0 .08 0 .08 0 .08 0 .08 0 .08 0 .09 0 .08 0 .08 0 .08 0 .08 0 .09 0 .08 0 .08 0 .08 0 .08 0 .08 0 .09 0 .08 0 .08 0 .08 0 .08 0 .09 0 .08 0 .08 0 .08 0 .08 0 .09 0 .08 0 .08 0 .08 0 .08 0 .08 0 .09 0 .08 0 .08 0 .08 0 .08 0 .09 0 .08 0 .08 0 .08 0 .08 0 .08 0 .09 0 .08 0 .08 0 .08 0 .08 0 .09 0 .08 0 .08 0 .08 0 .08 0 .08 0 .09 0 .08 0 .08 0 .08 0 .08 0 .09 0 .08 0 .08 0 .08 0 .08 0 .08 0 .09 0 .08 0 .08 0 .08 0 .08 0 .09 0 .08 0 .08 0 .08 0 .08 0 .08 0 .09 0 .08 0 .08 0 .08 0 .08 0 .09 0 .08 0 .08 0 .08 0 .08 0 .08 0 .09 0 .08 0 .08 0 .08 0 .08 0 .09 0 .08 0 .08 0 .08 0 .08 0 .09 0 .08 0 .08 0 .08 0 .08 0 .08 0 .09 0 .08 0 .08 0 .08 0 .08 0 .09 0 .08 0 .08 0 .08 0 .08 0 .08 0 .09 0 .08 0 .08 0 .08 0 .08 0 .09 0 .08 0 .08 0 .08 0 .08 0 .08 0 .09 0 .08 0 .08 0 .08 0 .08 0 .09 0 .08 0 .08 0 .08 0 .08 0 .08 0 .09 0 .08 0 .08 0 .08 0 .08 0 .09 0 .08 0 .08 0 .08 0 .08 0 .08 0 .09 0 .08 0 .08 0 .08 0 .08 0 .09 0 .08 0 .08 0 .08 0 .08 0 .08 0 .09 0 .08 0 .08 0 .08 0 .08 0 .09 0 .08 0 .08 0 .08 0 .08 0 .09 0 .08 0 .08 0 .08 0 .08 0 .08 0 .09 0 .08 0 .08 0 .08 0 .08 0 .09 0 .08 0 .08 0 .08 0 .08 0 .08 0 .09 0 .08 0 .08 0 .08 0 .08 0 .09 0 .08 0 .08 0 .08 0 .08 0 .08 0 .09 0 .08 0 .08 0 .08 0 .08 0 .09 0 .08 0 .08 0 .08 0 .08 0 .08 0 .09 0 .08 0 .08 0 .08 0 .08 0 .09 0 .08 0 .08 0 .08 0 .08 0 .08 0 .09 0 .08 0 .08 0 .08 0 .08 0 .09 0 .08 0 .08 0 .08 0 .08 0 .09 0 .08 0 .08 0 .08 0 .08 0 .08 0 .09 0 .08 0 .08 0 .08 0 .08 0 .09 0 .08 0 .08 0 .08 0 .08 0 .08 0 .09 0 .08 0 .08 0 .08 0 .08 0 .09 0 .08 0 .08 0 .08 0 .08 0 .08 0 .09 0 .08 0 .08 0 .08 0 .08 0 .09 0 .08 0 .08 0 .08 0 .08 0 .08 0 .09 0 .08 0 .08 0 .08 0 .08 0 .09 0 .08 0 .08 0 .08 0 .08 0 .08 0 .09 0 .08 0 .08 0 .08 0 .08 0 .09 0 .08 0 .08 0 .08 0 .08 0 .08 0 .09 0 .08 0 .08 0 .08 0 .08 0 .09 0 .08 0 .08 0 .08 0 .08 0 .09 0 .08 0 .08 0 .08 0 .08 0 .08 0 .09 0 .08 0 .08 0 .08 0 .08 0 .09 0 .08 0 .08 0 .08 0 .08 0 .08 0 .09 0 .08 0 .08 0 .08 0 .08 0 .09 0 .08 0 .08 0 .08 0 .08 0 .08 0 .09 0 .08 0 .08 0 .08 0 .08 0 .09 0 .08 0 .08 0 .08 0 .08 0 .08 0 .09 0 .08 0 .08 0 .08 0 .08 0 .09 0 .08 0 .08 0 .08 0 .08 0 .08 0 .09 0 .08 0 .08 0 .08 0 .08 0 .09 0 .08 0 .08 0 .08 0 .08 0 .08 0 .09 0 .08 0 .08 0 .08 0 .08 0 .09 0 .08 0 .08 0 .08 0 .08 0 .09 0 .08 0 .08 0 .08 0 .08 0 .08 0 .09 0 .08 0 .08 0 .08 0 .08 0 .09 0 .08 0 .08 0 .08 0 .08 0 .08 0 .09 0 .08 0 .08 0 .08 0 .08 0 .09 0 .08 0 .08 0 .08 0 .08 0 .08 0 .09 0 .08 0 .08 0 .08 0 .08 0 .09 0 .08 0 .08 0 .08 0 .08 0 .08 0 .09 0 .08 0 .08 0 .08 0 .08 0 .09 0 .08 0 .08 0 .08 0 .08 0 .08 0 .09 0 .08 0 .08 0 .08 0 .08 0 .09 0 .08 0 .08 0 .08 0 .08 0 .08 0 .09 0 .08 0 .08 0 .08 0 .08 0 .09 0 .08 0 .08 0 .08 0 .08 0 .09 0 .08 0 .08 0 .08 0 .08 0 .08 0 .09 0 .08 0 .08 0 .08 0 .08 0 .09 0 .08 0 .08 0 .08 0 .08 0 .08 0 .09 0 .08 0 .08 0 .08 0 .08 0 .09 0 .08 0 .08 0 .08 0 .08 0 .08 0 .09 0 .08 0 .08 0 .08 0 .08 0 .09 0 .08 0 .08 0 .08 0 .08 0 .08 0 .09 0 .08 0 .08 0 .08 0 .08 0 .09 0 .08 0 .08 0 .08 0 .08 0 .08 0 .09 0 .08 0 .08 0 .08 0 .08 0 .09 0 .08 0 .08 0 .08 0 .08 0 .08 0 .09 0 .08 0 .08 0 .08 0 .08 0 .09 0 .08 0 .08 0 .08 0 .08 0 .09 0 .08 0 .08 0 .08 0 .08 0 .08 0 .09 0 .08 0 .08 0 .08 0 .08 0 .09 0 .08 0 .08 0 .08 0 .08 0 .08 0 .09 0 .08 0 .08 0 .08 0 .08 0 .09 0 .08 0 .08 0 .08 0 .08 0 .08 0 .09 0 .08 0 .08 0 .08 0 .08 0 .09 0 .08 0 .08 0 .08 0 .08 0 .08 0 .09 0 .08 0 .08 0 .08 0 .08 0 .09 0 .08 0 .08 0 .08 0 .08 0 .08 0 .09 0 .08 0 .08 0 .08 0 .08 0 .09 0 .08 0 .08 0 .08 0 .08 0 .09 0 .08 0 .08 0 .08 0 .08 0 .08 0 .09 0 .08 0 .08 0 .08 0 .08 0 .09 0 .08 0 .08 0 .08 0 .08 0 .08 0 .09 0 .08 0 .08 0 .08 0 .08 0 .09 0 .08 0 .08 0 .08 0 .08 0 .08 0 .09 0 .08 0 .08 0 .08 0 .08 0 .09 0 .08 0 .08 0 .08 0 .08 0 .08 0 .09 0 .08 0 .08 0 .08 0 .08 0 .09 0 .08 0 .08 0 .08 0 .08 0 .08 0 .09 0 .08 0 .08 0 .08 0 .08 0 .09 0 .08 0 .08 0 .08 0 .08 0 .08 0 .09 0 .08 0 .08 0 .08 0 .08 0 .09 0 .08 0 .08 0 .08 0 .08 0 .09 0 .08 0 .08 0 .08 0 .08 0 .08 0 .09 0 .08 0 .08 0 .08 0 .08 0 .09 0 .08 0 .08 0 .08 0 .08 0 .08 0 .09 0 .08 0 .08 0 .08 0 .08 0 .09 0 .08 0 .08 0 .08 0 .08 0 .08 0 .09 0 .08 0 .08 0 .08 0 .08 0 .09 0 .08 0 .08 0 .08 0 .08 0 .08 0 .09 0 .08 0 .08 0 .08 0 .08 0 .09 0 .08 0 .08 0 .08 0 .08 0 .08 0 .09 0 .08 0 .08 0 .08 0 .08 0 .09 0 .08 0 .08 0 .08 0 .08 0 .08 0 .09 0 .08 0 .08 0 .08 0 .08 0 .09 0 .08 0 .08 0 .08 0 .08 0 .09 0 .08 0 .08 0 .08 0 .08 0 .08 0 .09 0 .08 0 .08 0 .08 0 .08 0 .09 0 .08 0 .08 0 .08 0 .08 0 .08 0 .09 0 .08 0 .08 0 .08 0 .08 0 .09 0 .08 0 .08 0 .08 0 .08 0 .08 0 .09 0 .08 0 .08 0 .08 0 .08 0 .09 0 .08 0 .08 0 .08 0 .08 0 .08 0 .09 0 .08 0 .08 0 .08 0 .08 0 .09 0 .08 0 .08 0 .08 0 .08 0 .08 0 .09 0 .08 0 .08 0 .08 0 .08 0 .09 0 .08 0 .08 0 .08 0 .08 0 .08 0 .09 0 .08 0 .08 0 .08 0 .08 0 .09 0 .08 0 .08 0 .08 0 .08 0 .09 0 .08 0 .08 0 .08 0 .08 0 .08 0 .09 0 .08 0 .08 0 .08 0 .08 0 .09 0 .08 0 .08 0 .08 0 .08 0 .08 0 .09 0 .08 0 .08 0 .08 0 .08 0 .09 0 .08 0 .08 0 .08 0 .08 0 .08 0 .09 0 .08 0 .08 0 .08 0 .08 0 .09 0 .08 0 .08 0 .08 0 .08 0 .08 0 .09 0 .08 0 .08 0 .08 0 .08 0 .09 0 .08 0 .08 0 .08 0 .08 0 .08 0 .09 0 .08 0 .08 0 .08 0 .08 0 .09 0 .08 0 .08 0 .08 0 .08 0 .08 0 .09 0 .08 0 .08 0 .08 0 .08 0 .09 0 .08 0 .08 0 .08 0 .08 0 .09 0 .08 0 .08 0 .08 0 .08 0 .08 0 .09 0 .08 0 .08 0 .08 0 .08 0 .09 0 .08 0 .08 0 .08 0 .08 0 .08 0 .09 0 .08 0 .08 0 .08 0 .08 0 .09 0 .08 0 .08 0 .08 0 .08 0 .08 0 .09 0 .08 0 .08 0 .08 0 .08 0 .09 0 .08 0 .08 0 .08 0 .08 0 .08 0 .09 0 .08 0 .08 0 .08 0 .08 0 .09 0 .08 0 .08 0 .08 0 .08 0 .08 0 .09 0 .08 0 .08 0 .08 0 .08 0 .09 0 .08 0 .08 0 .08 0 .08 0 .09 0 .08 0 .08 0 .08 0 .08 0 .08 0 .09 0 .08 0 .08 0 .08 0 .08 0 .09 0 .08 0 .08 0 .08 0 .08 0 .08 0 .09 0 .08 0 .08 0 .08 0 .08 0 .09 0 .08 0 .08 0 .08 0 .08 0 .08 0 .09 0 .08 0 .08 0 .08 0 .08 0 .09 0 .08 0 .08 0 .08 0 .08 0 .08 0 .09 0 .08 0 .08 0 .08 0 .08 0 .09 0 .08 0 .08 0 .08 0 .08 0 .08 0 .09 0 .08 0 .08 0 .08 0 .08 0 .09 0 .08 0 .08 0 .08 0 .08 0 .08 0 .09 0 .08 0 .08 0 .08 0 .08 0 .09 0 .08 0 .08 0 .08 0 .08 0 .09 0 .08 0 .08 0 .08 0 .08 0 .08 0 .09 0 .08 0 .08 0 .08 0 .08 0 .09 0 .08 0 .08 0 .08 0 .08 0 .08 0 .09 0 .08 0 .08 0 .08 0 .08 0 .09 0 .08 0 .08 0 .08 0 .08 0 .08 0 .09 0 .08 0 .08 0 .08 0 .08 0 .09 0 .08 0 .08 0 .08 0 .08 0 .08 0 .09 0 .08 0 .08 0 .08 0 .08 0 .09 0 .08 0 .08 0 .08 0 .08 0 .08 0 .09 0 .08 0 .08 0 .08 0 .08 0 .09 0 .08 0 .08 0 .08 0 .08 0 .08 0 .09 0 .08 0 .08 0 .08 0 .08 0 .09 0 .08 0 .08 0 .08 0 .08 0 .09 0 .08 0 .08 0 .08 0 .08 0 .08 0 .09 0 .08 0 .08 0 .08 0 .08 0 .09 0 .08 0 .08 0 .08 0 .08 0 .08 0 .09 0 .08 0 .08 0 .08 0 .08 0 .09 0 .08 0 .08 0 .08 0 .08 0 .08 0 .09 0 .08 0 .08 0 .08 0 .08 0 .09 0 .08 0 .08 0 .08 0 .08 0 .08 0 .09 0 .08 0 .08 0 .08 0 .08 0 .09 0 .08 0 .08 0 .08 0 .08 0 .08 0 .09 0 .08 0 .08 0 .08 0 .08 0 .09 0 .08 0 .08 0 .08 0 .08 0 .08 0 .09 0 .08 0 .08 0 .08 0 .08 0 .09 0 .08 0 .08 0 .08 0 .08 0 .09 0 .08 0 .08 0 .08 0 .08 0 .08 0 .09 0 .08 0 .08 0 .08 0 .08 0 .09 0 .08 0 .08 0 .08 0 .08 0 .08 0 .09 0 .08 0 .08 0 .08 0 .08 0 .09 0 .08 0 .08 0 .08 0 .08 0 .08 0 .09 0 .08 0 .08 0 .08 0 .08 0 .09 0 .08 0 .08 0 .08 0 .08 0 .08 0 .09 0 .08 0 .08 0 .08 0 .08 0 .09 0 .08 0 .08 0 .08 0 .08 0 .08 0 .09 0 .08 0 .08 0 .08 0 .08 0 .09 0 .08 0 .08 0 .08 0 .08 0 .08 0 .09 0 .08 0 .08 0 .08 0 .08 0 .09 0 .08 0 .08 0 .08 0 .08 0 .09 0 .08 0 .08 0 .08 0 .08 0 .08 0 .09 0 .08 0 .08 0 .08 0 .08 0 .09 0 .08 0 .08 0 .08 0 .08 0 .08 0 .09 0 .08 0 .08 0 .08 0 .08 0 .09 0 .08 0 .08 0 .08 0 .08 0 .08 0 .09 0 .08 0 .08 0 .08 0 .08 0 .09 0 .08 0 .08 0 .08 0 .08 0 .08 0 .09 0 .08 0 .08 0 .08 0 .08 0 .09 0 .08 0 .08 0 .08 0 .08 0 .08 0 .09 0 .08 0 .08 0 .08 0 .08 0 .09 0 .08 0 .08 0 .08 0 .08 0 .09 0 .08 0 .08 0 .08 0 .08 0 .08 0 .09 0 .08 0 .08 0 .08 0 .08 0 .09 0 .08 0 .08 0 .08 0 .08 0 .08 0 .09 0 .08 0 .08 0 .08 0 .08 0 .09 0 .08 0 .08 0 .08 0 .08 0 .08 0 .09 0 .08 0 .08 0 .08 0 .08 0 .09 0 .08 0 .08 0 .08 0 .08 0 .08 0 .09 0 .08 0 .08 0 .08 0 .08 0 .09 0 .08 0 .08 0 .08 0 .08 0 .08 0 .09 0 .08 0 .08 0 .08 0 .08 0 .09 0 .08 0 .08 0 .08 0 .08 0 .08 0 .09 0 .08 0 .08 0 .08 0 .08 0 .09 0 .08 0 .08 0 .08 0 .08 0 .09 0 .08 0 .08 0 .08 0 .08 0 .08 0 .09 0 .08 0 .08 0 .08 0 .08 0 .09 0 .08 0 .08 0 .08 0 .08 0 .08 0 .09 0 .08 0 .08 0 .08 0 .08 0 .09 0 .08 0 .08 0 .08 0 .08 0 .08 0 .09 0 .08 0 .08 0 .08 0 .08 0 .09 0 .08 0 .08 0 .08 0 .08 0 .08 0 .09 0 .08 0 .08 0 .08 0 .08 0 .09 0 .08 0 .08 0 .08 0 .08 0 .08 0 .09 0 .08 0 .08 0 .08 0 .08 0 .09 0 .08 0 .08 0 .08 0 .08 0 .08 0 .09 0 .08 0 .08 0 .08 0 .08 0 .09 0 .08 0 .08 0 .08 0 .08 0 .09 0 .08 0 .08 0 .08 0 .08 0 .08 0 .09 0 .08 0 .08 0 .08 0 .08 0 .09 0 .08 0 .08 0 .08 0 .08 0 .08 0 .09 0 .08 0 .08 0 .08 0 .08 0 .09 0 .08 0 .08 0 .08 0 .08 0 .08 0 .09 0 .08 0 .08 0 .08 0 .08 0 .09 0 .08 0 .08 0 .08 0 .08 0 .08 0 .09 0 .08 0 .08 0 .08 0 .08 0 .09 0 .08 0 .08 0 .08 0 .08 0 .08 0 .09 0 .08 0 .08 0 .08 0 .08 0 .09 0 .08 0 .08 0 .08 0 .08 0 .08 0 .09 0 .08 0 .08 0 .08 0 .08 0 .09 0 .08 0 .08 0 .08 0 .08 0 .09 0 .08 0 .08 0 .08 0 .08 0 .08 0 .09 0 .08 0 .08 0 .08 0 .08 0 .09 0 .08 0 .08 0 .08 0 .08 0 .08 0 .09 0 .08 0 .08 0 .08 0 .08 0 .09 0 .08 0 .08 0 .08 0 .08 0 .08 0 .09 0 .08 0 .08 0 .08 0 .08 0 .09 0 .08 0 .08 0 .08 0 .08 0 .08 0 .09 0 .08 0 .08 0 .08 0 .08 0 .09 0 .08 0 .08 0 .08 0 .08 0 .08 0 .09 0 .08 0 .08 0 .08 0 .08 0 .09 0 .08 0 .08 0 .08 0 .08 0 .08 0 .09 0 .08 0 .08 0 .08 0 .08 0 .09 0 .08 0 .08 0 .08 0 .08 0 .09 0 .08 0 .08 0 .08 0 .08 0 .08 0 .09 0 .08 0 .08 0 .08 0 .08 0 .09 0 .08 0 .08 0 .08 0 .08 0 .08 0 .09 0 .08 0 .08 0 .08 0 .08 0 .09 0 .08 0 .08 0 .08 0 .08 0 .08 0 .09 0 .08 0 .08 0 .08 0 .08 0 .09 0 .08 0 .08 0 .08 0 .08 0 .08 0 .09 0 .08 0 .08 0 .08 0 .08 0 .09 0 .08 0 .08 0 .08 0 .08 0 .08 0 .09 0 .08 0 .08 0 .08 0 .08 0 .09 0 .08 0 .08 0 .08 0 .08 0 .08 0 .09 0 .08 0 .08 0 .08 0 .08 0 .09 0 .08 0 .08 0 .08 0 .08 0 .09 0 .08 0 .08 0 .08 0 .08 0 .08 0 .09 0 .08 0 .08 0 .08 0 .08 0 .09 0 .08 0 .08 0 .08 0 .08 0 .08 0 .09 0 .08 0 .08 0 .08 0 .08 0 .09 0 .08 0 .08 0 .08 0 .08 0 .08 0 .09 0 .08 0 .08 0 .08 0 .08 0 .09 0 .08 0 .08 0 .08 0 .08 0 .08 0 .09 0 .08 0 .08 0 .08 0 .08 0 .09 0 .08 0 .08 0 .08 0 .08 0 .08 0 .09 0 .08 0 .08 0 .08 0 .08 0 .09 0 .08 0 .08 0 .08 0 .08 0 .09 0 .08 0 .08 0 .08 0 .08 0 .08 0 .09 0 .08 0 .08 0 .08 0 .08 0 .09 0 .08 0 .08 0 .08 0 .08 0 .08 0 .09 0 .08 0 .08 0 .08 0 .08 0 .09 0 .08 0 .08 0 .08 0 .08 0 .08 0 .09 0 .08 0 .08 0 .08 0 .08 0 .09 0 .08 0 .08 0 .08 0 .08 0 .08 0 .09 0 .08 0 .08 0 .08 0 .08 0 .09 0 .08 0 .08 0 .08 0 .08 0 .08 0 .09 0 .08 0 .08 0 .08 0 .08 0 .09 0 .08 0 .08 0 .08 0 .08 0 .08 0 .09 0 .08 0 .08 0 .08 0 .08 0 .09 0 .08 0 .08 0 .08 0 .08 0 .09 0 .08 0 .08 0 .08 0 .08 0 .08 0 .09 0 .08 0 .08 0 .08 0 .08 0 .09 0 .08 0 .08 0 .08 0 .08 0 .08 0 .09 0 .08 0 .08 0 .08 0 .08 0 .09 0 .08 0 .08 0 .08 0 .08 0 .08 0 .09 0 .08 0 .08 0 .08 0 .08 0 .09 0 .08 0 .08 0 .08 0 .08 0 .08 0 .09 0 .08 0 .08 0 .08 0 .08 0 .09 0 .08 0 .08 0 .08 0 .08 0 .08 0 .09 0 .08 0 .08 0 .08 0 .08 0 .09 0 .08 0 .08 0 .08 0 .08 0 .08 0 .09 0 .08 0 .08 0 .08 0 .08 0 .09 0 .08 0 .08 0 .08 0 .08 0 .09 0 .08 0 .08 0 .08 0 .08 0 .08 0 .09 0 .08 0 .08 0 .08 0 .08 0 .09 0 .08 0 .08 0 .08 0 .08 0 .08 0 .09 0 .08 0 .08 0 .08 0 .08 0 .09 0 .08 0 .08 0 .08 0 .08 0 .08 0 .09 0 .08 0 .08 0 .08 0 .08 0 .09 0 .08 0 .08 0 .08 0 .08 0 .08 0 .09 0 .08 0 .08 0 .08 0 .08 0 .09 0 .08 0 .08 0 .08 0 .08 0 .08 0 .09 0 .08 0 .08 0 .08 0 .08 0 .09 0 .08 0 .08 0 .08 0 .08 0 .08 0 .09 0 .08 0 .08 0 .08 0 .08 0 .09 0 .08 0 .08 0 .08 0 .08 0 .09 0 .08 0 .08 0 .08 0 .08 0 .08 0 .09 0 .08 0 .08 0 .08 0 .08 0 .09 0 .08 0 .08 0 .08 0 .08 0 .08 0 .09 0 .08 0 .08 0 .08 0 .08 0 .09 0 .08 0 .08 0 .08 0 .08 0 .08 0 .09 0 .08 0 .08 0 .08 0 .08 0 .09 0 .08 0 .08 0 .08 0 .08 0 .08 0 .09 0 .08 0 .08 0 .08 0 .08 0 .09 0 .08 0 .08 0 .08 0 .08 0 .08 0 .09 0 .08 0 .08 0 .08 0 .08 0 .09 0 .08 0 .08 0 .08 0 .08 0 .08 0 .09 0 .08 0 .08 0 .08 0 .08 0 .09 0 .08 0 .08 0 .08 0 .08 0 .09 0 .08 0 .08 0 .08 0 .08 0 .08 0 .09 0 .08 0 .08 0 .08 0 .08 0 .09 0 .08 0 .08 0 .08 0 .08 0 .08 0 .09 0 .08 0 .08 0 .08 0 .08 0 .09 0 .08 0 .08 0 .08 0 .08 0 .08 0 .09 0 .08 0 .08 0 .08 0 .08 0 .09 0 .08 0 .08 0 .08 0 .08 0 .08 0 .09 0 .08 0 .08 0 .08 0 .08 0 .09 0 .08 0 .08 0 .08 0 .08 0 .08 0 .09 0 .08 0 .08 0 .08 0 .08 0 .09 0 .08 0 .08 0 .08 0 .08 0 .09 0 .08 0 .08 0 .08 0 .08 0 .08 0 .09 0 .08 0 .08 0 .08 0 .08 0 .09 0 .08 0 .08 0 .08 0 .08 0 .08 0 .09 0 .08 0 .08 0 .08 0 .08 0 .09 0 .08 0 .08 0 .08 0 .08 0 .08 0 .09 0 .08 0 .08 0 .08 0 .08 0 .09 0 .08 0 .08 0 .08 0 .08 0 .08 0 .09 0 .08 0 .08 0 .08 0 .08 0 .09 0 .08 0 .08 0 .08 0 .08 0 .08 0 .09 0 .08 0 .08 0 .08 0 .08 0 .09 0 .08 0 .08 0 .08 0 .08 0 .08 0 .09 0 .08 0 .08 0 .08 0 .08 0 .09 0 .08 0 .08 0 .08 0 .08 0 .09 0 .08 0 .08 0 .08 0 .08 0 .08 0 .09 0 .08 0 .08 0 .08 0 .08 0 .09 0 .08 0 .08 0 .08 0 .08 0 .08 0 .09 0 .08 0 .08 0 .08 0 .08 0 .09 0 .08 0 .08 0 .08 0 .08 0 .08 0 .09 0 .08 0 .08 0 .08 0 .08 0 .09 0 .08 0 .08 0 .08 0 .08 0 .08 0 .09 0 .08 0 .08 0 .08 0 .08 0 .09 0 .08 0 .08 0 .08 0 .08 0 .08 0 .09 0 .08 0 .08 0 .08 0 .08 0 .09 0 .08 0 .08 0 .08 0 .08 0 .08 0 .09 0 .08 0 .08 0 .08 0 .08 0 .09 0 .08 0 .08 0 .08 0 .08 0 .09 0 .08 0 .08 0 .08 0 .08 0 .08 0 .09 0 .08 0 .08 0 .08 0 .08 0 .09 0 .08 0 .08 0 .08 0 .08 0 .08 0 .09 0 .08 0 .08 0 .08 0 .08 0 .09 0 .08 0 .08 0 .08 0 .08 0 .08 0 .09 0 .08 0 .08 0 .08 0 .08 0 .09 0 .08 0 .08 0 .08 0 .08 0 .08 0 .09 0 .08 0 .08 0 .08 0 .08 0 .09 0 .08 0 .08 0 .08 0 .08 0 .08 0 .09 0 .08 0 .08 0 .08 0 .08 0 .09 0 .08 0 .08 0 .08 0 .08 0 .08 0 .09 0 .08 0 .08 0 .08 0 .08 0 .09 0 .08 0 .08 0 .08 0 .08 0 .09 0 .08 0 .08 0 .08 0 .08 0 .08 0 .09 0 .08 0 .08 0 .08 0 .08 0 .09 0 .08 0 .08 0 .08 0 .08 0 .08 0 .09 0 .08 0 .08 0 .08 0 .08 0 .09 0 .08 0 .08 0 .08 0 .08 0 .08 0 .09 0 .08 0 .08 0 .08 0 .08 0 .09 0 .08 0 .08 0 .08 0 .08 0 .08 0 .09 0 .08 0 .08 0 .08 0 .08 0 .09 0 .08 0 .08 0 .08 0 .08 0 .08 0 .09 0 .08 0 .08 0 .08 0 .08 0 .09 0 .08 0 .08 0 .08 0 .08 0 .08 0 .09 0 .08 0 .08 0 .08 0 .08 0 .09 0 .08 0 .08 0 .08 0 .08 0 .09 0 .08 0 .08 0 .08 0 .08 0 .08 0 .09 0 .08 0 .08 0 .08 0 .08 0 .09 0 .08 0 .08 0 .08 0 .08 0 .08 0 .09 0 .08 0 .08 0 .08 0 .08 0 .09 0 .08 0 .08 0 .08 0 .08 0 .08 0 .09 0 .08 0 .08 0 .08 0 .08 0 .09 0 .08 0 .08 0 .08 0 .08 0 .08 0 .09 0 .08 0 .08 0 .08 0 .08 0 .09 0 .08 0 .08 0 .08 0 .08 0 .08 0 .09 0 .08 0 .08 0 .08 0 .08 0 .09 0 .08 0 .08 0 .08 0 .08 0 .09 0 .08 0 .08 0 .08 0 .08 0 .08 0 .09 0 .08 0 .08 0 .08 0 .08 0 .09 0 .08 0 .08 0 .08 0 .08 0 .08 0 .09 0 .08 0 .08 0 .08 0 .08 0 .09 0 .08 0 .08 0 .08 0 .08 0 .08 0 .09 0 .08 0 .08 0 .08 0 .08 0 .09 0 .08 0 .08 0 .08 0 .08 0 .08 0 .09 0 .08 0 .08 0 .08 0 .08 0 .09 0 .08 0 .08 0 .08 0 .08 0 .08 0 .09 0 .08 0 .08 0 .08 0 .08 0 .09 0 .08 0 .08 0 .08 0 .08 0 .08 0 .09 0 .08 0 .08 0 .08 0 .08 0 .09 0 .08 0 .08 0 .08 0 .08 0 .09 0 .08 0 .08 0 .08 0 .08 0 .08 0 .09 0 .08 0 .08 0 .08 0 .08 0 .09 0 .08 0 .08 0 .08 0 .08 0 .08 0 .09 0 .08 0 .08 0 .08 0 .08 0 .09 0 .08 0 .08 0 .08 0 .08 0 .08 0 .09 0 .08 0 .08 0 .08 0 .08 0 .09 0 .08 0 .08 0 .08 0 .08 0 .08 0 .09 0 .08 0 .08 0 .08 0 .08 0 .09 0 .08 0 .08 0 .08 0 .08 0 .08 0 .09 0 .08 0 .08 0 .08 0 .08 0 .09 0 .08 0 .08 0 .08 0 .08 0 .08 0 .09 0 .08 0 .08 0 .08 0 .08 0 .09 0 .08 0 .08 0 .08 0 .08 0 .09 0 .08 0 .08 0 .08 0 .08 0 .08 0 .09 0 .08 0 .08 0 .08 0 .08 0 .09 0 .08 0 .08 0 .08 0 .08 0 .08 0 .09 0 .08 0 .08 0 .08 0 .08 0 .09 0 .08 0 .08 0 .08 0 .08 0 .08 0 .09 0 .08 0 .08 0 .08 0 .08 0 .09 0 .08 0 .08 0 .08 0 .08 0 .08 0 .09 0 .08 0 .08 0 .08 0 .08 0 .09 0 .08 0 .08 0 .08 0 .08 0 .08 0 .09 0 .08 0 .08 0 .08 0 .08 0 .09 0 .08 0 .08 0 .08 0 .08 0 .08 0 .09 0 .08 0 .08 0 .08 0 .08 0 .09 0 .08 0 .08 0 .08 0 .08 0 .09 0 .08 0 .08 0 .08 0 .08 0 .08 0 .09 0 .08 0 .08 0 .08 0 .08 0 .09 0 .08 0 .08 0 .08 0 .08 0 .08 0 .09 0 .08 0 .08 0 .08 0 .08 0 .09 0 .08 0 .08 0 .08 0 .08 0 .08 0 .09 0 .08 0 .08 0 .08 0 .08 0 .09 0 .08 0 .08 0 .08 0 .08 0 .08 0 .09 0 .08 0 .08 0 .08 0 .08 0 .09 0 .08 0 .08 0 .08 0 .08 0 .08 0 .09 0 .08 0 .08 0 .08 0 .08 0 .09 0 .08 0 .08 0 .08 0 .08 0 .08 0 .09 0 .08 0 .08 0 .08 0 .08 0 .09 0 .08 0 .08 0 .08 0 .08 0 .09 0 .08 0 .08 0 .08 0 .08 0 .08 0 .09 0 .08 0 .08 0 .08 0 .08 0 .09 0 .08 0 .08 0 .08 0 .08 0 .08 0 .09 0 .08 0 .08 0 .08 0 .08 0 .09 0 .08 0 .08 0 .08 0 .08 0 .08 0 .09 0 .08 0 .08 0 .08 0 .08 0 .09 0 .08 0 .08 0 .08 0 .08 0 .08 0 .09 0 .08 0 .08 0 .08 0 .08 0 .09 0 .08 0 .08 0 .08 0 .08 0 .08 0 .09 0 .08 0 .08 0 .08 0 .08 0 .09 0 .08 0 .08 0 .08 0 .08 0 .09 0 .08 0 .08 0 .08 0 .08 0 .08 0 .09 0 .08 0 .08 0 .08 0 .08 0 .09 0 .08 0 .08 0 .08 0 .08 0 .08 0 .09 0 .08 0 .08 0 .08 0 .08 0 .09 0 .08 0 .08 0 .08 0 .08 0 .08 0 .09 0 .08 0 .08 0 .08 0 .08 0 .09 0 .08 0 .08 0 .08 0 .08 0 .08 0 .09 0 .08 0 .08 0 .08 0 .08 0 .09 0 .08 0 .08 0 .08 0 .08 0 .08 0 .09 0 .08 0 .08 0 .08 0 .08 0 .09 0 .08 0 .08 0 .08 0 .08 0 .08 0 .09 0 .08 0 .08 0 .08 0 .08 0 .09 0 .08 0 .08 0 .08 0 .08 0 .09 0 .08 0 .08 0 .08 0 .08 0 .08 0 .09 0 .08 0 .08 0 .08 0 .08 0 .09 0 .08 0 .08 0 .08 0 .08 0 .08 0 .09 0 .08 0 .08 0 .08 0 .08 0 .09 0 .08 0 .08 0 .08 0 .08 0 .08 0 .09 0 .08 0 .08 0 .08 0 .08 0 .09 0 .08 0 .08 0 .08 0 .08 0 .08 0 .09 0 .08 0 .08 0 .08 0 .08 0 .09 0 .08 0 .08 0 .08 0 .08 0 .08 0 .09 0 .08 0 .08 0 .08 0 .08 0 .09 0 .08 0 .08 0 .08 0 .08 0 .08 0 .09 0 .08 0 .08 0 .08 0 .08 0 .09 0 .08 0 .08 0 .08 0 .08 0 .09 0 .08 0 .08 0 .08 0 .08 0 .08 0 .09 0 .08 0 .08 0 .08 0 .08 0 .09 0 .08 0 .08 0 .08 0 .08 0 .08 0 .09 0 .08 0 .08 0 .08 0 .08 0 .09 0 .08 0 .08 0 .08 0 .08 0 .08 0 .09 0 .08 0 .08 0 .08 0 .08 0 .09 0 .08 0 .08 0 .08 0 .08 0 .08 0 .09 0 .08 0 .08 0 .08 0 .08 0 .09 0 .08 0 .08 0 .08 0 .08 0 .08 0 .09 0 .08 0 .08 0 .08 0 .08 0 .09 0 .08 0 .08 0 .08 0 .08 0 .08 0 .09 0 .08 0 .08 0 .08 0 .08 0 .09 0 .08 0 .08 0 .08 0 .08 0 .09 0 .08 0 .08 0 .08 0 .08 0 .08 0 .09 0 .08 0 .08 0 .08 0 .08 0 .09 0 .08 0 .08 0 .08 0 .08 0 .08 0 .09 0 .08 0 .08 0 .08 0 .08 0 .09 0 .08 0 .08 0 .08 0 .08 0 .08 0 .09 0 .08 0 .08 0 .08 0 .08 0 .09 0 .08 0 .08 0 .08 0 .08 0 .08 0 .09 0 .08 0 .08 0 .08 0 .08 0 .09 0 .08 0 .08 0 .08 0 .08 0 .08 0 .09 0 .08 0 .08 0 .08 0 .08 0 .09 0 .08 0 .08 0 .08 0 .08 0 .08 0 .09 0 .08 0 .08 0 .08 0 .08 0 .09 0 .08 0 .08 0 .08 0 .08 0 .09 0 .08 0 .08 0 .08 0 .08 0 .08 0 .09 0 .08 0 .08 0 .08 0 .08 0 .09 0 .08 0 .08 0 .08 0 .08 0 .08 0 .09 0 .08 0 .08 0 .08 0 .08 0 .09 0 .08 0 .08 0 .08 0 .08 0 .08 0 .09 0 .08 0 .08 0 .08 0 .08 0 .09 0 .08 0 .08 0 .08 0 .08 0 .08 0 .09 0 .08 0 .08 0 .08 0 .08 0 .09 0 .08 0 .08 0 .08 0 .08 0 .08 0 .09 0 .08 0 .08 0 .08 0 .08 0 .09 0 .08 0 .08 0 .08 0 .08 0 .09 0 .08 0 .08 0 .08 0 .08 0 .08 0 .09 0 .08 0 .08 0 .08 0 .08 0 .09 0 .08 0 .08 0 .08 0 .08 0 .08 0 .09 0 .08 0 .08 0 .08 0 .08 0 .09 0 .08 0 .08 0 .08 0 .08 0 .08 0 .09 0 .08 0 .08 0 .08 0 .08 0 .09 0 .08 0 .08 0 .08 0 .08 0 .08 0 .09 0 .08 0 .08 0 .08 0 .08 0 .09 0 .08 0 .08 0 .08 0 .08 0 .08 0 .09 0 .08 0 .08 0 .08 0 .08 0 .09 0 .08 0 .08 0 .08 0 .08 0 .08 0 .09 0 .08 0 .08 0 .08 0 .08 0 .09 0 .08 0 .08 0 .08 0 .08 0 .09 0 .08 0 .08 0 .08 0 .08 0 .08 0 .09 0 .08 0 .08 0 .08 0 .08 0 .09 0 .08 0 .08 0 .08 0 .08 0 .08 0 .09 0 .08 0 .08 0 .08 0 .08 0 .09 0 .08 0 .08 0 .08 0 .08 0 .08 0 .09 0 .08 0 .08 0 .08 0 .08 0 .09 0 .08 0 .08 0 .08 0 .08 0 .08 0 .09 0 .08 0 .08 0 .08 0 .08 0 .09 0 .08 0 .08 0 .08 0 .08 0 .08 0 .09 0 .08 0 .08 0 .08 0 .08 0 .09 0 .08 0 .08 0 .08 0 .08 0 .08 0 .09 0 .08 0 .08 0 .08 0 .08 0 .09 0 .08 0 .08 0 .08 0 .08 0 .09 0 .08 0 .08 0 .08 0 .08 0 .08 0 .09 0 .08 0 .08 0 .08 0 .08 0 .09 0 .08 0 .08 0 .08 0 .08 0 .08 0 .09 0 .08 0 .08 0 .08 0 .08 0 .09 0 .08 0 .08 0 .08 0 .08 0 .08 0 .09 0 .08 0 .08 0 .08 0 .08 0 .09 0 .08 0 .08 0 .08 0 .08 0 .08 0 .09 0 .08 0 .08 0 .08 0 .08 0 .09 0 .08 0 .08 0 .08 0 .08 0 .08 0 .09 0 .08 0 .08 0 .08 0 .08 0 .09 0 .08 0 .08 0 .08 0 .08 0 .08 0 .09 0 .08 0 .08 0 .08 0 .08 0 .09 0 .08 0 .08 0 .08 0 .08 0 .09 0 .08 0 .08 0 .08 0 .08 0 .08 0 .09 0 .08 0 .08 0 .08 0 .08 0 .09 0 .08 0 .08 0 .08 0 .08 0 .08 0 .09 0 .08 0 .08 0 .08 0 .08 0 .09 0 .08 0 .08 0 .08 0 .08 0 .08 0 .09 0 .08 0 .08 0 .08 0 .08 0 .09 0 .08 0 .08 0 .08 0 .08 0 .08 0 .09 0 .08 0 .08 0 .08 0 .08 0 .09 0 .08 0 .08 0 .08 0 .08 0 .08 0 .09 0 .08 0 .08 0 .08 0 .08 0 .09 0 .08 0 .08 0 .08 0 .08 0 .08 0 .09 0 .08 0 .08 0 .08 0 .08 0 .09 0 .08 0 .08 0 .08 0 .08 0 .09 0 .08 0 .08 0 .08 0 .08 0 .08 0 .09 0 .08 0 .08 0 .08 0 .08 0 .09 0 .08 0 .08 0 .08 0 .08 0 .08 0 .09 0 .08 0 .08 0 .08 0 .08 0 .09 0 .08 0 .08 0 .08 0 .08 0 .08 0 .09 0 .08 0 .08 0 .08 0 .08 0 .09 0 .08 0 .08 0 .08 0 .08 0 .08 0 .09 0 .08 0 .08 0 .08 0 .08 0 .09 0 .08 0 .08 0 .08 0 .08 0 .08 0 .09 0 .08 0 .08 0 .08 0 .08 0 .09 0 .08 0 .08 0 .08 0 .08 0 .09 0 .08 0 .08 0 .08 0 .08 0 .08 0 .09 0 .08 0 .08 0 .08 0 .08 0 .09 0 .08 0 .08 0 .08 0 .08 0 .08 0 .09 0 .08 0 .08 0 .08 0 .08 0 .09 0 .08 0 .08 0 .08 0 .08 0 .08 0 .09 0 .08 0 .08 0 .08 0 .08 0 .09 0 .08 0 .08 0 .08 0 .08 0 .08 0 .09 0 .08 0 .08 0 .08 0 .08 0 .09 0 .08 0 .08 0 .08 0 .08 0 .08 0 .09 0 .08 0 .08 0 .08 0 .08 0 .09 0 .08 0 .08 0 .08 0 .08 0 .08 0 .09 0 .08 0 .08 0 .08 0 .08 0 .09 0 .08 0 .08 0 .08 0 .08 0 .09 0 .08 0 .08 0 .08 0 .08 0 .08 0 .09 0 .08 0 .08 0 .08 0 .08 0 .09 0 .08 0 .08 0 .08 0 .08 0 .08 0 .09 0 .08 0 .08 0 .08 0 .08 0 .09 0 .08 0 .08 0 .08 0 .08 0 .08 0 .09 0 .08 0 .08 0 .08 0 .08 0 .09 0 .08 0 .08 0 .08 0 .08 0 .08 0 .09 0 .08 0 .08 0 .08 0 .08 0 .09 0 .08 0 .08 0 .08 0 .08 0 .08 0 .09 0 .08 0 .08 0 .08 0 .08 0 .09 0 .08 0 .08 0 .08 0 .08 0 .08 0 .09 0 .08 0 .08 0 .08 0 .08 0 .09 0 .08 0 .08 0 .08 0 .08 0 .09 0 .08 0 .08 0 .08 0 .08 0 .08 0 .09 0 .08 0 .08 0 .08 0 .08 0 .09 0 .08 0 .08 0 .08 0 .08 0 .08 0 .09 0 .08 0 .08 0 .08 0 .08 0 .09 0 .08 0 .08 0 .08 0 .08 0 .08 0 .09 0 .08 0 .08 0 .08 0 .08 0 .09 0 .08 0 .08 0 .08 0 .08 0 .08 0 .09 0 .08 0 .08 0 .08 0 .08 0 .09 0 .08 0 .08 0 .08 0 .08 0 .08 0 .09 0 .08 0 .08 0 .08 0 .08 0 .09 0 .08 0 .08 0 .08 0 .08 0 .08 0 .09 0 .08 0 .08 0 .08 0 .08 0 .09 0 .08 0 .08 0 .08 0 .08 0 .09 0 .08 0 .08 0 .08 0 .08 0 .08 0 .09 0 .08 0 .08 0 .08 0 .08 0 .09 0 .08 0 .08 0 .08 0 .08 0 .08 0 .09 0 .08 0 .08 0 .08 0 .08 0 .09 0 .08 0 .08 0 .08 0 .08 0 .08 0 .09 0" style="fill: none; stroke: #1f77b4; stroke-width: 1.5; stroke-linecap: square"/>
   </g>
  </g>
 </g>
</g>
<path d="M125.5 120.5H900.5V237.5H125.5ZM202.5 237.5v5M285.5 237.5v5M368.5 237.5v5M451.5 237.5v5M534.5 237.5v5M617.5 237.5v5M700.5 237.5v5M783.5 237.5v5M866.5 237.5v5M120.5 147.5h5M120.5 183.5h5M120.5 219.5h5M125.5 261.5H900.5V378.5H125.5ZM202.5 378.5v5M285.5 378.5v5M368.5 378.5v5M451.5 378.5v5M534.5 378.5v5M617.5 378.5v5M700.5 378.5v5M783.5 378.5v5M866.5 378.5v5M120.5 291.5h5M120.5 325.5h5M120.5 360.5h5M125.5 401.5H900.5V519.5H125.5ZM202.5 519.5v5M285.5 519.5v5M368.5 519.5v5M451.5 519.5v5M534.5 519.5v5M617.5 519.5v5M700.5 519.5v5M783.5 519.5v5M866.5 519.5v5M120.5 407.5h5M120.5 464.5h5M125.5 542.5H900.5V659.5H125.5ZM202.5 659.5v5M285.5 659.5v5M368.5 659.5v5M451.5 659.5v5M534.5 659.5v5M617.5 659.5v5M700.5 659.5v5M783.5 659.5v5M866.5 659.5v5M120.5 554.5h5M120.5 586.5h5M120.5 618.5h5M120.5 651.5h5M125.5 683.5H900.5V800.5H125.5ZM202.5 800.5v5M285.5 800.5v5M368.5 800.5v5M451.5 800.5v5M534.5 800.5v5M617.5 800.5v5M700.5 800.5v5M783.5 800.5v5M866.5 800.5v5M120.5 688.5h5M120.5 741.5h5M120.5 795.5h5" fill="none" stroke="#000" stroke-width="1.111" stroke-linejoin="miter" stroke-linecap="butt"/>
</svg>
</body></html>
